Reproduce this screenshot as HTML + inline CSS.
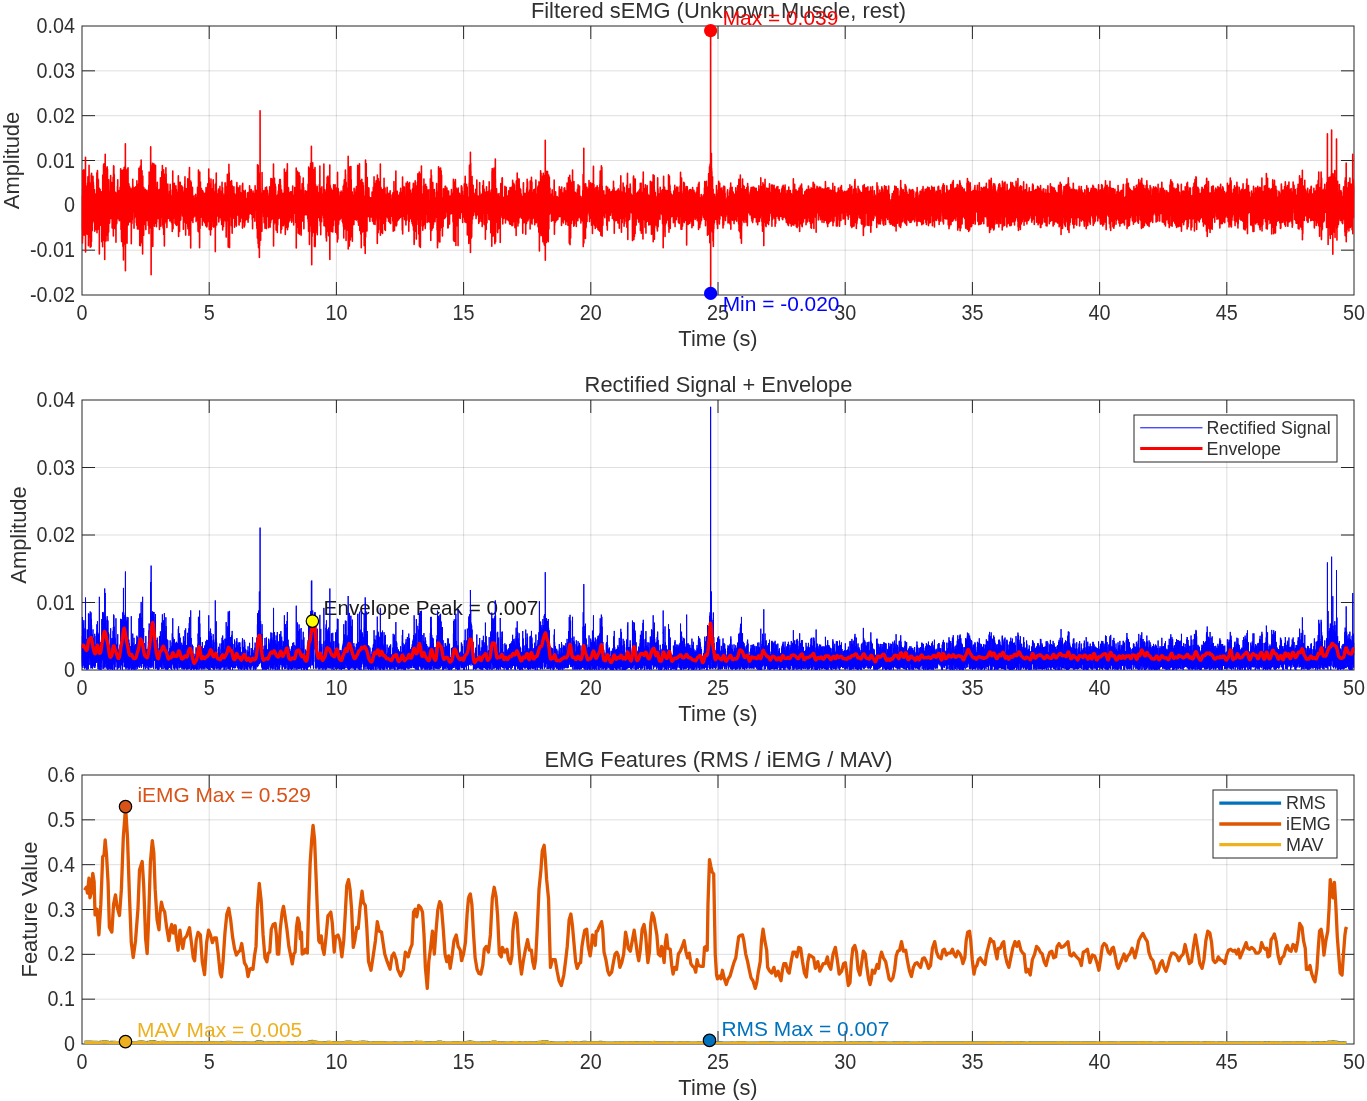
<!DOCTYPE html>
<html lang="en"><head><meta charset="utf-8"><title>sEMG analysis</title>
<style>html,body{margin:0;padding:0;background:#fff}svg{display:block}</style></head>
<body>
<svg width="1367" height="1101" viewBox="0 0 1367 1101" font-family="'Liberation Sans', sans-serif">
<rect width="1367" height="1101" fill="#fff"/>
<defs><clipPath id="c1"><rect x="81.5" y="26" width="1273" height="269"/></clipPath><clipPath id="c2"><rect x="81.5" y="400" width="1273" height="270"/></clipPath><clipPath id="c3"><rect x="81.5" y="775" width="1273" height="269"/></clipPath></defs>
<g id="ax1">
<path d="M209.2 26V295M336.4 26V295M463.6 26V295M590.8 26V295M718 26V295M845.2 26V295M972.4 26V295M1099.6 26V295M1226.8 26V295M82 250.17H1354M82 205.33H1354M82 160.5H1354M82 115.67H1354M82 70.83H1354" stroke="#262626" stroke-opacity="0.15" stroke-width="1" fill="none"/>
<path d="M209.2 295V282M209.2 26V39M336.4 295V282M336.4 26V39M463.6 295V282M463.6 26V39M590.8 295V282M590.8 26V39M718 295V282M718 26V39M845.2 295V282M845.2 26V39M972.4 295V282M972.4 26V39M1099.6 295V282M1099.6 26V39M1226.8 295V282M1226.8 26V39M82 250.17H95M1354 250.17H1341M82 205.33H95M1354 205.33H1341M82 160.5H95M1354 160.5H1341M82 115.67H95M1354 115.67H1341M82 70.83H95M1354 70.83H1341" stroke="#262626" stroke-width="1" fill="none"/>
<rect x="82" y="26" width="1272" height="269" fill="none" stroke="#262626" stroke-width="1"/>
</g>
<g id="ax2">
<path d="M209.2 400V670M336.4 400V670M463.6 400V670M590.8 400V670M718 400V670M845.2 400V670M972.4 400V670M1099.6 400V670M1226.8 400V670M82 602.5H1354M82 535H1354M82 467.5H1354" stroke="#262626" stroke-opacity="0.15" stroke-width="1" fill="none"/>
<path d="M209.2 670V657M209.2 400V413M336.4 670V657M336.4 400V413M463.6 670V657M463.6 400V413M590.8 670V657M590.8 400V413M718 670V657M718 400V413M845.2 670V657M845.2 400V413M972.4 670V657M972.4 400V413M1099.6 670V657M1099.6 400V413M1226.8 670V657M1226.8 400V413M82 602.5H95M1354 602.5H1341M82 535H95M1354 535H1341M82 467.5H95M1354 467.5H1341" stroke="#262626" stroke-width="1" fill="none"/>
<rect x="82" y="400" width="1272" height="270" fill="none" stroke="#262626" stroke-width="1"/>
</g>
<g id="ax3">
<path d="M209.2 775V1044M336.4 775V1044M463.6 775V1044M590.8 775V1044M718 775V1044M845.2 775V1044M972.4 775V1044M1099.6 775V1044M1226.8 775V1044M82 999.17H1354M82 954.33H1354M82 909.5H1354M82 864.67H1354M82 819.83H1354" stroke="#262626" stroke-opacity="0.15" stroke-width="1" fill="none"/>
<path d="M209.2 1044V1031M209.2 775V788M336.4 1044V1031M336.4 775V788M463.6 1044V1031M463.6 775V788M590.8 1044V1031M590.8 775V788M718 1044V1031M718 775V788M845.2 1044V1031M845.2 775V788M972.4 1044V1031M972.4 775V788M1099.6 1044V1031M1099.6 775V788M1226.8 1044V1031M1226.8 775V788M82 999.17H95M1354 999.17H1341M82 954.33H95M1354 954.33H1341M82 909.5H95M1354 909.5H1341M82 864.67H95M1354 864.67H1341M82 819.83H95M1354 819.83H1341" stroke="#262626" stroke-width="1" fill="none"/>
<rect x="82" y="775" width="1272" height="269" fill="none" stroke="#262626" stroke-width="1"/>
</g>
<g clip-path="url(#c1)"><path transform="translate(82 0) scale(0.063600 0.1)" vector-effect="non-scaling-stroke" d="M0 2297l1-336 1 118 1 150 1-121 1 133 1 190 1-337 1-207 1 504 1-571 1-115 1 385 1-127 1 76 1 82 1-212 1 288 1-113 1-308 1-49 1 251 1-35 1 279 1 20 1-252 1 245 1-36 1-415 1-86 1 34 1 99 1 299 1 203 1 18 1-247 1-211 1 193 1 194 1-159 1-139 1 62 1-172 1 84 1 113 1 134 1-66 1-288 1 71 1 117 1-65 1-10 1-40 1-9 1-2 1-339 1 948 1-288 1-89 1 53 1-21 1-175 1 70 1 2 1 165 1 11 1-216 1 114 1-88 1 115 1 103 1-22 1-109 1-170 1 193 1 2 1-310 1 112 1 210 1-116 1-14 1 107 1 184 1-251 1-27 1 47 1 106 1-269 1-117 1 8 1 136 1 5 1-136 1-78 1 105 1 159 1 97 1 97 1 104 1-227 1-43 1 398 1-132 1-460 1 122 1 390 1-115 1-342 1 9 1 182 1-345 1-113 1 219 1 48 1 1 1-6 1-95 1 14 1 133 1 180 1 93 1-85 1-313 1 10 1 161 1-13 1 18 1-67 1 252 1 269 1-160 1-44 1-361 1 22 1 181 1 196 1-160 1-15 1-190 1-106 1 266 1-37 1 401 1-4 1-576 1-134 1 184 1 104 1 276 1 101 1-247 1-436 1 497 1-74 1-252 1-39 1 236 1 122 1-126 1 106 1 105 1-14 1-145 1-145 1 18 1 21 1 106 1 81 1-299 1 20 1 123 1-155 1-122 1-34 1 116 1 145 1-7 1-15 1-179 1 25 1 63 1 80 1-139 1 357 1-40 1-226 1 191 1-229 1 14 1 163 1 102 1-158 1-58 1 140 1-40 1-107 1-64 1 64 1 173 1 38 1 140 1-86 1-202 1-62 1 76 1 52 1-153 1 5 1 9 1 26 1 114 1-140 1 133 1 151 1-63 1-11 1 20 1 5 1-230 1 1 1 41 1 235 1 63 1-325 1 165 1-154 1 125 1-1 1 54 1-53 1 91 1 12 1-419 1 144 1-208 1 157 1 444 1-159 1-58 1-277 1-47 1 18 1 49 1-148 1 30 1 158 1 245 1 156 1-178 1-245 1-85 1 312 1-39 1-99 1 254 1-139 1 202 1-106 1-375 1 207 1 114 1 114 1-25 1-178 1 70 1 7 1-25 1 14 1-39 1-45 1-68 1-5 1 120 1 481 1-655 1 237 1-43 1-121 1-16 1 23 1 168 1 1 1 63 1-35 1-256 1-9 1 50 1 108 1 131 1 31 1-104 1 26 1 41 1-206 1 183 1 97 1-79 1-81 1-21 1 123 1-73 1-67 1-42 1 165 1-64 1-113 1 125 1 8 1 1 1-217 1 414 1 85 1-66 1-83 1-72 1-15 1-196 1 248 1 85 1-135 1 134 1-187 1-190 1 213 1 314 1-528 1-188 1 143 1 86 1 65 1-184 1 83 1 256 1-230 1-29 1 262 1 137 1-412 1-155 1-124 1 265 1 369 1-222 1-324 1 56 1 92 1-247 1 325 1 443 1-38 1-141 1-222 1-272 1 78 1-73 1 298 1-306 1 865 1-700 1 219 1-3 1-118 1-63 1-100 1 167 1-455 1 470 1 252 1 82 1 43 1-164 1-546 1 8 1 439 1 131 1-297 1 73 1 344 1 33 1-84 1-15 1-268 1-71 1 311 1-13 1-4 1 54 1 33 1-428 1 10 1 47 1-135 1 183 1-28 1-106 1 53 1-280 1 101 1 294 1-108 1-265 1 7 1 335 1 219 1 24 1-17 1-203 1-225 1 576 1-101 1-83 1-173 1-214 1 254 1 102 1 16 1-132 1 143 1 102 1-112 1-241 1-170 1 106 1 279 1-60 1 19 1-81 1 93 1 3 1-81 1-74 1 27 1-92 1 21 1 273 1-159 1-47 1 129 1-242 1 154 1 56 1 6 1-178 1 51 1 50 1 136 1-199 1 87 1-52 1-148 1-38 1-81 1 308 1 27 1-79 1-9 1-75 1 55 1 132 1-8 1-182 1 152 1 37 1 30 1-145 1 151 1 38 1-101 1-38 1-206 1-17 1 236 1-133 1 115 1 236 1-5 1-158 1-128 1 253 1-81 1-107 1-66 1 60 1-94 1-68 1 302 1-259 1-45 1 33 1-143 1 318 1 85 1 55 1 128 1-243 1-170 1-202 1-88 1 248 1 308 1-471 1-79 1 194 1 365 1 3 1-177 1-208 1-97 1 114 1 194 1-1 1 45 1-22 1-11 1-75 1 291 1 7 1-152 1 117 1-53 1 63 1 18 1-97 1-51 1 39 1-236 1-11 1 58 1 4 1 152 1 90 1-214 1 21 1 256 1 134 1-199 1-67 1-24 1 6 1 9 1-39 1 99 1-70 1-182 1-22 1 241 1 61 1-18 1-72 1-151 1-9 1 187 1-34 1-160 1 72 1-107 1 74 1-22 1-132 1 179 1 96 1-119 1-222 1 242 1 56 1-103 1 85 1 85 1-8 1-44 1 76 1-205 1 85 1 81 1-24 1-12 1-47 1 50 1 3 1-194 1-16 1 119 1-29 1 72 1 0 1 78 1 59 1-25 1-195 1-27 1 20 1 24 1 2 1-24 1-52 1 47 1 176 1 48 1-225 1-104 1 59 1 249 1-194 1-103 1 154 1 20 1 51 1-270 1-150 1 375 1 134 1-174 1-182 1 453 1-163 1-366 1 191 1 133 1-209 1 16 1 346 1 138 1 7 1 29 1-190 1-65 1-53 1-173 1-230 1 117 1 531 1-341 1-78 1-87 1 158 1 46 1-3 1 37 1-315 1 262 1 91 1-152 1 157 1 332 1-125 1 133 1-44 1 5 1-428 1-297 1 50 1-59 1 904 1-830 1 160 1-133 1 667 1-57 1-85 1-172 1 297 1-223 1-547 1 9 1 389 1-376 1 267 1-58 1 20 1 149 1 23 1-9 1-321 1-75 1 0 1-13 1 61 1 82 1-164 1 226 1 415 1-141 1-723 1 1270 1-598 1 196 1-26 1-297 1 38 1 52 1-248 1 233 1 343 1-184 1-242 1 423 1-243 1-112 1 143 1 76 1-79 1-286 1-66 1-7 1 212 1-214 1-118 1 223 1 506 1-145 1-595 1 166 1 319 1-250 1 75 1 35 1-157 1 356 1-41 1-360 1 152 1-12 1 7 1-122 1-183 1 375 1 198 1-243 1 119 1 97 1-54 1-46 1 52 1-112 1-177 1-28 1 19 1-40 1 316 1 30 1-146 1-65 1 249 1-275 1 80 1 59 1-140 1-81 1 194 1 107 1-117 1-87 1-46 1 87 1 129 1 85 1-247 1 114 1-18 1-79 1-21 1-36 1-45 1 91 1 38 1 207 1-50 1-20 1-7 1-230 1 25 1-47 1 99 1 24 1 63 1 360 1-99 1-183 1-103 1-13 1 29 1-124 1-19 1 130 1-86 1 267 1-27 1-122 1-159 1 101 1 170 1-85 1-237 1 81 1 122 1 6 1-26 1-159 1-108 1 86 1 153 1-174 1 57 1 121 1 53 1 26 1-71 1 26 1-57 1-15 1-47 1 106 1 53 1-77 1-15 1 14 1-130 1 189 1 192 1-187 1-67 1-108 1 45 1 217 1-287 1-17 1 194 1 87 1-120 1 49 1-36 1-118 1 179 1 54 1-143 1-117 1-7 1 142 1-81 1 53 1 65 1-48 1 81 1-208 1-37 1 115 1 107 1 74 1-89 1-89 1 64 1 38 1-73 1 12 1 197 1-130 1-100 1-13 1 97 1 156 1 18 1-158 1-222 1-64 1 105 1 239 1-5 1-115 1-41 1 25 1-94 1 140 1 227 1-33 1-20 1-372 1 44 1 332 1-158 1-223 1 102 1 54 1-140 1-5 1 247 1-92 1-174 1 63 1-45 1-28 1 188 1 81 1-170 1 147 1-178 1-225 1 608 1-39 1-76 1 75 1-156 1-28 1-107 1-44 1 15 1 259 1 63 1-525 1 726 1-464 1-66 1-140 1 562 1 92 1-560 1-35 1-180 1 488 1 306 1-37 1-413 1-257 1 237 1 188 1 19 1-115 1 249 1-79 1-136 1 164 1-677 1 162 1 195 1 81 1-272 1-28 1 191 1-113 1 404 1 205 1-142 1-140 1-44 1-351 1-41 1 167 1 131 1 201 1-108 1 169 1-328 1 47 1 20 1 532 1-579 1-98 1-102 1 118 1 414 1 4 1-11 1-364 1 86 1 201 1-176 1-68 1 5 1 114 1 250 1-8 1 28 1-295 1-183 1 160 1-19 1-46 1-7 1 13 1-13 1 48 1 158 1 77 1-166 1-116 1 209 1-35 1-38 1 26 1 111 1-117 1-102 1-32 1-66 1-12 1-15 1 67 1 64 1 63 1-45 1 5 1 103 1-135 1-79 1 299 1 61 1-120 1 9 1-171 1-37 1 22 1-52 1-42 1 99 1 5 1-15 1-28 1 0 1-40 1 12 1 129 1 0 1 87 1-68 1-182 1 119 1 181 1-55 1-41 1-24 1 23 1-25 1 67 1-191 1 18 1 35 1-82 1 89 1-7 1 36 1 75 1-17 1-100 1 173 1 77 1-4 1-56 1-263 1 23 1 146 1-46 1-203 1 214 1-115 1 345 1 40 1-438 1-177 1 144 1 228 1-128 1 67 1-176 1-54 1 49 1 243 1-112 1 15 1 104 1 26 1-29 1-115 1-103 1-47 1-109 1 27 1 90 1 187 1 138 1 115 1-345 1-467 1 500 1 71 1-150 1 134 1-11 1-320 1 1054 1-568 1 140 1-339 1-58 1 246 1 156 1-195 1 120 1-572 1 103 1 315 1-26 1 394 1-26 1-126 1-232 1 234 1-512 1-151 1 84 1-63 1 242 1-279 1 49 1 704 1 77 1-164 1-451 1 55 1-205 1 160 1 94 1-113 1 300 1-48 1-192 1-145 1-114 1-1 1 422 1-118 1-268 1 181 1-7 1-93 1-117 1 197 1 65 1 12 1 74 1 160 1 12 1 102 1-88 1-241 1-77 1-38 1 142 1-215 1 201 1-32 1-56 1 264 1 111 1-263 1-33 1 44 1-297 1-30 1 299 1-53 1 160 1 59 1-136 1 134 1-4 1-49 1-25 1 196 1-290 1-30 1 57 1 155 1 140 1-132 1-59 1-95 1 121 1 121 1-154 1-140 1-51 1 95 1 32 1 106 1-173 1-115 1 29 1 285 1-88 1 13 1-26 1-68 1-73 1 94 1 94 1 61 1 40 1-129 1 33 1-53 1 8 1 59 1-104 1-53 1 139 1 21 1-51 1-69 1 90 1 45 1-43 1-81 1-58 1 107 1-141 1-6 1 198 1 146 1-49 1 102 1-123 1-199 1-80 1 12 1 306 1-22 1-204 1 221 1 32 1-208 1-33 1 260 1-28 1-148 1-303 1 160 1 258 1-110 1-113 1-36 1-140 1 136 1 330 1-109 1-118 1-118 1-57 1 210 1-66 1-126 1 114 1-60 1 14 1 60 1 40 1-98 1-234 1 106 1 352 1-3 1-28 1-97 1-12 1-303 1 1 1-76 1 307 1 195 1-445 1 407 1 64 1 69 1-305 1 165 1 76 1-97 1 189 1-439 1 26 1-39 1 170 1 282 1-149 1-135 1-297 1 242 1 403 1-57 1-226 1-157 1 223 1 95 1-261 1-220 1 284 1 65 1 370 1-54 1-336 1-73 1 78 1-245 1 114 1 292 1-130 1-115 1 185 1-177 1-224 1 211 1 216 1-66 1-284 1 158 1 208 1-2 1-155 1-72 1 61 1-175 1-198 1 254 1 18 1-22 1-187 1 185 1 229 1-96 1 156 1-56 1-172 1 166 1-28 1-266 1 138 1 179 1 100 1-80 1 23 1-128 1-215 1 48 1 167 1-57 1 22 1 118 1-24 1-96 1 17 1-52 1-178 1 41 1 79 1 106 1-84 1-17 1 0 1 97 1 4 1 119 1-30 1-41 1 25 1-158 1 106 1 41 1-61 1-45 1-61 1 154 1 42 1-34 1-96 1-77 1 87 1 82 1 40 1-90 1-156 1 31 1 149 1 66 1-14 1 65 1-228 1-34 1 133 1-239 1 26 1 12 1 53 1-11 1 56 1 108 1-56 1-76 1-53 1 70 1 92 1 36 1-56 1 42 1 34 1-106 1-53 1 1 1 132 1 132 1-117 1-83 1 57 1-28 1-93 1 58 1 1 1 105 1 23 1 11 1 92 1-151 1 215 1-79 1-269 1-14 1 243 1-73 1 89 1 21 1-523 1 258 1-34 1 159 1 194 1-66 1-241 1-65 1 16 1 78 1 60 1 7 1-234 1 45 1 11 1 73 1-43 1 149 1 102 1-133 1 46 1 39 1-36 1 21 1-192 1-91 1 304 1-202 1-1 1 122 1 13 1-103 1-48 1 143 1 24 1 147 1-336 1 120 1 196 1-26 1-101 1-142 1 93 1 35 1 17 1-163 1-4 1 321 1-251 1-78 1-55 1 130 1 153 1-42 1 103 1-31 1-228 1-48 1 359 1-189 1-146 1 2 1 57 1 40 1 6 1 12 1 126 1-166 1-48 1 34 1-10 1 87 1 20 1 144 1-108 1-123 1 63 1 192 1-239 1-37 1 91 1 30 1 49 1-4 1 62 1-3 1-353 1-73 1-11 1 220 1 306 1-6 1 86 1-260 1-286 1 108 1 57 1-16 1 67 1-62 1 139 1 69 1-84 1 143 1 11 1-185 1-95 1 344 1-187 1-212 1 0 1 78 1-24 1 205 1 2 1 13 1-21 1-217 1-129 1 110 1 160 1-101 1-32 1-89 1 40 1 290 1-46 1-84 1 64 1-54 1-46 1 40 1-124 1 1 1 45 1 19 1-73 1 139 1-80 1 5 1-77 1-71 1 76 1 127 1-14 1-37 1 124 1-4 1-25 1-117 1-83 1 123 1 85 1 46 1-69 1-126 1-92 1 194 1-33 1-19 1 102 1 5 1 27 1-100 1-34 1-95 1 105 1 262 1 6 1-213 1 101 1 18 1-157 1 97 1-92 1-81 1 124 1-1 1 19 1 15 1-7 1-46 1-12 1 66 1 64 1-287 1 134 1 107 1-228 1-68 1 219 1-209 1-87 1 191 1 264 1-161 1-39 1 75 1 68 1-1 1-96 1-127 1 267 1 141 1-251 1-21 1-52 1-35 1-67 1-40 1 135 1 69 1-69 1-92 1 142 1 162 1-100 1-84 1 19 1 75 1-93 1 126 1 21 1-247 1 137 1-9 1-111 1-1 1 239 1-156 1-85 1 7 1 4 1 42 1-136 1-92 1 394 1 86 1-143 1 163 1-259 1 5 1 0 1-76 1 101 1 165 1-29 1-128 1-175 1 102 1 144 1-11 1-272 1 9 1 271 1 218 1-80 1-6 1-38 1-413 1-98 1 189 1 23 1-254 1 387 1 22 1-51 1 7 1-24 1 71 1-99 1 305 1-88 1-291 1 219 1 128 1-398 1 147 1 163 1 22 1 22 1-2 1 263 1-669 1 92 1 152 1-38 1-161 1 1 1-3 1-28 1 44 1 112 1-40 1 215 1-101 1-135 1 56 1 185 1-174 1 47 1-12 1 182 1-19 1-58 1 31 1-2 1-217 1 29 1 55 1-150 1 190 1-75 1 12 1 128 1-3 1 85 1 15 1-39 1-54 1-108 1-65 1 75 1 8 1-29 1 36 1-3 1 31 1-39 1 6 1 14 1-26 1-3 1 69 1 71 1-55 1-25 1 15 1-28 1 24 1-51 1-46 1 97 1-36 1 41 1-65 1-57 1 47 1-35 1-40 1 35 1 156 1-31 1-82 1-39 1 89 1-38 1-41 1 8 1 107 1 43 1-155 1-63 1 78 1-50 1 3 1 100 1 141 1-170 1-40 1 32 1 168 1-8 1-143 1 4 1 68 1 45 1-84 1-16 1 20 1-4 1 21 1-5 1 8 1-32 1 71 1 49 1-94 1-41 1-16 1-171 1-5 1 33 1 44 1 91 1 97 1 112 1 6 1 57 1-27 1-22 1-12 1-127 1-24 1-401 1 194 1-23 1 29 1 65 1 130 1-58 1 14 1 47 1-80 1 141 1 169 1-195 1-298 1-39 1-38 1 170 1 375 1 175 1-116 1-503 1-138 1 340 1 122 1 9 1 92 1-89 1-72 1-54 1-63 1-80 1-106 1 137 1 130 1-20 1-61 1 33 1 128 1-1 1-159 1 120 1-101 1 145 1-90 1-143 1 98 1 33 1 10 1-193 1 113 1 139 1-80 1-108 1 24 1 75 1-65 1 80 1 84 1 27 1-161 1 165 1 74 1-152 1-97 1-97 1 50 1 112 1-93 1-60 1-4 1-1 1 54 1 178 1 42 1-234 1 6 1 236 1-53 1-172 1 8 1 58 1 176 1-52 1-96 1-128 1 40 1 84 1 39 1-5 1-57 1 52 1 64 1 38 1-85 1-28 1 20 1 89 1-6 1 49 1-159 1-136 1 49 1 64 1-22 1 112 1 41 1-146 1 46 1 19 1 4 1 114 1-22 1-165 1-86 1 228 1 89 1-94 1-158 1-80 1-32 1-19 1 134 1 142 1-121 1 1 1 34 1 19 1 22 1-112 1 112 1 163 1-62 1-123 1-6 1 8 1 170 1 8 1-267 1 6 1 142 1-171 1 71 1-33 1-26 1 17 1-60 1-104 1 12 1 217 1 146 1-60 1-62 1-86 1 9 1 24 1 161 1-44 1-148 1-141 1 18 1 118 1 177 1-490 1 372 1 18 1-26 1-82 1-16 1-179 1 240 1 279 1-166 1 60 1 2 1-96 1 86 1-158 1-113 1 73 1-15 1-88 1 152 1-32 1-16 1 70 1 86 1-300 1 4 1 415 1-139 1 228 1-112 1-296 1-104 1 78 1 237 1-288 1-74 1 52 1 160 1 6 1 222 1-93 1 110 1 48 1-18 1-240 1-130 1 161 1-103 1 13 1 261 1-24 1 49 1-83 1-164 1 110 1-103 1-134 1 209 1-35 1-26 1 66 1-199 1 127 1 118 1-53 1-95 1-55 1 166 1-130 1-154 1-31 1 120 1 192 1 99 1-114 1-45 1 22 1 48 1 151 1-54 1-115 1 20 1 130 1-67 1-84 1 91 1-126 1-41 1 25 1-39 1 53 1 22 1-75 1-71 1-17 1 102 1-28 1-87 1 228 1 67 1-107 1-34 1-221 1 673 1-520 1 88 1 137 1 55 1-323 1 234 1-75 1-12 1 56 1-53 1-274 1 50 1 93 1-57 1-185 1 274 1 109 1 106 1-185 1 96 1 120 1-204 1-23 1-25 1-19 1 70 1-104 1 56 1-60 1 93 1 129 1-19 1-76 1 61 1 22 1-178 1-2 1-20 1 14 1 118 1 55 1-63 1-36 1 54 1 27 1-155 1-63 1 74 1 90 1 39 1-199 1 90 1-106 1 96 1 233 1-270 1 7 1-22 1 12 1 105 1-50 1 33 1 3 1 8 1 135 1-73 1-31 1 13 1-62 1 122 1-66 1-114 1-105 1 29 1 89 1 107 1-1 1 86 1-82 1-42 1 50 1-27 1-63 1-14 1 171 1-182 1-24 1 51 1 20 1 133 1-71 1-5 1 114 1-90 1-169 1-32 1 66 1 154 1 24 1-55 1 144 1-181 1-77 1 225 1-234 1-155 1 248 1 90 1 10 1-148 1 157 1-74 1-146 1-82 1 342 1 80 1-150 1-195 1 24 1-22 1-21 1 207 1-5 1-19 1 12 1 61 1-160 1-71 1 304 1-157 1-34 1 161 1-206 1-34 1 32 1 25 1 18 1 139 1-121 1 0 1 12 1-34 1 83 1 48 1-67 1-182 1 101 1 106 1-71 1 27 1-151 1-23 1-106 1 64 1-66 1 148 1 95 1 75 1 9 1-46 1-94 1-116 1 96 1 216 1-68 1-68 1 46 1-130 1-125 1 188 1 316 1-80 1-53 1-227 1 77 1-65 1-63 1 4 1 1 1 58 1-52 1-76 1 47 1 87 1-111 1-93 1 190 1-22 1-21 1-230 1 163 1 245 1 55 1-210 1 121 1-75 1 20 1-152 1-123 1 15 1 407 1 169 1 94 1-578 1-16 1 306 1-105 1-153 1 107 1 32 1-28 1 219 1-397 1-214 1 240 1 175 1-293 1-39 1 123 1 106 1 92 1-20 1 310 1 138 1-288 1-163 1-26 1-8 1-46 1 15 1 82 1-40 1 91 1-197 1 159 1 109 1-220 1 70 1-61 1-134 1 21 1 194 1-209 1-7 1 321 1-302 1 27 1 82 1-66 1 151 1-77 1 184 1 119 1-101 1-350 1 3 1 30 1 158 1 6 1 241 1-28 1-221 1 77 1 241 1 20 1-258 1-216 1 128 1-79 1 162 1-17 1-86 1-39 1 200 1-104 1-68 1 170 1 16 1-51 1-68 1 93 1 65 1-93 1-49 1-53 1-77 1 268 1-18 1-129 1 0 1 117 1-107 1-171 1 95 1 175 1-127 1-12 1 36 1-17 1 66 1-7 1 45 1 149 1-207 1-116 1 90 1-99 1 59 1-30 1-22 1 87 1 122 1-82 1-65 1-51 1 161 1 6 1-85 1-28 1 13 1-6 1 195 1-26 1-64 1 87 1-85 1-44 1 100 1 69 1-147 1 157 1-42 1-48 1-64 1-238 1 1 1 124 1-81 1-87 1 38 1-9 1 63 1 55 1 46 1 77 1-24 1 59 1-26 1-229 1 15 1 138 1-109 1-46 1 193 1 78 1-192 1 6 1 70 1 55 1 70 1-146 1 52 1-15 1-148 1 32 1 112 1-33 1-29 1 80 1-8 1 93 1 104 1-57 1 60 1-34 1-110 1-67 1-163 1 157 1 118 1-18 1 47 1-266 1 94 1 107 1-32 1-227 1 101 1 168 1-135 1 56 1 170 1-155 1-105 1 149 1 62 1-68 1 14 1 58 1 7 1-192 1-59 1 154 1 24 1-51 1 19 1-2 1-115 1 76 1 85 1-32 1 16 1 12 1-8 1 50 1-146 1 45 1-69 1 79 1 118 1-96 1-15 1-74 1-47 1-101 1 353 1 78 1-155 1-39 1-7 1-246 1 300 1 1 1-92 1 34 1-117 1 46 1-15 1-75 1-11 1 261 1 53 1-1 1-29 1-74 1-200 1 99 1 99 1-22 1-130 1 75 1 17 1-92 1 3 1 250 1 55 1-188 1 129 1-1 1 19 1-101 1-77 1 204 1-30 1 3 1-19 1-237 1-4 1 53 1-118 1 64 1-36 1 27 1 64 1 72 1 68 1 40 1-1 1-126 1-66 1 117 1-119 1 54 1 56 1 35 1-6 1-103 1-33 1 80 1-79 1 7 1 47 1-78 1-1 1 86 1 90 1-142 1 143 1 18 1 14 1-27 1-135 1 22 1 51 1-21 1-126 1-30 1 70 1 101 1 23 1-63 1 13 1 20 1 73 1 58 1-19 1-104 1 21 1-188 1-5 1 71 1-33 1 131 1 84 1-56 1-96 1-28 1-63 1-18 1 14 1 1 1 48 1-12 1 64 1 68 1-110 1 147 1-122 1-159 1 134 1 13 1-14 1 123 1-51 1-72 1-43 1 71 1 28 1 46 1-117 1 16 1-26 1 89 1 11 1 38 1 29 1-136 1 15 1 45 1-59 1 71 1-119 1 62 1 97 1-214 1 180 1-92 1-57 1 51 1 133 1-27 1 60 1-121 1-9 1 102 1 1 1-35 1-118 1-10 1 144 1 80 1 22 1-175 1-87 1 203 1 146 1-133 1-35 1-98 1 3 1-8 1-64 1-42 1 100 1-17 1 69 1 110 1-79 1-137 1-26 1 63 1 178 1-66 1-52 1-40 1-77 1 99 1 89 1 0 1 7 1 44 1-86 1 19 1 18 1-24 1 28 1-100 1 35 1 28 1-122 1 51 1 190 1-19 1-56 1-118 1-161 1 90 1 110 1-131 1 112 1 29 1-75 1 42 1 40 1-24 1-133 1 11 1 148 1-15 1-89 1-70 1 31 1 77 1-69 1-16 1 73 1 108 1-21 1-118 1 134 1 155 1-156 1 77 1 107 1-99 1-77 1-35 1-41 1-65 1 60 1 197 1 154 1-198 1-533 1 146 1 193 1 296 1-195 1-62 1 365 1-364 1 284 1 124 1-781 1 359 1 156 1-409 1 144 1 568 1 5 1-275 1 233 1-495 1-147 1 43 1 74 1 45 1 166 1 347 1-334 1-157 1-238 1 836 1-363 1-481 1 363 1 364 1-266 1-462 1 398 1 108 1-103 1 104 1-1130 1 753 1 39 1 454 1-12 1-210 1 170 1 28 1-122 1 196 1-413 1 180 1 63 1-130 1 78 1-217 1 12 1 198 1-176 1-67 1 222 1 137 1-214 1-41 1 179 1-100 1 84 1 51 1-42 1 105 1-181 1-405 1 96 1 168 1 84 1 18 1-43 1-44 1 72 1 13 1-8 1-47 1-68 1-28 1 109 1 74 1-92 1 21 1 50 1-70 1-37 1-64 1 169 1-75 1 17 1-21 1 140 1 7 1-21 1-240 1 142 1-54 1 79 1 154 1-127 1-164 1 63 1-3 1-3 1 56 1-136 1 61 1-15 1 166 1 23 1-166 1 64 1 236 1-172 1-167 1 105 1 15 1 28 1-61 1-153 1 46 1 118 1 75 1-14 1 8 1-119 1 102 1 64 1-105 1-48 1 4 1 71 1-22 1 130 1 99 1-6 1-179 1-230 1 135 1 125 1-21 1-186 1 11 1 94 1 64 1-59 1-117 1 55 1 130 1-111 1-1 1-84 1 140 1 63 1-75 1 131 1-47 1-119 1 29 1-7 1-5 1 92 1-81 1 50 1 46 1 17 1-112 1 30 1 74 1 145 1-49 1-267 1 244 1-58 1-121 1 223 1-23 1-265 1 29 1 23 1-79 1 84 1-35 1 140 1 66 1-225 1-96 1 37 1 232 1 28 1-7 1-262 1 175 1 200 1-95 1-125 1 33 1 21 1-67 1-7 1 155 1 42 1-256 1-31 1-79 1-77 1 58 1 108 1-85 1 123 1-161 1 15 1 85 1 114 1 95 1-27 1 2 1 55 1 29 1-112 1-187 1-109 1 72 1 139 1-27 1-132 1 79 1 3 1 14 1 68 1 73 1-69 1 60 1 86 1-97 1-118 1-23 1 2 1 96 1 48 1-109 1-133 1 367 1-111 1-172 1 113 1-376 1 819 1-238 1-134 1 47 1-6 1 119 1-257 1-157 1 292 1-64 1-14 1 121 1-78 1-164 1-144 1 82 1-21 1 9 1 55 1-37 1 254 1 49 1-275 1 188 1 140 1-387 1 177 1 86 1-127 1 77 1-114 1-76 1 198 1-189 1 138 1 149 1-65 1-70 1 141 1-70 1 206 1-28 1-71 1 2 1-85 1-94 1 114 1-33 1 129 1-29 1-238 1 106 1 67 1-59 1-124 1 1 1 93 1 140 1-91 1 224 1-136 1-82 1-66 1-10 1-84 1 97 1 206 1-79 1-62 1-14 1-137 1 120 1-30 1-100 1-38 1 266 1-17 1-41 1-3 1 20 1-7 1-136 1-144 1 45 1 254 1-142 1 114 1 66 1-219 1 86 1-28 1 21 1 123 1-65 1 1 1-198 1-103 1-7 1 275 1-180 1-8 1 90 1 20 1 127 1-29 1-155 1-141 1 77 1 143 1 110 1 17 1-280 1-10 1 123 1 271 1 85 1-220 1-185 1-17 1 60 1 140 1 126 1-16 1 31 1-104 1-145 1-100 1 273 1 117 1-204 1-102 1 267 1 11 1-159 1-4 1-55 1-12 1 99 1-75 1-12 1-89 1 173 1 26 1-19 1-11 1-89 1-62 1 251 1-150 1-141 1 34 1 50 1-62 1 6 1 265 1 30 1-112 1-14 1 18 1-129 1 139 1 81 1-12 1-93 1-121 1 121 1-54 1 25 1-166 1 295 1-545 1 243 1 93 1 176 1 37 1-179 1 34 1-121 1 1 1 165 1 27 1-132 1-180 1 243 1 212 1 35 1-244 1-374 1 230 1 40 1 65 1-111 1 267 1-108 1 96 1 71 1-191 1-19 1 32 1-109 1-16 1-154 1-17 1 334 1 40 1 6 1 40 1-472 1 250 1-98 1-198 1 53 1 56 1 204 1-27 1 97 1-270 1-178 1 590 1 68 1-391 1 196 1 130 1-123 1-53 1 26 1 4 1-214 1 323 1 75 1-56 1-114 1-15 1-46 1-7 1-155 1 174 1 114 1-161 1 39 1 23 1 155 1-139 1-55 1-18 1 103 1 52 1 13 1-241 1 202 1-14 1-115 1-79 1 26 1 200 1-84 1 133 1-147 1-51 1 133 1 10 1-117 1 146 1-186 1 39 1-64 1-3 1-48 1 149 1-19 1-30 1 109 1-113 1 18 1 130 1-26 1 23 1-26 1-51 1-118 1 43 1 129 1-101 1 19 1 122 1 47 1-260 1 6 1-52 1 147 1 150 1-253 1 28 1 106 1-2 1 75 1-141 1 92 1-58 1 59 1-248 1-11 1 71 1 214 1-34 1-17 1 54 1 17 1-130 1-17 1 79 1 30 1 1 1-2 1-19 1 59 1 24 1 60 1-79 1-155 1 58 1-107 1 90 1 41 1-142 1 18 1 151 1-50 1 6 1-100 1-41 1 99 1-14 1-150 1 6 1 50 1 103 1 74 1 25 1-114 1 73 1-14 1-148 1 180 1 3 1 25 1-7 1-116 1 104 1 105 1-46 1-112 1 27 1 102 1-145 1 95 1-465 1 800 1-663 1 147 1 152 1 91 1 23 1 45 1-158 1 15 1 90 1-218 1 169 1-116 1-44 1 187 1-51 1-36 1-71 1 29 1-296 1-61 1 84 1 352 1 69 1-305 1-40 1 133 1 66 1-137 1 303 1 92 1-39 1-272 1 132 1 46 1-288 1 79 1 57 1-14 1-68 1-187 1 264 1 110 1-294 1-129 1 177 1-1 1-34 1 63 1 249 1 161 1-182 1-99 1 16 1 134 1-258 1 2 1-194 1 117 1 149 1-86 1 102 1 149 1-16 1-89 1 16 1-197 1 77 1 24 1-85 1 65 1 171 1-89 1-167 1 51 1 81 1 318 1-15 1-164 1-131 1-108 1 98 1 23 1 123 1-126 1-150 1 112 1-69 1 76 1 113 1-12 1-286 1 267 1 38 1-58 1-18 1 145 1-139 1-156 1 120 1 91 1-49 1-137 1 225 1-181 1-9 1-10 1 127 1-240 1-10 1-63 1 204 1 215 1-256 1-53 1 70 1-84 1 43 1 137 1 172 1 59 1-177 1-142 1 125 1-45 1-10 1 17 1-94 1 184 1-39 1-142 1 71 1 5 1 109 1-47 1-125 1-35 1 124 1-55 1-23 1 2 1 28 1-17 1 7 1-101 1 74 1 6 1 17 1 140 1-68 1-132 1 6 1 25 1 95 1-10 1 49 1-114 1-79 1 140 1 52 1 30 1 10 1-41 1 30 1-4 1-110 1 19 1-27 1 18 1 16 1 81 1-95 1 58 1 26 1 29 1-80 1 30 1-44 1-143 1 40 1 237 1-108 1-101 1-2 1-12 1-104 1-20 1 123 1 255 1-57 1-223 1 301 1-42 1 114 1-277 1-365 1 52 1 300 1-74 1-214 1-42 1 40 1-48 1 420 1 101 1-271 1 27 1 484 1-117 1-122 1-129 1-134 1 323 1 54 1-231 1 120 1-54 1 34 1 74 1-312 1 25 1 171 1-342 1 122 1 150 1-35 1-409 1 46 1 171 1 166 1-85 1-165 1 361 1-41 1-351 1-75 1 146 1-146 1-197 1 442 1-108 1 393 1-242 1 700 1-270 1-228 1 184 1-422 1 49 1 403 1-217 1-157 1 298 1 40 1-453 1-204 1 629 1-281 1-391 1 50 1 278 1 372 1-154 1 43 1-28 1 28 1-35 1 6 1-103 1-115 1 93 1 137 1-503 1 53 1 6 1 415 1-176 1-37 1-95 1-28 1-117 1 6 1 597 1-452 1-135 1 1 1 729 1-111 1 36 1 53 1-205 1-376 1-134 1-49 1 228 1-231 1 78 1 713 1-60 1-186 1-154 1 22 1 63 1-306 1 194 1 288 1-189 1-183 1 69 1 39 1 60 1 107 1-35 1-13 1-175 1 4 1-84 1 61 1 169 1-61 1-68 1-112 1 255 1 36 1-164 1 66 1-16 1-14 1-146 1-69 1 340 1 144 1-95 1-134 1-41 1 43 1-97 1-100 1 67 1 90 1-10 1 60 1-103 1-77 1 141 1-112 1 9 1-2 1 23 1 65 1-74 1 106 1 22 1 46 1-99 1-27 1 49 1 17 1-90 1-27 1 62 1 45 1-174 1-86 1 233 1-80 1-79 1 66 1-5 1 229 1-399 1-150 1 205 1 183 1-21 1 127 1-125 1-26 1 255 1-3 1-47 1 15 1-49 1-184 1 80 1 277 1-370 1 34 1-126 1 7 1 78 1 157 1-16 1-16 1-6 1-69 1 46 1-59 1 129 1 81 1-142 1-82 1-49 1-77 1 52 1 28 1 37 1 39 1 34 1-7 1 51 1-1 1-105 1-14 1-41 1 95 1 75 1-73 1 63 1 50 1-101 1 1 1-35 1 0 1 66 1 65 1-132 1-7 1 116 1 49 1 6 1-50 1-135 1 76 1-428 1 388 1 229 1-21 1-179 1 95 1-86 1-50 1 141 1-144 1-10 1-32 1 10 1 129 1-94 1-119 1 22 1 168 1-20 1 46 1 40 1-169 1 138 1-200 1 150 1 195 1-190 1-35 1 72 1 100 1-162 1-77 1 100 1 148 1 131 1-143 1 167 1-58 1-275 1-104 1 137 1 330 1-204 1-307 1 97 1-93 1-61 1 417 1 6 1-86 1-289 1-116 1 174 1 24 1-111 1 252 1 67 1-71 1 41 1 28 1-102 1 173 1 64 1-248 1-239 1-65 1 399 1 24 1-19 1 49 1-52 1-120 1-74 1 377 1 12 1-386 1-3 1 307 1 47 1-78 1-238 1-230 1 316 1 14 1-22 1-64 1 49 1 212 1 0 1-42 1-291 1 117 1 2 1-415 1 944 1-504 1 20 1-179 1-81 1 260 1-15 1-233 1 266 1 106 1-322 1 162 1-8 1-24 1 23 1 137 1-34 1-33 1-236 1-18 1 133 1 64 1-92 1 264 1 61 1-27 1-22 1 52 1-168 1-44 1-136 1 36 1 134 1-81 1-56 1 84 1-49 1-132 1 142 1-95 1 53 1-22 1 37 1 126 1-68 1 116 1 127 1-132 1-80 1 116 1-291 1-29 1 219 1-51 1-79 1 87 1 40 1 135 1-89 1-293 1-23 1 44 1 180 1 122 1-141 1-58 1 85 1 41 1-121 1-31 1 110 1 19 1 73 1 26 1-121 1-1 1 63 1-48 1-122 1 113 1 68 1-33 1-247 1-22 1 140 1 205 1-108 1-102 1 80 1 106 1 17 1 136 1-75 1-75 1 68 1-38 1 114 1-254 1-48 1 250 1-179 1-154 1 189 1 204 1-113 1-183 1-73 1-60 1-16 1 339 1-28 1 152 1-225 1-168 1-38 1 92 1 89 1 82 1 246 1-70 1-585 1-41 1 286 1 52 1-62 1 129 1 6 1-94 1 350 1-326 1-161 1-18 1 105 1 95 1-82 1 91 1 99 1-219 1 60 1 207 1-169 1-121 1-35 1 101 1-51 1 49 1 162 1-27 1-92 1 106 1-13 1-93 1 36 1-9 1-20 1 62 1-49 1-67 1 164 1 21 1-162 1-39 1 193 1-59 1-170 1-2 1 21 1 60 1 22 1 67 1-28 1-174 1 42 1 171 1-74 1 114 1-197 1-71 1 143 1 49 1 34 1-49 1-35 1 113 1-110 1-12 1 101 1-104 1-64 1 92 1 66 1-132 1 37 1 22 1-111 1 135 1 128 1-23 1-44 1-61 1-114 1 72 1-122 1 25 1 282 1-51 1-191 1-85 1 161 1 47 1-246 1 40 1 244 1 115 1-46 1-175 1 137 1-224 1 91 1 334 1-230 1-183 1 130 1-258 1 185 1-34 1 84 1-275 1 92 1 156 1-113 1 68 1-33 1 75 1-85 1 19 1 154 1-118 1-84 1 231 1 21 1 107 1-112 1-260 1-216 1 93 1 78 1-127 1 68 1 442 1 37 1-252 1-75 1 38 1 177 1 224 1-226 1-354 1 183 1-11 1 89 1 55 1 41 1-224 1 178 1-7 1-248 1 69 1 324 1-163 1-71 1 262 1-81 1-104 1-142 1 95 1 12 1-135 1 336 1-208 1-111 1 234 1-82 1-211 1 155 1 109 1-244 1-145 1-217 1 928 1-294 1 95 1-78 1 34 1-170 1-297 1 326 1-215 1 162 1 225 1 91 1-300 1-87 1 72 1 400 1-32 1-362 1 401 1-469 1-217 1 51 1 157 1-65 1-177 1-73 1 299 1-145 1 193 1 113 1-37 1 24 1 284 1-126 1 2 1-67 1-203 1-12 1 52 1-240 1 8 1 34 1-182 1 185 1 152 1-161 1 150 1-193 1 194 1 182 1-88 1 31 1-46 1 72 1 225 1-281 1-106 1-57 1 250 1-131 1 171 1-296 1 3 1 192 1 292 1 8 1-178 1-84 1 10 1-19 1-155 1 47 1 75 1 45 1 66 1-136 1-9 1 47 1-77 1-18 1-45 1-31 1 171 1 60 1-167 1 23 1-15 1 68 1 150 1 5 1-53 1-75 1-234 1 9 1 62 1-2 1 176 1-13 1-61 1-133 1 97 1 147 1-55 1-52 1-9 1-20 1-1 1 52 1 17 1-173 1 72 1 39 1 64 1 96 1-142 1-69 1-48 1-15 1 37 1 131 1-174 1 22 1-48 1 13 1 29 1-9 1 28 1 66 1-151 1 113 1 222 1-123 1-13 1-98 1 11 1-58 1 21 1 147 1 0 1-100 1 53 1 78 1-39 1-73 1-114 1 5 1 17 1 62 1-157 1-168 1 258 1 119 1-25 1-34 1 51 1 118 1 83 1-40 1-133 1-171 1-11 1 153 1 112 1 121 1-212 1-107 1-1 1-64 1 2 1 99 1 93 1 126 1 27 1-218 1-346 1 203 1 159 1-376 1 117 1 303 1-13 1 8 1 252 1-236 1 149 1 38 1-116 1-148 1 29 1 98 1 72 1-115 1-9 1 101 1 137 1-4 1-190 1 230 1-127 1-199 1-209 1 247 1 248 1-120 1-42 1 338 1-347 1-236 1 118 1 179 1-104 1-13 1-236 1-8 1-37 1 329 1 203 1-90 1-34 1-327 1-30 1 340 1 4 1-361 1 112 1 55 1 283 1 37 1-159 1-28 1-33 1-93 1-173 1 422 1-9 1-305 1 19 1-99 1 109 1 185 1 93 1-252 1 201 1 98 1-167 1-162 1 91 1 192 1-181 1 157 1 114 1 122 1-191 1-238 1 325 1-57 1-301 1 148 1 255 1-154 1-249 1 267 1-156 1-88 1-50 1 176 1-113 1 505 1-619 1 65 1-93 1 109 1-396 1 669 1 100 1-162 1-82 1 1 1 3 1-82 1-13 1 139 1-172 1-366 1 373 1 237 1-219 1 119 1-170 1 111 1 219 1-9 1-294 1 240 1-36 1 102 1-169 1-179 1-2 1-184 1 157 1 3 1-9 1-14 1 150 1-87 1 29 1-98 1-27 1 106 1-5 1-18 1 33 1-118 1 111 1 176 1 0 1-58 1-55 1-63 1-43 1 22 1 42 1 91 1-105 1-114 1 94 1-1 1 72 1 16 1-38 1-56 1 135 1-11 1-120 1 12 1 3 1 187 1 26 1-90 1 0 1 104 1-152 1-77 1 153 1 1 1-82 1-58 1-11 1 88 1 36 1-58 1-64 1 50 1 53 1-59 1-15 1-42 1 5 1-3 1 139 1 51 1-4 1-39 1-74 1 1 1-22 1 43 1-49 1-36 1 118 1 32 1-27 1-87 1-44 1-61 1 163 1 17 1-55 1 27 1 4 1 134 1-83 1-50 1 106 1-178 1 39 1 27 1 31 1 112 1-34 1-126 1 76 1-61 1-196 1 6 1 143 1 119 1-127 1 126 1 100 1-294 1-26 1 63 1 67 1-201 1-80 1 131 1 71 1 57 1-9 1-102 1-44 1 124 1 23 1-187 1 29 1 6 1 30 1 117 1 137 1 44 1 49 1-27 1-45 1-156 1 142 1-62 1 110 1-317 1 48 1 119 1-219 1 95 1 101 1-29 1-60 1 109 1-198 1-49 1 136 1-42 1 61 1 147 1-25 1-97 1 194 1-14 1-157 1 122 1-56 1 79 1-57 1-70 1-33 1 115 1 239 1 85 1-684 1 171 1 367 1 19 1-323 1-118 1 31 1 217 1-113 1 58 1-117 1 6 1 379 1-92 1-77 1-370 1 229 1 231 1-117 1 104 1 62 1-153 1-166 1 103 1 46 1-56 1 121 1-13 1-114 1-204 1-44 1 89 1-27 1 202 1-120 1 53 1 84 1 15 1-111 1 80 1-55 1 25 1 80 1-90 1 78 1-143 1 77 1-413 1 711 1-214 1-84 1-73 1 60 1-16 1 141 1-246 1-48 1 63 1-31 1-25 1 60 1 217 1 112 1 54 1-93 1-271 1 210 1 79 1-245 1 62 1 92 1 159 1-146 1-18 1 77 1-39 1-139 1-153 1 264 1-63 1 76 1 161 1-75 1-152 1-39 1-40 1 213 1-195 1-151 1 36 1 251 1-73 1-30 1 36 1-36 1 107 1-136 1-129 1 26 1-63 1 270 1 48 1-78 1 107 1-178 1-271 1 223 1 60 1-53 1 24 1-2 1-75 1 129 1 74 1-276 1 44 1 128 1 235 1-160 1-188 1 39 1-105 1 286 1-74 1 84 1 63 1 65 1-205 1-75 1 92 1-33 1 133 1-10 1-130 1 23 1-5 1 74 1-35 1-48 1-21 1-121 1 41 1 122 1-43 1 61 1-127 1-6 1 76 1-38 1 110 1-9 1-38 1-189 1-31 1 2 1 99 1 84 1-92 1 114 1 98 1-190 1-22 1 44 1 153 1-18 1-35 1 18 1-55 1 39 1 64 1-196 1-32 1 178 1-164 1-16 1 72 1 196 1-138 1-76 1-9 1-56 1 137 1-72 1-42 1 65 1 162 1-165 1-62 1 47 1 113 1-53 1-70 1-47 1 111 1 168 1-29 1-39 1-75 1-25 1-8 1-90 1-52 1 77 1 173 1-25 1-56 1 3 1 1 1-7 1 162 1-106 1-135 1 19 1 44 1-63 1 161 1-8 1-122 1 50 1 18 1-103 1 40 1 127 1 5 1-98 1 98 1-23 1-20 1-21 1-112 1-36 1 70 1 26 1-55 1 103 1 1 1 54 1-126 1-25 1 160 1 7 1-136 1-26 1 209 1-221 1-63 1 82 1 74 1 117 1 110 1-150 1-100 1 45 1-114 1-23 1 207 1 19 1-227 1 184 1-224 1 54 1-167 1 21 1 373 1-89 1-97 1 78 1-15 1-33 1 251 1-137 1-121 1 31 1-90 1 31 1 183 1-148 1-12 1 17 1 84 1 0 1 62 1-287 1 162 1-60 1 200 1-48 1-93 1-109 1 0 1-156 1-103 1 209 1 96 1 111 1 133 1-116 1-198 1-35 1 122 1-111 1 203 1 120 1-115 1 119 1-222 1-50 1 128 1-76 1 139 1-22 1 70 1-64 1-100 1-138 1 65 1-18 1 41 1 149 1-84 1-49 1 73 1-77 1 78 1 39 1-110 1-48 1 90 1-3 1-24 1-29 1 37 1 156 1-26 1-222 1 97 1 56 1-102 1 33 1 93 1-31 1-31 1 48 1-20 1 47 1 44 1-33 1-49 1-43 1 28 1-80 1-34 1 50 1-48 1-50 1 20 1 116 1-49 1-92 1 49 1 70 1-4 1-21 1 158 1-162 1-48 1-81 1 49 1 196 1-115 1-24 1-32 1 83 1 78 1 29 1 12 1-110 1 96 1-39 1-181 1 162 1 53 1 11 1-1 1-88 1-90 1-48 1 143 1-38 1 47 1 135 1 14 1 77 1-121 1 74 1-88 1-397 1 199 1 371 1-187 1-11 1-24 1-58 1-25 1-173 1 72 1 84 1 31 1 64 1 19 1 31 1-130 1-10 1-20 1-6 1-106 1 74 1 44 1 59 1-79 1 25 1 40 1 81 1-68 1-160 1-36 1 199 1-47 1 36 1 134 1 4 1-186 1 6 1 113 1-61 1-58 1 42 1-32 1 30 1-70 1-28 1 63 1 6 1-56 1 49 1 0 1 17 1 44 1 133 1 41 1-46 1-103 1-268 1 156 1 157 1 47 1-39 1-62 1-86 1 130 1-53 1-71 1 53 1 98 1 38 1-63 1-128 1 21 1 107 1-63 1 67 1-100 1-224 1 140 1 34 1 91 1 10 1-86 1-78 1 64 1-55 1 153 1 41 1-68 1-21 1 16 1-184 1 107 1-8 1-25 1-79 1 83 1 35 1-56 1 381 1-102 1-300 1-76 1 226 1 78 1-221 1 168 1 128 1-185 1-109 1-58 1-36 1 123 1 194 1 43 1-103 1-78 1 11 1-40 1 89 1 46 1 48 1-200 1 13 1 5 1-74 1 55 1 80 1 52 1-2 1 100 1-24 1-158 1-23 1-16 1-5 1 8 1 34 1 19 1-59 1 58 1 147 1-133 1-42 1-32 1 79 1 175 1-72 1-37 1 46 1-197 1-26 1 201 1 106 1-102 1-144 1-25 1-76 1 29 1 36 1 249 1-181 1-8 1-48 1 187 1 107 1-313 1 156 1 3 1-36 1-234 1 28 1-32 1 84 1 386 1-410 1 34 1 145 1-44 1 255 1-216 1-55 1 389 1 43 1-21 1 1 1-255 1 78 1-96 1-50 1-112 1 6 1 70 1 85 1 99 1 4 1-184 1 11 1-191 1-82 1 372 1-82 1-258 1 192 1-112 1 125 1-186 1-35 1 204 1 288 1-121 1-31 1-104 1 85 1-90 1 19 1-66 1-108 1 492 1-418 1-64 1 170 1-35 1-60 1-123 1 90 1-21 1 267 1-185 1-124 1 64 1-69 1 263 1 36 1-130 1 30 1 59 1-194 1 16 1 115 1-18 1-208 1-114 1 55 1 106 1 291 1 55 1-27 1 28 1-297 1 77 1-158 1 20 1 167 1 41 1 245 1-31 1-408 1-131 1 122 1-27 1 33 1 37 1-179 1-37 1 652 1 89 1-90 1-287 1-237 1 97 1 76 1-91 1 216 1 13 1-173 1 93 1 167 1-211 1-271 1 133 1 579 1-40 1-218 1-212 1 80 1 90 1-256 1-182 1 174 1 282 1 67 1-198 1 36 1 10 1-34 1-25 1-39 1-350 1 524 1-109 1-33 1 150 1-256 1 149 1-53 1 127 1-102 1 126 1-111 1-90 1-27 1 134 1-9 1-71 1 15 1 84 1-160 1 224 1 131 1-9 1-299 1 67 1 124 1-4 1-40 1-26 1 23 1 122 1-136 1-99 1-166 1 25 1 151 1 205 1-78 1-192 1-181 1 85 1 48 1 12 1-84 1 0 1 128 1 216 1-213 1-19 1 157 1 94 1 29 1-120 1-67 1-18 1-95 1 102 1 17 1 26 1 77 1 121 1-37 1-253 1 46 1 15 1-32 1-163 1-20 1 193 1 83 1-127 1-10 1 52 1-80 1-2 1 65 1-148 1 35 1 238 1-49 1-85 1-138 1 52 1 168 1-39 1 80 1 6 1-96 1 66 1 119 1-16 1-53 1-109 1 16 1 16 1 41 1-31 1 5 1-52 1-26 1-66 1 2 1 103 1 85 1-55 1-95 1-91 1 131 1 145 1 37 1-16 1-82 1-25 1 4 1-16 1-36 1 111 1-31 1-50 1 10 1 20 1 118 1-101 1-36 1 13 1-47 1 1 1-17 1-22 1 108 1 82 1-142 1 41 1-204 1 156 1 80 1-57 1-26 1 129 1-63 1-325 1 197 1 310 1-122 1-206 1-16 1 200 1 253 1-527 1 207 1 60 1-163 1-282 1 349 1 37 1-245 1-28 1 247 1-304 1 115 1 23 1 358 1 52 1-4 1-301 1-46 1 28 1-5 1 42 1-99 1 64 1 107 1 112 1 82 1-47 1-156 1-180 1 112 1-161 1-26 1 156 1 52 1 25 1 218 1-160 1-119 1 246 1-147 1-12 1 57 1 104 1-63 1-146 1 58 1 6 1 115 1-89 1-75 1 29 1-62 1-55 1 67 1-24 1-112 1 178 1 41 1 57 1-55 1-141 1 53 1 110 1 5 1-77 1 89 1 63 1-112 1 46 1-31 1 8 1 53 1-105 1-89 1 83 1-79 1 4 1 39 1 4 1 82 1-76 1-25 1 8 1 7 1 60 1-173 1 12 1 132 1-39 1 110 1-29 1-273 1 144 1 84 1 112 1-7 1-250 1 212 1 171 1-319 1-61 1 25 1-14 1 306 1 184 1 55 1-269 1 74 1 159 1-56 1-194 1-132 1 343 1-356 1 71 1 52 1-84 1 244 1-187 1-160 1-132 1-183 1 84 1-28 1 140 1 214 1 332 1-237 1-22 1 43 1 6 1-140 1 54 1-409 1-19 1 399 1-10 1-367 1 476 1 58 1-48 1-40 1 268 1-311 1-154 1-74 1 428 1-193 1-126 1 218 1-42 1-425 1 165 1-227 1 360 1-9 1-77 1-36 1-170 1 278 1 183 1-290 1-212 1 156 1-4 1 36 1 126 1 254 1-379 1-144 1 511 1-118 1-65 1 197 1-23 1-251 1-1 1 104 1 13 1 23 1-124 1 264 1 78 1-166 1 37 1-92 1-38 1-58 1 14 1-54 1 19 1-44 1 73 1 215 1-101 1-110 1 51 1-125 1-50 1-42 1 113 1 107 1-84 1-117 1 123 1 13 1-17 1 51 1-86 1-65 1 16 1 124 1 17 1 102 1-98 1 43 1 19 1-176 1 44 1 27 1 54 1-211 1 132 1 119 1-56 1-221 1 95 1 109 1-89 1 199 1-105 1-106 1-62 1-39 1 49 1 5 1 113 1 135 1-54 1-86 1 22 1-33 1-45 1-70 1 61 1 117 1-64 1-22 1-22 1-85 1 125 1 0 1-114 1-16 1 203 1 37 1-176 1 23 1 22 1 28 1-83 1 18 1 88 1-6 1-126 1 17 1 223 1 132 1-201 1 67 1-28 1-19 1-43 1 41 1 180 1-235 1-73 1 92 1-139 1-11 1 12 1 88 1 37 1-43 1 71 1-70 1-46 1 92 1 52 1-113 1 28 1 5 1-11 1 38 1 190 1-91 1-163 1 73 1 60 1-106 1 77 1-70 1-44 1-16 1 41 1 42 1-16 1 99 1 13 1-119 1 29 1 72 1-60 1-102 1 42 1 66 1-8 1-39 1 111 1-45 1-82 1-31 1-30 1 15 1-63 1 62 1 94 1-124 1 37 1 116 1 20 1-34 1 71 1-108 1-48 1-39 1 120 1 57 1-5 1-84 1-47 1-35 1-19 1 172 1-27 1-57 1 19 1-50 1 228 1 2 1-109 1 45 1 63 1-198 1-134 1-90 1 235 1 374 1-238 1-126 1 181 1-149 1-50 1 248 1-74 1 103 1-164 1 76 1 205 1-315 1-276 1 186 1 277 1-204 1-104 1 31 1 110 1 227 1-25 1-452 1 166 1 127 1-67 1-190 1 17 1 193 1-321 1 50 1 154 1 163 1 254 1-258 1-72 1-37 1 406 1-455 1-122 1 45 1 253 1-18 1-127 1-128 1-18 1 374 1-59 1-173 1 67 1-34 1-96 1-69 1 236 1 100 1-115 1-136 1 153 1-10 1 64 1-52 1-61 1-53 1-117 1 150 1 7 1 104 1-46 1-224 1 205 1 85 1 271 1-274 1-302 1 148 1 45 1-133 1 111 1 25 1 30 1 34 1-59 1-106 1 16 1 54 1 27 1-100 1-13 1 29 1 188 1-15 1-13 1-185 1-29 1 3 1 113 1 116 1-15 1-108 1 26 1-35 1-80 1 67 1-19 1 147 1 35 1-50 1-36 1 49 1-14 1-132 1-36 1 33 1 97 1-94 1-47 1 140 1-71 1 7 1-6 1-25 1-4 1-70 1-68 1 45 1 112 1 27 1-36 1-38 1 155 1-21 1-234 1 16 1 44 1 69 1-86 1 4 1 125 1 75 1-74 1-128 1 100 1 123 1 89 1-134 1-4 1 43 1 8 1-4 1-104 1 38 1 0 1 20 1 18 1-91 1-50 1 149 1-5 1 25 1-100 1 32 1 106 1-149 1 33 1 13 1-90 1 81 1 54 1-100 1-172 1 40 1 61 1 49 1 60 1-206 1 182 1 167 1-271 1 113 1 184 1-143 1-165 1-72 1-76 1 383 1 61 1-112 1-71 1 92 1-18 1-83 1-4 1 110 1-47 1 58 1 72 1-65 1-167 1 251 1 1 1-344 1 46 1 171 1-42 1-213 1 111 1 193 1-140 1 16 1 142 1-174 1 109 1 75 1-280 1 31 1-56 1 325 1 154 1-95 1-127 1 147 1-115 1-60 1 51 1-62 1-5 1 147 1-48 1 47 1-256 1 33 1 127 1 45 1-61 1-101 1 38 1 149 1-209 1-18 1 317 1 142 1-79 1-17 1 54 1-52 1-245 1-267 1 78 1 72 1-152 1-157 1-16 1 144 1 218 1 241 1-161 1-332 1 50 1 316 1-121 1 0 1 189 1 189 1-206 1-55 1-604 1 1002 1-393 1 53 1-465 1-87 1 220 1-139 1 440 1-69 1 17 1 76 1 15 1-213 1 401 1-4 1-544 1 513 1 2 1-40 1 64 1-96 1-177 1-203 1 344 1-69 1-405 1 424 1-63 1-229 1 70 1-122 1 18 1 226 1 101 1-69 1-250 1 81 1 10 1 44 1-19 1-31 1-46 1-57 1 144 1 159 1-47 1-54 1-25 1-65 1 71 1 27 1-15 1-60 1 46 1-33 1-69 1 65 1-17 1-3 1 58 1-73 1-10 1 75 1 0 1 35 1 55 1-78 1-18 1-34 1 14 1 29 1 14 1-1 1 33 1-1 1 47 1 27 1-16 1-31 1-35 1-9 1-72 1-92 1 207 1-56 1-122 1 121 1 14 1 128 1-27 1-245 1 152 1 102 1-98 1-99 1 30 1 96 1-91 1 58 1-228 1-36 1 164 1 142 1 21 1 3 1-24 1-77 1 96 1-34 1-50 1 72 1-118 1-36 1 46 1 74 1 56 1-55 1 69 1-60 1 32 1-16 1-113 1 44 1 87 1 26 1-71 1 69 1-35 1-149 1 214 1 57 1-162 1 66 1 83 1 4 1-183 1 164 1-35 1-88 1-16 1 72 1-30 1 14 1 90 1-379 1-9 1 289 1 76 1-130 1-143 1 84 1 8 1-3 1-50 1 90 1 91 1-66 1-43 1 15 1-62 1-6 1 52 1 91 1-61 1-68 1 76 1 27 1 51 1-45 1-28 1 145 1-71 1-56 1 17 1-129 1-23 1-11 1 92 1-90 1 108 1-27 1 149 1-42 1 17 1 117 1-187 1-87 1-2 1 29 1 7 1 17 1 31 1-22 1-197 1 163 1 226 1-8 1-68 1-130 1-122 1-45 1 124 1-12 1-174 1 53 1 5 1 199 1-55 1-95 1 211 1-9 1-147 1 127 1-98 1-110 1 64 1 85 1 31 1-49 1-103 1 200 1-9 1-103 1 124 1 102 1-69 1 87 1-95 1-87 1 134 1-76 1 15 1 47 1-216 1 88 1 332 1-178 1-31 1 82 1-342 1 23 1 15 1 192 1 93 1-42 1-172 1 52 1 211 1-196 1-35 1 14 1-91 1-120 1 76 1-27 1 182 1 26 1-107 1 211 1-3 1-50 1-123 1 23 1 39 1 19 1-80 1-13 1 28 1 13 1-64 1 62 1 9 1-33 1-30 1-59 1 23 1 144 1-94 1-102 1-21 1 18 1 185 1-1 1-116 1-44 1 58 1 24 1 94 1-66 1 126 1-26 1-199 1 137 1-123 1-165 1 47 1 197 1 63 1 62 1-147 1 65 1-20 1 42 1-76 1 77 1-8 1-10 1-118 1 30 1 54 1-125 1 129 1 124 1-87 1 22 1-195 1-16 1 79 1 53 1 268 1-217 1-136 1 285 1 52 1-187 1-221 1 6 1 48 1 2 1 195 1 92 1-145 1 166 1-74 1-300 1 569 1-119 1-224 1-66 1-340 1 395 1-294 1-130 1 2 1 140 1 184 1 4 1-87 1 262 1 163 1-167 1-253 1 312 1 50 1-73 1-162 1-184 1 329 1 155 1-159 1 45 1-326 1-226 1 52 1 148 1 275 1 119 1-212 1-323 1 203 1 79 1-354 1 38 1 325 1 64 1-213 1 367 1 45 1-237 1 56 1-109 1 52 1 355 1-9 1 23 1-23 1-304 1-168 1-1 1-146 1 335 1-540 1 502 1-302 1 76 1 550 1-385 1 128 1 160 1-183 1-60 1-36 1 113 1 71 1-186 1-54 1-49 1 142 1 33 1-161 1-62 1 109 1 32 1 24 1 34 1-6 1-64 1 145 1-23 1 22 1-36 1-35 1-26 1 20 1 15 1 118 1-206 1 119 1 196 1-167 1-170 1 57 1 67 1 93 1-251 1 178 1-195 1 161 1 179 1-91 1-33 1-102 1 101 1 38 1 95 1-237 1-23 1 155 1-53 1-158 1 9 1 144 1-26 1-74 1-25 1 77 1-64 1 134 1-14 1 24 1-39 1 17 1-109 1 40 1-130 1 162 1-105 1 108 1 326 1-89 1-310 1-59 1 15 1 91 1-24 1 100 1-198 1-115 1 81 1 174 1 83 1-147 1-67 1 178 1-106 1-131 1 44 1 32 1 23 1 31 1 55 1 57 1-199 1 208 1-11 1-201 1-159 1 153 1-16 1-100 1 23 1-62 1 328 1-67 1-65 1 15 1 31 1 115 1 103 1-140 1-62 1 143 1-54 1 14 1 20 1-90 1-96 1 181 1-27 1-117 1 99 1 10 1-81 1-64 1 114 1 95 1-31 1-46 1-33 1-24 1 105 1-74 1 50 1-31 1-94 1 1 1 7 1 0 1 84 1 52 1-218 1-70 1 34 1 40 1 196 1-141 1-1 1 75 1-74 1 80 1-110 1 269 1-154 1-147 1 179 1-85 1-123 1 20 1 0 1 100 1-57 1-74 1-17 1 48 1 254 1-79 1 49 1 35 1-72 1-57 1 28 1-31 1-45 1 19 1 26 1-14 1-32 1 98 1 100 1-147 1-37 1 161 1-96 1-119 1 169 1 54 1-46 1 14 1-7 1-51 1-90 1 165 1-25 1-149 1 168 1-25 1-82 1 43 1-62 1-83 1-8 1-39 1 120 1 182 1-22 1-110 1-125 1 7 1 128 1-114 1-28 1 71 1 53 1-33 1-50 1 43 1 210 1-9 1-162 1-143 1-21 1 19 1-48 1 59 1-20 1-27 1 83 1 159 1 114 1-131 1 39 1-14 1-146 1 90 1-71 1-15 1 153 1-100 1-112 1 122 1-27 1 95 1-23 1-92 1 133 1-33 1-237 1 149 1 176 1 48 1-54 1 12 1 53 1-131 1-113 1 109 1-23 1-148 1-6 1 57 1-41 1 109 1-85 1-184 1 194 1 259 1-33 1-24 1-113 1-169 1 11 1-57 1 37 1 96 1 218 1-102 1-36 1 45 1-28 1-205 1-62 1 137 1 239 1-11 1-99 1-138 1-24 1 11 1 150 1-89 1-160 1 175 1 157 1-93 1-121 1 11 1 45 1-106 1 144 1 209 1 7 1-221 1-137 1 107 1 185 1 18 1-164 1-151 1 142 1 123 1 40 1-16 1-191 1-46 1 8 1 33 1 12 1 229 1 107 1-246 1-158 1-140 1 136 1 271 1-37 1-56 1-133 1 36 1-50 1-81 1 3 1-16 1 283 1-242 1-94 1-101 1 106 1-37 1 276 1-94 1-9 1 71 1-261 1 220 1-77 1 80 1 256 1-200 1-111 1 22 1-23 1-122 1 46 1 143 1 23 1-83 1 86 1-45 1 233 1-65 1-144 1-79 1 140 1 18 1-114 1-195 1 59 1 103 1 80 1-170 1 56 1 134 1-34 1 109 1 49 1-63 1 6 1-142 1 41 1-133 1 27 1 161 1-22 1-86 1 36 1-6 1 32 1 86 1-31 1-187 1 80 1 84 1 105 1 1 1-123 1 7 1-71 1-42 1 93 1 41 1-75 1-13 1 65 1 135 1-159 1-38 1 46 1 49 1-102 1 6 1 48 1 148 1-18 1-94 1-54 1-41 1 50 1-59 1 36 1 65 1-12 1 155 1 123 1-352 1 140 1 99 1-195 1 57 1-111 1 222 1-35 1-183 1-142 1-4 1 207 1-21 1-32 1 163 1 10 1-160 1 31 1 110 1 2 1 22 1 68 1-128 1-96 1-36 1 149 1 62 1-105 1-47 1 38 1 92 1-10 1 40 1-185 1-69 1 173 1-104 1 84 1-22 1-49 1 69 1-126 1 185 1 45 1-69 1 174 1 49 1-185 1-133 1 150 1-102 1-101 1-28 1 95 1 53 1-91 1 84 1 96 1 56 1-149 1-192 1 281 1 30 1-209 1-122 1 60 1 191 1-102 1-231 1 82 1 73 1-128 1 270 1-44 1-229 1 7 1 114 1 122 1 62 1 88 1-30 1 27 1-73 1-70 1 59 1 2 1-72 1 139 1-149 1-108 1-10 1 101 1 53 1-50 1-22 1 62 1 26 1 12 1-1 1 27 1 18 1 27 1-217 1 60 1 64 1 46 1-53 1-177 1 131 1 29 1-27 1-81 1 32 1 62 1 18 1 225 1-241 1-238 1 199 1-22 1-26 1-110 1 125 1 35 1-145 1 5 1 86 1 52 1 84 1-50 1 83 1-252 1-68 1 170 1 251 1-246 1-208 1 72 1-4 1-12 1 108 1 101 1-35 1-183 1 151 1 269 1-143 1-115 1 22 1-15 1 143 1 58 1-81 1-65 1-72 1-50 1 29 1 68 1 97 1 3 1 61 1-12 1-146 1-68 1 133 1-118 1 204 1-67 1-110 1 44 1-40 1 43 1-146 1 69 1 113 1-54 1 120 1-32 1 8 1-110 1 9 1 44 1 92 1-174 1 100 1 131 1-59 1 90 1 3 1-115 1-168 1-75 1 192 1 74 1-153 1-94 1 141 1 53 1-49 1-25 1 25 1-137 1 63 1-18 1-12 1-150 1 23 1 295 1-42 1 89 1-139 1-31 1 231 1-14 1-98 1-173 1 14 1 33 1 87 1 49 1 76 1-41 1-69 1-25 1 66 1-8 1-14 1-56 1 48 1 43 1 33 1 9 1-57 1 66 1-206 1-119 1 65 1-2 1 233 1 101 1-77 1-119 1-152 1-62 1 344 1-14 1-275 1 96 1 12 1 229 1-58 1-98 1 230 1-204 1-302 1 30 1 193 1 74 1 50 1-134 1-89 1 569 1-574 1-21 1 90 1 198 1-60 1 108 1 92 1-327 1-165 1 283 1 223 1-154 1 24 1-207 1 29 1 248 1 36 1-248 1-378 1 78 1 460 1 79 1-192 1-50 1-20 1-330 1 311 1 271 1-139 1-105 1-38 1-116 1 75 1-84 1 25 1 61 1 304 1 59 1-132 1-230 1 114 1 164 1 12 1-440 1 303 1 30 1-142 1-204 1-11 1 228 1-97 1-190 1 224 1 393 1 40 1-235 1 45 1-80 1-279 1 52 1-189 1 130 1 442 1-148 1-284 1 310 1-74 1-320 1 100 1-65 1 292 1-10 1 163 1 173 1-37 1-375 1-133 1-136 1 303 1 389 1-363 1 3 1 327 1-325 1-342 1 346 1 35 1-220 1 312 1 180 1-295 1-706 1 1199 1-597 1-223 1 138 1 151 1 195 1-252 1-32 1 393 1-100 1-114 1 4 1-449 1 50 1 586 1-47 1-39 1-270 1 427 1-84 1-370 1 142 1-102 1-298 1 479 1 121 1-201 1-65 1 42 1-91 1-22 1 132 1 296 1-277 1-373 1-37 1 113 1-49 1 397 1-131 1-180 1 128 1-183 1 108 1 201 1 117 1 180 1-120 1-518 1-23 1 164 1 143 1-312 1 293 1 165 1 81 1-384 1 71 1 164 1-72 1 78 1-317 1-60 1 13 1 340 1-40 1-71 1 131 1-56 1-169 1-18 1 127 1-136 1-11 1 166 1 83 1-17 1-44 1 6 1 29 1-111 1 48 1 11 1 18 1 6 1-118 1 18 1-3 1 32 1-53 1 29 1-28 1 122 1-77 1-55 1 136 1 52 1 83 1-63 1-127 1 41 1-106 1 217 1-3 1-2 1-13 1-185 1 7 1-82 1 78 1 145 1-20 1 89 1 3 1-104 1-124 1 115 1 74 1 45 1 7 1-98 1-59 1-29 1 36 1-84 1 178 1 8 1-169 1 57 1-18 1 20 1 58 1-48 1 50 1-14 1-103 1 144 1-89 1-174 1-70 1 154 1-29 1 291 1 126 1-200 1 42 1 67 1-2 1-78 1-13 1 66 1-89 1-4 1-36 1-86 1-60 1 85 1 99 1 18 1 70 1-143 1-59 1-102 1 24 1 154 1-120 1 47 1 62 1-81 1-6 1 115 1-80 1-44 1 48 1 33 1-25 1 111 1-134 1 141 1 42 1-49 1-88 1-29 1-6 1 91 1-99 1-60 1 185 1-29 1 40 1-3 1-115 1-10 1 132 1 3 1-164 1-17 1-10 1 215 1-77 1-105 1 134 1-167 1 7 1-2 1 76 1-7 1-58 1 47 1 15 1-30 1 25 1 115 1-74 1-41 1-8 1 73 1-149 1-61 1 3 1-40 1 37 1 127 1 134 1-137 1-35 1-3 1-65 1 86 1 103 1-52 1 4 1 57 1-62 1-7 1-29 1 93 1 4 1-40 1-13 1 35 1-79 1 138 1-60 1-209 1 76 1 74 1 102 1-67 1-100 1 15 1 0 1-28 1 21 1 242 1 24 1-131 1-224 1-29 1 132 1 69 1 23 1-63 1 19 1 15 1 59 1 4 1 18 1 8 1-43 1-133 1-20 1-27 1 108 1 16 1 42 1 15 1-28 1 130 1-69 1 20 1-87 1 10 1 134 1 7 1-39 1-220 1 128 1 79 1-113 1 2 1 9 1-80 1 91 1-143 1-59 1 92 1-38 1 41 1 110 1 81 1-9 1-119 1-44 1-91 1-28 1 50 1 81 1-65 1 45 1 207 1-31 1-131 1-40 1-2 1-17 1 229 1-211 1-87 1 113 1 198 1-132 1 16 1 143 1-137 1-127 1 59 1 110 1-80 1-39 1-8 1-31 1 202 1-79 1 42 1-65 1-19 1 65 1-189 1 4 1 82 1-57 1-147 1 384 1-31 1-159 1-82 1 38 1 85 1-76 1 34 1 131 1-42 1-243 1-1 1 383 1-15 1-45 1-181 1 120 1 25 1-156 1-89 1 161 1-2 1-294 1 194 1 136 1 63 1-6 1-168 1 3 1-71 1 279 1-50 1-64 1 339 1-288 1-203 1 190 1-174 1-59 1 412 1-126 1-431 1 57 1 89 1 335 1 198 1 17 1-434 1-214 1 467 1-109 1 135 1 18 1-127 1-29 1 226 1-349 1-126 1 124 1 139 1 16 1-336 1-25 1 55 1 48 1 69 1-70 1 54 1 199 1 55 1-314 1 89 1 148 1-59 1-122 1 111 1 34 1-88 1 103 1-28 1-150 1 12 1 60 1-28 1 30 1-332 1 421 1-108 1 127 1 60 1-151 1-103 1 54 1 105 1 91 1-113 1-67 1 1 1-13 1 127 1 58 1-73 1-31 1 132 1 45 1-103 1-210 1-134 1 102 1 161 1-22 1-11 1 81 1 127 1-83 1-74 1-3 1 48 1 2 1-75 1 92 1 26 1-139 1-77 1 188 1-74 1-161 1 48 1 36 1 20 1-6 1 55 1-99 1 17 1 165 1-79 1-107 1 16 1 124 1-58 1 183 1-177 1-128 1 237 1 95 1-299 1-28 1 166 1-36 1-7 1 28 1-45 1-24 1 114 1-43 1-71 1 133 1-133 1-75 1 190 1-198 1-22 1-22 1 157 1 98 1-75 1 34 1 5 1 96 1-275 1-50 1 15 1-50 1 115 1-67 1 253 1 29 1-54 1-33 1 72 1-121 1-164 1 82 1 47 1 162 1 1 1-109 1 24 1-20 1 8 1-23 1 100 1-66 1-179 1 23 1-68 1 97 1 31 1 134 1-82 1-84 1 94 1-90 1 136 1 37 1-93 1 83 1 64 1-171 1 15 1 138 1-24 1-20 1 21 1-82 1 70 1 95 1-97 1-73 1-91 1 132 1 48 1-139 1-20 1 93 1 55 1-93 1-13 1 93 1 4 1-19 1-106 1 193 1 0 1-200 1 144 1 33 1-170 1 138 1 48 1-7 1-83 1 25 1 86 1-75 1-97 1-129 1 122 1 115 1 62 1-284 1-179 1 349 1 372 1-502 1 221 1 144 1-38 1-454 1-75 1 249 1-19 1-509 1 948 1-390 1-153 1-31 1 261 1 250 1-309 1-173 1 287 1 108 1-59 1-55 1-26 1-43 1-16 1 77 1-315 1 113 1 214 1-115 1 86 1-54 1-68 1-100 1 211 1 253 1-310 1-79 1-157 1 12 1 228 1-12 1 144 1 70 1-129 1-96 1 216 1-167 1-167 1-42 1 283 1-59 1-5 1 72 1-221 1 17 1 5 1-85 1-30 1 216 1 126 1-128 1-105 1 115 1-34 1 56 1 21 1-61 1-35 1-54 1 56 1 8 1 61 1-88 1-64 1 99 1-167 1 41 1 129 1 24 1-68 1-18 1 76 1-52 1-94 1-44 1 44 1 90 1 76 1-84 1-108 1-100 1 123 1 200 1 30 1-121 1-75 1 84 1 92 1 77 1-157 1 50 1-51 1-38 1 164 1 0 1-166 1-30 1 70 1-113 1 41 1 48 1-7 1 0 1-87 1 89 1-63 1-137 1 166 1 23 1 112 1-30 1-174 1-25 1 125 1-12 1-43 1 29 1 17 1-157 1 321 1 72 1-283 1 17 1 20 1-29 1 64 1 9 1 87 1-41 1-166 1-93 1 31 1 151 1 99 1 216 1-103 1-11 1 24 1-88 1-98 1-45 1 10 1 169 1-10 1-193 1 8 1-8 1 5 1-162 1-117 1-53 1 211 1 85 1 184 1-103 1-130 1 136 1-200 1 25 1 372 1-301 1-58 1 5 1 162 1 147 1 55 1-8 1-220 1-80 1 206 1-25 1-92 1 76 1-55 1 37 1-92 1 16 1 30 1 239 1-67 1-145 1 30 1-3 1 32 1-98 1 70 1 40 1-190 1-78 1 127 1 184 1 85 1-133 1-118 1 60 1 29 1-208 1-10 1 124 1 64 1 22 1-50 1 15 1 0 1 31 1-86 1-15 1 158 1-297 1 24 1 202 1 94 1-57 1-10 1-171 1-32 1 184 1 188 1-193 1 93 1-64 1-103 1 283 1-65 1-303 1 122 1 204 1 45 1-141 1-122 1-84 1 19 1 194 1 33 1-70 1-28 1 124 1-148 1-201 1 118 1 61 1 131 1-63 1 28 1 80 1-204 1-49 1 145 1 191 1-113 1-354 1 41 1 116 1-123 1-85 1 15 1-100 1 235 1 25 1-25 1-89 1 161 1 22 1-70 1 57 1 125 1 201 1-335 1 263 1-206 1 154 1-177 1 217 1 39 1-650 1 187 1-29 1 144 1 309 1-77 1-304 1-172 1-41 1 63 1 206 1 402 1 17 1-500 1 288 1-37 1-194 1 311 1-101 1-63 1-18 1-5 1 31 1 70 1 109 1-259 1 34 1 105 1-28 1-3 1 54 1-125 1-28 1 102 1 50 1-125 1 78 1-59 1-135 1-5 1 38 1 199 1-80 1-71 1-46 1 81 1 62 1-114 1 62 1-35 1-19 1 177 1 4 1-73 1 43 1 40 1-70 1 1 1 13 1 6 1-33 1-68 1-53 1 11 1 66 1 23 1-57 1-67 1 55 1 128 1-52 1-83 1 55 1-82 1 51 1 50 1-65 1-143 1 202 1-4 1-115 1 63 1-58 1 96 1 156 1 51 1-43 1 0 1-151 1-57 1 210 1-254 1-51 1 297 1 96 1-157 1-223 1 77 1-24 1-100 1 15 1 145 1 149 1-2 1-219 1 4 1 173 1-1 1-49 1-146 1 90 1-127 1 24 1 69 1 138 1-65 1-76 1-34 1 110 1-7 1 114 1 30 1-309 1 65 1 172 1-126 1 11 1-129 1 56 1 54 1 36 1-48 1 12 1-83 1 80 1 48 1-46 1 80 1 17 1-2 1 31 1-48 1 68 1 4 1-26 1-54 1-20 1-45 1-38 1 42 1 81 1-46 1 21 1 21 1-27 1-82 1-63 1 13 1 108 1-22 1-71 1 111 1 17 1 13 1 30 1-48 1-35 1 63 1-18 1 52 1-19 1-67 1 33 1 109 1-12 1-120 1-110 1-13 1 9 1-40 1 105 1-18 1 71 1-101 1-37 1 159 1-36 1-105 1 129 1-5 1-122 1-125 1 169 1-69 1 140 1 148 1-236 1-91 1 207 1-171 1-32 1 98 1 88 1 268 1-101 1-299 1 55 1-19 1 42 1-90 1 296 1-58 1-55 1-25 1-106 1-61 1 19 1-15 1 154 1 13 1 115 1-68 1 39 1-125 1-55 1 74 1 48 1-44 1 21 1 90 1-88 1 12 1-47 1 55 1 94 1-277 1-7 1 13 1 82 1 54 1-13 1-145 1 6 1 95 1 39 1-2 1-92 1 37 1 49 1-111 1-11 1 32 1-49 1 68 1 164 1 69 1-67 1-104 1-61 1 149 1 108 1-93 1-49 1 92 1-39 1-139 1 37 1-149 1-1 1 196 1 26 1 63 1-231 1 22 1 140 1-98 1 41 1 80 1-32 1-119 1-68 1 226 1 147 1-167 1-50 1 55 1-128 1-38 1 131 1-56 1 71 1 45 1-224 1 59 1 45 1 28 1 43 1 61 1 25 1-168 1-162 1 67 1 56 1 99 1 18 1-187 1-146 1 82 1 129 1-45 1 58 1 132 1 61 1-47 1-19 1 174 1 39 1-243 1-161 1 2 1 110 1 87 1-26 1-63 1 48 1-86 1 64 1 173 1-122 1-151 1 69 1-46 1-44 1 254 1-49 1-8 1-77 1-57 1-12 1 49 1 80 1-56 1-227 1 50 1 239 1-11 1-36 1-110 1 13 1 93 1-19 1 50 1-55 1 71 1 22 1-83 1 119 1 88 1-52 1-273 1-65 1 111 1-45 1-59 1 176 1 182 1-263 1 64 1-22 1 143 1-17 1 23 1-112 1-124 1 23 1-10 1 109 1-15 1-85 1 148 1-64 1-51 1-2 1 57 1 26 1-68 1 2 1-28 1 176 1-120 1 44 1-93 1 162 1 75 1-157 1-79 1 92 1 117 1-155 1-181 1 227 1 193 1-41 1-122 1 148 1 12 1-228 1 52 1 111 1-297 1-129 1-44 1 175 1 155 1 54 1 168 1 108 1-187 1-65 1-113 1-98 1 192 1 87 1-118 1-162 1-40 1 137 1 43 1-111 1 81 1 103 1-163 1 57 1 134 1-202 1 28 1 105 1-89 1-124 1 1 1 79 1 13 1-12 1 15 1 210 1-80 1 40 1 21 1-108 1-29 1-35 1 15 1-36 1-142 1 197 1-38 1-132 1 118 1 101 1-23 1-55 1 65 1 25 1-39 1-24 1-99 1 74 1-19 1-53 1 53 1 28 1 72 1 35 1-83 1-34 1 37 1-84 1 18 1 49 1 18 1-73 1-21 1 35 1 133 1-163 1 112 1 8 1 55 1 124 1 148 1-151 1-264 1 77 1 72 1 109 1-89 1-69 1 173 1-27 1-96 1 88 1-239 1 165 1-258 1-123 1 252 1-133 1-132 1 36 1 120 1 272 1 207 1-200 1-150 1 104 1-361 1 52 1 377 1-31 1-205 1 384 1-226 1-53 1 187 1-144 1-225 1 355 1-33 1-128 1 56 1 156 1 24 1-461 1-83 1 220 1 41 1 104 1-24 1 35 1-88 1 80 1-52 1-161 1 88 1 17 1-56 1 103 1 153 1-225 1-55 1 107 1-144 1 124 1 75 1 1 1 46 1-59 1-2 1-166 1 80 1-65 1 96 1 63 1-64 1 52 1-75 1 25 1 66 1-105 1 51 1-42 1-91 1-6 1-18 1 95 1-44 1 62 1 159 1-59 1-204 1 108 1-76 1 121 1-35 1-81 1 97 1 158 1-122 1-122 1 6 1-25 1 109 1-123 1-41 1 165 1-154 1 29 1 66 1-51 1 123 1 100 1-65 1 64 1-33 1-253 1 193 1 40 1-13 1-121 1 125 1 126 1-89 1-321 1 190 1 280 1-32 1-228 1-175 1 116 1 45 1 209 1-114 1-73 1 111 1-190 1-140 1 209 1 31 1 224 1 36 1-352 1 127 1 123 1-226 1 217 1 35 1-228 1 37 1 117 1 44 1-112 1 53 1-64 1-39 1 15 1-156 1 117 1 170 1-80 1-98 1 34 1 212 1-168 1 119 1 159 1-291 1-310 1 188 1 227 1-483 1 404 1 53 1-26 1-130 1-64 1 184 1-166 1-93 1 129 1 72 1-4 1 113 1-41 1-57 1-80 1 28 1 72 1-60 1-125 1-6 1 106 1 83 1-189 1 17 1 268 1-87 1 152 1-17 1-248 1 12 1 95 1-136 1-131 1 239 1 190 1-35 1 25 1-185 1-181 1 101 1 205 1 124 1-131 1-28 1-113 1 129 1 36 1-68 1-209 1-66 1 66 1 52 1-37 1 252 1-137 1-59 1-105 1-34 1 1 1 167 1-192 1 6 1 129 1 95 1-37 1 147 1-153 1-86 1 75 1-87 1-1 1 43 1 81 1-26 1 97 1 65 1-109 1 5 1 116 1-73 1 64 1-199 1 36 1 120 1-207 1 136 1 158 1-114 1-69 1-74 1 17 1 142 1-48 1-42 1-90 1 0 1 135 1 41 1-66 1 2 1-32 1-46 1 149 1-60 1-141 1 158 1 134 1-188 1-126 1-33 1-85 1 122 1 234 1-77 1 19 1-69 1-155 1 67 1-15 1 49 1 11 1 180 1-284 1 94 1 180 1 16 1-48 1-12 1 217 1-358 1-117 1 182 1 23 1-186 1-66 1 86 1-30 1 462 1-189 1-149 1 185 1 73 1-140 1 147 1-115 1-14 1-123 1 207 1-74 1-61 1 175 1-291 1-126 1 254 1-349 1 668 1-490 1 209 1 75 1 4 1-168 1-140 1 133 1 179 1 22 1 75 1-174 1-106 1-95 1-185 1 8 1 255 1 142 1 107 1 124 1-396 1-93 1 335 1-128 1 166 1-42 1-153 1 66 1 35 1-154 1 60 1-95 1 195 1 34 1-295 1 154 1 167 1-100 1-17 1-46 1-118 1-4 1 64 1 76 1-23 1-102 1 133 1 60 1 44 1-50 1-100 1 81 1 108 1-5 1-190 1 57 1-103 1 90 1 132 1-196 1 96 1-146 1 300 1-28 1-100 1 34 1-116 1 230 1-359 1 9 1-180 1 17 1 188 1 259 1-266 1-91 1 14 1 254 1 114 1-82 1-142 1-53 1-35 1 119 1 106 1-111 1 34 1 3 1-161 1 61 1 50 1-24 1 21 1-17 1-27 1 27 1-90 1-9 1 158 1-96 1-22 1 96 1 68 1-106 1-11 1 126 1 43 1-192 1 29 1 90 1-248 1 44 1 80 1 27 1 34 1 68 1-74 1-45 1 100 1-9 1-154 1 21 1 79 1 57 1 23 1-78 1-76 1 32 1-23 1 107 1 54 1-87 1-109 1 98 1-36 1 96 1-80 1-116 1 120 1 22 1-73 1 108 1 69 1-18 1-106 1-131 1 220 1 121 1-207 1 74 1 58 1-220 1 33 1-68 1 42 1 120 1 118 1 290 1-164 1 10 1-224 1-199 1 27 1-60 1-104 1 351 1 85 1-229 1 57 1 60 1-142 1-18 1 247 1-192 1 69 1 37 1-115 1 238 1-238 1-100 1 98 1-26 1 83 1-45 1-56 1 342 1 95 1-338 1 103 1-58 1-35 1-63 1 277 1-67 1-136 1-30 1-18 1 30 1-32 1-45 1 149 1-200 1 15 1 234 1-135 1 213 1-200 1-14 1 73 1-34 1-58 1 121 1 66 1-125 1 63 1-4 1-30 1 36 1 46 1 28 1-44 1 24 1 23 1-292 1 13 1 61 1 10 1-5 1 29 1-45 1 21 1 35 1 128 1-113 1-15 1 56 1-59 1-12 1 39 1-123 1 149 1-328 1 477 1 41 1 0 1-347 1-125 1 290 1 237 1-143 1-76 1-203 1 140 1-99 1-15 1-164 1 172 1 284 1-272 1-103 1 69 1 192 1-16 1 18 1-206 1-42 1 226 1 126 1 75 1-71 1-130 1-80 1-89 1 111 1-79 1 216 1-6 1-165 1 62 1-5 1-88 1 88 1 5 1-115 1 151 1-83 1-13 1 174 1-85 1-110 1 55 1-1 1-36 1 22 1 15 1-50 1-30 1 60 1 149 1 6 1-56 1-108 1-12 1-28 1 15 1 38 1 35 1-47 1 74 1-7 1-28 1 39 1-75 1-27 1 16 1 53 1 104 1 26 1 53 1-20 1-136 1-117 1 104 1-48 1-89 1 2 1-17 1 69 1 97 1-30 1-63 1 0 1 29 1-28 1 83 1-47 1 116 1-113 1-123 1-44 1 143 1 119 1 14 1 42 1 95 1-181 1-72 1 42 1 116 1-66 1-215 1 37 1 20 1 146 1-98 1-24 1 52 1-25 1 39 1-43 1 18 1 63 1 79 1 43 1-185 1-124 1 86 1 78 1 45 1-54 1-172 1 36 1 158 1-117 1-52 1 249 1 18 1-214 1-1 1 71 1-15 1 95 1 66 1-71 1-70 1-120 1 56 1 45 1-132 1 119 1 92 1-48 1-44 1-4 1-51 1 165 1 120 1-106 1 92 1-256 1 45 1 157 1-167 1-47 1-11 1 56 1 209 1-45 1-33 1 119 1-67 1-218 1 118 1 94 1-7 1-149 1 159 1-62 1-101 1 39 1 91 1-13 1-259 1 31 1 176 1-93 1 138 1-112 1-26 1-182 1-70 1 135 1 94 1 100 1-50 1-87 1 231 1 147 1-211 1-14 1-8 1-53 1-5 1 55 1-81 1-155 1-40 1 183 1 89 1-32 1 187 1 85 1-142 1-147 1-66 1 128 1-48 1-2 1 84 1-119 1 164 1 117 1-253 1-42 1 27 1 30 1 85 1 50 1 55 1-93 1 10 1-17 1-80 1 7 1 4 1-131 1 20 1 69 1 48 1-143 1-83 1 201 1 18 1-8 1 70 1 68 1-260 1-34 1 347 1-158 1-238 1 96 1 118 1-12 1-106 1 117 1-8 1 156 1-180 1 84 1 69 1-137 1-110 1 142 1 115 1-263 1 101 1 193 1-25 1-183 1-95 1-15 1 36 1 144 1-46 1-101 1 215 1 66 1-108 1-228 1 107 1 90 1-26 1-47 1-65 1 212 1 313 1-277 1 73 1-81 1-185 1-53 1 190 1-38 1-112 1-18 1-80 1 206 1 88 1-49 1-43 1-116 1-26 1 67 1-91 1 8 1 206 1-132 1 116 1 143 1-69 1-53 1-35 1-34 1 81 1 52 1-164 1-49 1 80 1 98 1-56 1 53 1 85 1-211 1-100 1 118 1-121 1 46 1 26 1-23 1 41 1 20 1-109 1-24 1 259 1-58 1 110 1 25 1-173 1 55 1-124 1 18 1-2 1-17 1-29 1-66 1 211 1 22 1-99 1-71 1 5 1 77 1 113 1 56 1-24 1-112 1-56 1-116 1 32 1 22 1 170 1-28 1-20 1 46 1-161 1 12 1 77 1-5 1 143 1 89 1-333 1-12 1 109 1-15 1 42 1 19 1 38 1-67 1-19 1-71 1-94 1 181 1-14 1 4 1-131 1 17 1 35 1 70 1-63 1 70 1 126 1 85 1-94 1-81 1-29 1 58 1-17 1-41 1 70 1-143 1-76 1 51 1 52 1-21 1-5 1 90 1-11 1-136 1 60 1 86 1 39 1-7 1 75 1-41 1-165 1 10 1 35 1 16 1 7 1 72 1 85 1-199 1-52 1 229 1-151 1-12 1-12 1 13 1 80 1-78 1 20 1 149 1-84 1-65 1 19 1 16 1-41 1-94 1-12 1 64 1 40 1 65 1-139 1 156 1 72 1-85 1-53 1-27 1 46 1-136 1-47 1 260 1 70 1-7 1-217 1 13 1 212 1-41 1 29 1-78 1-164 1 169 1-37 1-107 1 119 1-73 1 52 1-73 1-4 1 96 1-202 1-53 1 161 1 294 1-102 1-123 1-45 1-16 1 58 1 26 1-173 1-76 1-20 1 252 1 57 1-86 1 148 1-141 1 29 1-67 1 27 1-2 1 132 1 103 1-42 1-10 1 28 1-64 1-131 1-80 1 118 1 147 1-77 1 18 1 56 1-62 1-186 1-11 1 239 1-217 1 84 1 41 1 4 1-111 1-47 1-28 1 34 1 88 1-101 1 188 1 49 1-20 1-57 1-33 1 35 1-79 1-44 1 64 1 82 1-165 1-13 1 110 1-13 1-40 1 52 1-45 1-12 1 56 1-75 1 35 1-51 1 10 1 63 1-76 1 44 1 0 1-79 1 69 1 93 1-94 1-70 1 223 1-57 1-161 1 84 1-45 1 32 1 95 1-13 1-100 1 35 1 66 1-35 1-101 1 219 1-132 1-180 1 187 1 57 1-120 1-2 1-187 1 63 1 233 1 32 1-109 1 90 1 62 1-22 1-283 1-16 1 267 1-62 1 188 1-36 1-250 1-11 1-14 1 38 1 117 1 7 1-25 1 118 1-75 1 15 1-107 1-207 1-12 1-4 1 127 1 164 1-106 1 87 1-57 1 25 1-15 1 16 1-112 1-61 1 37 1 184 1-109 1 14 1 166 1 180 1-446 1 213 1-83 1-50 1 82 1-120 1 69 1 151 1-301 1 478 1-243 1 34 1-221 1 182 1-231 1 333 1-395 1-65 1 277 1 79 1-290 1 78 1-23 1 1 1 363 1-471 1 30 1 139 1-76 1 77 1-192 1-63 1 290 1 18 1 68 1 384 1-643 1 273 1-354 1-54 1-9 1 137 1 283 1-302 1-99 1 653 1-319 1-237 1-1452 1 2649 1-1156 1-146 1 75 1 252 1-11 1 173 1-209 1-65 1 4 1 110 1-449 1 290 1 347 1-433 1-52 1 323 1 58 1-350 1 66 1 140 1 210 1 54 1-14 1 84 1 51 1-89 1 104 1-280 1-272 1 340 1-65 1 77 1-74 1-137 1 379 1 121 1-194 1-323 1 98 1 163 1 88 1 222 1-386 1 253 1-55 1-202 1-46 1 197 1 62 1-216 1 119 1-37 1 90 1-84 1-177 1 43 1-31 1 171 1 59 1-74 1-207 1 94 1 62 1-139 1 24 1-4 1 132 1-75 1-17 1 7 1-35 1 179 1-100 1-24 1-46 1 36 1 29 1 99 1 27 1-150 1 47 1 10 1-32 1 127 1-22 1-67 1-81 1 59 1 89 1-207 1-110 1 117 1 204 1-84 1 10 1-151 1 24 1 179 1 13 1 63 1-61 1 78 1-86 1-225 1 1 1 243 1-75 1-3 1 182 1-84 1-221 1 9 1 123 1 75 1-49 1-109 1-1 1-101 1-21 1-9 1 146 1 4 1-4 1-14 1-16 1-199 1 223 1 69 1-4 1-44 1-43 1-120 1 89 1 166 1-74 1-61 1 225 1-237 1 39 1-93 1-106 1-8 1 100 1 205 1 54 1-215 1 52 1 16 1 24 1 64 1-140 1 100 1 42 1-37 1-39 1-1 1 89 1-5 1-40 1-174 1-10 1 108 1 20 1 21 1-113 1 39 1 139 1-252 1 61 1 191 1 24 1-87 1 21 1 54 1-131 1-106 1 51 1 167 1-58 1 18 1-23 1-50 1 130 1-104 1-30 1 51 1 92 1-126 1 43 1 17 1 65 1 87 1 14 1 27 1-74 1-262 1-71 1 210 1 100 1-227 1-50 1 110 1 78 1 21 1 133 1-33 1-290 1-63 1 137 1 2 1-39 1 119 1 88 1-12 1-82 1-131 1 32 1 71 1 38 1-125 1-91 1 79 1 120 1-23 1-52 1-50 1-10 1 144 1 30 1-9 1-70 1 86 1 92 1-78 1-38 1 20 1-23 1 39 1-35 1 41 1 33 1-94 1-11 1-56 1-3 1 92 1 29 1 24 1-39 1-85 1 17 1 8 1 70 1-102 1-37 1 3 1 113 1 26 1 2 1-138 1 25 1-91 1 19 1 150 1-90 1-98 1 92 1 125 1-23 1 60 1 31 1 47 1-41 1-25 1-61 1-67 1-55 1 17 1 71 1-96 1 85 1 164 1-11 1-58 1-113 1-78 1 133 1-69 1-48 1 8 1 135 1 15 1 90 1-63 1-68 1-75 1-96 1 167 1-62 1-109 1 108 1-124 1 123 1 213 1-80 1-281 1 17 1 310 1 14 1-257 1 99 1 62 1 52 1-252 1-93 1 262 1 200 1-173 1-147 1 56 1 17 1 34 1-95 1-58 1-30 1 19 1 142 1 69 1-19 1-48 1 54 1 57 1-40 1-14 1-21 1-170 1-53 1 152 1 54 1 4 1 79 1-106 1 147 1-52 1-69 1 108 1-96 1-144 1 40 1 24 1 118 1-50 1-161 1 172 1-157 1 180 1-26 1-10 1 8 1-25 1 12 1-101 1 68 1 29 1-123 1 67 1 221 1-14 1-69 1 29 1-119 1-35 1 105 1 28 1 47 1-24 1-241 1 180 1-129 1-13 1 109 1 33 1 62 1-102 1-15 1 79 1-32 1-169 1 86 1 80 1-150 1 131 1-41 1-175 1 71 1 246 1-119 1-25 1-78 1-22 1 65 1 120 1-124 1-49 1 35 1 1 1-4 1 25 1 42 1 151 1-12 1-71 1-151 1-64 1 184 1 69 1-14 1-83 1-59 1-35 1 123 1 56 1-297 1 189 1-73 1-89 1 17 1 68 1 74 1-86 1 54 1 59 1 21 1-73 1 9 1 76 1-120 1-20 1 275 1-53 1-343 1 28 1-77 1 379 1-20 1 155 1-166 1-44 1 48 1-148 1 148 1 91 1-58 1-206 1-166 1 244 1 203 1-117 1 93 1 90 1-207 1-13 1-233 1 195 1-154 1-158 1 241 1 70 1 322 1-97 1-261 1 177 1-297 1 404 1-120 1-211 1 45 1 260 1-173 1-17 1 1 1-203 1 230 1 312 1-164 1-277 1 86 1 105 1 73 1-130 1-175 1 119 1-178 1 66 1 1 1 48 1 53 1-174 1-36 1-39 1-20 1 137 1-5 1-24 1 19 1-44 1 70 1 47 1-54 1 178 1-129 1-134 1 350 1-113 1-28 1 125 1-181 1 90 1-24 1 25 1 121 1-306 1 87 1 227 1-57 1-305 1 240 1-86 1 27 1 21 1-35 1-91 1 116 1-148 1 53 1 235 1-91 1-150 1-20 1-18 1 85 1-84 1-18 1 177 1 48 1 5 1-26 1-71 1 33 1 11 1-92 1-47 1-37 1 313 1 8 1-84 1-11 1 17 1 15 1-137 1-113 1 156 1-36 1 153 1-73 1-231 1 0 1 183 1 99 1-46 1-170 1-4 1 57 1-17 1 133 1 146 1-39 1-95 1-87 1-22 1-179 1 70 1 214 1-177 1 11 1-53 1-37 1 25 1 46 1 191 1-120 1-40 1 15 1-30 1 38 1 110 1 14 1 15 1-116 1-14 1 35 1 33 1-1 1 55 1-42 1 30 1-43 1-22 1-29 1-65 1 8 1 46 1-40 1 74 1 29 1-64 1 126 1 22 1-226 1 16 1 70 1-28 1 37 1 57 1 2 1-115 1-62 1 100 1 66 1-58 1 85 1-16 1-119 1-39 1-45 1 70 1 98 1-82 1 1 1-36 1 44 1 190 1 12 1 16 1-89 1-171 1-10 1 119 1 173 1-71 1-47 1 29 1-56 1-192 1 74 1 176 1 65 1-162 1 47 1 153 1-47 1-141 1 102 1-18 1 81 1-190 1 76 1 33 1 19 1 11 1-108 1 37 1 4 1-133 1-82 1 25 1 104 1 22 1 108 1 45 1-4 1-107 1-32 1 47 1-184 1 35 1 40 1-6 1 54 1-17 1 144 1-29 1-167 1-68 1 92 1-30 1-21 1 111 1 142 1-81 1-13 1-100 1-19 1 171 1 9 1-107 1-97 1 231 1-45 1-1 1 0 1 1 1-111 1-42 1-71 1-15 1 154 1 182 1-49 1-65 1-43 1 40 1 36 1-133 1-29 1 118 1-53 1 64 1-14 1-135 1 79 1 144 1-76 1-33 1-153 1 42 1 153 1 71 1 64 1-26 1-132 1 44 1-81 1-115 1-7 1 143 1 87 1-152 1 54 1 83 1-9 1-181 1 199 1-106 1-137 1-22 1 32 1-65 1 21 1 211 1 126 1-88 1-127 1-15 1-60 1-33 1 320 1-20 1-142 1-60 1 104 1-115 1-1 1-40 1 96 1 60 1 65 1 20 1-60 1-12 1-56 1-50 1 28 1 20 1 88 1 6 1-47 1-317 1 240 1-65 1 144 1 42 1-53 1-38 1-140 1 70 1 156 1-77 1-95 1-78 1 204 1 66 1-101 1-29 1 193 1-91 1-259 1 10 1 155 1 174 1 55 1-107 1 21 1 53 1 83 1-162 1-240 1 93 1-20 1 9 1-164 1 101 1 154 1 164 1-49 1-49 1 43 1-302 1-45 1 10 1 74 1 252 1-31 1-243 1 549 1-292 1-78 1-166 1 58 1-21 1-46 1 136 1 10 1 163 1 3 1-198 1-70 1 17 1 49 1-71 1-22 1 69 1 219 1-357 1-66 1 190 1-50 1 38 1-49 1 139 1 47 1-9 1-108 1-78 1 57 1 290 1-69 1-28 1-229 1 58 1 274 1-70 1 1 1-112 1 67 1-67 1 112 1-172 1-50 1-1 1 52 1-145 1 70 1 46 1 26 1-72 1 170 1 110 1-138 1 0 1 75 1-100 1-35 1 184 1-51 1-66 1 73 1-124 1-83 1-54 1 119 1 134 1-266 1-13 1 64 1 154 1 38 1-128 1 209 1 23 1-139 1 83 1-88 1-54 1 162 1-48 1-93 1 10 1-61 1 166 1 22 1-150 1-40 1 19 1-198 1 100 1 226 1-119 1 12 1-66 1 45 1-113 1 111 1 98 1-134 1 13 1-34 1-30 1-4 1 189 1-82 1-43 1 20 1 96 1-64 1-116 1 23 1 16 1 23 1 57 1-49 1 26 1 34 1-61 1-87 1-68 1-5 1 107 1 171 1-68 1 72 1 71 1 58 1-227 1-152 1 207 1 12 1-104 1-112 1-35 1 194 1 22 1 129 1-35 1-116 1 28 1 111 1-32 1-284 1 104 1 114 1-142 1-36 1 122 1-99 1-69 1 80 1 56 1 36 1-41 1-13 1-56 1 213 1-90 1-56 1-90 1-48 1 125 1 73 1 41 1 79 1-47 1-153 1 46 1 167 1-47 1 26 1-51 1-142 1-53 1-21 1 166 1 200 1-64 1-121 1-92 1-51 1 104 1 24 1-93 1 98 1 169 1-90 1-128 1 77 1-134 1 30 1 145 1-58 1-194 1 175 1-26 1 107 1-78 1-1 1 60 1-107 1-143 1 207 1 85 1-21 1-150 1-6 1 142 1-100 1-63 1 67 1-41 1-9 1-20 1 138 1-43 1-105 1 131 1-208 1-10 1 94 1 131 1 12 1-34 1-50 1 120 1 47 1-181 1 97 1-144 1 7 1 215 1 9 1-226 1-14 1 183 1-134 1-47 1 133 1 81 1 39 1-75 1-117 1-84 1-29 1 22 1 201 1 41 1-126 1 10 1 8 1 26 1-9 1-91 1-4 1 150 1 6 1 6 1 26 1-113 1-34 1-81 1 4 1 57 1 66 1 56 1-95 1 28 1-88 1-33 1 9 1 48 1 120 1-111 1 36 1 38 1-88 1 51 1 63 1 67 1-146 1-123 1 129 1-39 1-101 1-3 1 2 1 154 1 153 1-18 1-150 1-141 1-15 1 95 1 28 1 51 1 158 1-20 1-215 1-60 1 66 1 43 1-160 1 18 1 151 1 146 1-5 1-142 1 31 1-44 1 36 1-171 1 51 1 37 1 83 1-5 1-117 1 34 1 218 1-191 1-90 1 189 1 59 1-146 1 86 1-62 1 112 1-18 1-171 1 91 1 22 1-67 1-112 1-25 1 90 1 57 1 68 1 46 1 9 1 16 1-140 1 27 1 133 1 29 1-66 1-107 1 77 1 108 1-92 1-157 1 153 1 54 1 67 1-284 1 80 1 193 1-104 1-26 1-74 1 91 1 2 1-65 1-31 1-99 1 65 1 160 1-66 1 35 1-87 1-31 1 50 1 154 1 54 1-35 1-99 1 132 1-27 1-142 1 38 1-98 1-25 1-74 1 128 1 21 1 196 1 1 1-242 1 32 1 97 1 68 1-246 1-93 1 115 1 43 1 13 1 143 1-73 1-15 1 72 1-168 1-9 1 177 1-97 1-41 1-3 1 26 1-17 1-23 1 123 1-225 1 6 1 314 1-126 1 39 1-32 1-208 1 93 1 90 1-124 1-16 1 28 1 70 1 20 1 148 1-22 1-91 1-96 1-31 1 190 1 41 1 56 1-60 1-264 1 28 1 164 1-23 1-22 1 105 1 14 1-60 1-140 1 85 1 97 1 42 1-67 1 20 1-213 1-1 1 282 1-129 1-145 1 94 1-1 1 59 1 64 1-8 1-49 1-80 1-156 1 41 1 40 1-34 1 155 1-310 1 412 1-222 1 144 1-19 1 24 1-248 1 177 1 196 1-51 1 3 1-138 1-129 1-11 1-65 1 176 1 75 1-8 1 72 1-95 1-240 1 179 1-128 1 4 1 201 1 117 1-168 1-57 1 80 1 69 1-17 1-4 1-43 1 162 1-75 1-230 1-15 1 240 1-16 1-116 1-98 1-21 1-8 1 107 1-18 1 37 1 90 1 153 1-119 1-82 1 196 1-249 1-4 1 34 1-60 1 79 1-10 1-126 1 173 1 177 1-246 1-115 1 207 1-142 1 154 1 8 1-137 1 25 1-33 1 90 1 175 1-17 1-218 1-27 1 59 1 53 1-202 1 122 1 29 1-70 1 168 1-137 1-93 1 1 1 271 1-199 1 5 1 93 1-106 1-113 1 179 1 0 1-38 1 40 1 4 1 132 1-52 1-246 1 202 1 213 1-318 1 146 1 84 1-34 1-104 1 14 1-72 1 63 1 145 1-378 1 17 1 109 1 200 1 48 1-55 1-210 1 123 1-31 1 1 1 93 1-134 1-49 1 180 1-99 1 96 1-63 1-55 1-185 1 24 1-30 1 21 1 198 1-63 1 176 1 86 1-114 1-239 1-22 1 255 1 129 1-118 1 41 1 48 1-49 1-1 1-4 1-52 1-150 1 84 1 25 1-72 1-21 1 45 1 74 1-16 1 64 1-33 1-171 1-12 1 269 1-61 1-170 1 73 1-42 1-48 1 68 1 53 1 79 1-140 1 157 1-38 1-73 1 0 1 23 1-8 1 56 1 34 1-223 1 38 1-46 1-34 1 79 1 22 1 28 1-83 1 47 1 100 1-99 1 5 1-12 1 91 1 11 1-142 1-54 1 207 1 27 1 30 1-127 1 65 1 136 1-14 1-24 1-288 1 65 1 39 1 67 1-23 1-148 1-15 1-12 1 13 1 120 1-3 1-10 1 90 1-206 1 131 1 191 1-47 1-182 1 44 1 23 1 49 1-118 1-27 1 69 1-105 1 130 1-93 1-58 1 218 1 14 1-117 1 107 1 48 1-195 1-121 1 0 1 61 1 90 1 125 1-99 1 22 1 20 1-41 1-77 1-11 1 253 1 10 1-224 1-97 1 28 1 1 1 180 1 20 1-76 1-81 1 25 1 103 1-101 1 1 1-2 1 172 1-29 1-143 1-89 1 60 1 222 1 51 1-220 1-99 1 100 1 119 1-136 1 42 1 48 1 102 1 87 1-91 1-309 1 89 1 232 1-208 1 88 1 205 1-48 1-178 1 73 1-14 1-59 1-6 1-147 1 35 1 44 1-95 1 112 1-21 1 84 1 30 1-31 1-118 1-53 1 183 1 129 1 25 1-11 1-35 1-80 1 43 1-223 1-72 1-28 1 64 1 61 1 82 1-87 1-22 1 102 1-10 1-144 1-37 1 114 1 268 1 71 1-78 1-148 1-1 1-40 1-35 1 111 1 58 1-220 1-86 1 71 1 97 1-69 1 4 1 61 1 25 1-121 1 107 1 6 1 85 1-62 1-64 1 43 1-17 1 144 1 17 1-61 1-59 1-16 1 62 1-30 1-61 1-114 1 34 1 74 1 321 1-275 1 39 1-86 1 25 1 59 1-23 1-114 1 105 1 67 1-89 1-55 1-76 1-35 1 117 1 17 1-121 1-9 1 174 1 85 1-75 1-112 1 136 1-76 1 38 1-43 1-75 1 20 1-40 1 59 1 42 1-117 1 116 1 126 1 73 1-256 1 59 1-18 1-11 1 12 1 57 1 22 1-107 1 13 1 147 1-14 1 53 1-93 1-121 1 23 1-61 1-33 1 97 1-15 1 52 1 34 1 14 1-7 1 85 1-18 1 39 1-175 1 28 1 69 1 105 1-3 1-146 1 167 1-64 1-67 1-184 1-9 1 46 1 38 1-24 1 150 1-143 1-51 1 247 1-52 1-83 1-92 1 62 1 65 1-51 1 33 1-106 1 0 1 146 1-19 1-10 1-137 1 137 1 194 1-295 1-7 1 3 1 29 1 108 1-64 1-13 1 86 1 124 1-102 1-187 1-18 1 192 1-107 1 94 1 68 1-97 1-29 1 78 1 0 1-62 1-22 1-45 1-28 1 34 1 107 1-81 1-10 1 108 1 137 1-97 1-182 1-53 1 155 1 32 1 102 1-80 1-114 1 95 1-65 1-109 1-19 1 154 1 23 1-156 1 61 1 91 1-1 1-120 1 39 1 224 1-146 1-242 1 24 1 24 1 41 1 105 1 112 1-103 1-35 1-46 1 11 1-7 1 212 1-63 1-137 1 3 1-53 1 44 1 12 1 190 1-98 1-123 1 127 1 173 1-18 1-128 1-197 1 156 1 7 1-104 1-4 1 119 1-63 1 130 1 119 1-93 1-26 1 139 1-236 1-151 1 34 1 177 1 66 1 56 1-87 1-68 1-7 1-126 1 75 1 75 1 96 1-204 1-79 1 266 1 78 1-229 1-123 1 30 1-8 1 168 1 25 1-140 1 46 1 122 1-29 1 21 1-196 1 40 1 159 1 101 1-225 1-29 1 19 1 23 1 3 1 2 1 73 1-65 1 60 1-31 1-63 1-35 1 118 1-167 1 6 1 222 1 81 1-98 1-74 1-50 1 146 1-13 1-116 1-64 1 198 1 31 1-32 1-46 1-18 1-24 1 59 1-55 1 79 1-17 1-190 1 100 1-70 1-54 1 117 1 8 1-54 1 125 1 114 1-45 1-4 1-97 1 96 1-215 1-113 1 140 1 283 1-115 1-61 1 9 1 96 1 38 1-143 1 52 1 91 1-117 1-129 1 69 1 100 1-180 1 29 1 14 1 121 1 79 1-103 1-201 1 155 1 105 1-39 1-195 1 30 1 45 1-77 1-10 1-54 1 216 1 21 1-120 1 177 1-44 1-110 1 65 1 85 1-217 1-15 1 107 1-17 1 70 1-35 1-87 1 150 1 11 1-66 1-34 1 60 1-8 1 31 1 87 1-15 1 82 1-170 1-137 1 184 1 88 1-12 1 29 1-2 1-175 1-21 1-80 1-35 1 34 1 203 1-232 1 13 1 312 1-35 1-112 1-111 1 136 1-29 1-26 1-143 1 59 1 14 1-101 1 161 1-3 1-48 1-139 1-1 1 210 1-204 1 86 1 117 1-60 1-69 1 121 1 34 1-15 1-54 1 72 1 20 1 63 1-248 1-46 1 3 1 130 1 194 1 28 1-26 1-167 1-17 1 72 1 71 1-239 1 123 1 64 1-59 1-11 1-6 1-47 1-147 1 9 1 77 1 159 1-146 1-89 1 125 1 15 1 166 1 14 1-203 1 127 1-53 1-149 1 183 1 16 1-200 1-69 1 66 1 3 1 105 1 99 1-97 1-79 1 26 1-48 1-19 1-9 1 10 1 71 1 25 1 15 1-7 1-56 1-19 1-2 1 12 1 2 1 86 1 38 1-10 1 27 1 95 1-110 1-8 1 52 1-12 1-162 1-11 1-16 1 46 1 8 1-30 1 55 1 21 1 123 1 30 1-103 1 115 1-64 1-121 1 78 1-84 1-43 1-42 1 40 1 12 1 2 1 177 1-29 1-67 1-18 1-8 1-69 1 36 1 126 1-93 1 170 1 53 1-244 1 113 1-13 1 27 1-89 1-66 1-37 1 8 1-25 1 142 1-96 1 38 1-7 1 20 1-55 1-11 1 49 1-24 1 31 1 33 1-122 1-4 1 81 1 73 1-123 1 98 1 45 1 57 1 14 1-70 1-76 1 6 1-67 1 200 1-197 1-46 1 57 1 119 1-92 1 58 1 32 1-66 1-49 1-16 1 136 1 107 1-228 1-78 1 39 1 30 1-6 1 224 1-43 1-200 1 21 1-8 1-10 1 100 1 91 1-48 1-157 1 196 1-97 1 126 1-198 1-14 1 79 1 40 1-91 1 69 1-94 1-88 1 58 1 186 1-106 1 51 1 49 1-76 1-94 1 140 1-47 1-68 1 57 1-38 1 9 1 73 1 165 1 53 1-115 1-191 1 119 1 35 1-212 1-20 1 274 1-94 1-53 1-25 1-7 1 152 1-261 1 320 1 94 1-314 1-2 1 42 1 133 1-119 1 59 1 136 1 26 1-237 1-21 1-11 1-13 1 93 1 151 1-96 1-139 1 178 1 43 1-1 1 79 1-113 1-175 1 51 1 7 1-15 1-104 1-21 1 6 1 177 1-28 1-32 1 169 1-109 1 121 1 62 1-256 1-103 1 312 1-72 1-132 1 71 1 124 1-28 1-194 1-166 1 23 1 260 1-71 1-231 1 117 1 311 1-218 1 38 1 47 1-95 1 51 1 18 1-107 1-62 1 48 1-16 1 20 1 154 1-209 1-6 1 74 1-65 1 87 1 220 1 82 1-72 1-262 1-16 1 20 1 106 1 150 1-48 1 74 1-7 1-173 1 37 1 119 1-116 1-107 1 34 1 178 1-96 1-51 1-21 1-86 1 27 1-26 1 5 1 112 1 66 1-194 1-74 1 101 1 77 1-48 1-44 1 197 1-90 1-75 1 28 1 49 1-120 1 51 1-68 1-32 1 107 1-14 1-48 1 73 1 170 1-32 1-132 1-113 1 3 1 15 1 49 1-13 1 90 1 75 1 33 1 6 1-70 1-178 1 129 1 30 1-60 1 150 1-33 1 56 1-141 1-116 1 126 1 53 1-9 1 17 1-107 1 86 1 30 1 27 1-149 1-31 1-22 1 107 1 182 1-109 1-147 1-33 1 48 1-15 1-54 1 117 1 200 1-133 1-119 1 87 1 104 1-233 1-24 1 95 1 117 1 49 1-114 1 97 1-173 1 19 1-86 1 12 1 194 1-278 1 34 1 237 1-178 1-44 1 99 1 290 1 59 1-289 1-22 1-24 1 128 1-55 1 188 1-44 1-363 1 27 1 185 1 13 1-38 1-215 1 48 1 88 1 99 1-65 1-64 1 157 1 157 1-68 1-269 1 111 1 104 1-206 1 44 1 275 1-262 1-66 1 187 1 14 1-121 1 72 1-189 1-2 1 58 1 26 1 125 1-29 1-191 1 112 1 108 1-75 1 86 1-98 1 104 1-33 1 37 1 10 1-31 1-217 1 81 1 28 1-35 1 147 1-98 1-3 1 194 1 57 1-111 1-114 1 160 1-50 1-55 1-57 1 73 1-7 1-26 1-56 1-75 1-67 1 220 1 35 1 13 1 68 1 48 1-42 1-109 1-7 1-30 1-25 1-27 1 27 1 0 1-1 1 77 1 110 1 32 1-134 1 26 1-79 1 21 1 97 1-31 1-67 1-175 1 111 1 143 1-83 1-118 1 72 1 99 1-74 1-44 1-3 1 175 1-90 1-72 1-72 1 74 1 15 1 32 1-209 1 234 1 160 1-28 1 86 1-53 1-326 1-39 1 26 1 95 1 116 1-16 1 70 1 59 1-184 1-61 1-63 1 180 1 15 1 47 1-173 1-32 1 170 1 45 1-187 1 90 1 51 1-65 1 77 1-177 1-122 1 155 1 65 1-91 1-19 1-6 1 167 1-6 1 57 1-33 1-129 1-62 1 242 1-46 1 16 1-79 1-89 1 22 1-50 1 16 1 120 1 17 1-82 1 131 1-9 1-129 1 102 1-138 1-100 1 41 1 93 1 66 1-83 1-44 1-35 1 132 1-32 1-103 1 147 1 15 1-51 1 28 1-101 1 44 1-24 1-26 1-15 1 84 1 109 1-114 1-19 1-48 1 95 1 94 1-135 1-22 1 69 1-69 1 38 1 17 1-65 1 160 1-125 1-30 1 99 1-4 1 56 1 125 1-91 1-70 1-212 1-72 1 185 1 42 1-146 1 23 1 116 1 56 1 77 1-156 1-96 1 63 1 52 1-184 1 28 1-11 1 228 1 121 1-23 1-176 1 18 1-112 1 22 1-12 1 83 1-43 1 46 1 48 1 71 1 90 1-6 1-140 1-88 1 183 1 32 1-11 1-132 1 25 1 73 1-109 1 18 1-45 1-81 1 107 1 144 1-45 1-263 1 133 1-46 1 52 1 126 1-191 1 37 1 220 1 8 1-46 1-43 1-173 1-52 1 82 1 9 1 58 1 136 1-65 1-70 1-97 1-11 1-34 1 94 1 88 1 8 1 41 1-169 1-23 1 191 1 17 1-252 1-62 1 14 1 94 1-47 1 50 1 174 1-41 1 30 1-9 1-243 1 15 1 102 1-36 1 81 1 5 1 76 1 76 1-40 1 14 1 57 1-43 1-26 1 15 1-206 1-51 1 6 1 88 1 148 1 38 1-272 1 288 1 28 1-180 1 117 1-142 1 34 1 30 1-203 1-10 1 131 1 55 1-156 1-70 1 51 1 289 1 3 1-228 1 92 1 61 1 37 1-12 1-176 1-45 1 190 1-134 1 136 1-82 1-125 1 212 1 117 1-186 1-127 1 58 1 119 1-54 1 100 1-97 1-192 1 78 1 22 1 103 1-4 1-16 1-27 1 29 1 125 1-130 1 46 1-77 1 81 1-52 1-72 1 105 1-91 1-16 1-67 1 5 1 2 1 261 1-137 1-40 1 93 1 93 1 15 1-68 1-64 1-24 1 53 1-32 1-113 1 102 1 108 1-179 1-39 1 189 1-88 1-74 1-105 1 4 1 58 1 87 1 140 1-33 1-32 1 13 1-144 1 135 1-144 1 103 1 175 1-181 1-25 1 124 1-87 1 25 1-8 1 14 1-23 1 70 1-98 1 23 1 17 1 169 1-97 1-52 1 30 1-5 1 37 1 66 1-198 1 35 1 72 1-5 1 47 1-174 1 75 1 4 1 53 1 92 1 18 1-132 1 88 1 43 1-41 1-141 1 50 1-86 1 15 1 65 1-134 1-7 1 126 1 52 1-104 1-98 1 94 1 72 1-107 1 83 1-6 1-44 1 46 1 81 1 100 1-51 1-21 1-60 1-14 1 30 1-164 1-24 1 167 1-67 1 12 1 145 1-68 1-71 1-84 1-65 1-10 1 172 1 45 1 114 1-91 1-70 1 165 1-108 1-139 1 178 1 87 1-57 1-130 1-1 1-118 1-96 1 87 1 144 1 39 1-207 1 39 1 44 1-51 1-27 1 44 1-89 1 23 1 111 1 149 1 5 1-69 1-140 1 105 1 20 1-6 1 227 1-85 1-356 1 262 1-88 1 108 1 61 1-86 1-160 1 42 1 62 1-104 1-50 1 105 1 1 1-127 1 29 1 224 1-19 1 98 1-312 1-25 1 344 1-19 1-165 1-96 1 82 1 91 1 62 1-157 1-144 1 60 1 77 1 13 1 79 1 28 1-113 1-29 1-1 1 122 1-92 1 104 1-142 1 9 1 45 1 84 1-2 1 35 1-53 1 149 1-197 1-101 1 4 1 68 1-18 1 109 1 101 1-38 1 75 1-178 1-28 1 74 1 56 1-116 1-164 1 126 1-74 1-12 1 71 1 219 1 37 1-289 1-115 1-64 1 166 1 36 1 196 1 52 1-22 1-3 1-145 1-207 1 47 1 271 1-218 1-67 1 308 1-227 1-53 1 13 1 121 1 90 1-125 1 171 1-55 1-205 1-6 1 86 1 80 1 23 1-226 1 11 1 93 1 134 1-75 1-122 1 269 1-197 1-125 1 127 1 188 1-276 1-36 1 163 1 121 1-143 1 108 1 0 1-63 1 80 1 7 1-13 1-143 1-44 1-32 1 147 1-93 1-41 1-23 1 84 1 12 1 98 1-128 1-21 1 140 1-4 1-49 1 165 1-65 1 8 1-21 1-90 1-213 1 37 1 308 1-87 1 59 1 72 1-24 1-195 1-159 1 34 1 275 1-28 1-167 1 270 1-9 1-363 1 187 1 180 1-10 1-231 1-89 1 31 1-29 1 149 1 196 1-131 1 65 1-91 1-131 1 44 1-86 1 19 1 210 1 40 1-161 1 46 1-51 1 15 1-1 1 88 1-9 1 74 1 1 1-155 1 43 1 82 1-139 1-77 1 166 1-23 1-95 1 107 1 57 1-56 1-154 1 38 1 71 1 148 1-63 1-175 1 126 1-50 1-54 1-10 1 35 1 35 1-142 1-14 1 144 1 151 1-90 1-98 1 20 1 36 1-112 1 257 1 22 1-174 1-73 1 7 1 113 1-148 1-47 1 31 1 33 1 186 1 12 1 6 1-47 1 49 1-35 1-17 1-13 1 112 1 3 1-99 1-112 1 135 1-59 1-186 1 72 1 164 1 66 1 6 1-30 1-47 1-82 1-126 1 139 1 38 1-157 1 11 1 68 1 19 1 111 1 44 1-126 1-146 1-1 1 5 1-34 1 4 1 117 1 38 1 143 1-113 1-94 1 48 1-72 1 156 1-9 1 16 1-173 1 134 1 84 1-124 1-136 1 68 1 178 1 9 1-102 1-70 1 132 1-105 1 51 1 91 1-45 1 36 1 25 1-43 1 79 1-24 1-22 1-71 1 30 1-98 1-47 1 14 1 16 1 108 1-50 1-80 1 27 1 7 1-12 1 49 1 55 1-39 1-40 1-40 1-67 1 90 1 92 1-192 1 40 1 101 1 68 1-64 1 135 1 1 1-89 1 15 1-53 1-127 1 20 1 107 1 179 1-14 1-253 1-114 1 53 1 31 1-7 1 196 1 20 1-43 1-81 1-82 1 49 1-84 1 60 1 134 1 17 1 74 1-101 1-32 1-38 1-39 1 0 1 163 1-3 1-55 1-50 1 70 1 48 1-145 1 87 1-4 1 23 1-76 1 11 1 47 1 35 1 56 1-184 1-32 1-36 1-8 1 167 1 36 1-103 1-13 1 83 1-48 1-87 1-39 1-32 1 69 1 107 1 20 1 106 1-138 1-165 1 303 1-16 1-95 1 8 1 73 1-33 1 44 1-83 1-136 1-33 1 193 1 60 1-33 1-173 1 31 1-61 1 21 1 24 1 160 1 81 1-30 1-6 1 35 1-130 1-221 1 164 1 71 1-178 1 33 1 11 1-35 1-42 1-19 1 73 1 172 1-126 1 90 1 9 1-107 1-146 1 28 1 87 1 85 1 24 1 89 1 59 1-63 1-121 1 35 1 16 1-8 1-168 1 92 1-88 1 88 1 91 1-37 1-65 1-82 1-6 1 2 1 48 1 63 1 29 1 103 1-248 1 28 1 180 1 64 1-39 1 20 1-158 1-120 1 159 1-85 1-57 1 59 1 35 1 60 1-87 1 190 1-86 1-65 1 207 1-32 1-132 1-70 1 21 1 121 1-46 1-53 1 212 1-3 1-91 1-13 1-55 1-192 1 58 1 158 1-8 1 54 1 17 1-3 1-113 1 33 1 1 1-64 1 125 1-77 1-189 1 101 1 70 1-132 1-51 1 79 1 120 1-50 1 122 1 64 1-25 1-127 1 109 1-44 1 109 1 28 1-44 1-150 1-176 1 226 1 16 1-65 1-34 1 70 1-85 1 195 1-112 1-220 1 186 1 37 1 63 1-12 1-45 1 124 1-103 1-160 1-62 1 70 1 82 1-97 1 186 1-41 1-42 1-125 1 46 1 3 1 59 1 179 1-122 1-185 1 14 1 99 1-61 1 108 1 82 1-145 1-63 1-51 1 119 1 31 1-72 1-42 1 152 1 11 1-17 1-56 1-165 1 17 1 10 1 21 1 134 1-6 1-11 1 32 1-92 1-34 1 168 1 156 1-34 1-189 1-154 1 55 1 37 1-63 1-32 1 169 1 67 1-136 1 79 1 117 1-40 1-78 1-133 1 97 1 140 1-21 1-174 1 213 1-55 1-229 1 106 1 126 1 78 1 11 1-98 1-230 1-12 1 159 1 201 1 36 1-300 1 162 1-126 1-66 1-35 1 16 1 149 1 2 1 9 1 116 1-50 1-86 1 101 1-26 1-151 1 12 1 158 1-197 1 61 1-44 1-27 1-21 1 26 1 178 1-142 1 49 1 156 1 11 1-121 1-19 1 44 1 71 1-222 1-44 1 17 1 33 1-36 1 84 1-72 1 21 1 119 1-96 1-31 1 23 1 172 1 33 1-1 1-13 1-102 1 50 1-28 1 41 1-9 1-119 1-77 1-54 1 50 1 69 1-91 1 198 1 108 1-205 1-95 1-41 1 1 1 1 1 23 1 75 1-53 1 220 1 14 1 29 1-39 1 112 1-95 1-143 1-69 1 181 1 36 1-185 1 174 1 2 1 65 1-229 1 38 1 72 1-84 1 172 1 2 1 20 1-114 1-186 1 273 1-3 1 3 1-81 1-112 1-41 1 4 1 208 1 56 1-85 1-127 1 87 1 38 1-89 1-18 1-57 1 131 1-27 1-50 1 21 1 24 1 53 1-163 1 80 1 15 1-36 1 108 1-56 1-69 1-117 1 151 1 4 1-84 1-34 1 145 1 1 1 107 1-73 1-174 1-62 1 326 1 39 1-195 1 198 1-342 1-19 1 337 1-338 1-21 1 367 1 34 1-58 1-80 1-231 1 129 1 145 1-73 1-101 1-3 1 199 1-139 1 49 1 105 1-325 1 213 1 84 1-2 1-123 1-82 1 164 1 32 1-20 1-108 1 168 1-70 1-126 1 31 1 66 1-94 1-55 1 38 1 38 1-47 1-29 1 174 1 82 1-57 1-10 1 2 1-40 1-146 1 21 1 55 1-55 1 91 1 47 1 86 1 0 1-152 1 10 1 49 1-169 1-63 1 78 1 173 1 79 1-72 1 29 1-35 1-12 1-7 1 3 1-151 1 39 1-84 1 86 1-72 1 132 1 33 1-16 1 104 1-255 1-2 1 227 1 111 1-159 1-153 1 50 1 129 1 40 1 64 1-26 1-61 1-125 1-83 1 206 1 158 1-297 1-65 1 215 1-53 1 53 1 26 1 100 1-34 1-295 1-34 1 144 1 35 1-92 1-81 1 191 1 68 1-93 1-119 1 98 1-11 1-93 1 61 1-5 1-104 1 226 1 2 1-113 1-171 1 287 1 106 1 7 1-2 1-143 1 48 1-6 1-66 1 16 1-107 1-16 1 163 1 33 1-105 1 51 1-61 1-17 1 93 1 16 1 69 1-103 1 4 1 78 1-42 1-291 1-36 1 233 1 157 1-162 1 78 1-137 1 68 1-81 1-147 1 120 1 48 1-71 1-94 1-29 1 176 1-14 1-79 1 57 1 21 1 156 1 78 1-90 1 67 1-93 1-91 1-105 1 164 1-84 1-42 1 47 1 33 1 17 1 76 1 72 1-228 1 239 1-118 1-146 1 49 1-63 1 47 1 36 1-53 1 47 1-60 1-41 1 93 1 4 1 111 1-42 1-58 1 171 1-46 1-148 1 125 1 116 1-95 1-21 1 74 1-80 1 40 1-49 1-171 1 17 1 60 1 142 1-174 1 18 1-95 1 95 1 89 1 112 1-93 1 78 1-37 1-268 1-3 1 290 1-132 1 111 1 58 1-41 1-3 1-59 1 232 1-214 1-133 1 230 1-102 1-232 1 210 1-31 1-38 1 41 1 74 1-30 1-128 1 243 1 58 1-76 1-11 1 113 1-26 1-1 1-152 1-76 1 8 1-45 1 106 1 138 1-190 1 14 1 124 1-290 1 240 1-69 1-248 1 170 1 184 1-114 1 84 1 175 1-247 1-229 1 266 1-37 1-92 1 66 1-87 1 97 1 75 1-69 1-59 1 289 1-203 1-195 1-24 1 118 1 195 1-120 1-105 1-36 1 2 1 180 1 111 1-62 1-128 1 13 1 80 1-44 1 136 1-32 1 74 1-236 1 126 1-162 1-92 1 34 1 14 1 108 1 25 1-145 1 142 1 69 1-156 1 85 1-119 1 122 1 114 1-90 1 33 1-5 1-48 1 2 1-41 1-31 1 0 1 14 1 21 1-18 1-15 1-35 1-65 1 113 1-89 1-25 1 20 1 115 1 12 1-52 1 53 1-65 1 137 1 75 1-190 1-64 1 255 1-86 1-116 1-53 1 58 1 59 1 129 1-29 1-33 1-102 1 237 1-44 1-286 1 362 1-95 1-234 1 54 1-2 1 123 1-124 1-46 1 309 1-144 1 49 1 97 1-166 1-2 1-17 1-62 1 46 1-41 1 210 1-273 1-133 1 262 1 69 1-275 1 188 1 218 1-371 1-136 1 119 1-75 1 37 1 62 1-1 1-25 1 231 1 1 1-132 1 168 1 97 1-110 1-276 1 63 1-20 1-87 1-22 1 67 1 326 1 106 1-33 1-106 1-82 1 35 1 9 1-135 1 160 1-91 1-132 1 280 1-51 1-123 1-67 1-38 1 358 1-329 1-86 1 30 1-45 1 247 1 27 1-54 1-260 1 230 1-94 1-103 1 138 1 192 1-26 1-187 1 149 1-23 1-156 1-33 1 129 1-47 1-76 1 297 1 49 1-13 1-36 1-203 1-71 1 31 1 116 1-116 1 185 1 98 1-185 1-32 1-78 1-46 1 9 1 152 1 70 1 65 1-64 1-92 1 50 1 2 1-56 1-83 1 89 1 82 1-39 1-92 1-105 1 0 1 287 1 36 1-40 1 46 1-102 1-31 1 87 1-58 1-85 1 31 1 5 1-94 1 112 1 12 1 68 1 22 1-163 1 36 1 100 1-129 1 17 1-54 1-113 1-19 1 96 1 73 1 53 1-154 1-19 1-70 1 101 1 137 1 148 1-3 1-80 1-102 1-110 1 139 1 37 1-107 1 24 1-30 1-101 1 127 1 37 1-125 1 45 1-63 1 77 1-26 1-2 1 9 1 106 1-101 1 120 1-90 1-30 1 40 1-108 1 194 1-55 1-92 1 117 1-83 1 3 1-121 1 98 1-59 1-75 1 67 1 192 1-3 1 87 1 18 1-39 1-118 1 134 1-87 1-23 1-110 1-54 1 173 1-18 1-62 1 100 1 21 1-35 1 88 1 65 1-128 1 100 1-99 1-174 1 103 1-12 1 76 1-78 1-209 1 33 1 171 1 34 1 138 1 16 1-77 1 11 1-59 1-178 1 217 1 76 1-117 1 94 1 56 1-167 1-108 1 22 1 165 1-80 1-136 1 125 1 29 1 1 1 16 1 22 1-75 1 65 1-170 1-38 1 138 1-175 1 43 1 318 1-145 1-152 1 85 1 32 1 59 1 83 1 17 1-320 1 74 1 119 1-203 1 135 1 95 1-5 1 97 1-108 1-128 1 76 1 48 1-83 1-50 1-70 1 20 1 38 1 124 1 136 1-202 1 56 1-27 1-33 1 129 1-51 1-190 1-21 1 147 1 92 1 119 1 7 1-62 1-85 1-80 1 63 1-113 1 111 1-33 1 73 1 39 1-95 1-94 1 116 1 59 1-37 1-62 1-132 1-5 1 139 1 62 1-158 1-72 1 22 1 94 1 146 1 34 1-86 1 59 1-10 1-254 1 26 1 43 1 152 1-129 1 28 1 64 1-40 1 5 1 70 1-85 1-176 1 110 1 25 1 143 1-32 1 12 1-165 1 59 1 2 1-15 1 213 1-64 1-91 1-91 1 61 1 240 1 20 1-87 1-182 1 40 1-82 1 53 1 6 1-118 1 47 1 281 1-195 1-40 1-26 1 301 1-40 1-169 1 53 1-9 1 78 1 43 1-158 1-18 1-69 1-33 1 179 1-12 1-10 1-97 1-197 1 94 1 222 1-308 1 87 1 275 1-11 1 166 1-316 1-201 1 18 1 60 1 137 1 113 1 54 1-180 1-121 1-5 1 237 1-229 1 106 1 103 1-49 1 52 1 182 1 8 1-79 1-257 1 67 1 14 1 137 1 12 1-258 1-146 1 76 1 88 1 42 1 68 1-7 1-123 1 135 1 143 1-144 1 19 1-31 1 95 1-47 1-10 1 57 1-130 1 66 1 196 1-1 1-110 1-267 1 86 1 233 1-10 1-236 1-29 1 31 1-22 1-91 1 242 1-122 1-93 1 237 1-95 1-192 1 128 1-39 1 301 1 72 1-200 1-103 1-44 1-17 1-33 1 255 1 131 1-288 1-91 1 90 1 54 1-197 1 136 1 42 1-194 1 153 1 153 1-33 1 128 1-201 1-154 1-28 1 76 1 55 1-40 1-56 1 30 1 39 1 98 1-33 1-27 1-70 1-24 1 188 1 96 1-139 1-9 1-24 1-102 1 164 1-20 1 37 1-11 1-43 1 91 1 98 1-50 1-23 1-70 1-71 1-74 1-8 1 241 1 60 1-43 1-91 1-78 1 70 1-46 1 63 1-122 1 29 1 99 1 3 1-56 1-168 1 34 1-4 1 123 1-44 1-99 1-35 1 196 1 130 1-111 1-139 1 137 1-21 1-216 1 300 1 120 1-125 1-164 1 14 1-28 1-125 1 132 1 194 1-247 1 210 1-91 1-201 1 56 1 172 1-26 1 35 1-219 1-6 1 117 1 0 1-35 1-56 1 28 1 187 1 17 1 55 1 71 1-143 1-23 1 14 1-130 1-69 1 62 1 131 1-100 1 91 1-165 1 58 1-48 1 147 1-68 1-81 1 91 1-97 1-26 1 84 1 55 1-57 1-1 1 144 1 59 1-70 1 90 1 117 1-238 1-36 1-213 1 37 1 65 1-28 1 80 1 94 1 168 1 21 1-5 1 14 1 6 1-151 1 132 1-279 1 39 1 31 1-91 1-8 1 60 1 62 1-39 1-135 1-11 1 73 1 255 1 28 1-147 1-196 1-57 1 164 1 38 1 41 1 109 1-92 1-140 1 12 1 293 1-194 1 120 1-125 1-193 1-42 1 173 1 170 1-110 1-63 1 64 1-91 1 51 1 42 1-18 1-60 1-15 1 178 1-94 1 35 1 85 1-15 1-53 1-110 1-41 1 191 1-16 1-176 1-38 1 56 1 127 1-77 1 2 1 165 1 86 1-133 1-236 1-57 1 9 1 59 1 102 1 6 1-63 1 159 1-24 1-28 1-75 1-48 1 249 1 49 1-99 1-154 1 107 1-10 1-46 1 62 1 40 1-93 1-137 1 124 1-10 1-38 1 102 1 48 1 29 1-78 1-109 1 62 1 193 1-77 1-97 1 43 1-140 1 107 1 76 1-87 1-163 1 180 1 32 1 141 1 10 1-114 1 82 1-140 1-100 1 144 1-33 1 39 1 7 1-36 1-200 1 160 1-13 1-175 1 72 1 17 1-143 1 208 1 225 1-198 1-70 1-140 1 147 1 82 1-124 1 298 1-229 1-85 1 209 1 32 1-40 1-204 1 115 1-95 1 65 1 10 1 23 1 17 1-126 1 37 1 136 1-144 1-143 1 99 1 157 1 34 1 99 1-1 1-167 1 41 1-41 1-47 1-37 1-89 1 76 1 242 1-81 1-145 1-109 1 70 1 195 1 70 1-151 1-8 1-81 1-86 1 94 1 20 1 20 1-31 1 191 1 62 1-305 1 194 1 135 1-190 1 63 1 38 1 20 1-234 1 17 1-68 1 32 1 273 1-61 1 72 1-143 1 140 1-126 1-149 1-58 1 34 1 82 1 86 1 73 1 26 1-33 1-34 1-297 1 42 1 281 1-181 1-11 1 188 1-37 1 35 1-91 1 16 1-89 1 157 1-10 1 62 1-227 1 115 1-138 1 22 1 4 1 129 1 69 1-231 1 197 1-34 1 117 1-281 1-81 1 354 1 26 1-266 1-163 1 109 1 374 1-232 1 23 1 59 1 3 1 113 1 69 1-266 1-96 1 110 1 85 1-71 1 97 1 81 1 18 1 7 1-127 1 85 1-269 1-4 1 194 1-8 1-221 1 294 1-5 1-308 1-29 1 101 1 127 1-224 1 96 1-55 1 136 1 201 1-84 1-43 1 168 1-74 1-361 1 81 1 96 1 12 1 32 1-31 1-8 1 23 1-33 1-34 1 29 1 185 1 29 1 0 1-53 1-267 1 13 1 178 1-227 1-18 1 232 1-33 1-129 1-16 1 151 1 11 1 37 1 99 1-121 1 104 1-15 1-214 1-25 1 85 1-4 1-5 1-104 1 3 1 19 1 147 1 32 1 5 1-150 1-65 1 75 1-30 1 29 1 78 1-68 1-21 1-154 1 207 1-13 1 68 1-71 1 90 1 153 1-276 1-16 1-55 1 107 1 145 1-185 1 56 1 42 1 51 1-11 1 100 1-34 1-100 1-107 1-36 1 72 1 36 1 2 1-145 1 97 1 11 1-15 1 151 1-84 1-137 1 31 1 172 1-77 1-97 1 91 1-66 1 165 1 74 1-69 1-86 1-114 1-54 1 165 1-84 1-130 1 24 1 124 1 80 1 64 1 104 1-23 1-7 1-103 1-86 1-18 1-8 1-7 1 75 1 35 1-72 1-100 1 198 1 74 1-78 1 26 1-1 1-67 1 43 1-100 1-64 1-1 1 18 1-8 1 239 1-76 1-40 1-169 1 74 1 60 1 98 1 45 1-107 1-90 1-93 1 3 1 4 1-36 1 196 1-81 1 42 1 21 1-20 1-52 1-22 1 13 1 75 1 130 1-59 1-79 1-3 1-40 1-80 1 2 1 46 1 94 1 84 1-157 1-45 1 64 1 145 1-14 1-131 1-31 1 77 1-9 1 5 1 34 1-130 1-34 1 50 1 92 1-122 1 148 1 2 1 33 1 95 1-36 1 43 1-46 1 7 1-58 1-29 1 108 1-26 1-24 1-203 1-90 1 37 1 20 1-78 1 58 1 113 1-118 1 3 1 204 1-166 1-4 1-33 1-48 1 132 1 76 1-76 1 145 1 63 1-105 1-54 1 114 1-27 1-120 1 100 1 85 1-65 1 53 1 24 1-50 1 99 1-28 1-150 1 81 1-151 1-42 1-48 1 70 1 16 1 28 1 138 1-102 1 30 1-47 1 76 1-6 1-30 1-130 1 59 1-45 1-21 1-47 1 99 1-21 1-66 1 24 1 51 1-62 1 172 1-44 1 4 1-29 1-89 1 22 1 90 1 107 1 69 1-28 1-153 1 123 1-270 1 24 1 208 1-133 1-89 1 43 1 147 1-14 1-139 1-18 1 254 1-93 1-220 1 150 1 207 1-30 1-112 1-21 1 17 1 172 1-2 1-85 1-54 1-165 1 124 1-76 1-117 1 13 1 162 1-106 1 73 1 94 1 103 1 20 1-34 1-227 1-32 1 64 1 74 1 47 1 50 1-22 1-205 1 51 1-110 1 8 1 164 1-117 1 33 1-34 1 103 1-129 1-18 1 93 1-71 1 128 1 228 1-15 1-256 1-149 1 252 1-16 1-147 1 225 1 105 1-306 1-69 1 168 1-49 1 177 1-66 1-83 1 61 1-145 1 23 1 75 1 51 1 66 1-46 1-211 1 260 1 63 1-53 1-146 1 57 1-46 1 157 1 21 1-164 1 155 1-54 1-218 1-2 1 15 1 148 1 65 1-169 1-26 1-91 1 39 1 100 1 31 1-139 1-32 1 169 1-21 1 90 1-106 1 12 1-89 1-57 1 35 1 226 1 15 1-100 1-41 1-8 1-57 1 108 1 123 1 29 1-183 1-106 1 128 1 34 1-130 1 66 1-6 1-54 1 36 1-22 1-48 1 105 1 164 1-45 1 22 1 42 1-128 1 22 1 35 1-70 1 59 1-76 1-169 1 146 1 85 1 132 1-1 1-301 1 24 1 147 1-75 1 23 1-128 1 47 1 152 1-9 1 111 1-78 1-179 1 203 1 66 1-45 1-130 1-152 1 136 1 102 1-53 1-154 1 123 1 64 1 7 1-129 1-130 1-41 1 11 1 42 1 162 1-20 1-127 1 5 1 171 1 37 1-19 1-126 1-8 1 101 1-67 1-38 1 119 1-106 1-6 1 83 1 92 1-54 1-106 1 222 1 10 1-92 1-111 1 142 1-239 1 30 1 219 1-37 1-161 1 32 1 131 1-56 1-67 1 14 1 105 1-50 1-258 1 61 1 162 1 151 1-34 1-140 1 59 1 20 1 51 1-115 1-26 1 145 1-1 1-103 1-32 1-167 1 70 1 133 1 80 1-82 1 57 1-49 1 36 1 78 1 11 1-283 1 149 1-32 1-33 1 177 1-25 1-5 1-73 1-128 1-76 1 125 1 161 1 8 1-58 1 43 1-220 1 28 1 132 1 168 1-55 1-55 1-243 1-23 1 176 1-31 1-150 1 43 1 39 1 216 1 27 1-9 1-102 1 78 1 73 1-53 1-82 1-88 1-128 1-14 1 97 1 62 1 168 1-147 1 18 1 65 1-51 1 56 1-11 1-137 1-77 1-20 1 27 1 135 1-12 1 69 1 96 1-78 1-55 1 43 1 45 1-208 1-1 1-13 1 37 1 52 1-3 1-113 1 247 1 32 1-38 1-92 1 38 1 0 1 23 1 51 1-94 1-137 1 32 1 198 1 39 1-171 1 24 1-55 1 4 1-94 1 163 1 25 1-140 1-6 1 209 1 49 1-53 1 44 1-18 1-31 1-11 1-7 1 29 1-134 1-125 1 104 1-81 1-77 1 164 1-128 1-55 1 44 1 155 1 3 1 56 1-95 1 32 1 173 1 48 1-40 1 12 1-151 1-162 1 57 1 137 1 26 1 23 1 58 1-145 1 37 1-67 1 107 1 94 1-127 1-303 1 70 1 277 1-214 1 4 1 160 1 123 1-165 1 7 1 139 1-31 1-239 1-66 1 289 1 167 1-313 1-89 1-99 1 39 1 101 1 61 1 35 1-34 1 10 1-155 1 86 1 146 1-171 1 145 1 68 1-83 1 130 1-82 1-73 1-79 1 4 1 209 1 83 1-38 1-67 1-38 1 2 1-103 1 157 1 35 1-280 1 36 1 100 1-90 1 173 1-47 1-59 1 91 1-58 1-177 1 35 1 113 1-138 1-3 1-49 1-13 1 103 1 149 1 16 1-166 1 160 1-227 1 271 1 4 1-248 1 165 1 157 1-28 1-72 1-130 1 13 1 26 1 19 1-112 1 74 1 78 1-55 1-199 1 338 1 63 1-51 1-31 1-44 1-129 1-40 1 95 1 100 1-22 1 25 1-260 1-61 1 157 1 2 1 71 1 26 1-50 1 108 1-27 1-4 1-76 1 94 1 46 1-149 1-166 1 22 1 80 1 228 1 10 1-133 1-27 1-2 1-141 1-76 1 179 1 195 1 84 1-112 1-230 1-119 1 214 1 134 1 28 1-368 1-67 1 197 1 80 1 82 1 29 1-331 1 79 1 189 1-33 1 148 1 77 1 30 1-240 1-7 1 125 1-227 1 156 1 63 1-7 1-120 1-9 1 190 1-189 1-188 1 67 1 129 1 23 1 87 1-18 1-183 1-1 1 187 1 59 1-56 1-213 1-18 1 97 1-69 1 120 1-15 1 2 1 105 1-103 1 72 1-14 1-159 1 147 1-109 1-117 1 24 1 117 1 62 1 1 1-28 1 70 1-60 1-161 1 187 1-123 1 83 1 111 1-36 1-53 1-46 1-130 1 11 1-5 1 110 1 6 1 164 1 45 1-351 1 25 1 72 1-73 1 1 1 258 1-35 1-304 1 10 1 187 1 54 1 33 1-44 1-43 1 20 1 102 1 127 1-151 1-127 1-16 1-80 1 94 1-71 1 53 1-44 1-42 1 208 1-129 1-63 1 77 1 60 1-3 1 95 1 102 1-90 1-216 1 58 1-45 1 241 1-239 1-50 1 159 1-1 1-62 1 11 1-14 1 171 1-98 1-42 1 151 1-148 1-36 1-93 1 109 1-70 1-26 1 178 1-96 1-63 1-15 1 125 1 210 1-38 1-153 1-113 1-42 1-5 1 34 1 62 1 79 1-55 1 37 1-14 1 19 1-70 1 43 1 88 1 7 1-112 1 42 1-103 1 112 1 7 1-16 1 113 1-52 1-114 1-46 1 75 1 131 1 4 1-32 1-222 1 142 1 65 1-234 1 137 1-74 1-90 1 42 1 44 1 228 1-18 1-80 1-136 1-57 1 213 1 160 1-19 1-335 1 11 1 121 1-66 1 59 1 0 1 86 1 62 1-138 1-55 1-36 1 39 1-47 1 0 1 40 1-51 1 42 1 177 1 36 1-66 1-167 1 86 1 77 1-184 1-67 1 232 1 114 1-82 1-84 1 51 1 97 1-261 1-28 1 0 1-4 1 44 1 226 1-61 1-105 1 12 1 88 1 91 1-89 1-130 1-54 1 46 1 211 1-18 1-48 1 32 1 52 1-140 1 21 1 0 1-93 1 110 1 33 1 1 1-155 1 79 1 155 1-162 1 152 1-148 1-117 1 47 1-5 1 27 1-16 1 260 1-18 1-33 1 68 1-17 1-70 1-119 1 89 1 72 1-265 1-56 1 227 1 91 1-103 1-151 1 110 1 46 1-142 1 201 1-18 1-68 1 98 1-70 1-142 1 81 1 101 1-195 1 0 1 200 1-59 1-143 1 81 1 246 1-16 1-14 1-307 1 100 1-147 1 23 1 131 1-29 1-171 1 228 1 125 1-65 1-99 1 69 1-18 1-147 1 103 1-116 1 34 1 120 1-95 1 62 1-28 1 84 1 141 1-134 1-171 1 70 1-51 1 85 1-172 1 71 1 73 1 10 1 47 1 76 1-185 1 21 1 136 1-143 1-66 1 143 1-31 1-109 1 46 1 185 1-22 1-3 1 68 1-97 1-126 1 243 1-3 1-52 1-94 1 24 1 125 1-226 1-5 1-56 1 20 1 187 1 87 1 15 1-71 1-109 1-140 1 178 1 25 1-146 1-76 1-1 1 44 1 21 1 166 1-16 1 41 1-226 1-49 1 128 1 80 1 7 1-87 1 36 1 39 1 68 1-105 1-94 1 154 1-62 1-22 1-55 1-60 1 129 1-23 1-103 1 197 1 16 1 37 1-112 1 130 1-118 1-34 1-28 1-148 1 74 1 230 1 64 1-178 1 102 1 109 1-148 1-198 1 29 1-67 1-6 1 38 1 50 1 31 1-2 1-45 1 41 1 201 1 58 1-25 1-103 1 71 1-26 1-110 1-94 1 126 1 98 1 20 1 5 1-48 1-196 1 264 1-10 1-172 1-113 1-37 1 78 1 222 1 23 1-69 1 6 1-103 1 27 1 91 1-44 1-109 1 61 1 82 1-1 1-59 1-53 1 61 1 45 1-104 1-129 1-15 1-3 1 111 1 68 1-18 1 37 1 19 1-30 1-63 1-70 1-19 1 86 1 70 1-89 1-30 1 90 1 11 1 98 1-57 1 19 1-44 1 128 1-32 1-28 1 5 1-83 1 35 1-158 1-45 1 131 1-100 1 32 1 68 1-134 1-52 1 91 1 36 1 36 1-51 1 53 1-60 1 185 1-38 1-158 1 25 1 211 1-57 1 15 1 17 1-83 1-168 1 64 1 204 1-211 1 25 1 151 1-17 1-20 1-139 1 217 1 46 1-179 1-35 1 66 1 166 1-136 1-28 1-107 1 233 1-26 1-182 1-100 1 68 1 179 1-48 1 6 1-14 1 154 1-44 1-134 1-17 1 16 1-162 1-54 1 26 1 116 1-66 1 39 1 129 1 52 1-38 1-186 1-62 1 7 1 74 1 157 1-37 1-21 1 90 1-148 1 177 1 106 1-24 1-47 1-87 1-129 1-64 1 130 1 100 1-63 1-150 1 3 1 15 1-38 1 24 1 74 1 239 1-6 1-2 1-12 1-88 1-161 1-88 1 175 1-31 1-89 1 239 1-67 1-100 1 189 1-74 1-188 1-35 1 113 1-56 1-93 1 12 1 250 1-125 1 5 1 105 1-213 1-74 1-22 1 415 1-173 1 114 1-67 1 23 1-53 1-180 1-30 1 127 1 313 1-30 1-126 1-79 1-152 1 141 1-67 1 89 1 89 1-142 1-99 1-32 1 134 1-39 1 111 1-214 1-26 1 107 1 149 1 28 1-104 1 50 1-30 1 58 1 35 1-184 1 88 1 67 1 10 1-106 1 59 1 27 1-72 1 13 1-68 1-22 1 29 1 79 1 15 1 42 1 24 1 17 1-230 1-63 1 209 1 23 1-165 1 43 1-109 1 167 1 46 1 152 1-217 1-17 1 36 1-158 1 66 1 135 1 57 1-234 1-93 1 141 1-66 1 96 1 296 1-29 1-75 1-129 1-97 1 151 1 90 1-70 1 183 1-149 1-274 1 76 1 265 1-39 1-9 1 19 1-292 1 56 1 200 1-135 1 158 1-235 1-56 1 100 1-4 1 225 1-117 1-145 1 56 1 157 1-28 1-247 1 153 1 20 1-144 1 228 1 57 1-151 1-161 1 36 1 183 1 2 1 159 1-138 1-103 1 67 1-26 1-38 1 133 1-277 1 148 1 88 1-76 1 185 1-37 1-5 1 56 1 37 1-87 1-238 1-40 1 112 1 4 1 228 1-77 1-67 1-80 1-98 1 74 1 89 1 22 1-223 1 93 1 62 1-98 1-66 1 239 1 9 1 30 1 4 1-157 1 175 1-38 1-82 1-75 1 24 1 26 1 35 1-102 1-29 1 50 1 242 1-79 1-72 1-47 1-46 1-5 1 74 1 1 1 3 1 130 1-83 1 6 1-17 1-134 1-55 1 38 1 56 1 41 1 88 1-73 1-65 1 104 1-59 1 103 1-53 1 12 1 70 1 5 1-24 1 17 1-61 1-68 1-194 1 203 1 124 1-174 1-110 1 76 1-5 1 75 1-37 1 62 1 135 1-79 1-45 1 0 1 35 1 113 1-43 1-30 1 53 1 10 1-81 1-57 1 86 1 63 1-19 1-14 1-43 1-231 1 87 1 251 1-217 1-56 1 157 1-82 1 51 1-191 1 55 1 116 1 36 1-61 1 18 1 58 1-18 1 48 1-119 1-149 1 203 1 75 1-120 1 126 1 42 1-152 1-38 1 4 1 167 1-132 1-79 1 80 1-154 1-25 1 257 1-179 1 42 1 106 1 61 1-194 1-15 1 35 1-75 1 59 1 225 1-202 1-26 1 215 1-38 1-60 1 9 1-28 1-79 1-140 1-6 1 110 1-136 1 65 1-64 1 51 1 330 1-221 1-26 1 117 1-10 1-37 1-71 1 40 1 175 1-99 1-119 1 78 1-17 1-62 1 205 1 69 1-42 1-190 1 122 1-104 1 7 1 2 1 31 1 55 1-7 1 24 1 29 1-8 1-37 1-15 1 73 1-13 1-60 1-98 1-54 1 42 1 21 1 140 1 4 1-160 1-35 1-65 1-58 1-12 1 166 1 147 1-23 1-187 1 5 1 117 1 126 1-49 1-46 1-173 1-135 1 255 1 242 1-218 1-151 1 160 1-20 1-75 1 178 1-115 1 21 1-1 1-180 1 194 1-62 1-127 1-48 1 194 1 29 1 119 1-33 1-242 1-76 1 43 1 245 1 140 1-144 1-19 1-55 1-32 1 32 1-156 1 212 1 61 1-182 1-101 1 185 1 156 1-44 1 63 1 16 1-270 1 76 1 156 1-50 1-95 1 49 1-16 1-128 1-26 1 94 1-80 1-69 1 45 1 237 1-97 1-43 1-46 1 75 1 84 1-7 1-14 1-165 1 63 1 95 1-49 1 65 1 10 1 5 1-113 1 85 1 4 1-73 1-81 1-13 1 42 1 118 1-187 1-29 1 63 1 179 1 13 1-1 1 25 1-11 1 22 1 9 1-36 1-42 1 83 1-20 1-227 1 56 1 124 1 19 1-230 1-16 1 50 1 20 1 62 1-132 1 73 1 255 1-93 1-189 1 37 1 1 1-10 1 17 1-121 1-19 1 67 1 76 1 81 1 87 1 35 1-2 1-58 1-45 1-94 1-1 1 183 1 26 1-39 1-275 1 65 1 63 1-24 1 79 1-66 1 164 1 25 1 3 1-99 1-229 1 101 1 203 1 16 1-79 1-46 1-37 1 56 1 55 1-153 1-92 1 32 1 170 1-117 1-145 1 120 1 65 1-8 1-1 1-20 1-25 1 99 1-5 1 30 1-42 1-32 1 95 1-14 1 7 1-60 1-40 1-1 1 197 1-22 1-54 1 20 1-155 1-66 1 69 1-95 1-49 1 74 1-8 1-88 1 210 1 180 1-6 1-57 1-77 1-189 1 137 1-136 1-110 1 18 1 126 1 210 1-207 1-49 1 144 1-96 1-13 1 190 1-81 1-59 1 79 1-58 1 124 1-18 1 18 1-140 1-22 1 109 1-123 1 111 1 140 1-233 1 121 1-153 1-105 1 183 1 155 1-314 1 26 1 206 1 62 1 60 1-364 1-38 1 155 1 135 1 29 1-190 1 301 1 45 1-72 1 77 1-265 1 7 1-140 1-102 1 271 1-129 1-69 1 145 1-167 1 9 1 97 1 260 1-218 1-37 1-94 1 80 1-41 1 13 1 2 1 311 1-45 1-137 1 25 1 120 1 95 1-197 1-103 1 24 1-103 1 124 1-103 1-44 1 71 1 43 1-133 1 11 1 47 1 173 1-47 1 82 1 66 1-165 1 5 1 222 1 10 1-78 1-182 1 56 1-126 1-3 1 233 1-268 1 18 1 193 1 57 1-69 1 0 1-61 1-112 1 40 1 147 1-144 1 23 1 15 1 224 1-167 1-28 1-52 1 133 1 21 1-218 1-54 1 70 1 5 1 268 1 23 1-124 1 137 1-28 1-161 1-121 1 73 1-80 1-111 1 74 1 82 1-51 1-65 1 346 1-49 1-71 1 148 1 30 1-75 1-163 1 72 1 164 1-69 1-269 1 154 1-27 1-149 1 85 1 165 1 56 1-234 1-56 1 99 1 18 1 79 1 2 1-187 1-6 1 52 1-17 1 112 1-10 1 101 1 117 1-77 1-80 1 41 1 71 1-40 1-69 1 65 1 16 1 35 1-31 1-170 1 100 1-75 1 105 1 56 1-357 1 177 1 30 1 38 1-6 1-105 1-53 1 79 1 125 1-260 1-7 1 84 1 149 1 106 1-143 1-179 1 136 1 176 1-168 1 31 1-14 1 95 1-15 1 13 1 9 1 21 1-85 1-6 1-29 1 50 1-144 1 106 1 84 1-186 1 11 1 161 1 44 1 15 1-205 1-6 1 80 1 161 1-155 1-166 1-17 1 216 1-101 1 46 1 9 1-38 1-52 1 180 1-6 1-164 1-110 1 104 1 52 1-108 1 95 1 96 1-34 1-151 1 83 1 42 1 32 1-22 1-170 1 12 1 58 1 98 1 74 1-128 1-88 1 135 1 73 1-10 1 0 1-130 1 129 1-105 1-127 1 216 1 21 1-51 1 87 1-211 1-68 1 141 1 112 1-69 1-120 1-30 1 61 1 164 1 91 1-78 1-156 1-58 1-50 1 78 1 97 1-116 1 47 1-21 1 245 1-152 1-127 1 50 1-59 1 52 1 206 1-6 1-274 1 48 1 103 1 48 1-5 1 30 1 83 1-81 1 2 1 83 1-222 1 0 1 30 1-135 1-40 1 144 1 43 1-12 1 96 1-56 1 24 1 71 1-62 1-83 1-58 1 61 1-70 1 79 1 91 1-117 1 90 1-44 1-95 1 105 1 82 1-60 1-87 1 74 1 55 1 97 1-100 1-163 1-40 1 90 1-4 1-111 1 11 1 81 1 46 1-35 1-18 1 67 1-81 1 25 1-13 1 65 1-89 1 4 1 132 1 56 1-226 1-15 1 12 1 104 1 66 1 7 1-74 1 14 1-14 1 107 1-228 1 120 1-184 1 2 1 51 1 59 1-29 1 3 1 215 1 78 1 17 1-221 1-23 1 64 1-37 1 17 1 13 1 85 1 74 1-145 1-80 1 38 1-52 1-20 1 22 1-70 1 280 1-49 1 107 1-137 1-172 1 84 1 44 1-73 1 58 1 42 1-99 1 218 1-55 1-158 1-27 1 0 1 206 1-149 1 58 1 181 1-92 1-130 1-13 1-41 1-64 1 3 1 201 1-36 1-95 1 48 1 16 1 7 1-74 1 107 1 180 1-72 1-47 1-6 1-156 1 139 1-12 1 50 1 50 1-37 1-6 1-110 1 67 1-2 1-51 1 17 1-89 1-73 1 5 1-20 1 62 1-33 1-23 1 75 1-53 1 119 1 107 1 31 1-113 1 60 1-107 1 81 1 36 1-81 1-77 1 94 1-62 1-96 1 71 1 204 1-154 1-28 1 121 1-64 1 154 1-148 1 36 1-40 1-72 1 127 1-76 1-85 1 65 1 6 1-49 1 113 1 115 1-86 1 118 1 21 1-227 1-125 1 96 1-28 1 37 1 120 1-113 1-23 1 37 1 15 1-214 1 13 1 44 1 92 1-8 1 103 1 50 1-45 1-31 1-249 1 181 1-27 1-43 1 70 1-203 1 97 1 361 1-227 1-147 1 309 1-103 1 37 1 7 1-235 1 174 1 71 1-231 1 54 1 135 1-123 1-87 1-4 1-67 1 255 1 189 1-62 1 29 1-20 1 4 1-147 1-158 1 145 1-172 1-48 1 188 1 107 1-39 1-84 1-44 1 45 1 15 1-6 1-41 1 101 1 2 1 45 1-28 1-20 1-21 1 130 1 27 1-232 1-36 1 160 1-56 1-167 1 12 1 183 1 75 1 51 1-5 1-178 1-100 1 56 1 177 1 80 1-84 1-103 1 20 1-6 1-142 1 65 1 58 1-59 1-82 1 77 1 97 1-72 1 12 1 141 1-34 1-47 1 85 1 95 1-18 1-67 1-170 1-111 1 368 1-45 1-149 1-10 1-78 1 133 1 169 1-103 1-124 1-48 1-31 1 90 1-52 1 34 1-10 1 80 1-37 1-66 1 89 1-12 1-171 1 86 1 183 1-202 1-140 1 67 1 75 1-40 1 95 1-65 1 45 1 250 1-41 1-182 1-190 1 95 1 185 1-42 1-29 1 62 1-164 1-21 1 170 1-21 1-136 1 199 1 108 1-76 1-57 1 56 1-24 1 52 1-267 1-21 1 56 1 103 1-43 1 200 1 14 1-188 1 40 1 1 1 156 1-33 1-192 1-72 1 60 1 116 1-178 1 113 1 107 1-60 1-76 1-66 1 135 1-69 1-95 1 215 1-76 1 35 1-164 1-120 1 251 1 219 1-34 1-109 1-68 1 24 1-196 1 3 1 38 1 249 1-77 1-66 1 0 1-16 1-132 1 202 1-40 1 133 1-78 1-113 1-119 1 60 1 43 1 97 1-30 1-44 1 32 1 24 1-42 1 85 1-22 1-173 1-33 1 50 1 229 1 56 1 1 1-46 1-86 1-108 1 65 1 70 1-141 1 37 1 181 1-84 1 9 1-31 1-155 1-13 1 149 1 29 1 36 1-161 1-75 1 76 1-17 1-69 1 117 1-10 1-152 1 116 1-41 1-23 1 211 1 5 1 61 1-120 1 31 1 10 1-31 1-183 1-7 1 100 1-101 1 129 1-7 1-56 1 35 1-43 1 122 1-137 1-24 1 42 1 15 1 23 1-159 1 51 1 253 1 9 1 141 1-98 1-125 1 29 1 47 1-127 1-193 1 182 1-19 1-85 1 13 1 52 1-40 1-56 1 135 1 263 1-110 1-88 1-135 1 77 1 37 1 184 1-73 1-155 1-91 1 18 1 35 1 3 1 223 1-133 1-93 1 36 1-19 1 78 1 27 1-40 1-49 1-81 1 32 1 24 1 108 1-153 1-48 1 29 1 194 1-54 1 64 1 22 1-12 1 58 1-100 1-202 1 118 1-17 1 1 1 86 1-41 1-51 1 112 1 107 1-19 1 102 1 22 1-43 1-173 1-15 1 50 1 42 1 21 1-56 1-56 1 21 1-30 1-102 1 189 1 122 1-256 1 76 1 106 1-143 1 1 1-102 1 29 1-12 1 5 1-2 1 91 1 89 1-86 1 102 1-208 1 0 1 141 1-227 1 119 1 194 1-160 1-2 1 37 1-43 1-87 1 104 1-116 1 124 1 31 1-1 1-176 1 137 1-203 1 121 1 95 1-85 1-33 1-11 1 256 1 135 1-128 1-163 1 146 1-89 1-252 1 71 1 28 1 157 1-284 1 55 1 157 1-17 1 70 1-10 1-61 1 175 1-149 1-120 1 138 1 188 1-35 1 18 1-348 1-90 1 128 1 155 1-150 1-58 1-67 1 364 1-31 1 82 1-323 1 268 1 160 1-57 1-79 1-55 1-172 1 50 1 51 1-39 1 184 1-177 1 93 1-44 1-112 1 179 1-124 1-79 1 35 1 24 1 5 1-40 1-65 1 321 1-239 1-75 1 75 1 104 1 57 1-125 1 101 1 112 1-168 1-68 1 93 1-170 1 17 1 62 1 39 1 15 1 79 1-170 1 164 1 75 1 48 1-50 1-138 1-19 1-46 1 83 1-26 1 52 1 62 1-52 1-115 1 183 1 38 1-40 1-105 1 8 1-19 1-101 1 26 1 58 1 82 1 79 1-42 1-199 1 113 1 45 1 22 1-65 1-121 1 168 1 12 1-50 1 44 1 68 1-104 1-83 1-91 1 121 1 60 1 35 1 24 1-232 1-32 1 128 1 77 1-38 1-130 1-32 1 96 1 186 1-5 1-250 1 124 1 93 1 94 1-110 1-103 1-113 1 242 1 93 1-25 1-171 1-40 1 193 1-111 1 190 1-161 1-205 1 253 1 60 1 17 1-104 1-131 1 121 1-157 1 38 1 7 1-45 1 28 1-2 1 62 1 105 1 66 1-56 1-167 1-132 1 48 1 143 1 37 1-22 1 131 1 46 1-162 1-167 1-55 1 45 1 167 1-124 1-33 1 128 1-192 1 58 1-35 1 99 1 88 1-35 1-3 1 11 1-37 1-138 1 48 1 234 1 171 1-207 1-315 1 260 1 34 1-297 1 163 1 190 1-206 1 114 1 205 1-76 1 190 1-16 1-320 1 9 1 89 1-40 1 34 1 69 1-41 1 110 1-123 1-89 1-67 1 88 1-190 1 56 1 185 1-149 1 131 1-151 1-133 1 216 1 212 1-137 1-160 1-15 1 189 1 114 1 51 1-119 1-35 1 144 1-104 1-218 1 18 1 136 1-92 1 239 1-54 1-222 1 71 1 137 1 8 1-265 1 124 1 271 1-106 1 9 1-34 1-28 1-37 1 81 1-124 1-133 1 38 1 20 1-8 1 84 1 16 1-99 1 60 1 144 1 76 1-107 1-252 1 48 1 87 1 78 1-4 1-134 1-131 1 26 1 105 1-82 1-35 1 307 1 41 1 26 1 36 1-105 1-119 1 31 1-100 1 16 1 13 1-31 1 127 1-228 1-37 1 142 1 9 1 82 1-32 1-68 1 109 1 74 1-315 1 95 1 10 1 84 1 106 1-146 1 144 1-211 1-44 1 109 1-107 1 99 1-43 1 4 1 21 1 43 1 87 1 3 1-134 1 16 1 88 1 45 1 93 1-183 1-73 1 194 1-18 1-94 1 45 1 10 1-24 1-55 1 4 1-55 1-49 1 45 1 37 1 49 1-82 1-93 1 35 1 43 1-47 1 132 1 47 1-134 1 9 1-38 1 37 1-71 1 3 1 135 1 135 1-175 1 14 1 89 1 44 1 54 1-165 1 0 1 39 1 53 1 45 1-69 1-26 1-102 1-42 1 34 1-62 1 37 1 152 1-96 1-125 1 95 1-34 1-14 1 88 1 187 1-3 1-32 1-173 1 82 1-73 1-106 1 100 1 108 1 54 1-69 1-19 1 11 1 22 1-17 1-196 1 52 1 192 1 59 1-137 1 12 1-9 1-25 1 90 1 150 1-77 1 95 1-180 1 38 1 63 1-85 1 59 1-176 1 73 1 20 1-91 1-129 1-19 1-10 1 25 1 336 1-75 1-74 1-6 1-30 1-125 1 282 1-47 1-91 1 201 1-49 1-161 1 6 1 22 1 69 1-64 1-19 1 146 1-271 1 178 1-88 1 44 1 150 1-155 1 68 1 122 1-21 1-229 1 173 1-193 1-98 1 33 1 45 1 161 1 28 1-111 1-78 1-9 1 65 1 87 1-208 1 131 1 92 1 38 1-141 1 23 1-7 1-100 1 252 1 49 1 0 1-2 1-9 1-25 1-187 1 3 1 27 1-109 1 40 1 105 1-103 1 6 1 163 1 101 1-33 1-103 1 25 1-71 1-119 1 11 1 235 1 0 1-28 1-116 1-58 1 55 1 36 1 27 1 65 1-48 1 17 1-1 1-148 1 36 1-17 1-10 1 115 1-69 1 12 1-16 1 0 1-69 1-8 1 70 1 88 1-185 1 30 1 80 1-9 1 41 1 110 1-15 1 1 1-164 1-161 1 134 1 98 1-112 1 130 1 67 1-7 1-199 1-33 1 180 1-3 1-56 1 3 1 180 1-49 1-142 1-51 1 18 1 98 1 22 1-124 1-132 1 103 1 29 1-89 1 91 1 280 1-91 1-116 1 81 1-110 1 77 1 75 1-176 1-106 1-16 1 42 1 64 1-31 1-79 1-45 1 43 1 21 1 99 1-83 1-115 1-23 1 96 1 340 1 27 1-201 1 85 1 53 1-308 1 188 1 202 1-135 1-104 1-216 1 28 1 91 1 14 1 225 1 103 1-11 1-107 1 62 1-157 1-78 1-4 1-43 1 57 1 204 1 11 1-125 1 96 1-14 1 12 1-104 1-83 1 36 1-17 1-63 1 52 1 30 1-74 1 22 1 53 1 38 1 42 1 40 1-106 1-46 1 84 1-115 1-69 1 68 1 165 1-66 1-41 1-38 1 23 1-58 1 149 1 20 1-37 1-53 1 70 1 57 1 53 1-75 1-241 1-31 1 132 1 88 1-75 1 194 1-112 1-209 1 98 1 250 1 33 1-175 1-30 1 30 1-82 1 13 1 66 1 21 1 113 1-176 1-141 1 124 1 19 1 73 1-81 1-27 1 94 1 38 1-165 1 9 1 14 1 101 1-223 1 9 1 265 1-164 1 96 1-91 1-110 1-53 1 120 1 277 1-134 1-171 1 34 1 55 1-131 1-12 1 198 1-9 1 100 1 5 1 79 1 2 1-13 1 57 1-101 1-161 1 80 1 143 1-272 1-20 1 162 1 30 1-167 1 135 1 12 1 63 1-158 1 55 1 111 1-132 1-79 1-29 1 1 1-79 1 149 1 35 1-105 1 19 1-68 1-11 1 57 1-46 1 118 1 36 1 34 1-127 1 84 1 110 1-101 1-40 1 129 1-35 1-186 1 44 1 203 1-25 1 29 1 22 1-177 1-67 1-45 1 146 1 64 1 44 1-133 1 61 1 95 1 14 1-132 1-82 1 34 1-90 1 33 1 156 1-226 1 84 1 176 1-205 1 10 1 52 1 170 1 16 1-25 1-112 1-10 1-34 1 79 1 24 1-95 1 124 1 64 1-225 1 45 1-177 1-16 1 69 1 100 1-1 1-4 1 189 1-3 1-65 1-150 1 40 1 275 1-94 1-129 1-66 1-23 1 204 1 93 1-48 1-19 1-68 1-2 1-13 1-122 1 48 1 100 1-131 1-120 1 12 1 288 1-40 1-85 1-138 1 363 1-36 1-210 1-78 1 92 1 78 1-71 1 181 1-86 1 95 1 16 1-274 1-77 1 36 1-75 1 27 1 60 1 143 1 58 1-260 1 116 1-56 1-57 1-86 1 174 1-58 1 80 1 105 1-274 1-72 1 110 1-22 1 12 1 121 1-81 1 192 1 140 1 74 1-130 1-80 1 25 1-83 1-24 1-66 1 31 1-70 1 199 1-84 1-155 1 116 1-94 1 54 1-101 1-18 1 79 1 78 1-23 1-3 1 36 1-16 1-88 1 68 1 137 1-196 1 12 1 43 1 37 1 72 1-97 1-71 1 95 1 97 1-55 1-57 1 57 1-79 1-12 1 141 1-5 1-68 1-20 1 67 1-87 1 99 1-46 1-30 1 125 1 25 1 52 1 26 1-7 1-122 1-71 1 118 1 17 1 19 1-169 1 61 1 12 1-101 1-40 1-56 1 100 1 217 1-120 1-160 1 255 1-18 1-160 1 59 1 8 1 138 1 28 1-13 1-298 1-6 1 161 1 92 1-79 1-84 1 45 1 134 1 41 1 41 1 24 1-167 1-43 1-69 1-2 1 64 1 18 1-36 1-218 1 7 1 230 1-142 1 56 1 219 1 82 1-1 1-200 1-185 1 193 1 25 1 64 1-43 1-206 1-11 1 124 1 101 1-78 1-98 1 76 1 23 1-126 1 14 1 190 1-171 1-17 1 233 1-169 1-168 1 56 1 149 1 99 1-25 1 76 1-114 1-155 1 155 1-181 1-58 1-9 1 34 1-16 1 32 1 213 1-28 1 69 1 29 1-89 1 48 1 55 1-149 1-42 1 48 1-36 1 115 1-41 1 10 1-61 1-64 1 28 1-117 1 35 1 43 1 12 1 4 1-81 1-64 1 68 1 127 1 26 1-11 1-114 1 74 1 138 1 75 1-51 1-127 1 17 1 6 1-24 1 63 1-30 1 49 1-8 1-258 1 9 1 118 1 49 1 0 1-140 1 137 1 55 1-23 1-143 1-24 1 176 1 178 1-164 1-238 1 161 1-109 1 206 1 146 1 20 1-175 1-51 1-60 1 258 1-98 1-159 1-124 1 15 1 281 1-212 1-37 1-26 1 173 1 1 1-172 1-34 1 15 1 260 1 37 1 14 1-106 1 140 1-255 1 57 1-11 1 107 1-259 1-97 1 362 1 167 1-168 1 75 1-13 1-259 1 164 1 77 1-37 1-67 1-130 1-14 1 226 1 83 1-134 1-196 1 119 1 147 1-35 1-41 1-50 1 13 1-20 1 62 1-101 1-68 1 35 1 50 1 82 1 76 1-88 1-37 1 35 1-157 1 57 1-51 1-84 1 6 1 138 1 15 1 27 1-5 1-44 1 177 1-27 1-126 1-64 1 11 1 41 1 61 1-147 1 98 1 130 1-69 1-11 1 146 1-164 1-197 1 74 1 90 1-17 1-104 1 205 1 7 1-256 1 202 1-62 1 291 1-215 1-335 1 23 1 108 1 279 1 132 1-2 1-234 1-35 1-135 1 93 1-24 1-45 1 105 1 117 1-152 1 323 1-382 1 5 1 97 1-225 1 269 1 195 1-275 1 152 1 26 1-75 1-56 1 25 1-73 1 110 1 21 1 94 1-121 1 122 1-77 1-34 1-146 1-10 1 56 1 96 1-37 1-107 1 4 1-60 1 70 1-47 1 157 1 94 1-74 1-14 1-59 1 38 1 106 1-19 1 22 1-42 1-82 1 202 1-83 1-72 1 27 1-66 1 8 1-79 1-70 1 323 1-252 1-36 1 121 1 11 1 117 1-36 1-79 1-32 1-111 1-18 1 196 1-166 1-50 1 193 1-53 1-119 1 91 1 66 1 231 1 43 1-100 1-120 1-161 1 220 1 78 1-112 1 64 1 66 1-266 1-34 1-81 1 195 1-56 1-140 1-95 1 101 1-21 1-36 1 125 1 254 1 31 1-37 1-51 1-168 1-117 1 260 1-43 1-152 1-37 1 269 1 162 1-248 1-54 1 83 1-260 1 187 1 276 1-47 1-350 1 53 1 31 1-62 1-143 1 193 1 75 1-80 1 80 1-20 1 180 1-99 1 58 1-155 1-40 1 266 1-26 1-225 1 115 1 204 1-72 1-161 1-8 1-38 1-163 1-25 1 4 1 137 1-115 1 232 1 133 1-33 1-75 1-85 1 90 1-23 1-150 1-5 1 32 1-56 1-46 1 165 1 62 1 72 1-2 1-18 1-32 1 63 1-37 1-88 1 82 1 3 1-134 1-56 1 129 1 39 1-34 1-81 1-63 1 95 1 63 1-54 1 34 1-35 1 97 1 31 1-232 1 7 1 182 1-119 1-27 1 57 1-9 1-151 1 91 1 167 1-100 1-91 1 134 1 32 1-184 1-22 1-15 1 92 1 61 1 72 1 79 1-127 1 11 1 20 1 15 1-19 1 12 1-196 1 20 1 187 1-17 1 150 1-90 1-55 1-123 1 135 1-141 1 235 1 34 1-261 1-76 1 169 1-93 1 115 1-99 1-171 1-23 1 248 1-104 1-124 1 95 1 72 1-23 1 97 1 37 1-105 1-95 1 74 1 212 1-102 1 97 1-149 1-130 1 179 1-79 1-91 1 118 1 140 1-155 1-60 1 113 1-89 1 71 1-79 1-107 1 140 1 110 1-119 1-11 1 177 1-130 1-18 1-66 1 144 1-20 1-100 1-20 1 132 1 105 1-134 1-159 1 59 1 17 1 91 1 78 1-169 1-111 1-31 1 68 1 184 1 129 1-77 1-235 1-7 1 27 1 173 1-127 1-134 1-49 1 16 1 18 1 289 1 121 1-12 1-207 1-50 1 157 1 36 1-139 1 125 1-66 1-124 1-108 1 55 1 279 1-193 1-71 1 98 1 77 1-57 1 43 1 31 1-9 1-174 1-44 1 223 1-5 1-25 1-47 1-89 1 69 1-122 1-57 1 218 1 42 1 50 1 85 1 12 1-5 1-15 1-169 1-94 1 139 1 93 1-110 1-126 1-104 1 56 1 48 1 236 1 5 1-197 1 99 1 101 1-369 1-30 1 167 1-35 1 10 1 148 1 2 1-23 1-112 1 45 1 59 1 97 1 39 1-70 1-56 1-79 1-39 1 33 1 145 1-75 1 107 1-41 1-154 1-97 1 128 1 55 1-21 1 149 1-139 1-9 1-34 1 121 1-56 1-116 1 47 1-132 1 39 1 42 1 213 1-84 1 58 1 59 1-14 1-43 1-227 1 48 1 94 1 56 1-8 1 116 1-87 1-130 1 180 1 75 1-31 1-129 1 58 1 87 1-115 1 65 1-103 1-186 1 279 1-56 1-179 1-2 1-84 1-55 1 85 1 86 1 38 1 49 1-147 1-45 1 79 1-84 1-27 1 20 1 67 1 40 1-108 1-20 1 44 1 134 1 45 1-52 1-6 1-74 1-23 1 207 1-33 1-127 1 120 1 105 1-83 1-63 1-115 1 27 1-9 1-47 1-9 1 113 1 38 1 22 1 78 1-162 1 117 1 104 1-12 1-92 1-48 1-45 1-37 1 253 1 8 1-113 1-116 1-49 1 181 1 37 1 48 1-132 1-62 1-10 1 23 1 120 1 73 1-240 1 134 1 104 1-208 1 74 1-20 1-163 1-31 1 32 1 62 1-58 1 18 1 18 1 73 1 80 1 114 1-249 1-48 1-80 1 263 1 179 1-73 1-23 1-35 1 8 1 17 1-84 1-227 1 1 1 249 1 19 1-44 1-225 1 335 1 85 1-219 1 53 1-171 1 121 1 58 1-212 1-160 1 8 1 221 1-78 1 169 1 101 1-279 1 254 1-180 1 133 1-76 1-79 1-8 1-7 1 287 1-51 1-236 1 76 1-60 1 227 1 90 1-374 1-22 1 129 1-29 1-187 1 244 1-68 1-17 1 109 1 177 1-347 1-72 1 277 1 46 1 61 1-253 1 271 1 82 1-145 1-106 1 145 1 91 1-285 1-294 1 693 1-190 1-32 1 49 1-213 1 327 1-15 1-63 1-188 1-84 1-47 1-16 1 122 1 64 1-97 1-123 1-29 1 151 1 116 1-195 1-40 1-31 1 80 1 135 1-76 1 175 1-113 1-15 1 98 1-59 1 102 1 15 1-289 1 176 1 31 1 35 1-179 1-176 1 356 1-18 1-149 1-47 1-46 1 43 1 6 1 117 1-151 1-20 1 209 1 18 1-56 1 81 1 10 1-6 1-138 1-105 1 43 1-24 1 137 1 28 1-20 1-72 1 69 1 27 1-29 1 29 1 63 1-115 1 56 1-11 1 68 1 52 1-7 1-18 1-164 1 64 1 66 1-6 1-86 1-101 1 106 1 58 1-162 1-76 1 79 1 91 1 172 1-4 1-252 1 55 1 198 1-49 1-55 1-91 1-2 1 15 1-99 1 63 1 127 1-48 1-60 1 96 1-61 1 84 1 38 1-122 1-118 1 68 1-18 1 31 1 113 1-7 1-109 1-43 1-61 1 31 1-19 1-27 1 163 1 112 1-51 1-151 1-60 1 123 1 81 1 26 1 0 1-228 1 30 1 193 1 33 1 38 1-146 1-56 1-113 1-25 1 169 1 159 1 4 1-172 1-165 1 74 1 168 1-12 1 34 1 76 1-33 1-1 1-48 1-36 1 22 1-72 1 104 1-108 1-91 1 2 1 126 1 20 1-132 1 1 1 213 1-71 1-32 1 35 1-22 1 117 1 5 1-6 1-10 1-122 1-113 1 11 1-6 1 61 1 76 1 63 1-132 1-17 1 4 1-10 1-117 1 147 1 111 1 55 1 0 1-176 1 11 1 234 1 14 1-176 1-67 1 84 1-100 1 13 1 35 1-96 1-37 1 268 1-4 1-272 1 13 1-29 1 110 1-27 1 11 1 76 1-34 1-113 1 122 1 51 1 17 1-1 1-40 1-2 1-16 1-126 1 134 1 182 1-232 1-172 1 216 1 101 1-174 1 21 1 99 1 50 1 67 1-194 1-39 1 201 1-92 1-172 1 47 1 23 1 161 1-77 1-38 1 62 1 43 1-72 1-239 1 78 1 141 1-2 1 5 1-182 1-23 1-37 1-22 1 312 1-94 1-57 1 243 1 51 1-110 1-225 1-36 1-167 1 398 1-8 1-105 1-53 1 93 1 198 1-4 1-195 1-32 1-41 1-45 1 161 1 275 1-483 1 192 1 127 1-234 1 48 1 50 1-5 1 6 1 4 1-183 1 19 1 103 1-39 1 72 1 150 1 72 1-378 1 66 1 282 1-235 1-159 1-5 1 7 1-119 1 89 1 12 1 107 1 159 1 309 1-24 1-426 1-164 1 188 1 244 1-97 1-45 1-5 1-147 1 379 1-58 1 5 1-161 1 22 1 182 1-183 1-187 1 154 1-165 1 76 1 153 1-66 1-12 1 77 1-235 1 55 1 30 1 78 1 105 1 4 1 47 1-215 1 128 1 6 1-131 1 190 1-79 1 5 1 47 1 23 1-145 1 101 1 59 1-113 1-208 1-4 1 26 1 171 1-89 1 7 1 95 1-235 1-17 1 81 1 202 1-49 1-152 1 22 1-49 1 94 1 0 1-87 1 64 1 111 1-150 1 6 1 36 1 100 1-37 1-72 1-7 1 29 1 5 1 34 1-18 1 35 1 46 1-177 1 273 1 92 1-134 1-59 1-239 1-16 1 22 1 161 1 107 1 70 1-14 1-182 1 77 1-68 1-33 1-628 1 848 1-56 1-140 1 88 1 89 1-53 1-63 1-25 1-66 1 221 1 264 1-451 1-160 1 16 1 141 1 16 1 124 1-126 1 138 1 131 1-47 1-145 1-237 1 96 1-123 1-43 1 7 1 21 1 87 1 87 1-112 1 31 1 184 1-140 1-162 1 148 1 260 1-62 1 229 1-340 1-72 1-113 1-58 1 206 1 50 1 359 1-114 1-17 1-260 1-25 1-9 1 93 1 176 1 25 1-347 1-78 1 161 1 4 1 150 1-59 1 5 1-347 1 225 1 150 1 115 1-932 1 1041 1-394 1-127 1-21 1-2 1 185 1 251 1 27 1 45 1-74 1-76 1 23 1-350 1 288 1 47 1 3 1 3 1-51 1 424 1-510 1 43 1-257 1-82 1 69 1 82 1-123 1 14 1 194 1 170 1 48 1-150 1-43 1-207 1 144 1-65 1-35 1 97 1-97 1 52 1 114 1 320 1-62 1 28 1-142 1-127 1 59 1 192 1 9 1-452 1-121 1 278 1-182 1 108 1 466 1-82 1-174 1 117 1 31 1-204 1 108 1-16 1-162 1 184 1 51 1 27 1-185 1-292 1 48 1 434 1-175 1 25 1 7 1 87 1-301 1-34 1 231 1-710 1 456 1 321 1-90 1-102 1 315 1-100 1 211 1-336 1 185 1-4 1-121 1-183 1 22 1-28 1 205 1 132 1-283 1-178 1 165 1 101 1-26 1-74 1-20 1 36 1 57 1 196 1-216 1 76 1 109 1 29 1-22 1-11 1-30 1 7 1-96 1-68 1 166 1-132 1 48 1-181 1 23 1 97 1 31 1-55 1-176 1 66 1 120 1 63 1 54 1-129 1-94 1 153 1 55 1-18 1 28 1-40 1 33 1 47 1-273 1 222 1 73 1-153 1 66 1 85 1-81 1-105 1-54 1 204 1 5 1-157 1-109 1 14 1 194 1-4 1-38 1-33 1-52 1-64 1 120 1-17 1 21 1 94 1 12 1-3 1-111 1-56 1 243 1-36 1-187 1-23 1-15 1 77 1-12 1 161 1-21 1-19 1 66 1 18 1-53 1-117 1 127 1-23 1-124 1 57 1-67 1 37 1-24 1-32 1-76 1-58 1 221 1-88 1-149 1 291 1-131 1-113 1 214 1-159 1-52 1 178 1 51 1-31 1-40 1-13 1 34 1 107 1-71 1-159 1-102 1 166 1 183 1 103 1-360 1-154 1 351 1 196 1-118 1-34 1-136 1-291 1 119 1 350 1-215 1-179 1 40 1 85 1 97 1-59 1 269 1-91 1-152 1-410 1 786 1-161 1-280 1 188 1-65 1 82 1-53 1 199 1-6 1-201 1 9 1-132 1-51 1 334 1 20 1-308 1-54 1-58 1 147 1 50 1-125 1 261 1-34 1 95 1-70 1-289 1 7 1 97 1 55 1-104 1 151 1-255 1-40 1 90 1-24 1 177 1-118 1-56 1 166 1 54 1-4 1 87 1 112 1-83 1-196 1-153 1 27 1-66 1 85 1 132 1-24 1 53 1-163 1 156 1 21 1-98 1 48 1-269 1 36 1 229 1-136 1 20 1 29 1 122 1 194 1-351 1-67 1 197 1 138 1 0 1-54 1-37 1 162 1-31 1-287 1-48 1-55 1 39 1 204 1-160 1 74 1 53 1-58 1 4 1 233 1-221 1 41 1-2 1 58 1-5 1-159 1 259 1 97 1-244 1 41 1 123 1-268 1-71 1 99 1-66 1 107 1-47 1-430 1 796 1-335 1-87 1-93 1-29 1 145 1 182 1-203 1 17 1-134 1 40 1 145 1 190 1-140 1 0 1-138 1-39 1 43 1 45" stroke="#ff0000" stroke-width="1.6" fill="none" stroke-linejoin="round"/></g>
<text transform="translate(323.6 615.4) scale(0.992 1)" font-size="20.9" fill="#1a1a1a">Envelope Peak = 0.007</text>
<g clip-path="url(#c2)"><path transform="translate(82 0) scale(0.063600 0.1)" vector-effect="non-scaling-stroke" d="M0 6359l1 211 1 94 1-210 1 169 1-186 1-266 1 472 1-175 1-241 1 147 1-162 1 436 1-75 1 107 1-75 1-107 1 1 1 158 1-345 1-69 1 352 1-49 1-82 1-28 1 175 1-166 1 51 1-173 1-121 1 48 1 139 1 204 1-285 1-25 1 347 1-154 1 179 1-272 1 223 1-6 1 87 1-241 1 118 1 113 1-187 1 93 1-169 1 100 1 163 1-91 1-15 1-55 1-12 1-4 1-525 1 23 1 452 1 125 1-75 1 30 1 95 1 51 1-3 1-231 1-15 1 244 1-100 1 122 1-161 1-143 1 30 1 153 1 19 1-52 1-2 1-108 1 157 1-66 1 162 1 17 1-147 1-258 1 352 1 38 1-66 1-149 1 85 1-163 1 10 1 191 1 7 1-191 1-108 1 146 1 222 1-72 1-136 1-146 1 318 1 60 1-558 1 185 1 118 1 170 1-360 1 160 1 106 1 13 1 93 1-321 1-159 1 307 1 67 1 1 1-8 1-133 1 20 1 186 1-10 1-131 1 120 1-154 1 13 1 227 1-19 1 26 1-95 1-65 1-377 1 223 1 62 1 96 1 30 1 96 1-274 1 223 1 21 1-49 1-148 1 239 1 52 1-561 1 5 1 336 1-188 1 258 1 144 1-345 1-141 1 345 1-286 1 201 1 103 1-64 1-56 1 198 1-172 1 177 1-149 1-147 1 20 1 203 1 65 1 25 1 30 1-120 1-113 1 76 1 28 1 114 1-159 1-171 1-47 1 162 1 203 1-10 1-20 1-252 1 35 1 89 1 112 1-194 1 63 1 56 1 8 1 41 1-95 1 20 1 148 1-143 1 145 1-81 1 42 1 56 1-108 1-90 1 90 1 16 1-53 1-196 1 120 1 201 1-86 1 105 1-29 1-112 1 8 1 12 1 36 1 54 1-90 1 100 1-211 1 88 1 16 1-29 1-7 1 50 1 1 1 58 1-174 1-89 1 224 1 0 1 16 1 25 1 1 1-76 1 75 1-128 1-17 1-148 1 202 1-291 1 220 1-147 1 223 1 81 1-227 1-65 1 24 1 69 1-208 1 42 1 221 1 104 1-218 1 249 1-165 1-119 1 308 1 56 1-121 1-96 1 194 1-282 1 148 1-192 1 288 1-20 1-160 1 35 1 181 1-30 1-9 1 35 1-20 1 54 1-55 1-95 1-7 1 154 1-725 1 495 1 142 1 61 1-101 1-22 1 32 1 15 1-1 1-88 1 48 1-57 1-12 1 70 1 148 1-182 1-44 1 146 1-37 1-58 1 64 1-31 1-136 1 111 1 113 1 29 1-172 1 102 1 95 1-55 1-117 1 89 1 12 1-29 1-10 1-2 1-75 1-202 1-118 1 93 1 115 1 101 1 21 1 83 1-156 1-119 1 189 1-187 1 261 1-50 1 18 1-440 1 420 1-263 1 201 1 119 1 91 1-257 1 116 1-53 1 89 1-40 1-53 1-192 1 226 1-216 1-175 1 372 1-126 1 310 1-432 1 78 1 130 1-346 1 455 1-368 1 53 1 197 1 176 1-381 1 109 1-102 1 417 1-428 1-362 1 593 1 137 1 4 1-4 1-88 1-139 1 233 1-691 1 712 1-238 1-113 1-61 1 229 1-283 1 11 1 412 1-183 1 153 1 102 1-425 1-45 1 117 1 21 1 347 1-100 1-207 1 18 1 5 1-75 1-46 1 240 1 13 1 66 1-189 1 256 1-39 1-148 1 74 1-392 1 142 1 381 1-121 1-371 1 10 1 469 1-250 1-34 1 24 1 285 1-308 1-184 1 142 1 115 1 233 1-299 1 252 1-142 1-23 1 185 1-200 1-143 1 157 1 99 1-239 1 149 1 27 1 84 1-27 1 115 1-132 1-4 1 114 1-40 1 37 1-128 1 30 1-116 1 223 1-14 1-102 1-56 1 181 1-79 1-9 1-40 1 72 1 70 1-184 1 96 1 60 1-12 1-206 1-54 1-114 1 402 1-38 1-5 1-12 1-105 1 77 1 11 1 12 1-105 1 147 1-52 1-42 1 51 1-59 1-53 1 141 1 41 1-289 1-23 1 306 1-163 1 162 1-304 1 7 1 221 1-1 1-174 1 113 1 150 1-90 1 84 1-132 1-95 1 45 1 15 1-63 1 47 1-201 1 337 1-119 1-77 1-179 1 339 1-58 1-283 1-124 1 347 1-15 1-212 1-112 1 272 1 40 1-5 1 232 1-291 1-135 1 159 1 272 1-2 1-53 1 31 1 14 1-80 1-222 1-10 1 214 1-165 1 74 1-87 1-25 1 135 1 71 1-54 1-7 1-15 1 81 1 6 1-18 1-126 1 184 1 29 1-302 1-187 1 278 1 94 1 34 1-9 1-13 1 55 1-139 1 98 1-18 1-30 1-3 1-86 1 26 1 101 1 47 1-12 1-73 1 47 1 17 1 99 1-149 1 103 1-31 1-184 1 250 1-104 1 73 1-312 1 339 1-41 1-25 1 50 1-119 1 12 1 61 1-106 1 87 1 81 1-113 1 33 1 16 1 66 1-69 1-4 1-91 1-23 1 168 1-42 1 55 1 0 1-109 1-83 1 34 1 89 1-39 1 28 1 33 1 3 1-33 1-72 1 66 1-33 1-68 1 98 1-144 1 81 1-6 1 83 1-144 1 217 1 17 1-71 1-225 1-211 1 499 1-188 1 158 1-254 1-40 1 229 1-296 1 268 1 87 1-194 1 23 1-44 1-194 1-10 1-39 1 265 1 92 1 74 1-90 1-322 1 164 1-95 1 362 1-110 1-122 1 221 1 65 1-5 1-37 1-352 1 367 1-68 1-17 1 11 1-465 1 175 1-187 1 62 1-7 1 452 1-416 1 71 1-82 1-320 1 423 1 224 1-187 1-213 1 81 1 118 1 241 1-415 1 312 1-292 1 14 1 487 1-470 1 374 1-81 1 28 1 146 1-33 1 13 1-347 1-105 1 0 1-19 1 86 1 115 1-229 1 315 1-112 1 197 1-778 1-57 1 907 1-274 1 36 1 216 1 53 1 21 1-296 1 316 1-480 1 259 1 115 1-369 1 341 1 124 1-169 1-106 1 111 1-40 1-93 1-10 1 297 1-299 1-165 1 311 1-352 1 204 1-178 1 231 1 101 1-3 1 105 1 48 1-220 1-12 1 57 1-108 1 213 1-17 1 11 1-172 1-256 1 525 1-273 1 210 1-37 1-135 1 76 1 63 1-72 1 156 1-220 1-39 1 26 1-56 1 164 1-43 1 159 1-91 1-121 1 85 1 111 1-6 1-106 1-114 1 259 1-151 1 149 1-121 1-64 1 122 1-38 1-118 1 108 1 78 1 25 1-79 1-29 1-51 1-61 1 126 1 53 1-176 1 70 1 28 1 9 1-71 1 35 1-65 1 138 1 34 1 21 1-504 1 139 1 257 1 141 1-20 1 0 1-133 1-26 1 178 1-116 1-137 1 37 1 171 1-128 1 141 1-170 1 119 1-162 1 113 1 97 1-9 1 37 1-204 1-151 1 120 1 214 1-243 1 79 1 169 1-25 1-36 1 73 1-10 1-33 1-21 1-66 1 138 1-74 1 50 1-20 1 20 1-183 1 159 1-269 1 263 1 26 1-152 1 63 1-60 1-38 1-25 1 218 1-122 1 130 1-31 1 49 1-164 1 80 1-76 1 121 1-163 1-10 1 198 1-112 1 73 1 17 1 7 1-54 1-123 1-52 1 160 1 47 1-104 1 125 1-64 1 91 1-45 1-4 1 16 1-202 1 182 1-25 1-19 1 66 1-218 1-26 1 222 1-196 1-90 1 146 1 58 1 8 1 101 1-57 1 35 1-132 1 172 1-317 1 46 1 27 1-10 1 63 1-59 1 222 1-233 1 144 1 75 1-195 1-8 1 168 1 50 1-245 1 88 1-63 1-38 1 263 1-45 1-80 1 112 1-155 1-315 1 182 1 55 1 107 1-105 1 218 1 39 1-108 1-63 1 22 1-23 1-87 1-174 1-109 1 476 1-93 1-195 1-36 1-128 1 295 1-50 1-252 1 407 1-428 1 53 1 451 1-360 1 332 1-80 1-27 1 161 1-349 1 111 1 191 1-230 1-367 1 274 1 274 1 113 1-381 1-39 1 267 1-159 1 98 1-288 1 199 1 196 1 61 1-361 1-57 1 235 1 183 1-149 1 152 1-238 1 143 1 65 1 28 1-667 1 601 1-138 1-142 1 165 1-88 1-6 1 16 1 139 1 119 1-151 1 188 1-96 1 7 1 76 1-350 1 11 1-39 1 414 1-243 1 223 1-27 1-63 1-11 1 19 1-18 1 67 1-104 1-107 1 232 1-87 1-43 1 49 1 54 1-37 1-155 1 164 1 44 1-46 1-91 1-17 1-22 1 95 1 89 1-7 1 32 1 8 1-127 1 82 1-112 1-90 1-85 1 169 1-13 1 128 1-51 1 31 1-72 1-60 1 139 1 7 1-21 1-39 1 0 1-56 1 16 1 143 1 1 1-123 1 96 1-165 1 167 1-168 1 78 1 57 1 33 1-33 1 36 1-93 1 0 1 25 1 48 1-114 1 125 1-10 1 51 1-88 1 23 1 5 1-107 1-107 1 6 1 78 1 29 1 32 1 70 1 65 1-281 1 265 1-125 1-197 1-56 1 178 1-247 1 201 1 209 1-69 1 94 1-246 1-76 1 69 1 226 1-42 1 19 1 14 1-37 1 41 1-37 1-144 1-66 1-152 1 38 1 125 1 263 1-123 1-161 1 155 1-716 1 761 1 101 1-211 1 187 1-14 1-448 1-540 1 868 1-195 1 269 1-81 1 23 1-219 1 273 1-169 1-252 1 145 1 324 1 35 1-551 1 37 1 177 1 325 1-328 1 10 1-212 1 118 1-89 1 339 1-390 1 69 1 51 1-108 1 229 1 60 1 77 1-287 1 224 1 132 1-159 1 178 1 67 1-160 1-203 1-160 1-2 1 567 1-141 1-376 1 254 1-9 1-130 1-165 1 275 1 92 1 17 1 103 1-41 1-17 1-143 1 124 1 1 1-109 1-53 1 199 1-300 1 280 1-44 1-78 1 177 1-155 1 134 1-46 1 62 1-417 1-41 1 418 1-74 1 205 1-82 1-6 1 9 1 6 1 68 1-6 1-233 1 102 1-42 1 80 1 10 1-195 1 184 1 83 1-69 1 33 1-169 1 215 1-152 1-72 1 133 1 46 1-14 1-80 1-162 1 41 1 165 1 111 1-6 1-12 1-95 1-102 1 131 1 48 1-84 1-57 1 181 1-47 1 23 1 12 1-54 1-9 1-74 1 109 1-30 1 71 1-95 1 66 1-63 1 60 1-48 1-81 1 151 1-199 1-8 1 158 1-205 1 69 1-142 1 172 1 53 1-112 1 17 1-12 1 30 1 95 1-118 1-45 1 226 1-47 1-206 1 39 1 207 1-347 1 225 1-38 1 153 1-67 1-50 1-196 1 191 1-126 1 153 1 117 1-166 1-79 1 244 1-43 1-177 1 160 1-83 1 20 1 82 1 57 1-137 1-327 1 147 1 158 1 4 1 40 1 113 1-17 1-425 1 1 1-105 1 430 1-19 1-333 1 387 1-90 1-96 1 129 1 67 1-107 1 136 1-265 1 21 1 36 1-55 1 238 1-240 1 209 1 28 1-416 1 340 1-250 1 79 1 318 1-198 1 105 1-133 1 106 1-307 1 397 1-11 1-518 1 75 1 471 1-56 1 49 1-282 1 159 1-102 1 181 1-13 1-85 1 95 1-313 1 295 1-114 1 93 1-166 1 222 1-171 1 4 1 216 1-80 1 86 1-244 1-278 1 355 1 26 1-31 1-261 1 258 1 38 1 136 1-220 1 80 1 51 1-43 1 39 1-175 1 194 1-90 1-141 1 113 1-33 1 179 1-198 1 68 1 131 1 23 1 26 1-165 1 33 1 134 1-23 1-27 1-249 1 58 1 111 1 112 1-82 1-24 1 0 1 112 1-6 1-166 1 42 1 57 1-35 1 19 1 54 1-58 1 85 1-24 1-86 1 43 1-58 1 47 1 62 1-109 1 123 1-69 1-57 1 127 1-175 1 43 1 98 1-93 1 19 1-90 1 120 1-48 1 108 1-257 1 36 1 18 1 74 1-15 1 78 1 60 1 12 1-106 1-74 1 98 1 101 1-50 1 50 1-30 1-47 1 35 1-74 1 1 1 73 1-185 1 165 1 36 1 0 1 39 1-128 1 81 1 2 1-55 1-32 1-15 1-128 1 211 1-301 1 110 1 135 1-19 1-60 1 102 1-124 1-29 1-266 1 398 1-48 1 112 1-272 1 93 1 131 1-91 1 23 1 110 1 39 1-10 1-264 1 63 1 15 1 103 1-60 1 143 1-144 1 165 1-44 1-53 1 50 1-30 1-93 1-128 1 192 1-49 1-1 1 163 1-18 1-100 1-68 1 179 1-33 1-206 1 29 1 168 1-170 1 37 1 141 1-110 1 130 1 0 1-23 1-132 1-6 1-79 1 177 1-108 1-78 1 182 1-31 1 60 1-145 1 44 1 10 1-68 1-60 1 266 1-172 1 3 1 80 1 55 1 9 1 16 1-127 1 72 1-67 1 47 1-13 1 105 1-28 1-202 1 152 1 1 1 82 1-268 1 208 1-52 1 103 1-43 1-68 1 6 1-88 1 5 1-94 1-103 1-16 1 309 1-220 1 8 1-121 1 365 1-256 1 151 1 80 1-22 1 93 1-86 1 29 1-95 1 116 1-200 1-14 1 259 1-98 1-252 1 262 1-87 1 0 1 109 1-34 1-53 1-3 1-18 1 30 1 19 1-181 1 154 1 113 1-30 1-45 1-125 1 56 1-7 1 64 1 118 1-90 1 77 1 13 1-5 1-113 1 2 1 62 1 27 1-103 1 115 1-33 1 8 1-107 1-101 1 108 1 153 1 4 1-51 1-55 1 6 1 34 1-16 1-116 1 172 1-51 1-65 1 97 1-70 1-129 1 233 1-8 1-27 1-35 1-7 1-38 1 127 1-46 1-134 1 147 1-287 1-9 1 299 1-142 1-25 1 188 1-105 1 112 1-113 1 70 1 2 1-26 1-22 1 10 1 65 1 17 1-93 1-89 1-25 1 187 1-98 1-71 1-95 1 273 1-259 1-122 1 267 1-108 1 226 1-29 1-22 1-95 1 2 1 134 1-131 1-66 1-196 1 351 1 30 1-2 1-49 1-94 1-55 1 188 1-3 1 4 1-129 1 152 1-227 1 139 1 103 1-11 1-105 1 119 1-165 1-30 1 54 1 100 1 12 1-88 1-2 1-86 1 203 1-119 1 9 1 5 1 60 1-191 1-129 1 192 1-121 1 200 1-228 1 295 1 7 1 0 1-106 1 125 1-231 1 41 1 179 1-207 1 143 1-35 1 14 1-174 1 12 1 152 1-305 1 111 1 8 1 54 1-87 1-136 1 264 1 33 1-356 1 515 1-32 1 17 1 10 1-32 1 1 1-41 1-247 1 123 1 20 1 81 1-179 1 27 1 206 1-110 1-30 1-31 1 3 1-369 1 256 1 128 1 212 1-52 1-226 1 2 1-4 1-40 1 62 1 156 1-55 1 13 1 142 1-184 1 78 1-43 1 58 1 67 1-18 1-167 1 27 1 81 1-43 1 3 1-17 1 41 1 77 1-211 1 240 1-78 1 16 1-30 1 4 1-118 1-21 1 55 1 75 1 70 1-92 1 105 1 11 1-41 1 51 1-5 1-22 1 12 1 7 1 8 1-24 1-4 1-29 1-100 1 78 1 35 1-21 1 39 1-34 1 60 1-65 1 5 1 50 1-57 1 54 1-79 1 65 1-49 1-56 1 49 1-41 1 44 1 57 1-54 1 42 1 29 1-57 1 11 1-34 1-60 1 87 1-89 1 111 1-71 1 4 1 80 1-197 1 216 1-55 1 45 1-192 1 10 1 201 1-5 1-97 1-62 1 117 1 23 1-28 1 6 1-30 1 7 1-11 1 45 1-100 1-69 1 132 1 57 1 11 1-240 1-6 1 45 1 63 1 127 1-101 1-157 1-9 1-80 1 38 1 31 1 17 1 178 1 33 1-465 1 309 1-33 1 41 1 92 1 65 1 35 1 20 1-59 1 12 1-98 1-236 1 272 1-194 1-55 1-52 1 237 1-173 1-246 1 163 1 161 1-194 1 455 1-172 1-12 1-128 1 123 1 102 1 75 1-45 1-111 1-148 1 191 1 87 1 29 1-47 1 46 1-139 1 1 1 93 1-38 1 64 1-126 1 126 1-122 1 137 1 2 1-14 1-199 1 158 1-41 1 111 1-137 1 32 1 106 1-92 1 83 1-118 1-37 1 115 1-121 1-104 1 213 1-2 1-136 1 70 1 112 1-85 1-84 1-5 1-2 1 75 1-2 1-58 1 41 1 9 1-61 1 73 1 2 1 12 1 81 1-192 1 73 1 133 1-153 1 55 1 105 1-55 1 7 1 29 1-23 1-89 1-53 1 120 1 39 1-29 1-124 1 8 1-69 1 223 1-147 1 69 1 89 1-30 1-75 1-57 1 141 1-1 1-27 1-5 1-160 1 31 1 157 1-120 1-5 1-125 1 132 1 88 1-112 1-44 1-27 1 187 1-73 1 104 1 1 1 15 1-27 1-30 1-10 1 9 1-228 1 87 1 171 1 10 1-11 1-238 1-12 1 216 1 8 1-58 1 17 1 101 1-47 1-36 1 23 1-83 1-146 1 17 1 262 1-204 1 84 1 87 1-12 1 12 1 34 1-185 1 61 1 81 1-198 1 26 1 164 1-106 1-370 1 535 1-26 1 38 1-115 1-22 1-250 1 336 1-289 1 233 1-84 1-3 1 134 1-120 1 139 1-159 1 103 1-20 1-125 1 213 1-44 1-22 1 93 1-121 1-174 1 5 1 2 1 196 1-320 1 157 1 100 1-145 1 109 1 55 1-127 1-104 1 73 1 224 1 9 1-185 1 130 1-153 1-67 1 25 1 291 1-182 1 184 1-104 1 18 1-153 1 32 1-69 1 117 1 129 1-54 1 63 1-188 1 166 1 48 1-6 1-50 1-136 1 177 1-105 1 74 1-10 1-78 1 65 1-15 1-215 1-44 1 169 1 110 1-138 1 158 1 54 1-21 1-68 1-210 1 75 1 161 1-28 1-182 1 94 1 117 1-127 1 176 1-22 1 36 1-55 1 44 1-31 1-14 1-99 1-23 1 142 1-38 1-123 1 82 1-93 1 149 1 48 1-280 1-401 1 616 1 37 1-192 1-77 1 171 1-46 1 105 1 16 1-78 1 75 1-245 1 69 1 131 1-80 1-293 1 417 1-14 1-148 1 205 1-80 1-168 1 265 1-33 1-34 1-28 1 98 1-144 1 78 1-84 1 129 1-125 1 27 1 106 1-85 1-32 1 25 1-4 1-27 1 19 1 82 1-76 1 88 1 10 1-36 1-37 1-31 1-87 1 103 1 90 1-54 1-135 1 127 1-148 1 134 1-138 1 86 1 10 1-32 1 18 1 147 1-71 1 46 1 5 1 11 1-165 1 102 1 43 1-18 1 13 1-97 1 92 1-77 1-146 1 41 1 125 1 49 1 2 1-120 1 114 1 49 1-61 1 38 1-32 1-20 1-79 1 64 1-34 1 71 1 28 1-127 1 100 1 8 1-160 1 125 1-69 1-44 1 92 1-5 1-33 1 77 1-202 1 253 1-78 1-130 1 118 1-218 1 298 1-126 1-14 1 123 1-135 1 103 1-56 1-116 1 13 1-112 1 210 1-2 1 32 1-30 1-29 1 38 1 7 1 27 1-17 1-86 1 165 1-99 1-167 1 220 1 46 1-224 1 220 1-48 1 45 1 35 1-21 1-195 1 170 1 0 1-17 1 47 1-116 1-68 1 95 1-41 1 142 1-136 1 99 1-38 1-50 1-32 1-148 1 90 1-92 1 206 1 81 1-105 1-12 1 64 1 26 1-162 1 135 1-143 1 96 1 96 1-66 1 11 1-174 1 257 1-476 1 146 1 74 1 199 1 12 1 5 1-87 1 4 1 2 1 81 1-73 1-106 1 67 1 121 1-155 1-130 1 266 1-32 1-29 1-322 1 229 1 72 1-77 1 130 1-6 1 71 1 6 1-191 1-172 1 21 1 137 1-238 1-131 1 360 1-22 1 66 1 147 1-145 1 150 1 14 1-9 1-258 1 8 1-298 1 335 1 229 1-395 1-54 1 173 1 148 1 128 1-28 1-362 1-193 1 403 1 149 1-38 1-10 1-64 1 21 1 114 1-56 1 17 1-165 1 218 1-152 1 1 1 98 1-85 1-189 1 30 1 271 1-291 1-10 1 209 1-183 1 38 1 114 1-91 1 210 1-107 1 20 1-166 1 142 1-203 1 4 1 41 1 222 1 9 1-198 1 40 1 146 1 56 1-338 1-27 1 361 1-242 1 179 1-111 1 180 1 23 1-119 1-56 1 71 1 64 1-96 1 35 1-22 1 72 1 9 1-45 1-91 1 130 1 29 1-75 1-107 1 29 1 25 1 116 1 0 1-99 1 113 1-241 1 134 1 5 1 62 1-16 1 50 1-25 1 5 1 10 1-64 1-207 1 288 1-129 1 126 1-139 1 82 1-41 1-31 1 121 1-116 1 115 1-33 1-71 1 42 1-9 1 81 1-39 1 18 1-8 1-177 1 37 1 89 1-121 1 118 1 62 1-141 1-96 1 207 1-220 1 59 1 66 1 90 1-183 1 1 1 174 1-114 1-122 1 54 1-13 1 88 1 78 1 64 1-12 1 33 1-81 1 35 1-176 1 22 1 194 1-153 1-66 1 233 1-110 1-12 1 9 1 98 1-9 1-98 1 78 1 54 1-2 1-207 1 43 1 157 1-45 1-42 1 97 1 4 1-123 1-146 1 80 1-83 1 47 1 154 1 56 1-227 1 219 1-111 1 26 1-67 1-14 1 131 1-25 1 45 1-233 1 141 1 32 1 15 1 78 1-220 1 217 1-123 1 61 1-87 1 96 1-20 1-81 1-10 1 84 1-83 1 134 1-33 1 71 1-26 1 3 1-109 1 107 1-63 1 45 1-23 1-16 1 12 1-71 1 84 1 58 1-92 1 77 1-165 1 135 1 20 1-51 1-65 1-142 1 76 1-109 1 216 1 54 1 10 1-268 1 193 1-2 1 101 1-18 1-99 1 64 1-20 1-105 1-16 1 51 1-74 1 0 1 41 1 103 1-107 1 139 1-29 1 31 1-77 1 105 1 24 1-128 1 4 1-100 1-77 1 263 1-181 1 2 1-26 1 141 1 99 1-277 1 42 1-4 1 27 1 101 1-6 1 74 1-165 1 90 1-51 1 38 1 90 1-11 1-95 1-55 1 1 1 177 1-35 1-37 1 33 1 58 1-79 1-48 1 8 1 113 1-46 1 11 1-11 1 10 1 36 1-79 1-1 1 70 1-126 1 103 1-104 1-26 1-19 1 37 1 130 1 30 1-72 1 29 1-90 1-43 1 99 1 13 1-33 1 89 1-18 1-28 1-103 1-80 1 26 1 145 1-29 1-73 1-7 1 99 1-46 1 61 1-117 1 77 1 68 1-40 1-89 1-25 1 20 1 1 1 67 1-16 1 89 1-44 1-14 1-37 1 71 1-222 1 188 1 17 1-19 1-1 1 72 1-71 1-60 1 99 1 39 1-49 1-50 1 23 1-37 1 117 1-15 1-53 1-41 1 36 1 20 1 50 1-69 1 53 1-120 1 87 1-23 1-141 1 188 1-65 1-81 1 72 1 26 1 36 1-83 1 84 1-13 1-32 1-2 1 50 1-85 1-15 1 78 1-113 1-31 1 166 1-122 1 39 1-205 1 188 1 47 1 47 1 5 1-11 1-90 1-59 1 140 1-24 1 72 1-153 1 110 1-80 1-37 1 88 1-80 1 92 1 73 1-57 1-108 1 140 1-74 1 0 1-10 1-61 1 121 1-28 1-24 1 34 1-40 1 74 1 17 1-40 1-59 1 71 1-179 1 27 1 79 1 69 1-226 1 126 1 141 1-170 1 157 1-1 1-64 1 60 1-5 1 27 1-186 1 15 1 140 1 22 1-101 1-97 1 43 1 107 1-96 1-22 1 102 1 1 1 30 1-75 1 52 1-218 1 219 1-107 1-150 1 138 1 109 1 48 1 1 1-91 1 83 1-205 1-215 1 277 1-389 1 206 1 268 1-227 1 273 1 9 1-434 1 435 1-323 1-174 1-24 1 502 1-104 1-249 1 200 1-376 1-8 1 386 1-326 1 375 1-206 1 61 1 104 1 63 1 43 1-487 1 468 1 7 1-335 1-344 1 563 1-230 1 394 1-509 1 373 1-259 1 348 1-151 1 145 1-146 1-1167 1 1154 1 54 1-203 1 16 1 295 1-239 1-40 1 171 1-274 1 402 1-75 1-88 1 182 1-110 1 55 1 16 1-61 1 91 1-94 1 32 1-192 1 300 1 6 1-198 1 140 1-118 1-72 1 59 1-147 1 253 1-349 1 134 1 235 1 60 1-25 1 48 1-62 1 34 1-17 1 11 1 15 1-97 1-38 1 153 1-90 1 64 1 30 1-63 1 35 1-52 1-90 1 109 1 23 1 24 1-30 1-102 1-11 1 30 1-76 1 198 1-76 1 56 1-215 1 178 1-100 1 89 1-4 1-4 1 78 1-191 1 86 1-21 1 32 1-32 1 32 1 89 1-309 1 241 1-75 1 147 1-7 1-38 1 19 1-214 1 64 1 166 1-71 1 20 1-12 1-7 1 31 1-89 1 144 1-69 1 6 1 28 1 31 1-182 1-139 1 8 1 252 1-190 1 190 1-42 1 28 1-101 1 16 1 131 1-22 1 29 1-163 1 76 1 46 1-19 1-2 1-117 1 196 1-69 1 52 1-130 1 67 1 14 1 40 1-10 1-7 1-24 1 40 1 3 1-63 1-25 1 86 1 30 1-104 1-203 1 69 1 114 1-82 1 80 1 94 1-236 1 33 1 112 1 40 1 32 1-111 1 119 1-49 1 0 1-91 1 64 1-135 1 52 1 91 1-39 1 10 1-75 1 197 1-280 1 133 1 168 1-40 1-30 1 52 1-10 1-154 1-59 1 130 1-44 1-110 1-108 1 81 1 151 1-119 1 173 1-226 1 21 1 119 1 161 1-103 1 39 1-4 1-76 1-40 1 156 1-176 1-152 1 101 1 194 1-38 1-184 1 110 1 4 1 19 1 95 1 37 1-31 1 43 1-119 1 135 1-154 1-34 1 3 1 134 1 43 1-128 1-185 1 139 1 155 1-178 1 159 1-570 1 8 1 376 1 188 1-65 1 8 1-167 1 186 1-220 1 205 1 91 1 3 1-154 1 110 1-125 1-202 1 115 1-29 1 12 1 78 1-53 1 156 1-69 1-48 1 169 1-195 1-55 1 248 1-20 1-38 1 107 1-159 1-106 1 256 1-243 1 192 1-87 1 91 1 16 1-116 1 98 1-287 1 38 1 99 1-2 1 120 1 51 1-79 1 45 1-181 1 41 1 95 1 90 1-94 1 82 1-93 1 2 1 131 1-193 1 127 1-313 1 190 1 115 1 58 1-14 1-118 1 136 1-263 1 111 1 87 1 20 1-76 1 100 1 27 1-141 1-53 1 29 1 24 1 58 1 3 1-28 1 10 1 20 1-202 1 62 1 94 1 63 1-24 1-92 1 62 1 120 1-39 1 29 1-148 1 91 1-2 1-135 1-145 1-9 1 335 1-202 1-11 1 126 1 28 1-9 1 40 1-111 1-197 1 107 1 200 1-46 1-24 1-144 1-14 1 172 1-160 1-119 1 308 1-98 1-23 1 84 1 40 1-176 1 22 1-43 1 146 1 56 1-140 1 44 1-164 1 286 1-48 1-183 1-16 1 223 1 5 1 54 1-17 1-81 1 105 1-6 1-126 1 32 1-38 1 27 1 16 1 76 1-87 1-130 1 210 1-136 1 47 1 70 1-86 1 8 1-115 1-43 1 158 1 19 1-25 1 87 1-101 1-113 1 17 1 129 1 60 1-59 1 76 1-36 1-84 1-97 1-292 1 379 1 129 1-170 1-52 1 252 1-48 1-56 1 2 1-9 1-37 1 130 1-252 1 218 1-297 1-49 1 342 1-393 1 322 1 56 1 70 1-134 1-85 1 150 1-133 1-99 1 266 1 28 1-45 1-28 1-22 1-216 1-24 1 236 1-55 1-10 1-55 1-188 1 350 1-138 1-277 1 74 1 78 1 286 1-37 1 41 1-285 1-248 1 334 1-96 1 136 1 138 1-182 1 172 1 74 1-35 1-6 1-209 1 55 1-104 1 78 1 160 1 21 1 23 1-9 1-217 1 244 1-153 1 87 1 55 1-4 1-217 1 195 1 3 1-25 1-20 1-72 1-19 1 8 1 46 1 21 1 36 1-110 1 36 1-7 1 117 1-186 1 205 1-58 1-57 1-14 1 107 1-146 1 91 1 54 1-90 1-3 1-68 1 174 1 8 1-43 1-50 1 46 1 25 1-120 1 36 1-32 1 37 1 71 1-88 1 61 1-48 1 87 1 27 1-171 1-66 1 110 1 8 1-74 1 179 1-210 1 94 1 38 1 35 1 2 1-104 1 120 1-51 1 81 1-83 1-163 1-16 1 100 1 43 1 48 1 23 1-76 1-23 1 131 1-25 1-11 1-42 1-2 1 4 1 26 1-83 1-34 1-84 1 112 1 112 1 23 1-92 1 116 1-58 1-74 1 27 1 10 1 69 1-8 1-62 1-58 1 139 1-20 1-210 1 8 1 71 1 144 1-49 1-36 1 64 1-6 1 20 1-139 1 93 1-4 1-34 1 9 1 56 1-39 1-147 1 64 1 158 1-38 1-143 1 194 1-125 1-433 1-81 1 312 1 206 1 37 1-127 1-32 1-63 1 221 1-22 1-126 1 167 1-97 1 162 1-51 1-150 1 73 1 49 1 67 1-8 1-364 1-86 1 117 1 223 1-97 1 36 1-56 1 188 1 37 1-137 1-97 1-128 1 54 1 288 1-91 1-64 1 2 1 111 1 79 1-20 1-95 1-262 1 370 1-120 1-137 1-182 1 248 1-2 1-47 1 89 1-12 1-225 1 254 1 138 1-22 1-187 1 83 1 3 1-272 1 164 1 209 1-121 1 143 1-182 1 22 1 124 1-22 1-134 1 107 1 35 1-119 1 91 1-57 1 124 1-187 1 72 1 114 1-395 1 22 1 229 1 155 1-151 1 137 1 24 1-172 1 176 1-210 1 156 1-96 1 106 1-71 1 17 1-205 1 232 1-54 1 82 1 25 1-202 1 194 1-167 1 169 1-79 1 68 1-123 1 0 1 62 1-12 1-15 1 67 1-225 1-14 1-87 1 285 1-107 1 50 1-75 1 99 1-118 1 59 1 185 1-240 1-83 1 247 1-40 1 64 1 48 1-14 1 20 1-127 1 0 1 56 1-52 1 99 1 8 1-115 1 64 1-38 1-49 1 138 1-41 1-33 1 3 1 40 1-24 1 10 1-142 1 104 1 8 1 24 1-58 1 95 1-121 1 9 1 35 1 86 1 14 1-69 1-3 1-111 1 189 1-73 1-43 1-13 1 57 1-42 1 6 1 69 1 27 1-39 1 26 1 23 1-102 1 82 1-30 1-37 1-40 1 112 1-43 1 63 1-199 1 56 1-45 1 151 1-67 1-4 1-16 1-145 1-29 1 173 1-107 1 80 1-8 1-102 1 60 1-161 1 337 1-510 1 71 1 421 1-104 1-300 1-58 1 56 1-67 1 446 1-141 1 45 1 38 1-420 1 164 1 171 1 181 1-122 1-143 1-76 1 324 1-168 1 76 1-49 1-102 1 150 1 34 1-22 1-217 1 171 1 143 1 18 1-572 1 64 1 239 1 232 1-119 1-231 1 300 1 58 1-400 1-106 1 204 1-204 1-338 1 681 1-151 1 168 1 44 1-748 1 441 1 319 1-258 1 195 1 69 1-307 1 305 1 42 1-240 1-55 1 135 1-286 1 189 1 298 1-547 1 69 1 390 1-248 1 215 1-60 1 39 1-39 1 49 1-8 1 143 1-71 1 103 1-192 1-294 1 75 1 8 1 251 1 83 1-51 1-134 1-38 1-165 1 9 1 86 1 117 1-190 1 3 1-130 1 155 1-50 1-75 1 288 1-12 1-188 1-68 1 318 1-323 1 109 1-157 1 84 1 261 1 215 1-31 1-88 1-155 1 272 1-363 1 265 1-20 1 97 1 28 1-84 1-150 1 49 1 18 1 115 1 5 1-117 1 86 1-54 1 86 1 24 1-158 1 28 1-50 1 201 1-64 1 23 1 19 1-133 1-96 1 54 1-202 1 134 1 188 1 56 1-59 1 53 1-140 1 94 1 48 1 14 1-83 1 73 1-109 1 90 1-48 1 12 1-2 1 31 1 31 1-44 1 0 1-32 1-65 1 139 1 26 1-56 1-24 1 46 1-37 1 68 1-64 1-98 1-120 1 257 1-44 1-110 1 93 1-8 1-115 1-123 1-210 1 287 1 257 1-29 1-105 1 107 1-37 1-216 1 5 1 65 1-21 1 69 1 81 1 65 1-388 1 305 1 47 1-177 1 10 1 110 1 12 1 23 1 23 1 7 1 4 1 29 1-46 1-51 1-114 1 198 1-54 1-68 1-108 1 72 1 39 1 53 1 54 1 38 1 0 1-62 1 2 1-17 1-19 1-58 1 133 1-53 1 56 1-42 1-71 1 130 1 2 1-50 1 1 1 14 1-91 1 74 1-9 1-33 1-68 1-9 1 70 1 21 1 62 1-599 1 588 1-254 1 30 1 251 1-134 1 120 1-31 1-95 1 91 1-14 1-45 1 15 1 18 1 31 1-167 1 30 1 139 1 27 1-64 1-56 1 45 1-2 1-84 1 155 1-273 1 265 1 21 1-73 1-140 1 227 1-108 1 77 1-208 1-183 1 199 1-233 1 81 1 365 1-146 1 120 1-461 1 285 1-5 1 135 1-130 1-85 1 11 1-9 1 121 1-56 1-163 1 245 1 33 1-155 1 187 1-93 1 99 1-56 1-40 1 143 1-242 1-91 1 348 1-304 1-91 1 262 1-34 1 27 1-69 1 73 1 133 1-103 1-286 1-17 1 308 1-5 1-188 1-66 1 109 1 199 1-323 1 337 1-20 1 32 1-7 1 28 1-297 1 0 1 59 1 108 1 135 1-3 1-588 1-209 1 762 1-27 1-90 1-113 1 202 1 21 1-207 1 162 1-150 1 59 1 166 1 11 1 5 1-4 1-191 1 47 1 46 1-99 1-25 1 186 1 18 1-56 1-184 1-86 1 38 1 31 1-73 1 235 1 62 1-52 1 51 1-47 1 114 1-71 1 31 1 17 1-184 1 199 1-134 1 74 1-31 1 52 1-76 1 95 1-164 1-177 1 184 1 113 1-163 1 69 1-42 1 115 1 71 1-61 1 50 1-56 1-189 1 125 1-98 1-33 1 63 1 196 1-171 1 199 1-81 1 42 1-57 1 22 1-43 1 80 1-27 1-103 1-36 1 170 1 2 1-90 1 69 1-66 1 78 1-95 1 46 1-168 1-31 1 196 1-104 1 152 1-54 1 84 1-148 1-24 1-190 1 105 1 105 1-96 1 54 1-160 1 356 1-43 1-239 1 250 1-127 1 77 1-285 1 158 1 186 1-102 1-85 1-22 1 13 1 40 1-214 1 316 1-57 1-53 1 128 1 17 1-115 1-344 1 98 1 11 1-58 1 401 1 49 1-63 1-31 1-8 1 97 1-492 1 492 1-192 1-25 1 146 1 43 1-24 1 10 1-138 1 87 1 84 1-239 1 237 1-113 1-49 1 141 1-72 1 69 1-123 1 38 1 129 1-148 1 18 1 130 1-50 1 13 1 27 1-86 1 69 1-23 1-113 1-30 1 175 1-55 1-110 1 84 1-24 1-2 1 29 1 84 1 9 1-94 1 39 1-112 1 59 1 0 1 103 1-160 1 76 1-99 1 198 1-68 1-49 1 70 1 47 1-156 1 153 1-10 1-114 1 110 1-88 1 85 1-94 1 44 1 52 1 6 1-131 1 98 1-179 1 32 1 62 1 85 1-68 1 101 1-171 1 35 1-96 1 70 1 82 1-119 1 199 1-66 1-186 1 56 1 76 1-160 1 64 1 213 1-160 1 39 1 127 1-448 1 322 1 16 1 59 1-239 1 260 1-49 1 60 1-327 1 129 1 219 1-160 1 96 1-46 1 105 1-119 1 26 1-4 1 55 1-117 1 21 1-29 1-149 1 156 1-18 1-303 1 130 1 110 1-178 1 96 1 53 1-52 1 316 1-105 1 53 1-106 1-314 1 317 1-146 1 255 1-15 1 36 1-77 1-58 1 44 1 20 1 10 1-138 1 97 1-162 1 229 1 59 1-327 1 114 1 145 1-22 1 88 1-17 1-112 1-170 1 292 1-97 1-75 1 115 1-123 1 201 1-153 1-21 1-202 1-356 1 83 1 458 1-133 1 108 1-47 1 238 1-350 1 309 1-154 1 227 1-314 1-127 1 420 1-78 1 99 1-561 1 46 1 507 1-562 1 485 1-304 1 72 1 220 1-91 1-248 1-102 1 418 1-202 1 269 1-51 1 52 1-33 1-398 1 176 1-2 1 93 1 150 1-18 1 73 1-336 1 11 1 48 1-254 1 259 1 213 1-226 1 210 1-270 1 271 1-83 1 123 1-43 1 65 1-101 1-316 1 394 1-55 1-79 1 13 1 153 1-210 1 36 1 3 1 102 1-408 1-12 1 249 1 118 1-13 1 26 1 31 1 65 1-49 1-63 1-94 1 191 1 13 1-66 1 84 1-24 1-64 1-44 1 48 1-84 1 127 1 32 1-21 1-11 1-210 1-6 1 73 1 106 1-148 1 14 1 86 1-2 1 34 1 18 1 86 1-182 1 136 1-110 1 77 1 73 1 3 1-28 1-1 1-5 1-23 1-118 1 101 1 54 1-40 1-134 1 198 1-95 1-67 1-21 1 52 1 81 1-142 1 31 1-66 1 18 1 40 1-13 1 40 1 92 1-212 1 159 1-103 1 172 1 18 1-104 1 15 1-81 1 29 1 110 1 0 1-43 1 74 1-75 1 55 1-27 1-161 1 8 1 24 1 86 1-219 1-236 1 361 1 167 1-35 1-47 1 70 1-74 1-116 1 56 1 174 1-240 1-16 1 216 1-65 1-169 1 263 1-150 1-2 1-89 1 2 1 139 1 104 1-176 1-39 1 151 1-485 1 284 1 223 1-527 1 164 1 412 1-6 1 12 1-352 1 329 1-207 1-54 1 163 1 35 1 40 1-46 1-101 1 161 1 14 1-142 1-193 1 6 1 266 1-322 1 178 1 171 1-293 1 347 1-346 1 168 1 58 1-473 1 486 1-116 1 166 1-135 1 145 1 18 1-272 1-12 1-51 1 268 1-284 1 126 1 47 1-45 1-42 1 110 1-4 1-129 1 156 1 78 1-231 1-50 1 222 1 39 1 46 1-17 1-241 1 39 1 14 1 98 1 26 1-138 1 152 1-12 1-130 1 178 1-106 1-137 1 233 1-31 1 127 1-266 1 254 1-220 1-159 1-171 1 268 1 259 1-381 1 79 1 255 1-41 1-356 1 215 1 182 1-207 1 219 1 21 1-69 1-5 1 93 1-694 1 533 1 91 1-130 1 153 1-602 1 377 1-140 1 227 1 116 1-2 1-5 1 101 1-19 1-143 1 97 1-513 1 523 1-208 1 234 1-93 1 20 1 62 1-306 1 12 1 270 1-195 1 51 1-143 1 237 1-9 1-2 1-258 1 219 1 6 1-13 1-20 1 186 1-98 1 41 1-138 1-37 1 149 1-8 1-25 1 46 1-165 1 156 1-64 1 0 1 81 1 71 1-88 1-60 1 30 1 59 1-3 1-17 1-159 1 131 1-1 1 101 1-2 1-29 1-78 1 50 1 15 1-60 1 17 1 4 1-76 1-36 1 125 1 1 1-146 1 213 1-84 1-22 1-2 1 115 1-72 1-14 1 59 1-50 1 81 1-88 1 70 1-36 1 28 1-22 1-58 1 7 1-4 1 13 1-71 1 5 1 55 1 100 1 1 1-31 1 3 1-11 1-50 1 15 1-45 1 38 1 42 1-61 1-85 1 145 1-25 1 55 1-14 1-6 1-188 1 116 1 70 1-148 1 113 1 55 1-12 1-43 1-156 1 46 1 177 1-106 1 86 1-232 1 9 1 200 1-79 1 69 1-67 1-140 1 111 1-37 1 89 1 93 1-281 1-112 1 184 1 99 1 80 1-13 1-142 1-63 1 174 1 32 1-261 1 40 1 8 1 42 1 165 1-85 1-62 1-69 1 38 1 63 1 117 1-97 1 87 1-154 1-14 1 68 1 155 1-295 1 133 1 141 1-40 1-84 1 150 1-275 1-70 1 191 1-58 1 85 1 50 1 34 1-49 1-86 1 20 1 99 1-51 1 79 1-111 1 81 1 27 1-46 1 1 1-334 1-120 1 109 1 239 1-143 1-26 1 258 1-166 1 44 1 134 1 12 1 65 1-148 1 9 1-236 1 129 1 107 1-224 1 321 1-222 1 163 1-146 1-86 1 214 1 21 1 67 1-64 1 78 1-169 1 18 1 160 1-253 1-62 1 124 1-37 1 205 1-91 1 74 1-6 1-21 1 11 1 31 1 4 1 35 1-108 1 94 1-78 1-13 1 106 1-620 1 172 1 330 1 118 1-100 1 83 1-22 1-118 1-29 1-67 1 88 1-42 1-36 1 84 1 16 1-157 1-75 1 131 1 112 1-27 1-111 1 199 1 56 1-128 1-222 1 204 1 25 1-107 1 54 1 185 1-214 1 68 1 88 1-106 1-225 1 105 1 213 1 54 1-12 1-230 1 254 1-211 1 51 1-12 1 103 1 41 1-50 1 51 1-150 1 184 1-181 1 36 1-87 1 92 1-66 1 109 1-150 1 249 1-377 1 312 1 48 1-38 1 33 1-3 1-105 1 81 1-104 1-79 1 62 1 163 1-330 1 225 1-38 1 56 1-148 1 85 1 104 1-118 1-88 1-91 1 287 1 23 1-47 1 46 1-186 1 14 1 182 1-32 1 7 1-103 1 49 1 67 1 29 1-140 1 58 1 24 1 59 1-85 1 19 1-7 1 69 1-16 1-86 1 13 1 53 1-156 1-44 1 4 1 137 1 108 1-119 1 88 1-137 1 80 1-31 1 62 1-90 1 25 1 49 1-25 1 77 1-55 1-89 1 65 1-44 1 48 1-28 1-23 1 101 1-172 1 193 1-46 1-13 1-78 1 142 1-51 1-59 1 91 1-139 1 135 1-87 1 66 1-20 1 74 1-68 1-66 1 142 1-235 1 40 1 56 1 105 1 35 1 1 1-125 1-74 1 108 1-50 1 34 1 79 1-4 1-2 1 10 1-227 1 148 1 26 1 26 1 49 1-75 1-62 1 11 1 94 1 8 1-26 1-30 1 56 1-115 1-7 1 136 1-137 1 33 1 27 1 30 1-29 1-50 1 98 1 36 1-77 1 27 1-1 1-75 1 95 1-35 1-73 1-10 1 126 1-38 1-154 1 138 1-89 1 115 1 16 1-165 1-153 1 210 1 139 1-63 1-8 1-32 1-57 1-27 1 82 1-22 1-34 1 76 1-234 1 28 1 85 1 124 1 54 1-27 1 21 1 46 1-352 1 192 1 153 1-26 1-57 1 43 1-161 1 208 1-14 1 7 1-118 1 0 1-86 1 23 1 152 1-10 1-186 1 67 1 130 1-81 1 1 1-220 1-143 1 293 1 134 1-51 1-186 1 162 1-24 1-49 1 172 1-156 1 84 1-168 1 160 1-166 1 237 1-70 1 35 1 38 1-126 1 30 1-98 1 90 1 136 1-193 1 91 1-25 1 56 1-64 1 118 1-31 1-2 1-3 1 1 1-54 1 62 1-67 1 99 1 5 1-15 1-41 1 52 1-192 1 36 1 27 1 135 1-66 1 2 1 47 1-82 1 44 1 42 1-66 1 28 1-66 1-62 1 47 1 67 1 61 1-38 1-13 1-47 1 69 1-68 1-69 1 28 1 136 1-42 1-129 1 69 1 98 1-6 1-30 1-116 1 111 1-67 1-113 1 69 1 65 1 47 1-33 1-46 1 118 1-72 1-41 1-16 1 141 1-122 1 55 1-107 1 133 1-74 1-15 1 0 1 124 1-102 1-67 1 162 1-16 1 4 1-189 1-20 1-108 1 169 1-103 1 123 1-237 1 278 1-283 1 261 1 16 1 33 1 82 1-17 1-243 1 101 1 118 1 44 1-78 1-27 1-42 1 125 1-15 1-28 1-7 1-150 1 104 1 62 1 41 1-69 1 35 1 54 1-114 1 96 1-185 1-51 1 232 1-20 1 34 1-187 1-5 1 142 1 8 1-56 1 85 1-38 1 60 1-45 1 42 1-99 1-38 1 88 1 8 1-78 1 69 1-1 1 24 1-2 1-187 1-56 1 64 1 145 1-242 1 218 1-40 1-65 1 55 1 86 1-12 1-50 1 74 1-16 1 41 1-137 1-53 1 89 1 58 1 29 1-88 1 88 1-94 1 109 1-314 1 196 1 48 1 44 1-14 1-9 1-108 1 88 1-76 1 108 1-57 1 95 1 1 1 6 1-241 1 150 1-13 1-34 1-111 1 116 1 49 1-78 1-194 1 143 1 22 1-106 1 294 1-109 1-70 1 144 1-179 1 191 1-153 1-80 1-51 1 172 1 21 1-60 1 143 1-25 1 15 1-56 1 91 1-64 1-67 1 16 1 19 1 6 1-104 1 77 1 112 1-30 1 3 1-139 1 33 1 88 1-31 1-22 1-8 1 11 1 48 1 26 1-82 1 82 1-119 1 138 1-59 1-45 1 110 1-210 1 102 1 50 1-63 1 3 1-37 1 64 1-148 1 143 1 27 1-35 1-106 1 41 1 49 1-73 1 169 1-11 1-68 1-21 1-149 1 143 1 77 1-4 1 51 1-279 1 40 1-46 1 118 1-159 1 126 1 47 1 151 1-9 1-287 1 302 1-38 1-429 1-60 1 29 1-1 1 357 1-109 1 134 1 71 1-25 1 10 1 64 1-119 1-137 1-6 1 257 1-16 1-193 1-113 1 167 1 116 1-239 1 268 1-156 1 174 1-260 1-48 1 285 1-329 1 169 1 43 1 146 1-120 1 126 1-26 1-36 1-151 1-294 1 397 1-90 1 166 1 23 1-84 1-172 1 125 1-29 1-28 1 143 1-173 1 90 1-98 1 109 1-50 1 178 1-38 1-83 1-26 1 23 1 92 1 25 1-273 1-160 1 77 1 149 1 25 1-77 1 37 1-39 1 124 1 108 1-222 1 28 1 230 1-58 1-343 1 44 1 147 1-184 1 171 1-37 1 46 1 52 1-251 1-52 1 20 1-123 1 126 1 401 1-246 1 136 1 107 1-129 1 46 1-17 1 50 1 61 1-234 1 241 1-378 1 185 1-369 1 55 1 305 1 162 1 24 1-126 1-18 1-256 1 245 1 3 1-93 1 276 1-50 1-14 1 49 1 23 1-55 1-532 1 409 1 152 1 15 1-178 1 30 1 120 1 14 1-118 1 143 1-176 1 154 1-73 1-38 1 88 1 13 1-24 1 20 1-36 1-71 1-18 1-184 1 13 1 255 1 70 1-174 1 5 1 57 1 36 1-32 1-171 1 190 1 63 1-233 1 36 1 211 1-239 1 110 1 38 1-254 1 119 1 67 1 17 1-117 1 0 1 179 1-94 1 98 1-26 1 32 1-131 1-41 1 168 1 94 1-18 1-132 1 143 1-1 1-37 1-107 1-170 1 52 1 193 1 65 1 11 1-35 1-228 1-27 1 269 1-65 1 3 1-13 1 73 1-112 1-4 1 92 1-207 1 49 1 87 1 68 1-10 1-193 1 73 1 135 1 46 1-104 1-8 1 97 1-54 1-168 1 23 1 74 1 135 1-5 1-21 1-59 1 44 1-8 1 42 1-36 1-92 1 2 1 139 1-118 1 77 1-45 1-127 1 184 1-139 1-52 1 24 1 114 1 35 1-5 1 21 1 16 1-120 1 43 1 71 1-15 1-27 1-167 1 142 1 51 1-18 1 51 1 1 1-24 1-30 1-31 1-114 1 199 1-58 1-157 1 217 1-105 1 81 1 20 1-165 1 87 1-285 1 276 1-245 1 171 1 49 1-22 1 3 1-391 1 285 1 200 1-83 1 28 1-432 1 526 1-40 1-251 1-40 1 327 1-407 1 162 1 32 1-55 1-73 1 6 1 268 1-64 1 40 1-7 1 59 1-140 1 91 1 46 1-156 1-115 1 66 1 218 1-174 1 156 1-225 1-37 1 219 1 72 1 20 1-305 1 224 1 12 1-190 1 206 1 17 1-80 1-146 1 88 1 159 1-35 1-9 1-161 1 125 1 102 1-37 1-10 1-77 1 94 1-34 1-157 1 194 1-58 1-79 1 77 1-22 1 75 1-83 1-7 1 107 1-125 1-87 1 156 1-65 1 44 1-11 1-74 1 147 1-58 1 66 1-61 1 6 1 54 1 6 1-74 1 83 1-35 1 11 1 9 1-33 1-125 1 16 1 151 1-20 1-80 1 41 1-229 1 200 1 91 1-156 1 9 1-29 1 83 1-240 1 247 1-86 1 36 1-19 1-89 1-258 1-77 1 376 1-104 1-221 1 77 1 272 1 185 1-480 1 478 1-78 1-74 1 118 1-342 1 262 1 23 1-183 1-257 1 118 1-39 1 195 1 234 1-465 1 331 1 32 1-61 1-9 1 197 1-75 1-406 1-26 1 472 1 15 1-457 1 304 1-81 1 67 1 56 1-414 1 473 1-56 1-104 1-119 1 269 1 2 1-130 1 59 1-277 1 231 1-357 1 544 1-14 1-107 1-51 1-237 1 389 1-180 1 29 1-296 1 219 1-6 1 51 1 176 1-265 1 89 1-201 1 129 1 164 1 92 1-276 1 33 1 209 1-1 1-1 1-19 1-33 1 76 1-272 1-109 1 233 1-52 1 129 1 54 1 52 1 9 1-66 1 27 1-62 1 103 1-295 1 141 1 155 1-72 1-28 1-70 1-58 1 158 1-6 1 38 1-163 1 171 1 18 1-23 1 3 1-52 1-91 1 23 1 135 1-24 1-143 1 137 1-59 1-27 1 24 1 62 1 38 1-53 1-167 1 184 1-73 1 78 1-226 1 133 1 117 1-89 1-65 1 147 1-99 1-87 1-54 1 68 1 8 1 158 1-127 1 76 1 44 1 31 1-47 1-63 1-98 1 85 1 96 1-21 1-31 1-30 1-120 1 176 1-1 1-159 1-23 1 201 1-52 1-58 1 31 1 30 1 40 1-116 1 25 1 123 1-8 1-177 1 24 1 47 1-184 1 281 1-94 1 40 1 27 1 60 1-58 1-252 1 297 1-102 1 107 1-173 1-16 1 17 1 124 1 51 1-59 1 36 1-36 1-64 1 130 1-70 1-17 1 40 1 7 1-15 1 53 1-260 1 128 1 42 1 83 1-83 1 39 1 1 1 7 1-61 1-22 1 57 1 59 1-22 1-69 1-17 1 76 1 40 1-91 1 83 1-118 1 59 1 51 1 12 1-36 1-65 1 63 1-20 1-45 1-41 1 20 1-88 1 87 1 132 1-173 1 51 1 85 1-28 1 48 1-100 1 87 1-68 1-55 1 142 1-81 1 8 1 55 1-66 1-49 1-27 1 105 1 38 1-20 1 26 1-69 1-133 1-3 1 153 1-63 1-88 1 177 1-187 1-127 1 331 1-457 1 333 1 137 1-213 1 209 1-21 1-257 1 104 1-144 1 229 1-107 1-287 1 441 1-256 1 261 1-266 1 285 1-63 1 44 1-33 1-317 1 35 1 120 1 231 1-129 1 94 1-146 1 23 1 95 1-274 1 70 1 215 1-76 1-354 1 361 1 100 1 39 1-555 1 488 1-172 1 64 1 10 1 25 1 116 1-179 1-26 1-52 1 83 1 168 1-19 1 47 1-116 1-96 1 112 1-140 1 162 1-16 1-8 1 14 1-90 1 73 1 85 1-17 1-163 1 208 1-10 1-145 1 64 1-130 1 156 1-119 1-422 1 427 1-63 1 207 1 8 1-131 1 156 1-29 1-42 1-47 1 83 1-72 1 23 1 75 1-14 1-88 1-19 1 42 1-81 1 21 1 19 1 6 1-41 1 4 1 158 1-153 1 21 1 123 1-8 1-6 1-112 1 94 1-26 1-62 1-49 1 71 1 49 1-69 1 21 1 37 1-50 1 47 1 19 1-16 1-64 1 81 1 15 1 9 1-8 1-36 1-5 1-98 1-95 1 64 1 156 1 37 1-50 1-53 1 25 1 30 1-195 1 22 1 62 1 97 1-121 1 6 1 174 1-64 1 66 1-179 1 140 1-57 1-124 1 188 1 5 1-59 1-12 1 5 1 77 1 15 1 1 1-28 1-25 1 17 1-70 1 41 1 7 1-35 1 84 1 11 1-147 1 120 1 42 1-19 1-85 1 99 1-76 1 26 1-240 1 56 1 85 1 69 1 84 1-289 1 255 1-160 1 15 1 158 1-210 1 200 1-164 1-100 1-107 1 274 1-85 1 156 1 20 1-49 1 26 1 11 1-6 1-38 1 65 1-81 1-100 1 90 1 10 1-126 1-3 1 0 1 64 1 114 1 59 1-291 1 156 1 7 1 67 1 23 1-114 1 68 1 22 1-105 1-51 1 43 1-78 1 59 1-216 1 134 1 177 1-206 1 162 1 83 1-71 1 87 1 6 1-205 1 67 1-65 1 132 1 47 1-46 1-62 1 85 1 36 1 52 1-208 1 125 1-25 1-227 1-199 1 111 1 24 1-75 1 73 1 342 1-255 1 110 1 100 1-212 1-219 1-24 1 203 1 305 1-233 1 226 1-346 1 70 1 228 1 46 1 0 1-141 1-265 1 289 1 76 1-698 1 92 1 600 1-75 1-285 1-122 1 307 1-193 1 337 1 95 1-23 1-106 1-21 1 90 1-353 1 5 1 142 1-98 1-4 1 57 1-90 1 134 1 249 1-160 1-38 1 96 1-240 1 215 1 87 1-117 1 98 1-171 1 26 1 217 1-143 1 97 1-160 1 113 1 14 1 61 1-26 1-44 1-63 1-81 1 202 1-64 1 65 1 75 1-30 1-90 1 99 1 10 1 6 1-83 1 64 1-47 1-95 1 90 1-24 1-4 1 81 1-102 1-14 1 105 1 0 1 25 1-78 1 70 1-25 1-48 1 20 1 41 1 18 1-1 1-17 1 2 1-67 1-37 1 22 1 44 1 49 1 13 1-88 1-129 1 156 1 55 1-170 1 169 1 6 1-179 1 39 1-48 1 177 1-142 1 137 1-92 1 41 1 14 1-7 1 52 1-290 1-50 1 230 1 52 1-30 1-5 1 34 1 40 1-67 1 48 1 35 1-66 1 3 1-51 1 64 1 31 1-78 1 78 1-97 1 84 1-44 1 21 1-12 1 61 1-73 1-37 1 99 1-96 1 49 1-44 1-47 1-80 1 226 1-92 1-116 1-6 1 226 1-198 1 48 1 123 1 22 1-101 1 43 1-19 1-127 1-82 1-14 1 235 1-106 1 182 1-182 1 118 1 11 1-5 1-70 1 126 1-107 1 94 1-11 1 21 1-88 1-7 1 72 1-54 1 86 1-85 1 74 1-39 1-71 1 64 1 38 1-202 1 99 1 78 1-23 1-36 1-33 1-14 1 128 1-126 1 151 1-37 1-130 1 59 1-23 1-165 1 262 1-49 1-4 1 40 1 10 1 24 1-13 1 27 1-277 1 229 1-218 1 11 1 96 1 139 1-172 1-63 1 174 1-17 1-243 1 74 1 7 1 243 1-41 1-133 1 89 1 13 1-25 1 52 1-12 1-154 1 90 1 119 1-4 1-21 1-145 1 100 1 12 1 12 1-41 1-143 1 97 1-123 1 133 1 122 1-188 1 107 1-20 1-67 1 75 1 104 1-464 1 249 1 44 1-116 1 115 1 31 1 22 1-11 1-129 1 58 1 182 1-14 1-295 1 274 1 50 1-20 1-59 1-167 1 106 1-38 1 130 1-37 1 48 1-194 1 5 1 69 1 169 1-28 1-55 1-27 1 112 1-19 1-1 1-19 1-12 1 14 1-12 1 46 1-37 1-83 1 33 1-22 1 92 1-143 1-30 1 26 1 76 1 0 1 18 1-61 1 82 1 33 1-94 1 93 1-177 1 36 1 43 1 45 1-26 1-230 1 65 1 252 1-88 1-87 1 168 1-54 1 28 1-58 1 100 1-102 1 11 1 15 1-6 1 42 1 11 1-112 1 106 1-173 1 122 1-31 1-33 1-23 1 111 1 55 1-375 1 305 1-29 1-181 1-72 1 261 1-109 1 9 1 68 1 2 1-11 1-129 1 203 1-232 1 103 1-26 1-351 1 168 1 313 1 93 1-475 1 397 1-256 1-182 1 2 1 197 1 258 1 6 1-122 1-16 1-229 1 234 1 17 1-99 1-70 1 102 1 226 1-238 1 35 1-217 1 224 1-63 1 82 1-317 1 74 1 206 1 62 1-167 1 297 1-389 1 285 1 110 1-495 1 52 1 456 1-64 1-144 1-71 1-64 1 333 1-78 1 50 1 30 1-497 1 12 1-32 1 31 1 427 1-75 1-1 1-204 1 251 1-587 1 641 1-313 1 107 1-286 1 517 1-119 1-225 1 257 1 84 1 16 1-124 1-100 1 221 1-76 1-69 1 130 1-46 1-64 1-86 1 152 1 46 1 32 1-46 1 8 1-12 1-102 1 33 1-30 1 50 1 48 1 37 1-28 1-22 1-164 1 169 1-48 1-274 1 234 1 57 1 81 1-73 1-131 1 76 1 27 1-50 1 97 1-251 1 128 1 47 1 137 1-136 1-54 1-132 1 319 1-33 1-140 1 75 1-13 1 13 1 7 1 37 1 17 1-35 1 47 1-28 1-70 1 20 1-33 1 55 1-25 1 72 1 26 1-154 1 109 1-28 1 23 1-456 1 125 1 356 1-82 1 22 1 72 1 21 1-128 1-9 1-162 1 115 1 137 1-116 1 132 1-93 1 11 1 89 1-183 1 61 1 45 1 32 1 44 1-15 1-79 1-28 1 15 1 15 1-36 1-222 1 214 1-22 1-141 1 32 1-86 1 309 1 56 1-90 1 20 1 44 1-71 1-144 1 195 1 43 1-155 1 75 1-19 1-29 1 126 1-86 1-33 1 39 1 45 1-20 1-15 1 74 1-90 1 60 1-132 1 43 1 64 1 46 1 25 1-139 1 105 1-70 1 43 1-1 1 1 1 10 1 0 1-8 1-72 1-35 1-97 1 47 1 55 1 54 1 24 1-2 1 73 1-71 1 62 1-104 1-119 1 216 1-142 1 97 1 34 1-172 1 29 1-1 1 140 1-79 1-104 1-24 1 68 1 17 1 110 1-69 1-48 1 100 1 72 1-31 1 26 1-63 1 27 1 37 1-20 1-45 1 9 1-140 1 202 1-51 1-119 1 135 1-92 1 21 1-75 1 65 1-20 1 10 1 71 1-12 1-94 1 36 1 45 1-71 1 34 1 115 1-60 1 42 1-118 1-10 1-54 1 167 1-181 1 30 1 155 1-109 1 9 1 87 1-67 1-39 1 100 1 29 1-2 1-70 1 61 1-226 1 12 1 227 1-159 1-29 1 27 1-68 1 84 1-29 1-38 1 116 1 11 1-160 1 184 1-54 1 19 1 30 1 49 1-22 1-21 1-51 1 124 1-157 1 159 1-25 1-71 1 32 1 11 1-68 1 46 1-170 1 208 1-161 1-67 1 76 1-17 1-75 1 183 1 49 1-43 1 33 1-77 1-8 1 80 1-59 1 105 1-71 1-257 1 272 1-203 1 46 1 34 1 158 1-148 1 17 1-81 1 52 1 134 1-164 1 144 1 50 1-64 1 39 1-155 1-87 1 191 1-101 1 16 1 138 1-66 1-33 1 16 1 85 1 0 1-224 1 245 1-138 1 130 1-72 1 16 1 63 1-149 1 180 1-293 1-10 1 310 1-184 1 150 1-182 1-26 1 230 1-179 1 191 1-171 1-58 1 23 1 152 1-64 1 11 1 47 1 16 1-224 1-151 1 345 1-66 1-195 1 190 1-81 1 51 1 78 1 15 1 50 1-69 1-114 1 4 1-22 1 78 1-21 1-132 1-175 1 183 1-52 1 325 1-71 1-11 1 99 1-366 1 308 1-108 1 112 1-223 1 280 1-134 1 31 1-32 1-170 1 63 1 200 1 33 1-117 1 120 1-62 1-169 1 91 1 111 1-110 1 115 1-25 1-28 1-274 1 83 1 144 1 113 1-239 1 79 1 187 1-47 1-57 1-69 1 89 1-8 1-13 1 58 1-186 1 38 1 167 1 27 1-120 1 50 1-8 1 44 1-49 1 43 1-179 1 112 1 100 1-148 1-1 1 143 1 10 1-98 1-60 1 130 1 8 1-55 1-18 1 90 1-173 1 140 1-53 1 64 1-9 1-65 1 8 1 67 1-150 1 26 1 131 1-31 1-58 1 70 1-83 1 50 1 56 1 17 1-217 1-172 1 288 1 8 1-139 1 192 1 2 1-78 1-77 1 49 1 34 1-199 1-5 1 290 1-30 1-45 1-29 1-13 1 60 1 44 1-78 1-2 1-31 1-96 1 180 1-4 1-50 1 29 1-87 1 148 1-9 1 22 1-130 1 14 1-55 1 115 1-96 1 94 1 2 1 26 1 32 1-40 1 11 1-90 1 8 1-64 1 98 1-245 1-68 1 258 1 105 1-128 1 143 1-90 1-39 1 134 1-31 1-22 1 31 1-135 1-78 1 208 1-174 1 51 1-43 1 136 1-172 1 84 1 65 1 60 1-324 1 115 1 102 1-178 1 275 1 41 1-321 1 10 1 159 1 152 1-87 1-122 1 42 1-38 1 102 1 98 1-82 1-4 1 101 1-194 1 180 1-151 1-14 1 141 1 2 1 2 1-31 1 43 1-36 1-17 1 1 1-38 1-25 1-38 1 46 1 83 1 1 1-64 1 75 1-180 1 185 1 19 1-17 1-114 1 45 1 87 1-7 1-316 1 326 1-334 1 279 1-31 1-36 1-154 1 176 1 48 1-202 1 6 1 120 1 73 1 4 1 44 1-90 1-147 1-95 1 238 1-137 1 145 1-292 1 101 1-6 1-16 1 150 1 141 1-48 1-256 1 211 1-149 1 200 1-36 1 32 1-22 1-23 1-81 1 113 1 69 1-102 1-69 1 40 1 96 1-43 1-5 1-85 1 17 1 120 1-96 1 89 1-67 1-53 1 93 1-3 1 62 1-57 1 61 1-205 1 97 1 84 1-1 1-92 1 44 1-10 1 39 1 11 1 30 1-129 1 46 1 58 1-184 1 83 1-126 1-5 1 162 1-12 1-106 1 189 1-103 1 72 1-132 1 199 1-66 1 69 1-33 1 33 1-189 1 87 1-24 1-17 1-211 1 32 1 233 1 59 1-126 1 119 1-44 1-159 1 19 1 137 1-72 1 20 1 45 1 62 1-69 1-107 1 58 1 97 1 34 1-91 1 10 1 21 1 77 1-66 1-61 1-46 1-12 1 80 1-93 1 107 1-166 1 91 1-3 1 11 1-141 1 107 1 168 1-164 1-87 1 68 1 19 1-10 1 134 1 17 1-227 1 81 1 137 1-321 1 284 1-238 1 42 1 270 1-66 1-71 1 123 1-124 1-530 1 522 1-28 1 126 1-143 1 85 1-152 1-128 1 353 1-232 1 171 1-312 1 216 1-35 1 197 1 41 1-336 1-50 1 348 1-441 1 110 1 107 1-111 1 268 1 71 1 27 1-437 1 435 1-350 1 194 1 148 1-7 1-163 1 106 1-118 1 35 1 85 1-256 1-83 1 185 1 156 1 6 1-229 1-17 1 30 1 162 1-42 1 147 1-285 1-16 1 320 1-136 1-266 1 313 1-359 1-55 1 328 1-62 1 111 1-126 1 74 1-265 1 182 1-83 1 208 1-111 1 74 1 103 1-295 1 140 1-91 1 236 1 15 1-229 1-241 1 51 1 457 1-187 1-189 1 397 1-545 1 509 1-5 1-459 1 457 1-366 1 360 1-50 1-84 1-45 1-252 1 414 1-899 1 151 1 760 1-311 1 193 1 158 1-273 1 246 1-45 1-353 1 140 1 159 1-5 1-313 1 69 1-18 1 66 1 55 1 221 1-441 1 117 1 286 1 33 1 22 1-416 1 284 1-169 1 282 1 70 1-39 1-30 1-30 1 34 1-415 1 388 1-318 1-52 1 158 1-68 1 209 1 163 1-252 1 179 1-257 1 152 1 95 1-164 1-253 1 168 1-43 1-31 1 230 1 173 1-410 1 410 1-205 1-113 1 124 1 100 1-16 1 101 1-110 1-180 1-85 1 18 1 282 1 56 1-17 1-68 1 78 1-141 1-26 1 179 1-192 1-14 1 232 1-95 1 23 1 62 1-8 1-42 1-16 1 67 1 16 1-19 1-8 1-104 1 24 1-4 1 45 1-74 1 41 1-39 1 112 1-50 1-77 1 121 1-72 1-117 1 88 1 93 1 27 1-117 1-37 1 3 1 3 1 20 1 31 1 9 1-115 1 109 1 16 1 28 1-124 1-4 1 145 1-76 1 89 1-104 1-62 1-10 1 137 1 68 1-41 1 45 1-113 1-18 1-11 1 54 1 80 1-25 1 27 1-64 1 68 1-70 1 20 1-34 1-25 1 103 1-245 1-98 1 217 1-42 1-50 1-177 1 281 1-60 1-93 1 3 1 109 1 18 1-93 1 126 1 4 1 51 1 0 1-85 1 119 1-87 1-26 1-97 1 200 1-10 1-143 1 33 1 97 1-50 1 66 1-1 1-25 1-9 1-5 1 55 1-62 1 67 1-1 1 12 1-132 1 101 1-110 1-59 1 68 1 124 1-1 1-8 1-71 1 60 1-84 1-11 1 40 1-55 1 4 1 132 1-15 1-127 1-4 1 90 1-24 1-13 1-87 1 107 1 26 1-66 1 20 1 10 1-3 1 93 1 4 1-82 1 67 1 15 1-37 1 35 1-151 1 103 1 49 1-12 1-70 1-37 1-84 1 3 1-56 1 53 1 177 1-128 1 123 1-48 1-4 1-92 1 121 1-28 1 72 1-6 1-79 1 86 1 10 1-35 1-54 1-5 1 55 1 19 1-50 1 35 1-117 1 84 1-150 1 106 1 103 1-119 1 94 1-65 1 20 1 0 1-39 1 30 1-156 1-33 1 182 1-118 1-41 1 185 1 47 1-31 1 25 1 27 1-12 1-83 1-5 1-26 1-12 1 61 1-25 1-28 1-37 1 150 1 19 1-59 1-21 1 39 1-182 1 97 1-29 1 122 1-13 1-188 1-10 1 55 1 74 1 54 1-110 1 157 1-2 1-12 1-51 1 35 1-109 1-82 1 129 1-53 1 57 1 54 1-114 1 13 1 135 1-61 1-128 1-39 1 70 1 114 1-91 1 63 1-113 1 44 1 132 1-56 1-3 1-24 1-104 1 129 1-122 1 159 1-185 1 185 1-22 1-200 1 192 1-25 1 82 1-117 1 113 1-8 1-12 1-43 1-111 1 111 1-59 1 91 1 27 1-92 1-27 1 5 1 115 1-79 1-206 1 85 1 43 1 143 1-114 1 53 1 83 1-70 1 46 1-100 1 58 1-173 1-1 1-20 1 20 1 63 1 136 1-50 1-35 1 70 1-125 1 173 1 3 1-365 1 271 1 43 1-87 1 8 1 72 1 3 1-99 1-37 1 70 1 90 1-475 1 403 1-33 1 52 1-29 1-83 1-139 1 176 1-240 1 79 1 126 1-34 1-278 1-23 1 497 1-300 1 56 1 152 1-188 1-26 1 178 1 40 1-351 1 464 1-176 1 173 1-129 1-22 1-102 1-35 1 78 1 66 1 96 1-97 1 76 1-74 1-78 1 67 1 125 1-83 1 82 1-45 1 61 1-47 1 66 1-88 1 40 1-58 1 17 1 85 1-41 1 43 1-502 1 437 1 39 1-65 1-84 1 199 1-144 1 76 1 1 1-126 1 157 1-10 1 1 1-18 1-40 1-80 1 101 1 43 1-184 1-63 1 145 1 1 1-188 1 143 1 156 1 31 1-8 1-89 1-178 1 115 1 104 1 4 1-67 1-2 1 105 1-129 1-36 1 176 1-108 1-30 1 104 1-140 1 67 1 51 1 28 1-9 1 14 1-74 1 24 1-65 1 110 1-75 1 22 1 7 1 80 1-256 1 248 1-158 1 5 1-133 1 175 1-39 1 90 1 51 1 10 1-40 1 36 1-33 1-66 1 60 1 7 1-94 1 93 1-104 1 37 1-49 1-31 1-30 1 219 1-127 1 105 1-48 1-7 1-135 1 49 1-70 1 20 1-70 1 162 1-94 1 86 1-41 1 76 1 46 1-101 1 139 1-231 1 116 1 65 1-97 1-1 1 153 1-34 1 28 1-11 1 22 1-130 1 91 1-164 1 32 1-95 1 137 1 42 1-4 1 77 1-117 1 131 1-126 1 71 1-51 1 92 1-78 1-91 1 135 1 22 1-131 1 33 1 29 1-29 1 114 1-97 1-134 1 136 1 102 1-112 1 55 1-67 1 70 1-29 1 50 1-77 1 105 1-18 1-68 1-6 1 27 1 8 1-130 1 1 1 119 1-41 1-47 1 97 1-52 1-68 1 10 1 117 1-35 1-120 1 104 1 94 1-181 1 171 1-99 1-87 1 36 1-251 1 375 1-521 1 453 1-59 1-202 1 53 1 30 1-105 1 349 1-27 1-773 1 291 1 551 1-214 1-44 1 185 1-351 1 434 1-228 1 67 1-151 1 83 1 77 1 37 1 60 1 22 1-108 1-146 1 159 1-29 1 160 1-120 1 76 1 1 1-139 1 78 1-355 1 434 1-53 1-219 1 16 1 250 1 17 1-201 1-99 1 181 1 135 1-303 1 234 1-93 1-57 1 47 1 83 1 6 1-101 1 63 1 23 1 7 1-119 1-42 1 205 1-176 1 179 1-56 1 42 1 49 1-80 1-29 1 85 1 20 1-75 1 78 1 12 1-85 1 46 1-89 1 117 1-212 1 57 1 151 1-34 1 3 1-26 1 38 1-5 1-131 1-62 1 62 1 127 1-20 1 7 1-150 1-140 1 172 1 68 1-42 1 126 1-105 1 119 1-113 1-106 1 219 1-70 1 72 1-41 1-136 1-1 1 134 1-42 1 86 1-146 1 58 1 67 1-10 1 0 1-122 1 125 1-88 1-192 1 232 1 33 1-58 1 42 1-113 1-35 1 175 1-17 1-61 1 41 1 24 1-220 1 92 1-101 1 164 1 22 1 29 1-41 1 90 1 13 1-115 1 57 1-110 1-130 1 42 1 213 1-46 1-302 1 144 1 16 1-34 1 123 1 138 1-47 1 13 1-154 1 13 1 93 1 12 1-12 1 7 1-226 1-165 1-74 1 296 1 118 1 7 1 107 1-182 1 190 1-280 1 35 1-9 1 109 1-81 1 7 1 226 1-199 1-77 1 12 1 228 1-112 1 16 1 35 1 74 1-53 1 77 1-51 1-21 1 23 1 41 1-313 1 93 1 204 1-43 1 4 1-44 1 84 1-44 1-57 1-12 1-109 1 177 1-116 1-119 1 186 1 75 1 6 1-40 1-133 1-14 1 174 1 15 1-31 1 66 1-17 1 0 1-44 1 6 1-22 1-64 1-130 1 33 1 197 1-131 1 79 1 14 1-77 1-45 1 149 1-264 1 272 1-131 1 89 1 32 1-284 1 91 1 73 1 171 1-275 1-64 1 197 1 123 1-118 1 27 1-42 1-46 1 99 1 38 1-174 1 208 1-217 1 165 1 83 1-183 1 88 1-39 1-112 1 209 1-70 1 12 1-268 1 159 1-85 1 57 1 162 1-172 1-118 1 20 1-176 1 366 1 34 1-35 1-124 1 225 1 31 1-98 1 80 1-98 1-313 1 398 1-266 1 288 1-216 1 241 1-297 1-54 1-199 1 261 1-40 1 201 1-168 1 107 1-39 1-241 1-59 1 89 1 289 1-254 1-25 1 166 1 132 1 51 1-104 1-59 1 141 1 88 1 11 1-7 1-14 1-99 1-153 1 197 1 48 1-77 1 39 1 5 1-76 1 113 1-39 1-2 1-70 1 109 1-44 1 71 1-188 1-8 1 54 1 18 1 112 1-63 1-64 1 112 1-21 1-51 1 86 1-48 1-28 1-59 1-5 1 102 1-61 1-56 1 99 1-1 1-19 1-8 1 46 1 18 1-73 1 15 1 92 1-22 1-25 1-95 1 78 1-41 1 73 1-42 1 77 1-115 1 72 1 20 1-42 1-199 1 250 1 6 1-140 1 88 1-82 1 135 1-201 1-70 1 60 1-1 1 212 1-61 1-154 1 92 1-72 1-8 1-135 1 219 1-58 1 109 1-34 1-140 1 20 1 204 1-155 1 4 1 50 1 6 1 2 1 1 1 69 1-104 1 126 1-178 1 34 1 96 1-42 1 92 1-54 1-48 1 102 1 10 1-161 1-41 1 3 1 91 1 7 1 58 1 15 1-181 1 79 1 75 1 51 1-67 1 17 1-117 1 112 1 68 1-65 1 33 1-25 1 3 1-44 1 68 1-96 1-5 1 37 1 75 1 24 1-63 1-54 1 60 1 5 1 44 1-9 1-30 1 38 1-93 1-88 1 17 1 152 1-31 1-99 1 151 1-24 1-19 1-42 1 68 1-10 1-29 1 25 1-74 1 28 1 65 1-18 1-152 1 17 1 166 1-153 1-19 1 13 1-56 1 147 1-25 1 89 1-131 1-52 1 153 1 19 1-147 1 146 1 7 1-150 1-175 1 236 1-96 1 194 1-207 1 86 1-128 1 210 1-159 1-45 1 138 1 89 1-374 1 141 1 81 1 78 1-26 1 58 1-127 1-43 1 80 1 79 1 34 1-76 1-87 1 28 1-21 1 169 1-18 1-161 1 95 1-56 1 150 1-77 1 76 1-67 1 62 1-30 1-126 1 124 1-17 1 65 1-76 1-132 1 34 1-10 1 19 1 115 1 32 1 18 1-196 1 8 1 132 1 56 1-2 1-130 1 52 1 69 1-156 1-16 1 46 1-69 1 96 1-3 1-97 1 95 1 91 1-86 1 18 1-152 1 130 1 69 1-129 1 55 1 51 1 50 1-207 1-2 1 186 1-37 1-88 1 14 1 31 1 51 1 9 1 56 1-97 1 45 1-47 1-95 1 88 1-207 1 234 1 71 1-78 1 8 1-53 1 95 1 9 1-31 1-63 1-57 1 84 1 63 1 38 1-58 1-86 1-35 1 125 1-227 1 94 1 79 1 80 1-25 1-153 1-205 1 115 1 180 1-63 1 82 1 11 1-85 1 67 1 26 1-244 1-55 1 341 1-151 1 3 1 154 1-59 1 36 1 19 1 2 1-54 1 85 1-243 1 172 1-65 1 96 1-63 1-62 1-22 1 69 1 12 1 107 1-77 1-18 1 69 1-58 1 78 1-305 1 71 1 147 1 16 1 50 1-98 1 17 1 87 1 18 1-62 1 55 1-77 1-31 1 117 1-168 1-122 1 73 1 56 1-91 1 156 1-64 1-81 1 241 1-255 1 147 1 89 1-31 1-97 1 24 1-32 1 157 1-174 1 32 1-14 1 153 1-21 1-119 1 80 1 37 1-71 1-3 1 81 1 2 1-62 1 3 1-39 1-17 1 95 1 12 1-80 1-16 1-106 1 220 1-96 1 79 1-164 1 160 1-253 1 245 1-270 1 57 1 171 1-207 1-17 1 285 1-38 1-155 1 4 1-179 1-62 1 245 1 187 1-75 1-236 1-151 1 262 1 91 1 90 1-137 1 74 1-122 1 165 1-119 1-56 1 192 1 14 1-110 1 114 1-107 1 23 1 80 1-142 1 47 1 39 1 11 1 11 1-173 1 1 1 111 1 18 1-16 1 20 1-102 1 111 1-55 1-30 1 151 1 0 1-48 1 20 1-50 1-198 1 275 1-52 1-185 1 164 1 48 1 32 1-47 1 34 1-35 1 54 1-15 1-139 1 103 1-26 1-74 1 74 1 40 1-8 1-49 1 90 1-47 1 52 1-118 1 24 1 69 1 26 1-102 1-29 1 48 1-6 1-37 1 109 1-12 1-77 1-174 1-207 1 212 1 195 1 66 1-100 1-153 1 124 1 98 1-242 1 37 1 135 1-124 1 157 1-53 1-76 1-173 1 353 1-186 1-185 1 50 1 168 1 1 1-290 1 280 1 190 1-126 1-234 1 73 1 66 1 44 1 87 1-370 1 348 1 74 1-261 1 202 1-101 1-81 1 45 1 180 1-79 1-218 1-33 1 142 1-116 1 309 1 58 1-143 1 34 1-50 1 123 1-110 1 72 1-76 1 124 1 24 1-78 1 18 1-214 1 238 1-77 1 82 1-134 1 162 1-106 1 0 1-65 1 82 1 4 1-49 1 111 1-91 1 105 1-88 1 89 1-72 1 67 1 3 1-92 1 70 1 4 1 8 1-127 1-8 1-25 1 132 1-62 1 87 1-165 1 82 1-62 1 151 1-106 1 88 1 32 1-113 1 109 1-221 1 171 1-44 1 9 1-35 1 113 1-133 1-57 1 189 1-174 1 40 1 93 1-72 1 95 1-139 1 90 1-89 1 46 1-92 1 176 1-56 1 18 1 0 1-6 1-175 1 124 1-165 1 265 1-310 1 45 1 294 1-245 1 163 1 63 1-227 1 159 1 98 1-152 1 41 1-195 1 292 1-12 1-313 1-51 1 291 1 24 1-172 1 182 1-169 1-49 1 252 1 15 1-164 1-60 1 156 1-74 1 89 1 55 1-21 1-144 1 164 1-204 1 113 1 80 1 9 1-297 1 235 1-166 1-223 1 407 1-308 1 263 1-102 1-292 1 403 1-74 1 37 1 90 1-89 1 12 1 13 1-130 1 181 1 17 1 5 1-157 1 57 1 80 1 2 1 39 1-69 1 84 1-173 1-8 1 148 1-48 1-100 1 23 1-57 1 121 1-212 1 23 1 220 1 17 1-39 1-18 1-183 1 239 1-265 1 48 1-34 1 258 1-172 1 142 1-144 1-174 1 184 1 38 1 160 1-181 1-51 1 96 1-7 1-91 1 91 1 74 1-52 1-96 1 190 1-16 1-146 1-49 1 3 1 234 1-269 1 7 1 182 1 43 1 37 1-191 1 183 1-121 1 106 1-121 1-2 1 59 1 75 1 3 1-102 1-90 1 152 1-6 1-164 1 103 1-89 1 148 1 50 1-139 1 18 1 81 1-221 1 160 1 97 1-66 1 24 1-78 1 69 1 58 1-102 1 0 1 39 1-58 1 93 1-3 1 41 1-64 1-76 1 83 1-80 1 56 1-186 1 263 1-164 1-47 1-118 1 170 1 1 1 109 1-27 1 68 1-217 1 93 1-21 1 69 1 15 1-102 1-43 1 132 1-75 1-23 1 68 1 16 1-304 1 311 1-164 1 255 1-23 1-206 1-92 1 120 1-43 1-151 1 264 1 62 1-112 1-103 1 196 1-205 1 160 1 20 1 62 1-180 1 104 1 85 1-244 1 174 1-178 1 232 1-396 1-89 1 370 1 61 1-105 1-6 1 218 1-196 1 187 1-214 1-31 1-105 1 244 1 100 1-133 1-259 1 11 1 357 1-103 1-150 1-173 1 394 1-131 1-47 1 179 1-233 1 58 1 215 1-93 1-48 1 144 1-12 1-36 1-104 1-48 1 59 1 138 1-234 1 141 1 24 1 63 1-76 1-5 1 89 1-32 1 32 1-69 1 26 1-85 1-61 1 70 1 139 1-113 1-152 1 8 1 266 1-79 1 30 1-13 1-184 1 234 1-94 1 23 1-238 1 39 1 140 1-48 1 162 1-323 1 214 1 13 1-252 1 24 1 263 1-168 1 158 1-128 1 21 1 73 1-160 1 115 1 173 1-74 1-49 1 105 1-147 1 155 1-48 1-5 1-75 1 86 1 60 1-24 1 29 1-23 1-37 1 37 1-126 1-13 1 102 1-14 1-31 1 76 1-95 1 100 1-16 1-96 1-61 1 125 1 41 1-64 1-157 1 61 1 113 1 37 1 35 1-96 1 101 1-65 1-9 1 13 1-91 1 30 1 109 1-52 1-33 1 89 1-106 1 45 1-32 1 58 1-76 1 120 1-151 1 136 1-50 1-3 1 25 1-163 1 168 1 31 1-101 1 67 1-96 1 24 1 79 1-184 1 130 1-170 1 228 1-42 1-81 1-1 1 46 1-95 1 59 1 121 1-164 1-407 1 230 1-14 1 314 1-148 1 38 1-85 1-145 1 319 1-119 1 90 1 80 1-13 1-102 1-25 1 4 1 73 1 96 1-48 1-62 1-110 1 111 1-140 1 137 1-37 1 117 1-63 1-79 1-128 1-132 1 399 1-71 1 81 1 5 1-90 1-165 1 94 1 175 1-41 1-25 1 41 1-44 1-63 1 72 1-145 1 22 1 54 1 85 1-194 1 212 1-20 1 5 1 49 1-81 1-8 1-93 1 176 1-88 1 4 1 42 1-49 1-64 1-40 1 61 1-33 1-32 1 1 1 19 1 85 1 15 1-7 1 40 1-64 1 30 1 50 1-106 1 127 1-21 1-6 1 1 1-17 1 55 1-172 1 142 1-425 1 217 1-58 1 0 1 112 1-174 1 317 1-361 1 230 1 105 1-145 1 196 1-139 1-20 1-230 1 241 1-63 1 80 1-145 1 98 1 125 1 24 1-26 1-141 1-59 1 232 1-178 1-105 1 100 1 182 1-26 1-125 1 156 1-110 1-5 1 8 1 59 1 85 1-5 1-124 1 124 1 5 1-159 1 109 1-14 1-18 1-78 1 119 1-70 1 77 1-1 1-51 1 31 1 21 1-71 1-41 1 83 1-82 1-7 1 78 1-2 1-16 1-39 1 21 1 53 1 49 1-66 1 47 1 9 1-1 1-14 1-36 1-39 1 23 1 74 1-122 1-37 1-73 1 28 1 189 1-111 1 131 1-53 1-124 1 3 1-25 1 98 1 81 1 12 1-87 1-1 1 41 1-40 1 87 1-36 1-61 1 65 1-172 1-62 1 201 1-7 1-19 1-58 1-134 1 254 1-13 1 55 1-162 1 92 1-157 1 51 1 29 1 93 1-25 1-34 1 73 1-35 1 55 1-61 1 25 1 28 1-111 1-60 1 143 1-174 1 121 1 109 1-59 1 46 1-240 1 50 1 188 1-130 1-73 1 92 1-26 1 7 1-1 1 100 1-21 1 6 1-94 1 101 1 15 1-168 1 78 1 63 1-185 1 167 1 43 1 19 1-62 1-6 1-71 1 96 1-169 1 148 1-128 1 73 1 65 1-62 1 47 1-66 1-15 1 78 1-101 1 63 1 46 1-166 1 94 1 15 1 124 1-131 1 10 1 76 1-90 1 87 1-3 1 55 1-93 1 18 1-179 1 44 1 208 1-92 1 29 1 7 1-36 1-255 1-98 1 188 1 133 1 140 1-70 1-122 1 66 1-206 1 297 1 19 1 11 1-58 1-7 1 70 1-106 1-218 1-56 1 257 1 124 1-45 1-168 1-119 1 199 1 64 1-92 1 147 1-35 1-2 1-11 1-39 1-25 1-163 1 227 1-58 1 38 1 41 1-34 1-70 1-76 1 130 1-14 1 23 1 55 1 10 1 6 1-184 1 28 1 97 1 67 1-201 1-115 1 281 1 25 1-10 1-47 1-95 1-29 1-48 1 2 1 221 1-291 1 134 1 165 1-17 1-148 1 164 1-11 1-168 1 134 1 1 1-97 1 117 1-153 1 183 1-161 1-30 1 141 1-155 1 36 1 98 1-133 1-21 1 51 1 163 1-26 1-141 1 72 1-93 1 152 1-208 1 150 1 101 1-12 1-65 1-93 1 66 1-438 1 387 1-101 1 113 1 51 1-75 1 91 1 53 1-87 1-26 1-111 1 229 1-122 1 68 1 61 1-116 1-36 1 94 1-128 1 11 1 107 1-3 1 27 1-201 1 96 1 74 1 49 1 49 1-114 1-73 1 144 1-68 1 110 1-137 1 78 1-74 1-119 1 211 1-140 1 164 1-168 1 64 1 36 1-32 1 57 1 28 1-153 1-33 1 76 1 81 1-154 1-35 1 242 1-78 1 0 1 25 1-3 1-24 1-40 1-93 1 148 1-30 1 70 1-100 1 8 1 107 1-120 1-79 1 33 1 157 1-24 1-161 1 45 1 30 1 37 1 39 1 29 1-65 1-29 1 16 1 108 1-8 1-180 1-123 1 162 1-17 1 153 1-21 1 16 1-27 1-54 1 93 1-9 1-100 1-132 1 246 1-12 1 6 1-183 1 23 1 48 1 99 1-88 1 97 1-150 1-118 1 131 1 114 1 34 1-75 1 24 1 51 1-92 1-10 1-107 1 72 1 72 1-29 1-8 1 83 1 15 1-177 1 85 1 78 1-55 1 10 1-105 1 58 1-5 1 14 1 49 1 22 1 9 1-54 1-119 1 115 1-73 1-12 1 122 1-17 1-17 1 19 1 9 1-7 1 28 1-149 1 117 1 32 1 27 1-16 1-19 1-132 1-16 1 89 1 56 1-9 1-95 1 71 1-101 1 119 1 38 1-39 1 49 1-175 1-66 1 134 1-99 1 10 1 104 1 19 1-134 1 57 1-41 1 109 1-50 1 44 1 51 1-61 1 44 1 21 1 10 1-39 1-7 1 19 1-167 1-74 1 226 1-265 1 143 1 172 1-16 1-23 1 43 1-37 1-131 1-107 1-27 1 290 1-80 1 102 1-190 1 199 1-42 1-10 1 37 1-2 1-150 1-145 1 60 1 14 1-41 1 90 1 184 1-102 1 48 1-205 1 108 1-26 1-78 1 87 1 86 1-15 1-130 1 161 1 25 1-57 1-5 1 62 1-66 1-40 1 48 1 84 1-102 1-19 1-69 1 28 1 81 1 45 1-49 1 99 1-61 1 44 1-113 1 41 1-17 1 71 1 17 1-8 1-9 1 18 1-17 1 1 1-28 1 49 1-71 1 15 1 60 1-78 1 61 1-1 1-110 1 97 1-40 1 39 1-99 1-22 1 79 1-49 1 117 1-63 1 45 1-57 1 19 1 13 1 49 1-64 1 49 1-83 1-83 1 186 1-233 1 223 1-80 1 30 1-3 1-261 1 87 1 165 1-45 1 99 1-72 1-87 1 31 1-86 1-22 1 153 1 87 1-263 1 50 1 122 1-15 1-20 1 54 1 27 1-9 1 34 1-165 1 104 1-20 1 98 1-290 1-16 1-6 1 178 1 90 1-9 1 36 1 6 1 35 1-21 1 23 1-158 1-84 1 51 1 124 1-19 1 20 1-100 1-283 1 242 1 115 1 68 1-70 1 74 1-128 1 97 1-109 1-101 1-147 1 340 1-48 1-78 1 132 1-200 1 58 1-145 1-91 1 388 1-6 1-290 1 110 1-32 1 0 1 31 1-182 1 42 1 195 1-106 1 107 1-269 1-87 1 405 1 26 1 94 1-510 1 148 1 369 1-482 1-76 1-12 1 191 1 375 1-400 1-139 1 186 1 281 1-332 1-2217 1 1275 1 1000 1-205 1 105 1 352 1-14 1-3 1-48 1-91 1 6 1 153 1-683 1 462 1 162 1-284 1-72 1 452 1 49 1-458 1 92 1 197 1 76 1-75 1 19 1-117 1-71 1 124 1-146 1 357 1-381 1 321 1 65 1-82 1 86 1-191 1-131 1-168 1 271 1 4 1 137 1-54 1-124 1-310 1 540 1-354 1 78 1 282 1-7 1-205 1-87 1 303 1-167 1 53 1-127 1 119 1 47 1 60 1-43 1-74 1-82 1 104 1-20 1 132 1-41 1-67 1 34 1-6 1 21 1 60 1-24 1 9 1-49 1-79 1 140 1 17 1-65 1 50 1 6 1-140 1-37 1 179 1-35 1-14 1 45 1-178 1 31 1 94 1 30 1 0 1-124 1 43 1-155 1 164 1-58 1 117 1-14 1-74 1 34 1-32 1-18 1-88 1 85 1-109 1 121 1-15 1 3 1-16 1 106 1 4 1-255 1 118 1 101 1 12 1 11 1-105 1 69 1 82 1-2 1-142 1-29 1-12 1 205 1 5 1-6 1-20 1-22 1-279 1 313 1-49 1 6 1 62 1-50 1-169 1 125 1-35 1 103 1-24 1-206 1 189 1 55 1-130 1-149 1-11 1 141 1 46 1-76 1 91 1 73 1 22 1-13 1-90 1 30 1 27 1-59 1 51 1 55 1 2 1-126 1 8 1 55 1-105 1-13 1 152 1 27 1-11 1-117 1 54 1-28 1-130 1 85 1 44 1-33 1 122 1-29 1-77 1 73 1-148 1 72 1 30 1 81 1-25 1 33 1-43 1-69 1 105 1-43 1 54 1-129 1 99 1 18 1-25 1-91 1-122 1-19 1-38 1 104 1 57 1-98 1 213 1-140 1 42 1-70 1 154 1-2 1-29 1-186 1 46 1 43 1-87 1 192 1 3 1-55 1 92 1-124 1 17 1 115 1-125 1 44 1 100 1-33 1-89 1-127 1 111 1 128 1 6 1-72 1-70 1-13 1 138 1-43 1 13 1 24 1-46 1-129 1 110 1 53 1-29 1 33 1-55 1 48 1-57 1-46 1 131 1 17 1-63 1-5 1 20 1-40 1-34 1 55 1 29 1 23 1 11 1-77 1 33 1-52 1 5 1 46 1-36 1-3 1-3 1 35 1-127 1 26 1 119 1-35 1-138 1 130 1 2 1 32 1-84 1-44 1-65 1 57 1 35 1 86 1 44 1-76 1 23 1 56 1-91 1 106 1-229 1 15 1 82 1 121 1-110 1 69 1 21 1-67 1 11 1-1 1-21 1-126 1 89 1 94 1 12 1-134 1 129 1 18 1-153 1 152 1-174 1 172 1-224 1 111 1-94 1 23 1 7 1-20 1 107 1 115 1-87 1-72 1-10 1-131 1 257 1-281 1 243 1-20 1 80 1 23 1-27 1-59 1-80 1-42 1 25 1 187 1-97 1 27 1 66 1-76 1-78 1 56 1 18 1 30 1-118 1-75 1 213 1 4 1-6 1-111 1 149 1-206 1 73 1 97 1-152 1 136 1-89 1 56 1 35 1-56 1 70 1-145 1 129 1-108 1 77 1 36 1 14 1-11 1 34 1-16 1-81 1 96 1-10 1-122 1 94 1-203 1 20 1 97 1-41 1 167 1-22 1-76 1-40 1-65 1 32 1 30 1 57 1 15 1-19 1 50 1-46 1-87 1 143 1 21 1-112 1 46 1-65 1 121 1-52 1-45 1 72 1 53 1-245 1 100 1-50 1 167 1 25 1-109 1-31 1 92 1-62 1 56 1-68 1 48 1 1 1-5 1 35 1 37 1-212 1 18 1 98 1 1 1-89 1 132 1-96 1 20 1 116 1-37 1-49 1 45 1-78 1-132 1 265 1-102 1-124 1 23 1 96 1 103 1-120 1 76 1 32 1-30 1 7 1 12 1-35 1-26 1-28 1-135 1 74 1-108 1 39 1-108 1 196 1 27 1-217 1 232 1 62 1-67 1 52 1-52 1-127 1 81 1 64 1-233 1 341 1-276 1 163 1-130 1-126 1 290 1 18 1-196 1 248 1-190 1-222 1 337 1 77 1-451 1 137 1 286 1-169 1 0 1-150 1 168 1 84 1 64 1-279 1 241 1 24 1-1 1-170 1 132 1-436 1 229 1 217 1 50 1-146 1-102 1 181 1-42 1 120 1-202 1 93 1 1 1 68 1 55 1-225 1-50 1-56 1-28 1 193 1-7 1-34 1 26 1-61 1 98 1 66 1-76 1 76 1-7 1-188 1 74 1 158 1 40 1-175 1 118 1 9 1 33 1-35 1-169 1 30 1 122 1-163 1 80 1-107 1 198 1 18 1 38 1-3 1-16 1-128 1 158 1-203 1 74 1-67 1 127 1-69 1-27 1-25 1 118 1-116 1-26 1 185 1-69 1-6 1 37 1 39 1 13 1-15 1-66 1-65 1-52 1-9 1-11 1 118 1 15 1-24 1-21 1 101 1-157 1 189 1-22 1-143 1 103 1-170 1-2 1 239 1-139 1 65 1-71 1-7 1 81 1-25 1 22 1-203 1 54 1 133 1 77 1-32 1-250 1 97 1 114 1-62 1 17 1-75 1-52 1 35 1 64 1 64 1 35 1-56 1 22 1-43 1 54 1 27 1-20 1-22 1 47 1-19 1 48 1 11 1 1 1-76 1 58 1-42 1 61 1 2 1-41 1-91 1 11 1 64 1-56 1 104 1 6 1-55 1-32 1-31 1-47 1 23 1 99 1-40 1 51 1 18 1-3 1-93 1-86 1 140 1 54 1-44 1 5 1 23 1-97 1-55 1-63 1 99 1 137 1-115 1 1 1-51 1 63 1-33 1-17 1-23 1 125 1-112 1-13 1 167 1-198 1 100 1 66 1-40 1 78 1-237 1 104 1 51 1-91 1 151 1 11 1-215 1 66 1 154 1-100 1 26 1-114 1 153 1 7 1-46 1-27 1-15 1 125 1-26 1-5 1-98 1-115 1 35 1 145 1 32 1-61 1-64 1 6 1 151 1-18 1-3 1-189 1 49 1 56 1-8 1 75 1-24 1-52 1 41 1-62 1-94 1 129 1-42 1-30 1 155 1-139 1 113 1 19 1-66 1-26 1 19 1-13 1 95 1-135 1 2 1 63 1 1 1 1 1-2 1 39 1-58 1-99 1-21 1 216 1-213 1 70 1 90 1 60 1-56 1-50 1 54 1-40 1 48 1 42 1-58 1 20 1-80 1 110 1-153 1 106 1 46 1-165 1 60 1 46 1-99 1-90 1 36 1 185 1-61 1 113 1-161 1-11 1 143 1-122 1 89 1 49 1-117 1 13 1-19 1-6 1 136 1-192 1-31 1 45 1-91 1 29 1 196 1-177 1 124 1 28 1-21 1-84 1-46 1 4 1 27 1 191 1-85 1 32 1-48 1-1 1-55 1 133 1-29 1-92 1-27 1 84 1 17 1 72 1-70 1 39 1 28 1-111 1-8 1 66 1-354 1 366 1-91 1 75 1-59 1 75 1 40 1-196 1 98 1-9 1 107 1-120 1-109 1 186 1-92 1 141 1-39 1-191 1 127 1-156 1 15 1 216 1-186 1-78 1 151 1-29 1-75 1-116 1 226 1-65 1 131 1-29 1 14 1-230 1 142 1 131 1-230 1 69 1 70 1-62 1-33 1-64 1 15 1 103 1-5 1 44 1-71 1-401 1 451 1 110 1-141 1 81 1-29 1-64 1 190 1 4 1-229 1-4 1 198 1-98 1 25 1 68 1-99 1-31 1 96 1-149 1-44 1-93 1 267 1-70 1 53 1-69 1 174 1-66 1 12 1-23 1-110 1 80 1-172 1 97 1 38 1-13 1 81 1-212 1 98 1 0 1 156 1-95 1 94 1-156 1 162 1-70 1-2 1 73 1-203 1 98 1 64 1 36 1-100 1 48 1-153 1 192 1 0 1-104 1 139 1-8 1-201 1 72 1 92 1-102 1 162 1-116 1-76 1 167 1-126 1-59 1-18 1 89 1 74 1-53 1 69 1-182 1-32 1 194 1-117 1 124 1 61 1-213 1 69 1 130 1-15 1-13 1-135 1-29 1 209 1-48 1 26 1-277 1 140 1 9 1 141 1 9 1-84 1 62 1-158 1 155 1-80 1 30 1 18 1-47 1-42 1-6 1 47 1 102 1-59 1 28 1-58 1 89 1-149 1 33 1 21 1 33 1 58 1-47 1 37 1-6 1-33 1-122 1-95 1-7 1 150 1 28 1 95 1-101 1-98 1-82 1 266 1-213 1 188 1-17 1-9 1-157 1-49 1 272 1-8 1-180 1 48 1 139 1-16 1-155 1 45 1-121 1 145 1 68 1-107 1-51 1 171 1-138 1-97 1 112 1 79 1 50 1-57 1-19 1-78 1 64 1 108 1-78 1-126 1-68 1 176 1 101 1-50 1-110 1 65 1-17 1 65 1-132 1 66 1-36 1 70 1-34 1-74 1-29 1 208 1-280 1 90 1 169 1-63 1-71 1 145 1 10 1-106 1 99 1-237 1 126 1 80 1-8 1-72 1 43 1-29 1 82 1-204 1 230 1-21 1-92 1 109 1 2 1-85 1 39 1-199 1 220 1-118 1 29 1 38 1-8 1-10 1 68 1-88 1 94 1-57 1-13 1-28 1 63 1 59 1-135 1 99 1-208 1-14 1 132 1 80 1-17 1 48 1-29 1-68 1-67 1 116 1 2 1-69 1 10 1-50 1-13 1 61 1-19 1 39 1 29 1-65 1 102 1-113 1-54 1 104 1 46 1-118 1-40 1 31 1 91 1-58 1 129 1 13 1 10 1-36 1 12 1-78 1-5 1 6 1-8 1-8 1-37 1 152 1-48 1-114 1 6 1 79 1 66 1-77 1 51 1 38 1-124 1-45 1 13 1 67 1 15 1-3 1 51 1 3 1-73 1 71 1-34 1-94 1 106 1-173 1 182 1-55 1-142 1-5 1 4 1 215 1-169 1 27 1 121 1-197 1-21 1 133 1 38 1 73 1-185 1 28 1 48 1-83 1 92 1 60 1-224 1 25 1 212 1-114 1 7 1 105 1 43 1-61 1 50 1-239 1 71 1 52 1 117 1-8 1-163 1 47 1-29 1 67 1-126 1 188 1-83 1 38 1 46 1-12 1-59 1 26 1-76 1 128 1 30 1-93 1-156 1-35 1 125 1 80 1 62 1-64 1-13 1-22 1 36 1 38 1-101 1-41 1 92 1 34 1 8 1-151 1 128 1-75 1 82 1-77 1-93 1 75 1 111 1-170 1 145 1 36 1-26 1 2 1-2 1 39 1-44 1-137 1 90 1 10 1 92 1-48 1 5 1-43 1 70 1-154 1-75 1 49 1 138 1-184 1 38 1 198 1-53 1 10 1-34 1-104 1 179 1 17 1-275 1-1 1 226 1 44 1-112 1-95 1 93 1-129 1 160 1 61 1 19 1-169 1 101 1 22 1-101 1 89 1-13 1-76 1 136 1-5 1-5 1 35 1-21 1-33 1-62 1-81 1 9 1-61 1 176 1-54 1 44 1-124 1 130 1 29 1-77 1-22 1 40 1 98 1-8 1-207 1 30 1 129 1-1 1-44 1-44 1-58 1-77 1 83 1 44 1 39 1 18 1 32 1 32 1-149 1-18 1 83 1 56 1 22 1-136 1-60 1 95 1-28 1 56 1-1 1-150 1 181 1-21 1 91 1 3 1-84 1-90 1 11 1 69 1 111 1-218 1 58 1 55 1-47 1 89 1-334 1 191 1 103 1 6 1 27 1-33 1-139 1 239 1-276 1 72 1-4 1 193 1-142 1-16 1-91 1 246 1-62 1 12 1-101 1 133 1-256 1 251 1-180 1 5 1 158 1-165 1 218 1-79 1 64 1-95 1 22 1 7 1 60 1-227 1 104 1-17 1-21 1 46 1 22 1 83 1-137 1-29 1-12 1 150 1-24 1 51 1-44 1-214 1 167 1 114 1-274 1 235 1-4 1 47 1-84 1 85 1 11 1-177 1 116 1-248 1 279 1-161 1 97 1-6 1-11 1-11 1 56 1 35 1-46 1 32 1-245 1 23 1 232 1-38 1 67 1-74 1-119 1 172 1 18 1-76 1-61 1 104 1-130 1 1 1-33 1 135 1 6 1-1 1-16 1-159 1 232 1 0 1-36 1 32 1-5 1-185 1 73 1-85 1 147 1-299 1 288 1-46 1-118 1 47 1 146 1-19 1 38 1-26 1-204 1-9 1 24 1 154 1-95 1-68 1 78 1 61 1 60 1 44 1-1 1-131 1 100 1-68 1-28 1 140 1-135 1 87 1 17 1-259 1 34 1-42 1 30 1 259 1-70 1-89 1-120 1 160 1-78 1-31 1 117 1-180 1 165 1-58 1-67 1 68 1 2 1 5 1 73 1 13 1 79 1-33 1 7 1-29 1 63 1-78 1 22 1-89 1 46 1-16 1-17 1-87 1 85 1 55 1 80 1-37 1-67 1 95 1-35 1-109 1 133 1-158 1 53 1 103 1 0 1-32 1 10 1-78 1-48 1 49 1 53 1-64 1-48 1 111 1 31 1 39 1-116 1 66 1-19 1 19 1 8 1-16 1 9 1-15 1-52 1-75 1 112 1-38 1-42 1 160 1-73 1-190 1 19 1 33 1 36 1 91 1 54 1-16 1 32 1-160 1-22 1-17 1 18 1 169 1-4 1-14 1-20 1-143 1 183 1-202 1 67 1 82 1 62 1 16 1-68 1-13 1-37 1 96 1-147 1 171 1-119 1-81 1 108 1-21 1 74 1-59 1-68 1 71 1-170 1 0 1 85 1 127 1-57 1 94 1 15 1-29 1 14 1-107 1-16 1-65 1-13 1 133 1-136 1 39 1 1 1 119 1-28 1 84 1-114 1 35 1 35 1-32 1 1 1-2 1-65 1 41 1 23 1-124 1 83 1-52 1-71 1 198 1-139 1 140 1-59 1 36 1 58 1-29 1-143 1-122 1 127 1-61 1 124 1-79 1 114 1 54 1-288 1 68 1 249 1-103 1 21 1 82 1 1 1-206 1 49 1 63 1-134 1 158 1-30 1 90 1-42 1 44 1-141 1-74 1 198 1-180 1-35 1 15 1 49 1 112 1-60 1-56 1-100 1-40 1 90 1 85 1 115 1-122 1-31 1 144 1-15 1-201 1-53 1 161 1-72 1-100 1 109 1 207 1 2 1-45 1-50 1 45 1-81 1-35 1-120 1 99 1 136 1-97 1 5 1 86 1 34 1-168 1 150 1 8 1-42 1 74 1-90 1 60 1-23 1-83 1-24 1 85 1 79 1-22 1-39 1 43 1-44 1-160 1 48 1 103 1-332 1 396 1-36 1-29 1 34 1-2 1 32 1-138 1 146 1-89 1 58 1-76 1-107 1-50 1 165 1 23 1-169 1-12 1 243 1-88 1 102 1-156 1 127 1-43 1 52 1-59 1-105 1 27 1-56 1 83 1 58 1-163 1 162 1-27 1-102 1 49 1 83 1-25 1-16 1 17 1 80 1 1 1-120 1 19 1 26 1 20 1-73 1 130 1-143 1 32 1-85 1-46 1 136 1-21 1 72 1 48 1 19 1-10 1-97 1 24 1-54 1 31 1 40 1 37 1-146 1 5 1 138 1-169 1 91 1 93 1-222 1-13 1 65 1 54 1-35 1 128 1-117 1-72 1 114 1 73 1-30 1-130 1 87 1 92 1-72 1 47 1-149 1 0 1 191 1-13 1-14 1-192 1 192 1-203 1 62 1-11 1 5 1 41 1 129 1-69 1-17 1 73 1-173 1 144 1-154 1-26 1 197 1-78 1 96 1-94 1 89 1-41 1 18 1 1 1 5 1-32 1-63 1-38 1 46 1 104 1-67 1-13 1 56 1-192 1 136 1-49 1-75 1 218 1-27 1-142 1 111 1-26 1 53 1-11 1-152 1-27 1 216 1-4 1-183 1 85 1 105 1 0 1-146 1 54 1-108 1 204 1-325 1 34 1 33 1 57 1 147 1-35 1 49 1-51 1-63 1 15 1-10 1 15 1 88 1-86 1 4 1-75 1 63 1 17 1-6 1 135 1-174 1 171 1-243 1 26 1 180 1-193 1 218 1 10 1-146 1-5 1 148 1-69 1-25 1-167 1 130 1 37 1-195 1 265 1-211 1 47 1 146 1-92 1-80 1 123 1 95 1 0 1-176 1 105 1 47 1-134 1 41 1-111 1 93 1-109 1 177 1-172 1 42 1-11 1 191 1-34 1-83 1 64 1-21 1 41 1-30 1-105 1 57 1 44 1-142 1 146 1-40 1 27 1 32 1 4 1 2 1 18 1-7 1 13 1 29 1-89 1-49 1 125 1-193 1 8 1 99 1-114 1 137 1 62 1-71 1-20 1 17 1 27 1-90 1 37 1-42 1 44 1 65 1 25 1 24 1-73 1 77 1-110 1 23 1-91 1 141 1-99 1-75 1 163 1 13 1-77 1 51 1-160 1 63 1 5 1 136 1-135 1 4 1-158 1 196 1-174 1 161 1 85 1-12 1-135 1-53 1 201 1-73 1-128 1 164 1-30 1 96 1-122 1 11 1 40 1 19 1-47 1-111 1 143 1-130 1 195 1-147 1 55 1-67 1 42 1 63 1-108 1-14 1-75 1 222 1-30 1-28 1-51 1 62 1 21 1 41 1-118 1-17 1-21 1 150 1-25 1 13 1 37 1-122 1 45 1-15 1 93 1-37 1 1 1 10 1-42 1-122 1 20 1-114 1 238 1-89 1 23 1-123 1 17 1-41 1 2 1 245 1 5 1-114 1-48 1 47 1-30 1-10 1 18 1-139 1 49 1 157 1 8 1-43 1 41 1 36 1-121 1 84 1 19 1-142 1 174 1 5 1-24 1-195 1-2 1 190 1-181 1 121 1 61 1 19 1-98 1 90 1-48 1 21 1 58 1-82 1-29 1-88 1 69 1-65 1 4 1 182 1-236 1-40 1 37 1 234 1 22 1-100 1-99 1 65 1 98 1-91 1 83 1 15 1 10 1-25 1-206 1 13 1 107 1 38 1-20 1-124 1 175 1 20 1-150 1-19 1 138 1-32 1 74 1-148 1 101 1-22 1-80 1-96 1 92 1 4 1 147 1-73 1 76 1-110 1 37 1-68 1-28 1-11 1 14 1 100 1 33 1 21 1-8 1-80 1-26 1-3 1 17 1 4 1 120 1-17 1 14 1-37 1-133 1 153 1 12 1-73 1 16 1-61 1-17 1-22 1 64 1 12 1-42 1 77 1 29 1-87 1-42 1 145 1-161 1 89 1 28 1 33 1-41 1-60 1-59 1 56 1 18 1 2 1-4 1 42 1 75 1-25 1-11 1-98 1 51 1 8 1 39 1-147 1-75 1 192 1-8 1 18 1-39 1 83 1-93 1-52 1 11 1-34 1 180 1-116 1 53 1-10 1 28 1-77 1-14 1 68 1-35 1 44 1 47 1-171 1-6 1 114 1 66 1-137 1 138 1-29 1-80 1-19 1 98 1-13 1 10 1-94 1 9 1-6 1-64 1 80 1 83 1-45 1 80 1-32 1-14 1-69 1-22 1 98 1-149 1 71 1-109 1 55 1 42 1-9 1-24 1 60 1-63 1 30 1-11 1-14 1 140 1-73 1 66 1-153 1 99 1 39 1-79 1-21 1-19 1 110 1 56 1-127 1 96 1-131 1-124 1 81 1 153 1-41 1 72 1-23 1-15 1-131 1 188 1-58 1-96 1 81 1-54 1 12 1 104 1-200 1-74 1 160 1-11 1 112 1-49 1-144 1-27 1 112 1 132 1-66 1-35 1-10 1 17 1-169 1 86 1-130 1 183 1-3 1 59 1-42 1 61 1 23 1-191 1-36 1 182 1-29 1-16 1-17 1 129 1-195 1 134 1-56 1 0 1-60 1 2 1-111 1 159 1 26 1 70 1 11 1-21 1-146 1-30 1 8 1 185 1 25 1-45 1-132 1 153 1-170 1-87 1 217 1-143 1-8 1 100 1 58 1 29 1-174 1 38 1 70 1-232 1 31 1 239 1 26 1-324 1 165 1-43 1 173 1 53 1-40 1-27 1 71 1-8 1-116 1-87 1 67 1-23 1 29 1 78 1-156 1-8 1 103 1-90 1 121 1-111 1-114 1 101 1 80 1-22 1 28 1 127 1-211 1 68 1-104 1 10 1 242 1-52 1-167 1 163 1-28 1 48 1-167 1 135 1 71 1-25 1-120 1 37 1-37 1 8 1 121 1-91 1-53 1-104 1 142 1 109 1-68 1-61 1 13 1 126 1-95 1 39 1 53 1-152 1 71 1-94 1-46 1 151 1-21 1-67 1 103 1-112 1 46 1 74 1-159 1 5 1 21 1 69 1-19 1 127 1-83 1-45 1-8 1 97 1-149 1 181 1-6 1-37 1-88 1 45 1-78 1 166 1-163 1 176 1-69 1 13 1-25 1 17 1 13 1-42 1-38 1 59 1-43 1-32 1 149 1-254 1 153 1-1 1-45 1 66 1-21 1-75 1 163 1-250 1 185 1-7 1 52 1-145 1 34 1-33 1 133 1-71 1-69 1 160 1-136 1 82 1 26 1-120 1 16 1 44 1-161 1 47 1 123 1-39 1-62 1 139 1-272 1-82 1 404 1 3 1-34 1-84 1 78 1-264 1 63 1 2 1 39 1 170 1-18 1 52 1-281 1 66 1 124 1 64 1-17 1-89 1 67 1-221 1 95 1 27 1 155 1-105 1-38 1 62 1-182 1 200 1-92 1 88 1-19 1 42 1 27 1-191 1-2 1 81 1 37 1 49 1 40 1-223 1 158 1 25 1 20 1-35 1 19 1-27 1 45 1-51 1-14 1 44 1-179 1 113 1 40 1-49 1 69 1 0 1-5 1-126 1-79 1 156 1 85 1-150 1 69 1 78 1 1 1-23 1 9 1 36 1-44 1-106 1-94 1 214 1-50 1-18 1-95 1-67 1 59 1 153 1 9 1 42 1-7 1-38 1 38 1-1 1-1 1-62 1-154 1-44 1 186 1-36 1 111 1-30 1-135 1 43 1 94 1-146 1 156 1-121 1 117 1-77 1 101 1-98 1 103 1-31 1-5 1-144 1 127 1 35 1-101 1 105 1 20 1-27 1-220 1 186 1-225 1 40 1-121 1 74 1 147 1-55 1 37 1 133 1-83 1 22 1-97 1-83 1 257 1-38 1-89 1 50 1-22 1-66 1 136 1-45 1-42 1-62 1 142 1-7 1-71 1 91 1-108 1 62 1-171 1 217 1 3 1-39 1-27 1-9 1 3 1 9 1-80 1 47 1 100 1-87 1-86 1 65 1-22 1 111 1-6 1 30 1-69 1 22 1-4 1-24 1 106 1-174 1 12 1 151 1-113 1 63 1-140 1 57 1 131 1-58 1 34 1-62 1-48 1 118 1 22 1-145 1 106 1-21 1 71 1-39 1-63 1 61 1-34 1-36 1-21 1 118 1-124 1 117 1-28 1-66 1 97 1-132 1 110 1-31 1 45 1-45 1 54 1 11 1-78 1-55 1 104 1-43 1 17 1 5 1-78 1-175 1 127 1 98 1-129 1-101 1 258 1 52 1-196 1 31 1 163 1-66 1-109 1 143 1-135 1 88 1 73 1-257 1 38 1-15 1 173 1-170 1 32 1 176 1 25 1-158 1 32 1-17 1 116 1-60 1 64 1-1 1-100 1-126 1 8 1 196 1-12 1-121 1-44 1 16 1 184 1-36 1-101 1 152 1-24 1 22 1-113 1 117 1-202 1 64 1-60 1 187 1-64 1 72 1-139 1 49 1 51 1-192 1-11 1 64 1 60 1 32 1-73 1 114 1 13 1 20 1-190 1 92 1 97 1-73 1-14 1-48 1 131 1-52 1-11 1-57 1 76 1-32 1-43 1-24 1 5 1-86 1 18 1 133 1-67 1 71 1-33 1 58 1-43 1 13 1-121 1 22 1 143 1-51 1 114 1-1 1-105 1-108 1 56 1-19 1-80 1 60 1 36 1-20 1 79 1-70 1 8 1 123 1-119 1-54 1 53 1-75 1-38 1 251 1-164 1 181 1-29 1-43 1-123 1-13 1 182 1-7 1-133 1-98 1 71 1 0 1-4 1 93 1 97 1-86 1-51 1 17 1 26 1-63 1 80 1-2 1-1 1 77 1-175 1 91 1-164 1 261 1-166 1 81 1 14 1 76 1-140 1 136 1-259 1 110 1 30 1 104 1 5 1 7 1-37 1 40 1-165 1 159 1-42 1-3 1-3 1 44 1-100 1 83 1-64 1-22 1-93 1 7 1 2 1 39 1 135 1-57 1 39 1-130 1-21 1 95 1 90 1-10 1-31 1 45 1-143 1 144 1-137 1 37 1-54 1 58 1 83 1-103 1-148 1 6 1 81 1 122 1-72 1 46 1 46 1-19 1-79 1 91 1-105 1 145 1-227 1 218 1-34 1-70 1 122 1-34 1 11 1-20 1 32 1-97 1 79 1 25 1-24 1-236 1 135 1 73 1-42 1 8 1-53 1-92 1 192 1 36 1-101 1 7 1-66 1 89 1 50 1-5 1-75 1-128 1-25 1 184 1-123 1-60 1 58 1 197 1-70 1 29 1 21 1-42 1-54 1-9 1 84 1-73 1 92 1-137 1 131 1-35 1-14 1 48 1 8 1-9 1 6 1-113 1-141 1 73 1 28 1 85 1 20 1-42 1 9 1-33 1 52 1 87 1-10 1-202 1 95 1 100 1-75 1-90 1-15 1 161 1-63 1-159 1 126 1 99 1-231 1 150 1 41 1-95 1-122 1 81 1 181 1 2 1-104 1-135 1 121 1 94 1-55 1-73 1 55 1 63 1-72 1-38 1 61 1-124 1 33 1 154 1-110 1-6 1 97 1-57 1 106 1-28 1 8 1-318 1 119 1-20 1 151 1 92 1-119 1-86 1 121 1-23 1 57 1 44 1-101 1-71 1 147 1 2 1-178 1 41 1 51 1 26 1-137 1 47 1-35 1-21 1 26 1 219 1-134 1 114 1-75 1-87 1 157 1-202 1 84 1 108 1 18 1-65 1-40 1 96 1-39 1-2 1-24 1 66 1-83 1 29 1 14 1 62 1-100 1 3 1-49 1 74 1-208 1 275 1-114 1 6 1 95 1-26 1-47 1-142 1 53 1-104 1 248 1 39 1-102 1-79 1 163 1-181 1 176 1-102 1-18 1 100 1-208 1-52 1 213 1-161 1-90 1 234 1 49 1-147 1-73 1 32 1 4 1 203 1-199 1 65 1-22 1 97 1-93 1-37 1 150 1-75 1 18 1 112 1-126 1 135 1-200 1 78 1-2 1-9 1 120 1-47 1-31 1-94 1 15 1 130 1-69 1 106 1-125 1-81 1 182 1-175 1 178 1-176 1 54 1-52 1 207 1-170 1 161 1-111 1-1 1 90 1-113 1-10 1 19 1 92 1-61 1-44 1 113 1-39 1-56 1-33 1 117 1 18 1-58 1 16 1-30 1 26 1 6 1 68 1-230 1 90 1-12 1 31 1 125 1-284 1 51 1 48 1 123 1-83 1-102 1 34 1 167 1-223 1 47 1 73 1 38 1 2 1-146 1 13 1-10 1 257 1-252 1 13 1 158 1-124 1 43 1-40 1 201 1-276 1 184 1-91 1 127 1-67 1 63 1-120 1 26 1 20 1-56 1 161 1 0 1-8 1 21 1-1 1-84 1 13 1-104 1-1 1 175 1-18 1-115 1 113 1-108 1 65 1 33 1-30 1 12 1-79 1 79 1-77 1 53 1 86 1-207 1 88 1 6 1 63 1 44 1-76 1-14 1 50 1 49 1-200 1-20 1 203 1-169 1 127 1-11 1 29 1 39 1-145 1-57 1-31 1 234 1-102 1 10 1 35 1-85 1-65 1 44 1 45 1-15 1-17 1-9 1 67 1-69 1 49 1 23 1 20 1-157 1-5 1 138 1 39 1-70 1 81 1-166 1 101 1-5 1-91 1-9 1 43 1 65 1 105 1-177 1 169 1-54 1-86 1 15 1 95 1 27 1-123 1-63 1 177 1-155 1-2 1 8 1-47 1 4 1 165 1 50 1-199 1 158 1-46 1 68 1-101 1 25 1 14 1-23 1-31 1 86 1-119 1 165 1-190 1 95 1-49 1-13 1 143 1-60 1-27 1 66 1 10 1-128 1 63 1-50 1-36 1 61 1-110 1 34 1 30 1 99 1-42 1 80 1-65 1 19 1 23 1-47 1 71 1-55 1 37 1 11 1-17 1 36 1-77 1 55 1 21 1-56 1-94 1 126 1-46 1-94 1 56 1 108 1-94 1 89 1-188 1-3 1 125 1-21 1 74 1-108 1 28 1 80 1-250 1 19 1 177 1-159 1 73 1 44 1-9 1 6 1-28 1 61 1 89 1-115 1 69 1-118 1 84 1-4 1-23 1-105 1 142 1 44 1 22 1-55 1 0 1-86 1 4 1 76 1 71 1-99 1-66 1 139 1-58 1 6 1-33 1 106 1-15 1-66 1-49 1-78 1 180 1-44 1-51 1-10 1 55 1-51 1 136 1-19 1-71 1 68 1-69 1-55 1-45 1 96 1 48 1-28 1-148 1 192 1-161 1-32 1 22 1 134 1-11 1-103 1 47 1-63 1 117 1-20 1-47 1 34 1-85 1 46 1 72 1 43 1-86 1 30 1 33 1-94 1-114 1 43 1 7 1-48 1 182 1-131 1 210 1-99 1-32 1 47 1 14 1-48 1-58 1-27 1 101 1-18 1 84 1-34 1-12 1 34 1-204 1 39 1 121 1 84 1-34 1-125 1-82 1 89 1 170 1-50 1-22 1 11 1-113 1 129 1-123 1 123 1-37 1 52 1-31 1-114 1-9 1 3 1 67 1 88 1 11 1-145 1-29 1 40 1 46 1-90 1 56 1-29 1 111 1-168 1 223 1-120 1-79 1 83 1 48 1 51 1-89 1-54 1 119 1-10 1-187 1 43 1 186 1-79 1 29 1-52 1 66 1 16 1-240 1 5 1 127 1 19 1 77 1-186 1 81 1 72 1 9 1-74 1-24 1 4 1 158 1-46 1-1 1 7 1-93 1 108 1-213 1 142 1 97 1-183 1-72 1 110 1 122 1-23 1-78 1-90 1 35 1 178 1-153 1 62 1-153 1-39 1 62 1 210 1-222 1 152 1-23 1 91 1-20 1-30 1 8 1-162 1 156 1-184 1 233 1-52 1-89 1 17 1 63 1-174 1 145 1-18 1-87 1 99 1 104 1-125 1 1 1 57 1 58 1-147 1 64 1 3 1 83 1-229 1 170 1-120 1 20 1 139 1-86 1 82 1-115 1 97 1-89 1-71 1 166 1 44 1-101 1-59 1 114 1-16 1 23 1 5 1-230 1 23 1 13 1 30 1 188 1-9 1-15 1 30 1-114 1-48 1 102 1-218 1 47 1 211 1-216 1 77 1 53 1-89 1-45 1 236 1-72 1-23 1 102 1-163 1 56 1 109 1-181 1 135 1-100 1 30 1-7 1-48 1 77 1-128 1 147 1-23 1-109 1-16 1 137 1-147 1-16 1 223 1-225 1-50 1 186 1 7 1 44 1-93 1-48 1 22 1 162 1-3 1-13 1-162 1 69 1 121 1-141 1 37 1 20 1 16 1-63 1 9 1 85 1-61 1-39 1-29 1 36 1 32 1 19 1 69 1-176 1-15 1 169 1 27 1-62 1-99 1 43 1-61 1 24 1 46 1-51 1 118 1-100 1 29 1 92 1-60 1-44 1 33 1-24 1-46 1 1 1 18 1 143 1-70 1 39 1-58 1 13 1 18 1-108 1-76 1 70 1 97 1-128 1 161 1-152 1 132 1-132 1-58 1 2 1 1 1 31 1 106 1-74 1 96 1-20 1-40 1 54 1-156 1 133 1 70 1-96 1 69 1-50 1 25 1-10 1-3 1-91 1 121 1 54 1-8 1-9 1-114 1-3 1-28 1 159 1-163 1 42 1 4 1-4 1 114 1-44 1-58 1 6 1 13 1-79 1 118 1 21 1 36 1-53 1 67 1-24 1-80 1 83 1 37 1-45 1 29 1 24 1-75 1-69 1 113 1 21 1-51 1-19 1 79 1-84 1-164 1 211 1 6 1-118 1-47 1 201 1-1 1-151 1 103 1-143 1-87 1 104 1-54 1 187 1-192 1-9 1-26 1 69 1-71 1-29 1 89 1-48 1 82 1 111 1-189 1 180 1-51 1 103 1-92 1-5 1-37 1 121 1 6 1-147 1-98 1 254 1-118 1 3 1 101 1-115 1 71 1-44 1 27 1 42 1-124 1 97 1-13 1 44 1 9 1-48 1-77 1 53 1 54 1-66 1-41 1 91 1-116 1 80 1 15 1-3 1 56 1-116 1 29 1 77 1-77 1 127 1-58 1-121 1 0 1 153 1 14 1-37 1-131 1-89 1 111 1 83 1-112 1 102 1-41 1 49 1 17 1 10 1-5 1-95 1 55 1-118 1 122 1-102 1 185 1-22 1 22 1-146 1-41 1-3 1 86 1-156 1 224 1-118 1 70 1 11 1-56 1-89 1 36 1 85 1 43 1-116 1 76 1-221 1 238 1-91 1 59 1 73 1-73 1-37 1-140 1 48 1 87 1-48 1 203 1-33 1-48 1-114 1 138 1-95 1 130 1-106 1 136 1-14 1-131 1 85 1-6 1-146 1 108 1-4 1 57 1-239 1 178 1-148 1-10 1 4 1 199 1-67 1 9 1 92 1-22 1-40 1-22 1 5 1-45 1 146 1-71 1 78 1-23 1-77 1-21 1-98 1 145 1-6 1-108 1 58 1-140 1-50 1 321 1-219 1 217 1-100 1 18 1 80 1-99 1-205 1 167 1 69 1-101 1-131 1-41 1 247 1-20 1-110 1 79 1 30 1 26 1-109 1 126 1-94 1 129 1-40 1-148 1 230 1-118 1-58 1 65 1 47 1 23 1-21 1-101 1 11 1-26 1 165 1-174 1 68 1-88 1 65 1 51 1-74 1 66 1-84 1-58 1 130 1 7 1 58 1 38 1-82 1-57 1 66 1-41 1 72 1-162 1 133 1 30 1-104 1 112 1-57 1 69 1-178 1 24 1 84 1 3 1-48 1 25 1-132 1 132 1 118 1-157 1 129 1-109 1 52 1-199 1-5 1 178 1 44 1-14 1-82 1 58 1 3 1 83 1-325 1 300 1-92 1-44 1 143 1-245 1 276 1-25 1-53 1 58 1-44 1 41 1-115 1-46 1-81 1 107 1 15 1-158 1 36 1 1 1 213 1 14 1 11 1-63 1 48 1-193 1 220 1 20 1-167 1-66 1 135 1 97 1-340 1 239 1-47 1 144 1-102 1-245 1 345 1-301 1 250 1 51 1-110 1 92 1-121 1 135 1-77 1 86 1-82 1-230 1 284 1-207 1-34 1 165 1-55 1 160 1-146 1-51 1 4 1 142 1-155 1 87 1 66 1 18 1-34 1 61 1-190 1 44 1-104 1 194 1-39 1-13 1-129 1 48 1 20 1 151 1 25 1-193 1 198 1-98 1-23 1 119 1-166 1 165 1-159 1 126 1-46 1 7 1 67 1-3 1-35 1-44 1 0 1 19 1 30 1-25 1-21 1-49 1-91 1 158 1-124 1-36 1 28 1 162 1 16 1-73 1 75 1-92 1 34 1-105 1 103 1-91 1-14 1 121 1-33 1-73 1 81 1 82 1-165 1 41 1 46 1 30 1-220 1 62 1 28 1-134 1 133 1 46 1 75 1-2 1-37 1 36 1-65 1-165 1 202 1-68 1-137 1 232 1 3 1 24 1 0 1 22 1-16 1-221 1 133 1-186 1 256 1-97 1-81 1 203 1-305 1 151 1-190 1 166 1-104 1 52 1 86 1-2 1-34 1 98 1-2 1 44 1-94 1-137 1 154 1-92 1 88 1-29 1-122 1-30 1 93 1 22 1-149 1 46 1 149 1 114 1-48 1-13 1 47 1-83 1 128 1-133 1-75 1 71 1 153 1-95 1-52 1-187 1 228 1-121 1 42 1-63 1 170 1-38 1 76 1-264 1 306 1-116 1-144 1 194 1-121 1 37 1 53 1 0 1 33 1-74 1-46 1 180 1-65 1-107 1-48 1-68 1 18 1 51 1 179 1-100 1 43 1 55 1-54 1-43 1-137 1 259 1 13 1-109 1-64 1 12 1 140 1-97 1-91 1 90 1 128 1-69 1-4 1 78 1-113 1 105 1-114 1 55 1 10 1-147 1-1 1 12 1-51 1 56 1-65 1 144 1 43 1-121 1 80 1 99 1-23 1-8 1-51 1 27 1-17 1-95 1-31 1 188 1-11 1-140 1 161 1-4 1-48 1-158 1-26 1 133 1 102 1-54 1-87 1-26 1-99 1 142 1 79 1-209 1 5 1 112 1 143 1-144 1 103 1-52 1 46 1 33 1-41 1-142 1 177 1-2 1-120 1 63 1-89 1 108 1-36 1-3 1 13 1 35 1-28 1 1 1 40 1-41 1 55 1-150 1 87 1 77 1-100 1 65 1-16 1 3 1-169 1 138 1-83 1-105 1 94 1 108 1 3 1-121 1-25 1 55 1 165 1-188 1 121 1 33 1-80 1-75 1 141 1 26 1-37 1-16 1-30 1 50 1-124 1-91 1 180 1-141 1 139 1-54 1 144 1-17 1-62 1 60 1-293 1 47 1 238 1 15 1-193 1-22 1 107 1-15 1 83 1-135 1 81 1-108 1 165 1-132 1-78 1 234 1-91 1 31 1-50 1 110 1-131 1 148 1-42 1-1 1-23 1-30 1 105 1-90 1-49 1-54 1 194 1-246 1 61 1-70 1 204 1-104 1 119 1 33 1-82 1-116 1-24 1 8 1 103 1 67 1-184 1 189 1-42 1 6 1-136 1 152 1-50 1 107 1-51 1 3 1-71 1-98 1 28 1 53 1 114 1-190 1 157 1 47 1-5 1-46 1-46 1 71 1-183 1-29 1 205 1-32 1-166 1-10 1 86 1 120 1-9 1 32 1-103 1 106 1 3 1-58 1-55 1 133 1-127 1 96 1-82 1 51 1 42 1-185 1-8 1 195 1-46 1-89 1-100 1 30 1 132 1-18 1-49 1 121 1-82 1 13 1-141 1 37 1 61 1 89 1-58 1 40 1 70 1-37 1 7 1-19 1-2 1-246 1 154 1 35 1 36 1 45 1-17 1-123 1 82 1 3 1-21 1-72 1 89 1 65 1-128 1 86 1-190 1-28 1 122 1 83 1 56 1-115 1 74 1 9 1-165 1 66 1-71 1 190 1-55 1-37 1-154 1 56 1 228 1-65 1 12 1-108 1-62 1 222 1-15 1-96 1-47 1 75 1 17 1 13 1-21 1-276 1 132 1 135 1-255 1 121 1 59 1 16 1-234 1 319 1-282 1 26 1 83 1 193 1-73 1-77 1 131 1-170 1-6 1 142 1-131 1 148 1 12 1 64 1-69 1-255 1-11 1 110 1 94 1 94 1 20 1-153 1-16 1 16 1-204 1 106 1 123 1 59 1 82 1 2 1-172 1 163 1-201 1 201 1-26 1 35 1-124 1 65 1 15 1-80 1 75 1 14 1-274 1 1 1 155 1-59 1 120 1-134 1 13 1 103 1-41 1 44 1-31 1-128 1 200 1-31 1-131 1 132 1 67 1-268 1 179 1-54 1-68 1-101 1 279 1-13 1-61 1-25 1-45 1 63 1-182 1 255 1-126 1 125 1 75 1-274 1 190 1 58 1-271 1 215 1-49 1 46 1-179 1 247 1-215 1-40 1 106 1 77 1-56 1-77 1 40 1 56 1 116 1-26 1-37 1-98 1-34 1 147 1-134 1 190 1-12 1-33 1-144 1 153 1 27 1-51 1 15 1 34 1-101 1-137 1 70 1 32 1 98 1 2 1-103 1-11 1-12 1-84 1 61 1 127 1 33 1-22 1 55 1-79 1-3 1 40 1-45 1-5 1 79 1-199 1 47 1-6 1 172 1-61 1-139 1-49 1 231 1-182 1 155 1-97 1 100 1 29 1-270 1 153 1-169 1 177 1 24 1 19 1-39 1-175 1 184 1-46 1-28 1 79 1 87 1-281 1 78 1 207 1-2 1-11 1-246 1-8 1 164 1-1 1-49 1-78 1 39 1 156 1-23 1-78 1-99 1 201 1 31 1-19 1-102 1-96 1 86 1 120 1-76 1 89 1-193 1 81 1-67 1 190 1-79 1-114 1 127 1-135 1-37 1 118 1 78 1-81 1-1 1 63 1-84 1 98 1-125 1-164 1 333 1-29 1-297 1 51 1 91 1-39 1 111 1 113 1-234 1-30 1 7 1-20 1-8 1 212 1-186 1 147 1 54 1 43 1-127 1-11 1 84 1 71 1-39 1-189 1-15 1 102 1-60 1-38 1 205 1-191 1-80 1 230 1 53 1 2 1-153 1 130 1-93 1 15 1-153 1 271 1-168 1 175 1-262 1-59 1 243 1-74 1 155 1-87 1 85 1-123 1 72 1 49 1-15 1-84 1-21 1 1 1 117 1-35 1-119 1 22 1 73 1-22 1-58 1 24 1 23 1-49 1-53 1 78 1 67 1 3 1 3 1-131 1-122 1 187 1-98 1-81 1 13 1 83 1 143 1 8 1-88 1 49 1 35 1 38 1-78 1-67 1-30 1-69 1 138 1 25 1 41 1 15 1 15 1-38 1-57 1 108 1-192 1 173 1-14 1-54 1 53 1-68 1-40 1 108 1-63 1 87 1-228 1 108 1 136 1-60 1-66 1 111 1-106 1 123 1-222 1 198 1-46 1-196 1-15 1 160 1-115 1 197 1-56 1-6 1 45 1-54 1-10 1 50 1-135 1 192 1 14 1-244 1 100 1 23 1-200 1 291 1-252 1 278 1-86 1-195 1 205 1 49 1-108 1-136 1 233 1-119 1 34 1-45 1 56 1-49 1 161 1-133 1 90 1 14 1 33 1-20 1-133 1 53 1 15 1-27 1-200 1 139 1 131 1-48 1-138 1 1 1 224 1-48 1 48 1-65 1-52 1-125 1 107 1-58 1 113 1-33 1-153 1 99 1 72 1-98 1 185 1-12 1-112 1-121 1 131 1 29 1 28 1-43 1-40 1-87 1 54 1 101 1-189 1 266 1-87 1-55 1-28 1 28 1 24 1-95 1 44 1-28 1 85 1-101 1 200 1-195 1 176 1-128 1-82 1 48 1 114 1 54 1-102 1-35 1 45 1 49 1-262 1 60 1 165 1-25 1-16 1 46 1 52 1-49 1 84 1 22 1-124 1 27 1 15 1-88 1 21 1 137 1-170 1 32 1 5 1 110 1-98 1-59 1 107 1 48 1-164 1 9 1-114 1 116 1-36 1 80 1-228 1 153 1-81 1 279 1 14 1-84 1-3 1-158 1-97 1 329 1-134 1 154 1-115 1 99 1-136 1-113 1-25 1-10 1 178 1-119 1 109 1-5 1 6 1 11 1-66 1-35 1 6 1 2 1-40 1 141 1 51 1-187 1 135 1-77 1 191 1-278 1 117 1 61 1-237 1 105 1-39 1 113 1 135 1 17 1-30 1 31 1-11 1 2 1-16 1-47 1 39 1-181 1-41 1 0 1 74 1 0 1 19 1 87 1-157 1-24 1 199 1 47 1-148 1-23 1 162 1-16 1-51 1-139 1 170 1-146 1 21 1 72 1-36 1 120 1-6 1-7 1-145 1 4 1 27 1 109 1-45 1-7 1-10 1-90 1 104 1-42 1 41 1 85 1-71 1-30 1-215 1 290 1-18 1 17 1-22 1-4 1-215 1 174 1-24 1-76 1 150 1-91 1 34 1 78 1 10 1-71 1 15 1-140 1 48 1 141 1-84 1-51 1 101 1 51 1 2 1-202 1 135 1 15 1-21 1-39 1 118 1-177 1 43 1 40 1 94 1-137 1 128 1-92 1-14 1-105 1 98 1 120 1-141 1-76 1 221 1-108 1-182 1 35 1 172 1 63 1-90 1-144 1 32 1 9 1 144 1 27 1-25 1-11 1-9 1 80 1-49 1 21 1-140 1 83 1-104 1 109 1-36 1 1 1 94 1-60 1 47 1-90 1-1 1 24 1-11 1-87 1 107 1 55 1-140 1 104 1 85 1-136 1-64 1 150 1-26 1-131 1 5 1 5 1-49 1 219 1-59 1 59 1 24 1-22 1-73 1-31 1 19 1 104 1-171 1 84 1 75 1-3 1-56 1-112 1 2 1 65 1 113 1-118 1 35 1-64 1 90 1-71 1 20 1 50 1-43 1 109 1-13 1 6 1-32 1-101 1-49 1 70 1 110 1-151 1 115 1-2 1-46 1-134 1 51 1-60 1 63 1-9 1 82 1 41 1-152 1 35 1 34 1 2 1-127 1 52 1 28 1-110 1 82 1 158 1-165 1 4 1 152 1-99 1-6 1-45 1-68 1 185 1 93 1-93 1-3 1-88 1 147 1 13 1-97 1 37 1 14 1 14 1-119 1 92 1-75 1-33 1 70 1-139 1 39 1 211 1-114 1 51 1-60 1-66 1 98 1 22 1 40 1-100 1 142 1-42 1 26 1-67 1 9 1 42 1-110 1 83 1-63 1-29 1-67 1 139 1-29 1-93 1 34 1 71 1-86 1 132 1 47 1 5 1-41 1-123 1 30 1 126 1-130 1-96 1 39 1 180 1-138 1-68 1 34 1 87 1 18 1-125 1 59 1 93 1 20 1-120 1-26 1 10 1 130 1-222 1 209 1-179 1 43 1 156 1 29 1-24 1-239 1 2 1 119 1 76 1-84 1 141 1-74 1-164 1 18 1 227 1-148 1 102 1-22 1-144 1-27 1 47 1 85 1-45 1 89 1 40 1-66 1-70 1 31 1-13 1 71 1-153 1 10 1 214 1-148 1 47 1-48 1 144 1-181 1-25 1 130 1-99 1 179 1-302 1 22 1 220 1-209 1 203 1 22 1-100 1-9 1-146 1 188 1-95 1 195 1-29 1-150 1 93 1 96 1-65 1-53 1 33 1 86 1-72 1-92 1 65 1-78 1 8 1-88 1 74 1 179 1-54 1 65 1-220 1-29 1 229 1-217 1 76 1 21 1-3 1 21 1 41 1-91 1 112 1-36 1-128 1 55 1 140 1 19 1-170 1-46 1 219 1-11 1-86 1 64 1 17 1-126 1-79 1 48 1 46 1-20 1 140 1-26 1-11 1-79 1 112 1-172 1-40 1 207 1-148 1 166 1-47 1-74 1 93 1-8 1-77 1 51 1-32 1-66 1 147 1-189 1 63 1-31 1-59 1 179 1-30 1-49 1 98 1-84 1 107 1-207 1 205 1-85 1-184 1 1 1 148 1 34 1 0 1 101 1-28 1-118 1 64 1-45 1 12 1-155 1 108 1 77 1-110 1-93 1 63 1 183 1-124 1 147 1-144 1 74 1-34 1 77 1-88 1-11 1 113 1-182 1-57 1 15 1 59 1 172 1 27 1-179 1 8 1 103 1-52 1 27 1 10 1-11 1 46 1 2 1-54 1 33 1-15 1-9 1 65 1-129 1 75 1 11 1-173 1-14 1 129 1 98 1-142 1 7 1 41 1-61 1 51 1 40 1 45 1-87 1 78 1 20 1 20 1-112 1 70 1-242 1 85 1 205 1-212 1 48 1 154 1-40 1-28 1-72 1 161 1-37 1-129 1 1 1 144 1-3 1-235 1 99 1 134 1-111 1 113 1-80 1 69 1-50 1-109 1-16 1 23 1 164 1 0 1-46 1-110 1 35 1 7 1 103 1-111 1-106 1 175 1-73 1-12 1 82 1-60 1-29 1 39 1 74 1-236 1 78 1 77 1-67 1-32 1 224 1-22 1-209 1 60 1 54 1-46 1-38 1 12 1 143 1-109 1-102 1 73 1 115 1 36 1-179 1-20 1 136 1 87 1-195 1 205 1-25 1-90 1 71 1-78 1 15 1 43 1-109 1-28 1 39 1 156 1 16 1-96 1-135 1 109 1 78 1-60 1-64 1 44 1-1 1-18 1 52 1 72 1-3 1-160 1 17 1-44 1 53 1 128 1-52 1 0 1-33 1-71 1 132 1-87 1 44 1-88 1-54 1 236 1-31 1-14 1 6 1-131 1 114 1-35 1-12 1-9 1-67 1-68 1 74 1-62 1 25 1 44 1 14 1 11 1-41 1 178 1-175 1 145 1-113 1-107 1 230 1-180 1-77 1 62 1 216 1 3 1-79 1 27 1 44 1-224 1-68 1 56 1-16 1 211 1-127 1 80 1 2 1-36 1-32 1-82 1 203 1-51 1 93 1-149 1-132 1 177 1-218 1 98 1 60 1 30 1 5 1 34 1-172 1 231 1-10 1-195 1 45 1 59 1-93 1 56 1-235 1 380 1-126 1-138 1 55 1 141 1 85 1-25 1 27 1 6 1-210 1 121 1-19 1-16 1 52 1-95 1 117 1-181 1 114 1 102 1-72 1 6 1-122 1-115 1 53 1 93 1 53 1-3 1 108 1-183 1-49 1 109 1 50 1 42 1-29 1-87 1 66 1 83 1-127 1 80 1-122 1 49 1 114 1-149 1-5 1-68 1-19 1 145 1 27 1-21 1-8 1 16 1-109 1 47 1-5 1-4 1 120 1-220 1 39 1 101 1 88 1 19 1 20 1-27 1-88 1 105 1-73 1 77 1-252 1 58 1-88 1 71 1 43 1 62 1 59 1-56 1 101 1-141 1 31 1-35 1-42 1-85 1 219 1 3 1 32 1-35 1 69 1-150 1 38 1 4 1 108 1-133 1-64 1 185 1-232 1 30 1 113 1-116 1-15 1 187 1 37 1 3 1-188 1-106 1 252 1-177 1-119 1 158 1 49 1-167 1 300 1-181 1-40 1-68 1-94 1 276 1 107 1-114 1-40 1-149 1 111 1 125 1 47 1-207 1-108 1-43 1 337 1 9 1-175 1 102 1-2 1-88 1 10 1 167 1 12 1-264 1 263 1-244 1 93 1 141 1-33 1-122 1 25 1 44 1-3 1-44 1-84 1 79 1 18 1-26 1 136 1-97 1 86 1 21 1-3 1-147 1 144 1-101 1 20 1-8 1 24 1 29 1-164 1 34 1 163 1-30 1 0 1 39 1-98 1 84 1-157 1 120 1-31 1 88 1-157 1 51 1 74 1 28 1-182 1 15 1-8 1 154 1 9 1-170 1-63 1 34 1 36 1 101 1-103 1 1 1 27 1 49 1-189 1 14 1 262 1-14 1-45 1 61 1-3 1 29 1-136 1-178 1 211 1 34 1-22 1-113 1 132 1-99 1 74 1-61 1-59 1 149 1-39 1-88 1 108 1 84 1-4 1-113 1-143 1 127 1-24 1 81 1-63 1-48 1 52 1-70 1 200 1 1 1-67 1 15 1-20 1-76 1 138 1-18 1-136 1 140 1-51 1-130 1 153 1-99 1-35 1 143 1-29 1-88 1-21 1 175 1-262 1 54 1 213 1-136 1-59 1-7 1 47 1 87 1 48 1-14 1 39 1-7 1-1 1-70 1 60 1-74 1-11 1 61 1 37 1-122 1 109 1-9 1 22 1-158 1 72 1 34 1-65 1 105 1-138 1-5 1 44 1-68 1 180 1-90 1-127 1 192 1-104 1-125 1 57 1 63 1-31 1 26 1 111 1-115 1-79 1 166 1-224 1 27 1 56 1 16 1 170 1-94 1 84 1-1 1-57 1-87 1 159 1-77 1-51 1 55 1-65 1-1 1 57 1-73 1 59 1-23 1-50 1 92 1-46 1 120 1-68 1-82 1-94 1 203 1-160 1 116 1 94 1-49 1-135 1 25 1-39 1 0 1-6 1 62 1-10 1 84 1 10 1 17 1-19 1-128 1 125 1-34 1-76 1 65 1-56 1 24 1 68 1-45 1-73 1 196 1-30 1 0 1-61 1 37 1-45 1-2 1-5 1 111 1-217 1 206 1-192 1 198 1-164 1 66 1-6 1 38 1-23 1-175 1 24 1 46 1-95 1 24 1 99 1 165 1-123 1-102 1 91 1-78 1 119 1-127 1 143 1-46 1 104 1-64 1-21 1-62 1 26 1 95 1-138 1 99 1-18 1 102 1-140 1 19 1 0 1-26 1 82 1-58 1 113 1-312 1 22 1 19 1 144 1 139 1-206 1 32 1 171 1-27 1-239 1 227 1-174 1 90 1 121 1-79 1 26 1-82 1 143 1-160 1 48 1 58 1-24 1 71 1-23 1-56 1-196 1 188 1-48 1 98 1-72 1 114 1-235 1 99 1 102 1 14 1-21 1-105 1 40 1 29 1-30 1 19 1-91 1 164 1-8 1-153 1 65 1-32 1 32 1 4 1-95 1 136 1-38 1-126 1 4 1 73 1 131 1-33 1-175 1 150 1-6 1-80 1 28 1 20 1-122 1-21 1 99 1 152 1-170 1 117 1-34 1-5 1-106 1 0 1 60 1 30 1 10 1 22 1-57 1-24 1-68 1 179 1 7 1-11 1 3 1 51 1-37 1-96 1 135 1-131 1 60 1 68 1-30 1-76 1-84 1 179 1-32 1-144 1 118 1-23 1-52 1 150 1-175 1 166 1-22 1-38 1-208 1 104 1 32 1-90 1 221 1-114 1-153 1 207 1-130 1 41 1-94 1-8 1 53 1 70 1 43 1-2 1-63 1 58 1-69 1-81 1 35 1 144 1-99 1 37 1 125 1-132 1 116 1-138 1-27 1-7 1 67 1-4 1-91 1 14 1 192 1-159 1-52 1 109 1-60 1-32 1 97 1-9 1 116 1-10 1-127 1 62 1 26 1 41 1-115 1 1 1 83 1 32 1-43 1-63 1 109 1-181 1-21 1-4 1 155 1 44 1 25 1-53 1-27 1 43 1-14 1-98 1-26 1 120 1 12 1-39 1-41 1 121 1-16 1-137 1 79 1-25 1 61 1-179 1 44 1 40 1-8 1 117 1-49 1-71 1-63 1 183 1-140 1 45 1 95 1-188 1-72 1 127 1 51 1 50 1-71 1 74 1-84 1 19 1 53 1-88 1 35 1-56 1 80 1-21 1-24 1 116 1-186 1 90 1-44 1 35 1 34 1-20 1 25 1 27 1-67 1-43 1-64 1 224 1-48 1 32 1-232 1 190 1 39 1-83 1-94 1 37 1 92 1-141 1 96 1 2 1 67 1-9 1 20 1-215 1 61 1 188 1 0 1 1 1-205 1-75 1 36 1 162 1-93 1 55 1 81 1-73 1 53 1-121 1-87 1 10 1 104 1 108 1 53 1-23 1-74 1-6 1-36 1-147 1 33 1 66 1 121 1-43 1-90 1 181 1-99 1 88 1-146 1 4 1 21 1-53 1 33 1 104 1-197 1 9 1 3 1 17 1 123 1 3 1-124 1 224 1-21 1-125 1-21 1 95 1 26 1-152 1 105 1-55 1-49 1 159 1-79 1-130 1 16 1 134 1 42 1 6 1-28 1-123 1-104 1-30 1 109 1 230 1-147 1 94 1-34 1 75 1-216 1-42 1 177 1-241 1 42 1 176 1 111 1-191 1 197 1-93 1 71 1-124 1 103 1-139 1-45 1 189 1-56 1 42 1-186 1-36 1 150 1 49 1-38 1 91 1-16 1 42 1-82 1-48 1 5 1 123 1-87 1-15 1 62 1 4 1-38 1 53 1 18 1-96 1-30 1 40 1 73 1-21 1-58 1-34 1-24 1-10 1-88 1 215 1-32 1-90 1 61 1-152 1 233 1-27 1-212 1 213 1-24 1 51 1-222 1 92 1 106 1-79 1-86 1-130 1 198 1-93 1 136 1-222 1 41 1 105 1 164 1-137 1 78 1-125 1 97 1-256 1 209 1-100 1 108 1-102 1 54 1 14 1-28 1-18 1 79 1-9 1 100 1-133 1 26 1-79 1 140 1-6 1-123 1 164 1-93 1 79 1-82 1 39 1-122 1 214 1 12 1-186 1 68 1-80 1 200 1-226 1 51 1 106 1-3 1-222 1 192 1 71 1-20 1 37 1-13 1-120 1-81 1 207 1-70 1 87 1-239 1 52 1 7 1-79 1-52 1 123 1 64 1-57 1 157 1 5 1-261 1 108 1 93 1 66 1-137 1 103 1-12 1-29 1-115 1 129 1 80 1-130 1-92 1 117 1-13 1-42 1-5 1 118 1-143 1 53 1 115 1-53 1 33 1 38 1-32 1-63 1-40 1 69 1-191 1 110 1 101 1 43 1-65 1-7 1 62 1 0 1-5 1-182 1 116 1-8 1 24 1-35 1-77 1 53 1 79 1 55 1-124 1 103 1-47 1-7 1 70 1-132 1 74 1-17 1-98 1-7 1 33 1-23 1 86 1 85 1-272 1 269 1-173 1 119 1-153 1 105 1-6 1 104 1-51 1 40 1-189 1 110 1 63 1 0 1-48 1-159 1 60 1 43 1-76 1-13 1 114 1 79 1-121 1-88 1 27 1 20 1 60 1-42 1 122 1-230 1 278 1-79 1-36 1 114 1-71 1-97 1 77 1 48 1-51 1 86 1-25 1-82 1 26 1-68 1 168 1-202 1 126 1-105 1 168 1-176 1-59 1 213 1 24 1 6 1-216 1 183 1-29 1 28 1-132 1-35 1 59 1 50 1 59 1-67 1-85 1 114 1-20 1 47 1-104 1 83 1-169 1 201 1-36 1-146 1 53 1 84 1-13 1 39 1 8 1-195 1-9 1 155 1-191 1 91 1-89 1 71 1-23 1 175 1-36 1 42 1 14 1 43 1-101 1 57 1-149 1 139 1-50 1 107 1-22 1-87 1-67 1-97 1 59 1 164 1-69 1 94 1 11 1 1 1-17 1-76 1 9 1-33 1-41 1 12 1 51 1 21 1-102 1 18 1 84 1 38 1-75 1 59 1 29 1-123 1-5 1 106 1-50 1-90 1-81 1-17 1 232 1-76 1 33 1-45 1 6 1 129 1-175 1 68 1 64 1-120 1-189 1 357 1-313 1 306 1-171 1 159 1 26 1-94 1-50 1 139 1-7 1 1 1-219 1 200 1-14 1-179 1-68 1 273 1 8 1-167 1 46 1-65 1-107 1 60 1 154 1-196 1 201 1 27 1 48 1-44 1 44 1-217 1 169 1-86 1 43 1-141 1 235 1-219 1 62 1-88 1-22 1 181 1 91 1-220 1 70 1 133 1-69 1 23 1-39 1-37 1 132 1-112 1-97 1 63 1-12 1 137 1 11 1-65 1 73 1-119 1 11 1 20 1-22 1 88 1-57 1 69 1-92 1-13 1-8 1 118 1-78 1-5 1 102 1-109 1-19 1 60 1-24 1-73 1-41 1 88 1-11 1-18 1 1 1-34 1 14 1-30 1-13 1 50 1 60 1-116 1 27 1 62 1 79 1-75 1-27 1-20 1-23 1 70 1 28 1 88 1-185 1 101 1-173 1 130 1 5 1 52 1 2 1-15 1 24 1-169 1-26 1 93 1 106 1 12 1-122 1-49 1 3 1 80 1 64 1 18 1-1 1-141 1-36 1 55 1-24 1 89 1 90 1-34 1 7 1 12 1-148 1-36 1-4 1 139 1-143 1 142 1-105 1-22 1 110 1 66 1 31 1-58 1-77 1 75 1-128 1 44 1 70 1 5 1-203 1 168 1 91 1-12 1-1 1-27 1-35 1 57 1 8 1-42 1 59 1-12 1-76 1 19 1-10 1 84 1-34 1-2 1-182 1 31 1 76 1-29 1 85 1-93 1 97 1-133 1-69 1 104 1-12 1-122 1 294 1-252 1 8 1 81 1 108 1-153 1 191 1-191 1-153 1 24 1 177 1 26 1-22 1-69 1 203 1-135 1-18 1 85 1 67 1-82 1 100 1-71 1-22 1 25 1-24 1-1 1-32 1 107 1-126 1 142 1-195 1 79 1 77 1-123 1-147 1 257 1-99 1-124 1 37 1 202 1-87 1-84 1-82 1-53 1 217 1 75 1-41 1-71 1-83 1-64 1 100 1-107 1 275 1 9 1-196 1-142 1 375 1-176 1-97 1 204 1-235 1 13 1 136 1-50 1 108 1-51 1-132 1 112 1-58 1 19 1 3 1-23 1 62 1 141 1 17 1-169 1-132 1 275 1-75 1 34 1-144 1 174 1-144 1-62 1 98 1 62 1-187 1 15 1 66 1 153 1 23 1-71 1-93 1 141 1 7 1-235 1-13 1 108 1 100 1 77 1-175 1-4 1 34 1-82 1 24 1 137 1-79 1 96 1 0 1 15 1-157 1 56 1 66 1-63 1 33 1 21 1-156 1 234 1-38 1-73 1 37 1-30 1-96 1-75 1 98 1 7 1-33 1-32 1 173 1-191 1 39 1 205 1-169 1 101 1-111 1-155 1 103 1 115 1-72 1-91 1 94 1 67 1 100 1-206 1-43 1 106 1 114 1 13 1-231 1 97 1-21 1 183 1-5 1-210 1 120 1-9 1-78 1 69 1-79 1 139 1 25 1-23 1-3 1-122 1-9 1 73 1-23 1 146 1-3 1-125 1-163 1 108 1 112 1-58 1-100 1 57 1 97 1-92 1-23 1-49 1 44 1 162 1-63 1 98 1-141 1-78 1-55 1 247 1 18 1-54 1 9 1-33 1-74 1 111 1-68 1-121 1-10 1 117 1 61 1-148 1 200 1-207 1 191 1-170 1 182 1 10 1 13 1-126 1 20 1-17 1-14 1-30 1 120 1 9 1 40 1-69 1-60 1 113 1-118 1 9 1 16 1-6 1-61 1-22 1 110 1-8 1 82 1-225 1 217 1-186 1-24 1 163 1-2 1 65 1 1 1-42 1-72 1-11 1 8 1 16 1-154 1 146 1 72 1-151 1 134 1-14 1 49 1-160 1 115 1 60 1-24 1 30 1-230 1 17 1 80 1 136 1-104 1 31 1-124 1 188 1-84 1 15 1 0 1-24 1 25 1 9 1-178 1 191 1-29 1 71 1-122 1-24 1-95 1 198 1-42 1 97 1-164 1-41 1 85 1 14 1-126 1 109 1 32 1-80 1-71 1 109 1 134 1-161 1 66 1-29 1-93 1 212 1-166 1 69 1-83 1 74 1-64 1 8 1-48 1 67 1 145 1-59 1 7 1-41 1-117 1 113 1-2 1-116 1 128 1-1 1 42 1-188 1-57 1 202 1 60 1-17 1-35 1 78 1-33 1-100 1 87 1-11 1-81 1 85 1-97 1 111 1-34 1-4 1 41 1 24 1-132 1 146 1-106 1 85 1-70 1 88 1-76 1-137 1 141 1-68 1-55 1 125 1-5 1-155 1 15 1 114 1 63 1-48 1-26 1 95 1-114 1 34 1-17 1 91 1-125 1 5 1 116 1-78 1-91 1-20 1 16 1 146 1 31 1-9 1-24 1 20 1-20 1-22 1-147 1 169 1-258 1 2 1 72 1 82 1-40 1 4 1 103 1-108 1-26 1 156 1-32 1 89 1-52 1 24 1 19 1-61 1-103 1 183 1-112 1 53 1-73 1-28 1 30 1-98 1 83 1 68 1-149 1 191 1-152 1 118 1 61 1-102 1 81 1 18 1-97 1-69 1 77 1-1 1-37 1-1 1 10 1 69 1 58 1-253 1 128 1 92 1-19 1-57 1-90 1 4 1 131 1 51 1-84 1 67 1 23 1 10 1-104 1 75 1-251 1 101 1 65 1 9 1 10 1 14 1 16 1-70 1-70 1 53 1 8 1 153 1-93 1 3 1 71 1-24 1-39 1-103 1 7 1-27 1 87 1-46 1-32 1 105 1-74 1 164 1-150 1-43 1 158 1-83 1 89 1-54 1-51 1 114 1-66 1 42 1 3 1-135 1 99 1-130 1 200 1-38 1-77 1 90 1-216 1 208 1-51 1 56 1-29 1-48 1 106 1-106 1 91 1 9 1-69 1 6 1-162 1 122 1-166 1-30 1 306 1-176 1 135 1-39 1 52 1-100 1 109 1-32 1 53 1-13 1-267 1 19 1 61 1 130 1-12 1 28 1-70 1 63 1 43 1-305 1 254 1-37 1-61 1 98 1-284 1 135 1-62 1 250 1-206 1 48 1 143 1-52 1-10 1-108 1 194 1-99 1-75 1 75 1 59 1-42 1-122 1-6 1-93 1 298 1-264 1 87 1-40 1 27 1-6 1 207 1-182 1 201 1-239 1-68 1 263 1-62 1 54 1-14 1-62 1 64 1 21 1-9 1-57 1 78 1-3 1-64 1 40 1 27 1 29 1-181 1-38 1 118 1-51 1 84 1 61 1-233 1 16 1 195 1-105 1-70 1 6 1 151 1-140 1 77 1-25 1-111 1 117 1 117 1 0 1 8 1-186 1 90 1 82 1-83 1-115 1 108 1 84 1-49 1 17 1-82 1 48 1 66 1-119 1-133 1 25 1 94 1 80 1-155 1-46 1 62 1 209 1 5 1-109 1 40 1-236 1 145 1 156 1-68 1-44 1 114 1-60 1 47 1-13 1-47 1 51 1-37 1 6 1 16 1-154 1 120 1-104 1 79 1-196 1 93 1 106 1-57 1 133 1-91 1 64 1-250 1 58 1 229 1-266 1 133 1 32 1 60 1 41 1-88 1-28 1-30 1 80 1 28 1-90 1 3 1-152 1 107 1 80 1-79 1 33 1-71 1 66 1-29 1 79 1 63 1 21 1-240 1-20 1 263 1-56 1-1 1-218 1 46 1 223 1-100 1 84 1-84 1-4 1 96 1-150 1 83 1 89 1-92 1 13 1 79 1-132 1-19 1 107 1-49 1-26 1-168 1 241 1-307 1 48 1 152 1 96 1-34 1-74 1 5 1 53 1-116 1 108 1 92 1 1 1 22 1-167 1 69 1 56 1-187 1 110 1 99 1-168 1 84 1 60 1-30 1 42 1 21 1-5 1-34 1 58 1-118 1 32 1-68 1-45 1 69 1-59 1-79 1 0 1 64 1 119 1 20 1 41 1-98 1 48 1 52 1-208 1 118 1-12 1 42 1-52 1-19 1 98 1-41 1-50 1 67 1-103 1 105 1-23 1-97 1 164 1-14 1-213 1 162 1-57 1-32 1 80 1-7 1-85 1 168 1-43 1-13 1 43 1-166 1-10 1 141 1-141 1 181 1-11 1-78 1 49 1-61 1 111 1-132 1-33 1 59 1 21 1 32 1-223 1 72 1 114 1-13 1-197 1 137 1 176 1-41 1-66 1 70 1-270 1 255 1-26 1-120 1 19 1 73 1-56 1-79 1 189 1-231 1 155 1 124 1-147 1 109 1 52 1-243 1 102 1 79 1-127 1 25 1 49 1 4 1-76 1 187 1-116 1 52 1-28 1 88 1-38 1 41 1-68 1-114 1 46 1 33 1 71 1-134 1-67 1 40 1 130 1 66 1-80 1-30 1 16 1-81 1 141 1-203 1 165 1-25 1 2 1 79 1-16 1-71 1 60 1-150 1 26 1-142 1-31 1 59 1 243 1 21 1-71 1-58 1-29 1 79 1 77 1-29 1 43 1-122 1-1 1-170 1 249 1 2 1-148 1 200 1-2 1-140 1 40 1-16 1 7 1-3 1 100 1-124 1 120 1-143 1 31 1-1 1 65 1-185 1 167 1-103 1 150 1-3 1 28 1-36 1-121 1 144 1-161 1 174 1-18 1 1 1-189 1 193 1-285 1 169 1 134 1-119 1-47 1-16 1 19 1-189 1 179 1 132 1-109 1 126 1-291 1 100 1 40 1 145 1-324 1 78 1 220 1-24 1 77 1 7 1-86 1-67 1 104 1-168 1 193 1-209 1 50 1-27 1-62 1-126 1 179 1 217 1-210 1-81 1-94 1 270 1 44 1-115 1-70 1 147 1-224 1 79 1 111 1 77 1-99 1 69 1 72 1-55 1-90 1 101 1 16 1 53 1-157 1 72 1 5 1-112 1 50 1 33 1 8 1-57 1-90 1 55 1 60 1-105 1 105 1 129 1-79 1 0 1 33 1-156 1 186 1-95 1 109 1-218 1 25 1 86 1 54 1 21 1-28 1-98 1 106 1-104 1-67 1 69 1 134 1-27 1-65 1 118 1-38 1 10 1-86 1 73 1-71 1-25 1-53 1 56 1 130 1 6 1-23 1-141 1 37 1 81 1-19 1-110 1 59 1-42 1 158 1-58 1-32 1 91 1-168 1 103 1-18 1 70 1-61 1-96 1 146 1-67 1-127 1 169 1 16 1-50 1-33 1-91 1-45 1 179 1 39 1 16 1-181 1-45 1 134 1-39 1 8 1-66 1 173 1-61 1-132 1 154 1 4 1-159 1 118 1-129 1 35 1 172 1-57 1-91 1 157 1-266 1 224 1-156 1 90 1-85 1-24 1 147 1 6 1 7 1-57 1 52 1 10 1-63 1 39 1-2 1 86 1-116 1-92 1 79 1 57 1-186 1 68 1 200 1-40 1 31 1-183 1-65 1 227 1-162 1-76 1 63 1 189 1-130 1-45 1 178 1-268 1 80 1-49 1 139 1 111 1-36 1-4 1 14 1-52 1-192 1 67 1 91 1-240 1 290 1-305 1 364 1-30 1-338 1 229 1 31 1-55 1 160 1-264 1 107 1-266 1 22 1 377 1 13 1-79 1 56 1-47 1-97 1 57 1-154 1 173 1 104 1-94 1 85 1-227 1 78 1 78 1-28 1 52 1-81 1-185 1 302 1-236 1 191 1-74 1-21 1 75 1-160 1-70 1 166 1 49 1-202 1 146 1 27 1 25 1 38 1 24 1-231 1 76 1 102 1 101 1-183 1-11 1 25 1 172 1-379 1 148 1-13 1 49 1 38 1 53 1-114 1 173 1-95 1 54 1 27 1-10 1 23 1-22 1-1 1 55 1-202 1-106 1 150 1-7 1 67 1 104 1-109 1 6 1 38 1-184 1 36 1 147 1-115 1-49 1 47 1-57 1-36 1-51 1 147 1 167 1-44 1-9 1 22 1 20 1-45 1-22 1-119 1-52 1 199 1 13 1 4 1 44 1-73 1 16 1-103 1-98 1 133 1 14 1 117 1-138 1 82 1-80 1-14 1-62 1 154 1-150 1 139 1-62 1 7 1 29 1 61 1-42 1-5 1-15 1 22 1 34 1-62 1-131 1 220 1-103 1-30 1 25 1 119 1-51 1-13 1 34 1-2 1 5 1-78 1-67 1 63 1 51 1 61 1-107 1-131 1 50 1 60 1-67 1 185 1-38 1-83 1 13 1-54 1 52 1-99 1 5 1 188 1-129 1 73 1 20 1 8 1-61 1-77 1 161 1-1 1 17 1-75 1-63 1 98 1 36 1-97 1-58 1 47 1-86 1 52 1 117 1-40 1-174 1 133 1-48 1-19 1 122 1-114 1 3 1 45 1 37 1 91 1-78 1-149 1 141 1 45 1-75 1 96 1 27 1-15 1-31 1 24 1-220 1 73 1 79 1-83 1 164 1 12 1-8 1-35 1-36 1-210 1 108 1-133 1 253 1-55 1-87 1 119 1-83 1 91 1 53 1-27 1-23 1-181 1-26 1-14 1 34 1 52 1 106 1 103 1-7 1-41 1-176 1 55 1 66 1 81 1-235 1 68 1 155 1 8 1 23 1-96 1 89 1-4 1-174 1-2 1 133 1-7 1 62 1-204 1 197 1-75 1-171 1 30 1 131 1-53 1 26 1-137 1 46 1 63 1 75 1-40 1 74 1-110 1-12 1 91 1 23 1-192 1 184 1-14 1-53 1 51 1 33 1-11 1-140 1 29 1-69 1 1 1 2 1 12 1 35 1 100 1 4 1 37 1-152 1 56 1 126 1-123 1 8 1 22 1-141 1 46 1 143 1-34 1 79 1-167 1 15 1-6 1 0 1 40 1 94 1-81 1 77 1 26 1-38 1-91 1 67 1-24 1 2 1-15 1 50 1-23 1-14 1 35 1 29 1 17 1-23 1 0 1-96 1-11 1 98 1-25 1-111 1 41 1 113 1-13 1 31 1-155 1 21 1 0 1 65 1-225 1 187 1 102 1-121 1 96 1-94 1 10 1-24 1-47 1 143 1 4 1 23 1 4 1-204 1 69 1 119 1-71 1 25 1 35 1-31 1-9 1-186 1 144 1 42 1-125 1 127 1-214 1 128 1 162 1-114 1 101 1-55 1-105 1 126 1-149 1-22 1 58 1 90 1-44 1-110 1-64 1 61 1 30 1 138 1-116 1-160 1-33 1 134 1 18 1-37 1 251 1-89 1-75 1-73 1 241 1-283 1 189 1 64 1-302 1 39 1 127 1 19 1 0 1-144 1 16 1 149 1-87 1 221 1-102 1-6 1-60 1 79 1-102 1-15 1 174 1-134 1 20 1-18 1 147 1-75 1 50 1-24 1-88 1 72 1 42 1-103 1 31 1 75 1 28 1-60 1-55 1 105 1-64 1 54 1-97 1-97 1 96 1 29 1 93 1-42 1-52 1 31 1-81 1 95 1-28 1 52 1-8 1-16 1-80 1-74 1 105 1-126 1-42 1 183 1 58 1-39 1-127 1 156 1-207 1 138 1-125 1-47 1 245 1 36 1-35 1-38 1 17 1 24 1-30 1-157 1 198 1-198 1 173 1 28 1-60 1 49 1-38 1 9 1-54 1-2 1 13 1 19 1 28 1-198 1 12 1 115 1 27 1 67 1-61 1-153 1-75 1 168 1-78 1 187 1-147 1 46 1 77 1-183 1-17 1 262 1 4 1-131 1-8 1-110 1-3 1 19 1-80 1 142 1 125 1-12 1-201 1 144 1-27 1 65 1-42 1 11 1 33 1-16 1-88 1 145 1 0 1-156 1 185 1-92 1-41 1 1 1-110 1 208 1 36 1-134 1 27 1-95 1-16 1 80 1-64 1 165 1 37 1-48 1-69 1 118 1-143 1 143 1-44 1-81 1 48 1-96 1 62 1-50 1 35 1-41 1-31 1 160 1-94 1-62 1 196 1-90 1-60 1 123 1-24 1-132 1-20 1 185 1-70 1 47 1-126 1 46 1 31 1-129 1 118 1-36 1-5 1 14 1 73 1-120 1-22 1 35 1 157 1 4 1-48 1-5 1-34 1 51 1-91 1-90 1 130 1 62 1-247 1-23 1 97 1 140 1-2 1-6 1-123 1 4 1 92 1-13 1 56 1-274 1 131 1 180 1-57 1-32 1-72 1-129 1 66 1 26 1 96 1 3 1 18 1 27 1 68 1-131 1 86 1-167 1 17 1-6 1 58 1 118 1-136 1-179 1 50 1 293 1-108 1 90 1-109 1 99 1-253 1 120 1-133 1-22 1 250 1-107 1 51 1-106 1 38 1 84 1 13 1-81 1-15 1 164 1-79 1-80 1-120 1 243 1-81 1 111 1-84 1-151 1-102 1 154 1-30 1 16 1 169 1-113 1 76 1-195 1-104 1 182 1 113 1-36 1 116 1 8 1-93 1 44 1-99 1 42 1 119 1-216 1 162 1-131 1 75 1-142 1-25 1 111 1 109 1-32 1-4 1 50 1-22 1-123 1 95 1-6 1-76 1 17 1 59 1 53 1-8 1-28 1-100 1 133 1-39 1 77 1-58 1 59 1-89 1-17 1 36 1 6 1 53 1-29 1 6 1-33 1 16 1 58 1-42 1-84 1-35 1-74 1-35 1 9 1 171 1 87 1-153 1-24 1-27 1 183 1-32 1-17 1 10 1-56 1-79 1 140 1-183 1 169 1-73 1-61 1 25 1 143 1 0 1-12 1-193 1-39 1 17 1 117 1-8 1 92 1-129 1 110 1 54 1 2 1-188 1-57 1-58 1-33 1 233 1 61 1 48 1-4 1-35 1-25 1 51 1-231 1 10 1 194 1-71 1 78 1-194 1-115 1 2 1 281 1-93 1 81 1-34 1-91 1 60 1 30 1-15 1 116 1-141 1 108 1-14 1 45 1-31 1-51 1 19 1-78 1 105 1-25 1-143 1 234 1-236 1 79 1 108 1-139 1 36 1-107 1 160 1-16 1 16 1-53 1-81 1-13 1 47 1-22 1 45 1 55 1 39 1-96 1-41 1 125 1-68 1-77 1 209 1 3 1-11 1 27 1-138 1 57 1-13 1 86 1-49 1 38 1-163 1 49 1 60 1 17 1 5 1-113 1-89 1 95 1 163 1-37 1 15 1-102 1 104 1-139 1-105 1 71 1 178 1-24 1-8 1 34 1-88 1 41 1-69 1 11 1-113 1 13 1 166 1 49 1 0 1-177 1 182 1-77 1 32 1-100 1-34 1 121 1-249 1 230 1-169 1 225 1-152 1 68 1-204 1-28 1 244 1 71 1-31 1-246 1 138 1 110 1-174 1 21 1 24 1 72 1-51 1-37 1 159 1-1 1-155 1-48 1 21 1 85 1-52 1-19 1 148 1-195 1 159 1 81 1-16 1-82 1-131 1-135 1 258 1-234 1 236 1-106 1 18 1 57 1 76 1-107 1 52 1 93 1-104 1-21 1 10 1-116 1 188 1-110 1 166 1-154 1 49 1 58 1 69 1-18 1 16 1-75 1 20 1-94 1 48 1 70 1-41 1-106 1 123 1 52 1-50 1-103 1 81 1-73 1-117 1 9 1 193 1 21 1 37 1-7 1-61 1-90 1 38 1 86 1-89 1 14 1 58 1 39 1-159 1 137 1-92 1 96 1 16 1-204 1 228 1-275 1 104 1 125 1-23 1-146 1 146 1-11 1-197 1 273 1-76 1-245 1 301 1-419 1 32 1 151 1 132 1-186 1 3 1 297 1-49 1-190 1 130 1-33 1-63 1 147 1-17 1-33 1-207 1 125 1 7 1 136 1-315 1 377 1-272 1 159 1 13 1-37 1 105 1-14 1 35 1-103 1 73 1-28 1-132 1 169 1-171 1 109 1 47 1-110 1-14 1 79 1 50 1 31 1-149 1 6 1-84 1 97 1-66 1 193 1-132 1 104 1 20 1-39 1 54 1-134 1 27 1-32 1 60 1 58 1-227 1 117 1 101 1-38 1 58 1 11 1-110 1-98 1-23 1 122 1-50 1 161 1-15 1-163 1 50 1 111 1-2 1-155 1-26 1 133 1-90 1-71 1 193 1 3 1-166 1 127 1 57 1-323 1-60 1 140 1 168 1-40 1-43 1-109 1 157 1-90 1-92 1 248 1-48 1-114 1 173 1 22 1-196 1-133 1 142 1-30 1-50 1 174 1-113 1-43 1 52 1 71 1 74 1-163 1 123 1 62 1-94 1-52 1 33 1-226 1 347 1 26 1-67 1-180 1 262 1-366 1 65 1 131 1 74 1 43 1-85 1-201 1 271 1 52 1-59 1 58 1 25 1-248 1 138 1-80 1 168 1-56 1-212 1 37 1 196 1-43 1-286 1 102 1 224 1 12 1 46 1-228 1-34 1 6 1 190 1-161 1 137 1-187 1 46 1 105 1 119 1-126 1 33 1-2 1-6 1 45 1-80 1-63 1 190 1-87 1-100 1 2 1 25 1 45 1-89 1 52 1 124 1-115 1-4 1 147 1-79 1 17 1-55 1 47 1 65 1-88 1 93 1-89 1 76 1-47 1 48 1-135 1-43 1 96 1 10 1-46 1 134 1-38 1 28 1 12 1-184 1 127 1-93 1 141 1-81 1 20 1-44 1-1 1-32 1-20 1 129 1 19 1-100 1-112 1 178 1-15 1-29 1-20 1 27 1-17 1-32 1 28 1-12 1 24 1-210 1 125 1 79 1 66 1-84 1 76 1-207 1-48 1 266 1-106 1 75 1 31 1-62 1 84 1-239 1-31 1 249 1-48 1-173 1 132 1 101 1-32 1 3 1-53 1 91 1-134 1 104 1-182 1 143 1-135 1 209 1-135 1 67 1 72 1-127 1 127 1-196 1 214 1-85 1 14 1 19 1 6 1-17 1-149 1 195 1-119 1 107 1-16 1-157 1 182 1 16 1-93 1-6 1 28 1 13 1-28 1-2 1-147 1 187 1-116 1 82 1 24 1-2 1-108 1 109 1-154 1-45 1 97 1 76 1-181 1 108 1-2 1-11 1 38 1 34 1 30 1-187 1-68 1 22 1 25 1 159 1-169 1 17 1 260 1-69 1-51 1-51 1 177 1-157 1 93 1-27 1-151 1 77 1-43 1 163 1-99 1 138 1-77 1 80 1-60 1-44 1 13 1-37 1-61 1 91 1 7 1 35 1 65 1-120 1 98 1-172 1-80 1 248 1-59 1-70 1-119 1-16 1 7 1 21 1 237 1-75 1 11 1-130 1 154 1-41 1-145 1 79 1 66 1-113 1-7 1 183 1-46 1-141 1-50 1-42 1 233 1-48 1 13 1 46 1-3 1 33 1-55 1 64 1 2 1-136 1-54 1 98 1 78 1-2 1-55 1 46 1-73 1 105 1-149 1 57 1 34 1-135 1 179 1 16 1 31 1-209 1 194 1 13 1-44 1-79 1 79 1-70 1 65 1-184 1 54 1 59 1-55 1 118 1-81 1-82 1 20 1 60 1-34 1 67 1 86 1-78 1 10 1-162 1 123 1 79 1-151 1-104 1 43 1 181 1-81 1-123 1 162 1-91 1 145 1-119 1-12 1 78 1-4 1-4 1-118 1-76 1 119 1 121 1 53 1-4 1-134 1-63 1 110 1-117 1-37 1 27 1 94 1 57 1-152 1-29 1 62 1 188 1-3 1-7 1-8 1-103 1-33 1 78 1 46 1-58 1 68 1-147 1 117 1 73 1-161 1 37 1-13 1-65 1-13 1 159 1 53 1-10 1-110 1 33 1 30 1-145 1 17 1 128 1 67 1-64 1-51 1-124 1-11 1 159 1 20 1-69 1 26 1-53 1-66 1 184 1 11 1-14 1 32 1-128 1-101 1 164 1-16 1-146 1 203 1-16 1 28 1-165 1-43 1 45 1 86 1-80 1 24 1 26 1 102 1-39 1-159 1 120 1-66 1-112 1 218 1-251 1 103 1 31 1 50 1-12 1-23 1 117 1-198 1 2 1 163 1-25 1 61 1-201 1 47 1-119 1 306 1-73 1-45 1 114 1-81 1-79 1-225 1 12 1 309 1-108 1 164 1-142 1-35 1 71 1 32 1 33 1 47 1-111 1-10 1-11 1-78 1 71 1 7 1 107 1-85 1-39 1-126 1 86 1-30 1 180 1-40 1-262 1 342 1-96 1-23 1 145 1-249 1 17 1-100 1 282 1-64 1-85 1 50 1-76 1-114 1 203 1 130 1-185 1-128 1 244 1-448 1 8 1 302 1 45 1-69 1 181 1-340 1 21 1 89 1 263 1-66 1-65 1-23 1 171 1-72 1 26 1-172 1-41 1 211 1-49 1-61 1-56 1-44 1 112 1 120 1-37 1-101 1 159 1 8 1-125 1 82 1-143 1-20 1 20 1 137 1-43 1-48 1 43 1-248 1 203 1 25 1 37 1-66 1-64 1 61 1 7 1 132 1-180 1-27 1 154 1-25 1 78 1-114 1-14 1 8 1 78 1-147 1 60 1-33 1 164 1-39 1 28 1-51 1 55 1-38 1 42 1-41 1-89 1 133 1-50 1 15 1-95 1-73 1 10 1 25 1 133 1 8 1-93 1 8 1 120 1-130 1 125 1-82 1-40 1-108 1 111 1 128 1-237 1 5 1 115 1 77 1-192 1 68 1 77 1 51 1-2 1 19 1-137 1 88 1-38 1 68 1-4 1-47 1 86 1-118 1-53 1 171 1-155 1 95 1-25 1 44 1-66 1 10 1 52 1-61 1-86 1 43 1-26 1-38 1 207 1-157 1 72 1-20 1-83 1 172 1-59 1-37 1 0 1-74 1 43 1 38 1-46 1-53 1 204 1-57 1-158 1-35 1 237 1-175 1-5 1 167 1-230 1 102 1 94 1 17 1-48 1-106 1 46 1 1 1 68 1 50 1-30 1 46 1-91 1 85 1-128 1 4 1 138 1-28 1-91 1 1 1-24 1 99 1 45 1-49 1 30 1-164 1-7 1 9 1 14 1 170 1-130 1 15 1-9 1 85 1-2 1-88 1 100 1-23 1 5 1-14 1-164 1 206 1-90 1-76 1-1 1 154 1 15 1-266 1-19 1 247 1 44 1-68 1 47 1 18 1 7 1-93 1-52 1-43 1 5 1 28 1 17 1-40 1 154 1-38 1 16 1 28 1 30 1-159 1 164 1-72 1-23 1 1 1 57 1 2 1 23 1-144 1 133 1-255 1 240 1-241 1 264 1-141 1 77 1 30 1-32 1-69 1-95 1 226 1-55 1-125 1 128 1-90 1 66 1 32 1-90 1 108 1 46 1-81 1-59 1 100 1-249 1 109 1 168 1 3 1-8 1-215 1-33 1-52 1-30 1 264 1 41 1-80 1-90 1-72 1 155 1-50 1-51 1-269 1 412 1 11 1 11 1-74 1 131 1-255 1 6 1 247 1-44 1-59 1-63 1 132 1-417 1 221 1 218 1-177 1 76 1 69 1 45 1 7 1-9 1-5 1-218 1 27 1 144 1-55 1 101 1-170 1-100 1 51 1 92 1-101 1 168 1-223 1-7 1 9 1-201 1 159 1 18 1 150 1 128 1-433 1 34 1 296 1-230 1 263 1-107 1 134 1 64 1 7 1-168 1-158 1 82 1-7 1 226 1-32 1-254 1 256 1-114 1 160 1-176 1 106 1-19 1 93 1 16 1-108 1-97 1 77 1 42 1 80 1-147 1-6 1-66 1 166 1-45 1-7 1 55 1-138 1 110 1-8 1-64 1-33 1 191 1-129 1-83 1 158 1-171 1-6 1 37 1 162 1-48 1 10 1 19 1-215 1-24 1 113 1 83 1 69 1-151 1 32 1-68 1 130 1 1 1-122 1 89 1 84 1-137 1 7 1 51 1 91 1-3 1-100 1-11 1 41 1 6 1 49 1-25 1 48 1-27 1-156 1 21 1-127 1 187 1 83 1-258 1-23 1 31 1 226 1-25 1-99 1 20 1 78 1 69 1-56 1-47 1-954 1 890 1 79 1 18 1 54 1-124 1 74 1 81 1-34 1-93 1-48 1-410 1 506 1-224 1 23 1 197 1 22 1-44 1 42 1-58 1-183 1 65 1 203 1-252 1 135 1-173 1-60 1 9 1 31 1 122 1 122 1-158 1 43 1 184 1-122 1-227 1 207 1-6 1 87 1-321 1 363 1-102 1-158 1-81 1 288 1 70 1-426 1 160 1 24 1 198 1-35 1-12 1 129 1-245 1-35 1 77 1-110 1 225 1 5 1-44 1 84 1-7 1-384 1 316 1 29 1-162 1-881 1 729 1 256 1-177 1-29 1-3 1 258 1-155 1-37 1-62 1 103 1 107 1-32 1-139 1 225 1-66 1-4 1-4 1 72 1-647 1 709 1-3 1-296 1-116 1 98 1 114 1-172 1 20 1 272 1-13 1-67 1 175 1-60 1-290 1 201 1-90 1-50 1 136 1-136 1 73 1 159 1-300 1 86 1-40 1 199 1 79 1 17 1-269 1-13 1-3 1-170 1 389 1-254 1 151 1-248 1 114 1 244 1-164 1-43 1 286 1-152 1 23 1 57 1-88 1-71 1-39 1 260 1-363 1 67 1 30 1 245 1-35 1-10 1-122 1 0 1-47 1 192 1-933 1 708 1 132 1 126 1-77 1-222 1 140 1-332 1 508 1-260 1 6 1 169 1-55 1 31 1-39 1 41 1-184 1 218 1-249 1 232 1 72 1 32 1-103 1-28 1 50 1 80 1-268 1 240 1-45 1-152 1-41 1 31 1 16 1 42 1-10 1 135 1 15 1-152 1 184 1-67 1-103 1 32 1 136 1-23 1-10 1-247 1 93 1 167 1-28 1-76 1 87 1-131 1 142 1-76 1 25 1-41 1 57 1-46 1-66 1-16 1 87 1-102 1 213 1-91 1-119 1 114 1 47 1-75 1-36 1-6 1 115 1-152 1 18 1 100 1 6 1 53 1 9 1-74 1-89 1 168 1-24 1 29 1-116 1-17 1 4 1 118 1-77 1-147 1 50 1 124 1-33 1-20 1 107 1-16 1-164 1 30 1 27 1-92 1-26 1 74 1 164 1-178 1 33 1 153 1-60 1 46 1-4 1 22 1-45 1-106 1-81 1 168 1 17 1-208 1 115 1 109 1-158 1 91 1-15 1-72 1 133 1-71 1 42 1 57 1 17 1-47 1-149 1 98 1-2 1-143 1 233 1-211 1-144 1 251 1-214 1 192 1-275 1 166 1 47 1 191 1-367 1 167 1-50 1 239 1-251 1 57 1 118 1 79 1-26 1-269 1 128 1 177 1-618 1 89 1 263 1 176 1-47 1 91 1-115 1 75 1-279 1 8 1 281 1-12 1 27 1-71 1-167 1-28 1 259 1-75 1-82 1 206 1 4 1-109 1-82 1 48 1-133 1 98 1 18 1 9 1 136 1 19 1-88 1 22 1-168 1-55 1 126 1-34 1 204 1-121 1-78 1 210 1-75 1 6 1-123 1-156 1 116 1 212 1-214 1 37 1-92 1 119 1 178 1-27 1-14 1-140 1 149 1-28 1-10 1 67 1-377 1 51 1 320 1-190 1 28 1 40 1 97 1-272 1 126 1-93 1 276 1-192 1-1 1 75 1 53 1-228 1 44 1 95 1-67 1-76 1 54 1 200 1-138 1 103 1 75 1-82 1 6 1-169 1 186 1 58 1-3 1-67 1 8 1-89 1-52 1-135 1 340 1-56 1-173 1 86 1-99 1 138 1-92 1 150 1-67 1-655 1 342 1 357 1-121 1-131 1-40 1 203 1 66 1-96 1 25 1-189 1 57 1 203 1-77 1 147 1 0 1-193 1-55 1 60 1 63" stroke="#0000ff" stroke-width="1.0" fill="none" stroke-linejoin="round"/>
<path d="M82 646.36L82.51 645.93L83.02 645.26L83.53 645.31L84.04 646.08L84.54 647.07L85.05 648.2L85.56 649.22L86.07 649.92L86.58 650.37L87.09 649.82L87.6 647.14L88.11 643.38L88.61 640.48L89.12 639.14L89.63 639.08L90.14 638.7L90.65 637.83L91.16 637.75L91.67 639.42L92.18 642.37L92.68 645.49L93.19 648.15L93.7 650.13L94.21 652.01L94.72 653.42L95.23 653.78L95.74 652.46L96.25 649.61L96.76 646.64L97.26 645.22L97.77 646.41L98.28 649.26L98.79 652.09L99.3 653.31L99.81 653.36L100.32 652.9L100.83 651.28L101.33 648.34L101.84 644.69L102.35 641.08L102.86 637.75L103.37 635L103.88 632.88L104.39 631.52L104.9 631.65L105.4 633.33L105.91 635.65L106.42 637.87L106.93 640.05L107.44 642.17L107.95 644.66L108.46 648.09L108.97 652.08L109.48 655.21L109.98 656.86L110.49 657.26L111 656.71L111.51 655.86L112.02 654.23L112.53 651.14L113.04 647.77L113.55 645.9L114.05 645.98L114.56 647.66L115.07 649.78L115.58 651.18L116.09 652.15L116.6 653.74L117.11 655.62L117.62 657.31L118.12 658.33L118.63 658.41L119.14 657.54L119.65 655.67L120.16 652.52L120.67 648.53L121.18 645.47L121.69 643.23L122.2 640.18L122.7 635.83L123.21 631.79L123.72 628.96L124.23 628.17L124.74 630.23L125.25 633.27L125.76 635.95L126.27 638.81L126.77 641.86L127.28 644.19L127.79 646.55L128.3 649.6L128.81 652.46L129.32 654.35L129.83 655.27L130.34 655.25L130.84 654.8L131.35 654.48L131.86 654.85L132.37 656.06L132.88 657.31L133.39 658.08L133.9 658.44L134.41 658.44L134.92 658.45L135.42 658.39L135.93 657.86L136.44 656.22L136.95 654.09L137.46 652.08L137.97 650.58L138.48 649.04L138.99 646.28L139.49 643.1L140 640.38L140.51 638.99L141.02 639.32L141.53 640.64L142.04 642.17L142.55 644L143.06 646.8L143.56 649.92L144.07 652.9L144.58 655.11L145.09 656.03L145.6 656.4L146.11 656.74L146.62 657.41L147.13 657.79L147.64 657.03L148.14 654.61L148.65 651.62L149.16 648.38L149.67 644.99L150.18 641.38L150.69 637.21L151.2 631.96L151.71 626.76L152.21 623.53L152.72 622.52L153.23 624.69L153.74 629.36L154.25 634.59L154.76 639.56L155.27 644.53L155.78 648.87L156.28 652.05L156.79 654.64L157.3 656.78L157.81 658.36L158.32 658.74L158.83 657.37L159.34 654.77L159.85 652.37L160.36 651.36L160.86 651.18L161.37 650.51L161.88 649.11L162.39 647.5L162.9 646.34L163.41 646.27L163.92 647.25L164.43 648.57L164.93 649.71L165.44 650.58L165.95 651.22L166.46 652.27L166.97 654.02L167.48 656.19L167.99 658.08L168.5 658.99L169 658.57L169.51 657.62L170.02 657.08L170.53 657.39L171.04 657.72L171.55 656.92L172.06 654.96L172.57 653.08L173.08 652.7L173.58 653.85L174.09 655.52L174.6 656.32L175.11 656.01L175.62 655.55L176.13 655.68L176.64 656.29L177.15 655.96L177.65 654.43L178.16 652.36L178.67 650.91L179.18 650.89L179.69 652.25L180.2 654.18L180.71 655.86L181.22 657.53L181.72 658.75L182.23 658.96L182.74 658.69L183.25 658.43L183.76 657.79L184.27 656.87L184.78 656.05L185.29 655.86L185.8 656.37L186.3 657.12L186.81 657.13L187.32 656.24L187.83 654.13L188.34 651.73L188.85 650.08L189.36 649.07L189.87 648.44L190.37 648.77L190.88 649.96L191.39 651.64L191.9 654.21L192.41 657.17L192.92 659.69L193.43 661.69L193.94 663.03L194.44 663.28L194.95 662.53L195.46 661.6L195.97 661L196.48 660.06L196.99 657.83L197.5 654.88L198.01 651.7L198.52 648.48L199.02 646.67L199.53 647.16L200.04 649.73L200.55 653.54L201.06 657.26L201.57 658.69L202.08 657.94L202.59 656.99L203.09 656.83L203.6 657.46L204.11 658.35L204.62 658.47L205.13 657.96L205.64 657.3L206.15 657.01L206.66 656.9L207.16 656.74L207.67 656.16L208.18 655.15L208.69 654.5L209.2 653.69L209.71 652.41L210.22 650.86L210.73 649.77L211.24 650.16L211.74 652.01L212.25 654.29L212.76 655.64L213.27 656.39L213.78 656.67L214.29 656.27L214.8 655.24L215.31 653.84L215.81 653.32L216.32 654.32L216.83 656.48L217.34 658.14L217.85 658.74L218.36 658.8L218.87 658.86L219.38 659.29L219.88 659.71L220.39 659.62L220.9 658.65L221.41 657.1L221.92 655.59L222.43 654.83L222.94 655.45L223.45 656.79L223.96 657.69L224.46 657.66L224.97 656.55L225.48 655.35L225.99 654.53L226.5 653.94L227.01 652.59L227.52 650.64L228.03 648.53L228.53 647.32L229.04 648.05L229.55 649.64L230.06 650.85L230.57 650.86L231.08 650.36L231.59 650.52L232.1 652.4L232.6 655.18L233.11 657.58L233.62 659.03L234.13 659.61L234.64 659.57L235.15 658.68L235.66 656.72L236.17 654.61L236.68 653.52L237.18 654.12L237.69 655.84L238.2 657.21L238.71 657.53L239.22 657.23L239.73 657.28L240.24 658.15L240.75 659.5L241.25 660.02L241.76 659.52L242.27 658.18L242.78 656.83L243.29 655.77L243.8 655L244.31 654.58L244.82 654.86L245.32 656.29L245.83 658.15L246.34 659.79L246.85 660.24L247.36 659.67L247.87 658.75L248.38 658.18L248.89 658.35L249.4 659.23L249.9 660.42L250.41 661.19L250.92 661.13L251.43 660.22L251.94 659.11L252.45 658.46L252.96 658.53L253.47 659.02L253.97 659.51L254.48 659.77L254.99 659.66L255.5 659.15L256.01 657.88L256.52 655.28L257.03 650.95L257.54 645.72L258.04 641.03L258.55 637.61L259.06 635.54L259.57 635.42L260.08 637.7L260.59 641.53L261.1 646.35L261.61 651.31L262.12 655.38L262.62 658.11L263.13 659.84L263.64 660.25L264.15 659.56L264.66 659.17L265.17 659.04L265.68 658.79L266.19 658.47L266.69 658.56L267.2 659L267.71 659.15L268.22 658.57L268.73 657.08L269.24 655.7L269.75 654.45L270.26 653.51L270.76 652.55L271.27 652.14L271.78 652.64L272.29 653.07L272.8 653.06L273.31 652.07L273.82 651.05L274.33 650.87L274.84 651.83L275.34 653.11L275.85 654.17L276.36 655.21L276.87 655.96L277.38 656.56L277.89 657.03L278.4 656.86L278.91 656.1L279.41 654.74L279.92 653.05L280.43 651.6L280.94 651.33L281.45 652.72L281.96 654.71L282.47 656.21L282.98 656.33L283.48 655.38L283.99 653.97L284.5 653.01L285.01 652.51L285.52 651.62L286.03 649.96L286.54 648.37L287.05 648.16L287.56 649.93L288.06 653.25L288.57 656.49L289.08 658.34L289.59 659.05L290.1 659.41L290.61 659.5L291.12 659.37L291.63 658.77L292.13 658.17L292.64 657.86L293.15 658.06L293.66 658.44L294.17 658.8L294.68 658.66L295.19 657.09L295.7 654.84L296.2 652.68L296.71 651.09L297.22 650.46L297.73 650.43L298.24 650.23L298.75 650.04L299.26 650.86L299.77 652.01L300.28 653.41L300.78 654.94L301.29 656.13L301.8 656.65L302.31 656.2L302.82 655.34L303.33 654.97L303.84 655.93L304.35 657.79L304.85 659.62L305.36 660.54L305.87 660.87L306.38 661.04L306.89 660.32L307.4 657.51L307.91 652.41L308.42 646.8L308.92 643.03L309.43 641.81L309.94 641.23L310.45 638.93L310.96 634.78L311.47 630.28L311.98 628.39L312.49 629.47L313 630.36L313.5 627.87L314.01 623.39L314.52 621.65L315.03 625.53L315.54 634.74L316.05 644.19L316.56 650.38L317.07 653.45L317.57 655.58L318.08 657.55L318.59 658.1L319.1 656.83L319.61 654.47L320.12 653.16L320.63 653.56L321.14 655.5L321.64 657.98L322.15 659.84L322.66 660.28L323.17 659.62L323.68 658.65L324.19 657.85L324.7 657.19L325.21 655.78L325.72 653.11L326.22 650.18L326.73 648.38L327.24 647.86L327.75 648.2L328.26 648.6L328.77 648.62L329.28 649.05L329.79 650.29L330.29 651.39L330.8 652.6L331.31 653.97L331.82 654.97L332.33 655.36L332.84 655.77L333.35 656.17L333.86 656.54L334.36 656.69L334.87 655.74L335.38 653.77L335.89 651.41L336.4 649.6L336.91 649.1L337.42 650.08L337.93 652.23L338.44 655.16L338.94 657.71L339.45 659.12L339.96 659.65L340.47 660.07L340.98 660.44L341.49 660.4L342 659.44L342.51 657.48L343.01 655.42L343.52 654.31L344.03 653.5L344.54 651.95L345.05 650.05L345.56 648.8L346.07 649.16L346.58 650.72L347.08 651.25L347.59 649.72L348.1 646.96L348.61 644.51L349.12 643.45L349.63 643.7L350.14 644.87L350.65 646.56L351.16 648.4L351.66 650.11L352.17 652.21L352.68 654.21L353.19 655.72L353.7 657.26L354.21 658.38L354.72 658.53L355.23 658.19L355.73 657.61L356.24 656.55L356.75 655.56L357.26 654.85L357.77 653.83L358.28 652.18L358.79 651L359.3 650.64L359.8 650.32L360.31 650.04L360.82 649.29L361.33 648.07L361.84 647.18L362.35 647.45L362.86 647.97L363.37 648L363.88 647.63L364.38 646.79L364.89 646.63L365.4 647.37L365.91 648.5L366.42 649.57L366.93 650.88L367.44 652.67L367.95 654.88L368.45 657.17L368.96 658.8L369.47 659.84L369.98 660.63L370.49 661.3L371 661.81L371.51 661.93L372.02 661.32L372.52 659.97L373.03 657.99L373.54 655.61L374.05 653.58L374.56 652.52L375.07 652.51L375.58 653.37L376.09 653.64L376.6 652.87L377.1 651.24L377.61 649.98L378.12 649.95L378.63 651.69L379.14 654.11L379.65 655.41L380.16 655.12L380.67 653.53L381.17 651.87L381.68 651.27L382.19 652.24L382.7 653.73L383.21 655.18L383.72 655.82L384.23 655.77L384.74 655.65L385.24 656.24L385.75 657.29L386.26 658.29L386.77 658.86L387.28 658.7L387.79 658.44L388.3 658.57L388.81 658.95L389.32 659.26L389.82 659.64L390.33 660.02L390.84 660.39L391.35 660.58L391.86 660.17L392.37 659.02L392.88 657.38L393.39 656.2L393.89 656.01L394.4 656.35L394.91 656.24L395.42 655.45L395.93 654.58L396.44 654.74L396.95 656.5L397.46 658.89L397.96 660.66L398.47 661.42L398.98 661.34L399.49 660.68L400 659.98L400.51 659.45L401.02 658.44L401.53 656.77L402.04 655.34L402.54 655.02L403.05 656.05L403.56 658L404.07 659.98L404.58 660.69L405.09 660.22L405.6 659.42L406.11 658.69L406.61 658.41L407.12 658.47L407.63 658.02L408.14 656.55L408.65 655.04L409.16 654.55L409.67 655.29L410.18 656.9L410.68 658.14L411.19 658.16L411.7 657.24L412.21 655.66L412.72 653.26L413.23 650.58L413.74 648.8L414.25 648.36L414.76 649.43L415.26 651.35L415.77 652.94L416.28 653.74L416.79 653.59L417.3 652.51L417.81 650.02L418.32 646.86L418.83 644.48L419.33 643.52L419.84 644.53L420.35 647.05L420.86 650.65L421.37 653.88L421.88 656.05L422.39 656.42L422.9 654.84L423.4 653.11L423.91 652.54L424.42 653.48L424.93 655.06L425.44 656.45L425.95 657.3L426.46 657.97L426.97 658.76L427.48 659.51L427.98 660.13L428.49 660.59L429 660.53L429.51 659.3L430.02 656.67L430.53 653.09L431.04 650.37L431.55 649.51L432.05 650.51L432.56 652.59L433.07 654.99L433.58 657.02L434.09 658.41L434.6 659.51L435.11 660.2L435.62 660.15L436.12 658.21L436.63 654.09L437.14 649.04L437.65 644.88L438.16 643.01L438.67 643.18L439.18 644.28L439.69 645.15L440.2 645.63L440.7 646.11L441.21 647.06L441.72 649.12L442.23 652.07L442.74 655.28L443.25 657.82L443.76 659.16L444.27 659.34L444.77 658.73L445.28 658.09L445.79 657.6L446.3 657.44L446.81 657.46L447.32 657.55L447.83 657.99L448.34 658.96L448.84 660.16L449.35 661.26L449.86 661.94L450.37 661.93L450.88 661.5L451.39 660.98L451.9 660.01L452.41 658.32L452.92 655.8L453.42 652.94L453.93 650.63L454.44 649.4L454.95 649.19L455.46 649.76L455.97 651.11L456.48 652.95L456.99 654.64L457.49 656.06L458 656.95L458.51 657.69L459.02 658.46L459.53 659.21L460.04 659.56L460.55 659.32L461.06 658.75L461.56 658.09L462.07 658.14L462.58 659.05L463.09 660.13L463.6 660.14L464.11 658.75L464.62 657L465.13 655.67L465.64 655.15L466.14 654.66L466.65 653.87L467.16 653.12L467.67 651.77L468.18 649.25L468.69 646.11L469.2 642.8L469.71 640.24L470.21 639.1L470.72 639.16L471.23 640.15L471.74 642.85L472.25 647.42L472.76 652.43L473.27 657.07L473.78 660.29L474.28 662.09L474.79 662.55L475.3 661.91L475.81 660.74L476.32 659.72L476.83 659.45L477.34 659.64L477.85 659.51L478.36 658.57L478.86 657.38L479.37 657.08L479.88 658.07L480.39 659.55L480.9 660.45L481.41 660.4L481.92 659.16L482.43 657.52L482.93 656.39L483.44 655.91L483.95 655.69L484.46 655.15L484.97 654.35L485.48 653.6L485.99 654.13L486.5 656.27L487 658.71L487.51 660.21L488.02 660.21L488.53 659.59L489.04 658.92L489.55 658.33L490.06 657.12L490.57 654.41L491.08 650.48L491.58 646.71L492.09 644.2L492.6 643L493.11 642.99L493.62 643.31L494.13 643.11L494.64 643.3L495.15 645.07L495.65 648.57L496.16 653.07L496.67 656.76L497.18 657.98L497.69 657.38L498.2 656.85L498.71 657.04L499.22 657.43L499.72 657.43L500.23 657.02L500.74 656.1L501.25 655.09L501.76 654.59L502.27 654.85L502.78 656.06L503.29 657.96L503.8 659.39L504.3 659.5L504.81 658.55L505.32 657.51L505.83 657.38L506.34 658.11L506.85 659.03L507.36 659.47L507.87 659.3L508.37 658.57L508.88 657.54L509.39 656.64L509.9 656.3L510.41 656.4L510.92 656.63L511.43 656.49L511.94 655.57L512.44 654.24L512.95 653.6L513.46 653.87L513.97 654.37L514.48 654.92L514.99 654.81L515.5 654.04L516.01 652.59L516.52 651.29L517.02 650.85L517.53 651.6L518.04 653.06L518.55 654.61L519.06 656.05L519.57 657.22L520.08 658.58L520.59 659.92L521.09 660.81L521.6 660.67L522.11 659.58L522.62 658.11L523.13 657.03L523.64 656.91L524.15 657.5L524.66 657.92L525.16 657.7L525.67 656.68L526.18 655.16L526.69 653.89L527.2 653.75L527.71 654.96L528.22 657.05L528.73 659.11L529.24 659.73L529.74 658.71L530.25 656.39L530.76 653.93L531.27 652.64L531.78 653.07L532.29 654.93L532.8 657.27L533.31 658.85L533.81 658.96L534.32 658.45L534.83 657.58L535.34 656.77L535.85 656.64L536.36 656.8L536.87 656.36L537.38 655.26L537.88 653.6L538.39 651.56L538.9 649.75L539.41 648.13L539.92 646.93L540.43 646.46L540.94 646.57L541.45 646.47L541.96 645.22L542.46 642.95L542.97 640.24L543.48 638.38L543.99 636.66L544.5 635.14L545.01 633.55L545.52 632.92L546.03 634.3L546.53 636.8L547.04 639.08L547.55 640.39L548.06 641.73L548.57 643.86L549.08 647.92L549.59 652.85L550.1 656.87L550.6 658.87L551.11 659.03L551.62 658.18L552.13 657.74L552.64 658.24L553.15 658.23L553.66 657.11L554.17 655.54L554.68 654.86L555.18 655.93L555.69 658.25L556.2 660.15L556.71 660.56L557.22 660.48L557.73 660.53L558.24 660.53L558.75 660.58L559.25 660.72L559.76 660.79L560.27 660.46L560.78 660L561.29 659.36L561.8 658.8L562.31 658.68L562.82 658.68L563.32 658.35L563.83 657.67L564.34 657.18L564.85 657.1L565.36 657.45L565.87 657.88L566.38 657.93L566.89 657.16L567.4 656.01L567.9 654.76L568.41 653.05L568.92 650.17L569.43 646.88L569.94 644.72L570.45 645.1L570.96 648.24L571.47 652.35L571.97 655.64L572.48 657.11L572.99 657.3L573.5 656.96L574.01 657.07L574.52 657.8L575.03 658.56L575.54 659.29L576.04 659.46L576.55 659L577.06 657.88L577.57 656.81L578.08 656.33L578.59 656.67L579.1 657.83L579.61 658.85L580.12 659.41L580.62 659.54L581.13 659.32L581.64 658.31L582.15 655.68L582.66 651.49L583.17 647.43L583.68 645.68L584.19 646.73L584.69 649.53L585.2 652.24L585.71 653.67L586.22 654.76L586.73 656.52L587.24 658.63L587.75 659.79L588.26 659.74L588.76 659.15L589.27 658.77L589.78 658.86L590.29 658.87L590.8 658.35L591.31 656.98L591.82 655.46L592.33 653.72L592.84 651.97L593.34 650.95L593.85 651.49L594.36 653.4L594.87 655.54L595.38 657.37L595.89 658.18L596.4 658.04L596.91 657.15L597.41 655.9L597.92 654.73L598.43 653.79L598.94 652.8L599.45 651.73L599.96 650.28L600.47 647.92L600.98 645.45L601.48 644.69L601.99 646.46L602.5 650.47L603.01 655.43L603.52 658.81L604.03 659.99L604.54 660.32L605.05 660.75L605.56 660.61L606.06 659.27L606.57 657.12L607.08 655.23L607.59 654.7L608.1 655.5L608.61 657.04L609.12 658.56L609.63 659.89L610.13 661.04L610.64 662.04L611.15 662.43L611.66 661.95L612.17 660.89L612.68 659.23L613.19 657.27L613.7 655.63L614.2 655.1L614.71 655.79L615.22 657.25L615.73 658.7L616.24 659.19L616.75 658.72L617.26 657.91L617.77 657.4L618.28 657.4L618.78 657.84L619.29 658.12L619.8 657.47L620.31 656.16L620.82 655.23L621.33 655.34L621.84 656.46L622.35 658.08L622.85 658.85L623.36 658.47L623.87 657.75L624.38 657.67L624.89 658.34L625.4 659.12L625.91 658.82L626.42 656.47L626.92 653.49L627.43 651.92L627.94 652.51L628.45 654.54L628.96 656.69L629.47 658.23L629.98 659.26L630.49 660.34L631 660.89L631.5 659.88L632.01 657.29L632.52 653.56L633.03 649.94L633.54 647.46L634.05 646.68L634.56 647.84L635.07 650.66L635.57 654.16L636.08 657.42L636.59 659.68L637.1 660.57L637.61 660.43L638.12 659.8L638.63 658.78L639.14 657.37L639.64 655.97L640.15 654.56L640.66 653.69L641.17 653.75L641.68 654L642.19 653.85L642.7 653.63L643.21 654.09L643.72 654.85L644.22 655.41L644.73 654.98L645.24 653.48L645.75 652.23L646.26 652.45L646.77 653.97L647.28 655.76L647.79 657.22L648.29 658.32L648.8 658.89L649.31 658.65L649.82 657.8L650.33 656.29L650.84 654.23L651.35 652.46L651.86 651.06L652.36 649.94L652.87 649.08L653.38 648.46L653.89 648.54L654.4 649.75L654.91 652.08L655.42 654.41L655.93 655.73L656.44 655.02L656.94 653.26L657.45 652.44L657.96 653.64L658.47 656.36L658.98 659.11L659.49 660.72L660 661.06L660.51 661.08L661.01 661.17L661.52 660.68L662.03 658.51L662.54 655.3L663.05 652.83L663.56 651.93L664.07 652.71L664.58 654.47L665.08 656.2L665.59 657.33L666.1 658L666.61 658.41L667.12 658.26L667.63 657.13L668.14 655.13L668.65 652.96L669.16 651.49L669.66 651.79L670.17 654.21L670.68 657.23L671.19 659.52L671.7 660.91L672.21 661.18L672.72 660.65L673.23 660.03L673.73 659.25L674.24 658.48L674.75 658.17L675.26 658.3L675.77 658.29L676.28 658.24L676.79 658.11L677.3 657.73L677.8 657.21L678.31 656.83L678.82 656.49L679.33 655.85L679.84 655.37L680.35 655.04L680.86 654.99L681.37 655.44L681.88 656.47L682.38 657.49L682.89 657.84L683.4 657.87L683.91 657.56L684.42 657.11L684.93 656.66L685.44 655.97L685.95 655.15L686.45 654.57L686.96 654.78L687.47 655.66L687.98 656.73L688.49 657.49L689 657.69L689.51 657.73L690.02 657.7L690.52 657.81L691.03 658.22L691.54 658.82L692.05 659.37L692.56 659.8L693.07 660.01L693.58 660.05L694.09 660.06L694.6 660.34L695.1 660.69L695.61 660.79L696.12 660.22L696.63 659.24L697.14 658.13L697.65 657.26L698.16 657.04L698.67 656.89L699.17 656.3L699.68 655.59L700.19 655.46L700.7 656.11L701.21 657.83L701.72 660.12L702.23 661.74L702.74 662.43L703.24 662.15L703.75 660.8L704.26 658.79L704.77 656.88L705.28 655.37L705.79 654.83L706.3 655.12L706.81 655.35L707.32 654.46L707.82 651.82L708.33 647.74L708.84 642.52L709.35 635.08L709.86 627.56L710.37 623.13L710.88 623.8L711.39 629.43L711.89 637.03L712.4 642.84L712.91 645.67L713.42 648.35L713.93 651.62L714.44 655.42L714.95 658.59L715.46 659.77L715.96 658.91L716.47 657L716.98 655.49L717.49 655.42L718 656.49L718.51 657.5L719.02 658.1L719.53 658.37L720.04 658.64L720.54 659.06L721.05 659.68L721.56 659.8L722.07 658.92L722.58 657.49L723.09 656.11L723.6 655.52L724.11 656.24L724.61 657.96L725.12 659.64L725.63 660.82L726.14 661.26L726.65 660.84L727.16 659.82L727.67 658.78L728.18 658.16L728.68 657.84L729.19 657.19L729.7 656.14L730.21 655.41L730.72 655.62L731.23 656.65L731.74 657.91L732.25 658.98L732.76 659.53L733.26 659.54L733.77 659.21L734.28 658.79L734.79 658.59L735.3 658.79L735.81 659.1L736.32 658.94L736.83 658.54L737.33 657.95L737.84 656.75L738.35 655.03L738.86 653.1L739.37 651.24L739.88 650.11L740.39 649.94L740.9 650.31L741.4 650.68L741.91 651.1L742.42 651.83L742.93 653.01L743.44 654.68L743.95 656.23L744.46 657.25L744.97 657.36L745.48 657.14L745.98 656.75L746.49 656.09L747 655.32L747.51 655.25L748.02 656.42L748.53 658.37L749.04 660.2L749.55 661.08L750.05 660.52L750.56 659.09L751.07 657.77L751.58 656.98L752.09 656.88L752.6 657.31L753.11 657.85L753.62 657.98L754.12 657.85L754.63 657.7L755.14 657.61L755.65 657.92L756.16 658.35L756.67 658.55L757.18 658.41L757.69 657.7L758.2 656.58L758.7 655.87L759.21 656.21L759.72 657.14L760.23 658.24L760.74 658.59L761.25 657.37L761.76 655.23L762.27 652.77L762.77 650.9L763.28 650.42L763.79 651.17L764.3 652.43L764.81 653.43L765.32 654.12L765.83 654.63L766.34 655.53L766.84 656.44L767.35 656.77L767.86 656.79L768.37 656.82L768.88 657.4L769.39 658.48L769.9 659.63L770.41 659.95L770.92 659.28L771.42 658.13L771.93 656.94L772.44 656.27L772.95 656.3L773.46 656.63L773.97 656.76L774.48 656.97L774.99 657.52L775.49 658.3L776 659.22L776.51 659.79L777.02 659.74L777.53 659.11L778.04 658.22L778.55 657.72L779.06 657.87L779.56 658.64L780.07 659.64L780.58 660.18L781.09 659.56L781.6 657.98L782.11 656.42L782.62 655.56L783.13 655.79L783.64 656.83L784.14 657.84L784.65 658.35L785.16 658.37L785.67 658.39L786.18 658.45L786.69 658.37L787.2 657.98L787.71 657.48L788.21 657.39L788.72 657.78L789.23 658.42L789.74 658.54L790.25 657.87L790.76 656.7L791.27 655.74L791.78 655.41L792.28 655.28L792.79 655.18L793.3 654.97L793.81 654.94L794.32 655.2L794.83 655.65L795.34 656.15L795.85 656.65L796.36 657.17L796.86 657.78L797.37 658.34L797.88 658.71L798.39 658.66L798.9 658.08L799.41 657.06L799.92 656.27L800.43 655.67L800.93 654.89L801.44 654.23L801.95 654.03L802.46 654.77L802.97 656.51L803.48 658.38L803.99 659.49L804.5 659.64L805 659.14L805.51 658.26L806.02 657.53L806.53 657.38L807.04 657.55L807.55 657.88L808.06 657.74L808.57 657.4L809.08 657.12L809.58 656.92L810.09 656.46L810.6 655.96L811.11 655.9L811.62 655.78L812.13 655.36L812.64 654.4L813.15 653.54L813.65 653.62L814.16 655.21L814.67 657.41L815.18 659.16L815.69 659.88L816.2 659.64L816.71 658.81L817.22 658.05L817.72 657.75L818.23 657.79L818.74 658.26L819.25 658.44L819.76 658.15L820.27 657.56L820.78 657.1L821.29 656.96L821.8 657.37L822.3 658.22L822.81 658.84L823.32 659.18L823.83 659.17L824.34 658.37L824.85 657.21L825.36 656.28L825.87 655.89L826.37 655.88L826.88 656.18L827.39 656.3L827.9 656.1L828.41 656.06L828.92 656.63L829.43 657.61L829.94 658.49L830.44 659.24L830.95 659.52L831.46 659.17L831.97 658.27L832.48 657.38L832.99 656.67L833.5 656.43L834.01 656.83L834.52 657.72L835.02 658.45L835.53 658.48L836.04 657.66L836.55 656.48L837.06 655.74L837.57 656.14L838.08 657.01L838.59 657.43L839.09 657.32L839.6 656.98L840.11 656.74L840.62 656.52L841.13 656.42L841.64 656.56L842.15 657.22L842.66 658.03L843.16 658.55L843.67 658.74L844.18 658.69L844.69 658.67L845.2 658.8L845.71 658.95L846.22 659.1L846.73 659.25L847.24 659.02L847.74 658.32L848.25 657.61L848.76 657.25L849.27 657.48L849.78 657.8L850.29 657.76L850.8 657.05L851.31 656.29L851.81 655.79L852.32 655.73L852.83 655.92L853.34 655.76L853.85 655.24L854.36 654.84L854.87 654.49L855.38 654.04L855.88 653.92L856.39 654.34L856.9 655.3L857.41 656.73L857.92 657.79L858.43 657.85L858.94 657.57L859.45 657.76L859.96 658.37L860.46 658.9L860.97 658.95L861.48 658.26L861.99 656.95L862.5 655.49L863.01 654.4L863.52 653.86L864.03 653.99L864.53 654.74L865.04 655.9L865.55 657L866.06 657.84L866.57 658.36L867.08 658.42L867.59 658.4L868.1 658.45L868.6 658.79L869.11 659.13L869.62 658.65L870.13 657.35L870.64 655.94L871.15 655.24L871.66 655.51L872.17 656.57L872.68 657.66L873.18 658.27L873.69 659.06L874.2 660.07L874.71 661.13L875.22 661.8L875.73 661.47L876.24 660.21L876.75 658.39L877.25 656.91L877.76 656.12L878.27 656.26L878.78 656.79L879.29 657.06L879.8 657.21L880.31 657.07L880.82 656.66L881.32 656.13L881.83 655.6L882.34 654.9L882.85 654.39L883.36 654.25L883.87 654.44L884.38 655.07L884.89 656.23L885.4 657.78L885.9 659.23L886.41 660.1L886.92 660.23L887.43 659.66L887.94 658.9L888.45 658.83L888.96 659.53L889.47 660.21L889.97 660.34L890.48 659.77L890.99 658.99L891.5 658.69L892.01 658.89L892.52 658.99L893.03 658.43L893.54 657.24L894.04 656.11L894.55 655.48L895.06 655.21L895.57 655.39L896.08 655.49L896.59 655.42L897.1 655.77L897.61 656.73L898.12 657.91L898.62 658.64L899.13 658.37L899.64 656.64L900.15 654.4L900.66 652.91L901.17 652.73L901.68 653.62L902.19 655.03L902.69 656.21L903.2 656.97L903.71 657.34L904.22 657L904.73 655.69L905.24 653.9L905.75 652.79L906.26 653.31L906.76 655.25L907.27 657.46L907.78 659.05L908.29 659.69L908.8 659.53L909.31 658.79L909.82 657.79L910.33 656.73L910.84 656.15L911.34 656.13L911.85 656.58L912.36 657.24L912.87 657.88L913.38 658.19L913.89 658.4L914.4 659.01L914.91 659.71L915.41 660.15L915.92 659.62L916.43 658.36L916.94 657.18L917.45 657.14L917.96 658.1L918.47 659.24L918.98 659.76L919.48 659.24L919.99 658.14L920.5 656.79L921.01 655.62L921.52 655.04L922.03 655.19L922.54 655.93L923.05 656.92L923.56 657.68L924.06 657.87L924.57 657.83L925.08 657.69L925.59 657.56L926.1 657.73L926.61 657.88L927.12 657.64L927.63 657.33L928.13 657.1L928.64 656.99L929.15 657.24L929.66 657.76L930.17 658.19L930.68 658.31L931.19 658.1L931.7 657.51L932.2 656.98L932.71 656.45L933.22 655.79L933.73 655.35L934.24 655.36L934.75 655.83L935.26 656.63L935.77 657.23L936.28 657.28L936.78 656.89L937.29 656.04L937.8 654.82L938.31 653.82L938.82 653.53L939.33 654.03L939.84 655.25L940.35 656.95L940.85 658.65L941.36 659.91L941.87 659.55L942.38 657.32L942.89 654.74L943.4 653.56L943.91 654.39L944.42 656.29L944.92 657.97L945.43 658.55L945.94 658.45L946.45 658.23L946.96 657.83L947.47 657.18L947.98 656.2L948.49 655.31L949 655.13L949.5 655.51L950.01 656.12L950.52 656.76L951.03 657.05L951.54 656.9L952.05 656.27L952.56 655.46L953.07 654.83L953.57 654.94L954.08 655.64L954.59 656.44L955.1 657.08L955.61 657.25L956.12 657.14L956.63 656.81L957.14 656.46L957.64 656.03L958.15 655.85L958.66 655.73L959.17 655.83L959.68 656.11L960.19 656.44L960.7 656.62L961.21 656.46L961.72 656.74L962.22 657.69L962.73 658.95L963.24 659.71L963.75 659.65L964.26 658.65L964.77 657.12L965.28 655.98L965.79 655.3L966.29 654.25L966.8 652.92L967.31 651.13L967.82 649.68L968.33 649.43L968.84 650.42L969.35 651.93L969.86 653.1L970.36 653.83L970.87 654.24L971.38 655.21L971.89 656.08L972.4 656.79L972.91 657.43L973.42 657.71L973.93 657.62L974.44 657.59L974.94 657.85L975.45 658.34L975.96 659.05L976.47 659.2L976.98 658.65L977.49 657.8L978 657.28L978.51 656.94L979.01 656.72L979.52 656.74L980.03 656.96L980.54 657.31L981.05 657.45L981.56 657.41L982.07 657.36L982.58 657.46L983.08 657.97L983.59 658.39L984.1 658.4L984.61 658.15L985.12 657.85L985.63 657.64L986.14 657.44L986.65 657.23L987.16 656.76L987.66 656.27L988.17 655.51L988.68 654.28L989.19 652.97L989.7 652L990.21 652.01L990.72 653.44L991.23 655.1L991.73 655.76L992.24 655.4L992.75 654.32L993.26 653.25L993.77 652.91L994.28 653.46L994.79 654.57L995.3 656.13L995.8 657.42L996.31 658.29L996.82 658.62L997.33 658.25L997.84 657.43L998.35 656.49L998.86 655.41L999.37 654.68L999.88 654.83L1000.38 655.39L1000.89 655.81L1001.4 655.35L1001.91 654.09L1002.42 652.85L1002.93 652.38L1003.44 652.86L1003.95 654.07L1004.45 655.76L1004.96 657.27L1005.47 658.15L1005.98 657.98L1006.49 657.09L1007 656.55L1007.51 657.06L1008.02 658.35L1008.52 659.19L1009.03 659.05L1009.54 658.09L1010.05 656.96L1010.56 656.37L1011.07 656.46L1011.58 656.94L1012.09 657.2L1012.6 657.1L1013.1 656.49L1013.61 655.64L1014.12 654.95L1014.63 654.41L1015.14 654.28L1015.65 654.77L1016.16 655.57L1016.67 655.68L1017.17 655.02L1017.68 653.87L1018.19 652.67L1018.7 652L1019.21 651.97L1019.72 652.77L1020.23 653.82L1020.74 655.04L1021.24 655.87L1021.75 656.3L1022.26 656.65L1022.77 657.15L1023.28 657.76L1023.79 658.05L1024.3 658.43L1024.81 658.76L1025.32 658.64L1025.82 658.02L1026.33 657.38L1026.84 657.16L1027.35 657.42L1027.86 657.76L1028.37 658.05L1028.88 658.28L1029.39 658.71L1029.89 659.43L1030.4 659.78L1030.91 659.09L1031.42 657.2L1031.93 655.03L1032.44 653.69L1032.95 653.64L1033.46 654.76L1033.96 656.35L1034.47 657.51L1034.98 658.1L1035.49 658.2L1036 657.81L1036.51 656.95L1037.02 656.21L1037.53 655.75L1038.04 655.48L1038.54 655.5L1039.05 655.36L1039.56 655L1040.07 654.87L1040.58 655.12L1041.09 655.55L1041.6 655.97L1042.11 656.35L1042.61 656.66L1043.12 657.19L1043.63 658.09L1044.14 658.66L1044.65 658.62L1045.16 658.11L1045.67 657.28L1046.18 656.39L1046.68 655.7L1047.19 655.62L1047.7 656.21L1048.21 657.03L1048.72 657.73L1049.23 657.91L1049.74 657.91L1050.25 657.95L1050.76 658.24L1051.26 658.34L1051.77 657.75L1052.28 656.63L1052.79 655.21L1053.3 654.36L1053.81 654.47L1054.32 655.4L1054.83 656.6L1055.33 657.46L1055.84 657.9L1056.35 657.8L1056.86 657.26L1057.37 656.43L1057.88 655.58L1058.39 654.97L1058.9 654.61L1059.4 654.31L1059.91 653.68L1060.42 653.46L1060.93 653.99L1061.44 654.69L1061.95 655.39L1062.46 655.75L1062.97 655.61L1063.48 655.34L1063.98 655.52L1064.49 655.66L1065 655.8L1065.51 656.28L1066.02 656.6L1066.53 656.24L1067.04 655.13L1067.55 653.54L1068.05 652.18L1068.56 652.07L1069.07 653.12L1069.58 654.84L1070.09 656.52L1070.6 657.92L1071.11 658.75L1071.62 658.57L1072.12 657.48L1072.63 656.23L1073.14 655.55L1073.65 655.6L1074.16 656.24L1074.67 657.07L1075.18 657.52L1075.69 657.61L1076.2 657.85L1076.7 658.53L1077.21 659.44L1077.72 659.89L1078.23 659.12L1078.74 657.41L1079.25 655.95L1079.76 655.61L1080.27 655.96L1080.77 656.2L1081.28 656.1L1081.79 656.11L1082.3 656.8L1082.81 657.47L1083.32 657.25L1083.83 656.31L1084.34 655.43L1084.84 655.05L1085.35 655.25L1085.86 655.86L1086.37 656.57L1086.88 657.41L1087.39 658.47L1087.9 659.12L1088.41 658.74L1088.92 657.65L1089.42 656.44L1089.93 655.64L1090.44 655.93L1090.95 657.18L1091.46 658.51L1091.97 658.82L1092.48 657.65L1092.99 655.73L1093.49 654.12L1094 653.49L1094.51 654.06L1095.02 655.45L1095.53 657.1L1096.04 658.72L1096.55 659.8L1097.06 659.81L1097.56 658.96L1098.07 657.95L1098.58 657.1L1099.09 656.81L1099.6 656.89L1100.11 657L1100.62 656.8L1101.13 656.33L1101.64 655.76L1102.14 655.26L1102.65 654.69L1103.16 654.27L1103.67 654.09L1104.18 653.93L1104.69 653.78L1105.2 653.76L1105.71 654.01L1106.21 654.77L1106.72 656.47L1107.23 658.45L1107.74 659.72L1108.25 659.86L1108.76 658.7L1109.27 656.56L1109.78 654.3L1110.28 652.81L1110.79 652.49L1111.3 653.22L1111.81 654.7L1112.32 655.83L1112.83 656.06L1113.34 655.75L1113.85 655.53L1114.36 655.95L1114.86 657.01L1115.37 658.42L1115.88 659.5L1116.39 660.01L1116.9 659.9L1117.41 659.34L1117.92 658.42L1118.43 657.16L1118.93 656.19L1119.44 656.02L1119.95 656.53L1120.46 657.45L1120.97 658.25L1121.48 658.24L1121.99 657.29L1122.5 656.26L1123 655.78L1123.51 656.2L1124.02 657.22L1124.53 658.16L1125.04 658.16L1125.55 657.12L1126.06 656.23L1126.57 656.02L1127.08 656.15L1127.58 656.32L1128.09 656.13L1128.6 655.69L1129.11 655.63L1129.62 656.43L1130.13 657.69L1130.64 658.56L1131.15 658.48L1131.65 657.32L1132.16 655.96L1132.67 655.06L1133.18 654.84L1133.69 655.13L1134.2 655.34L1134.71 655.5L1135.22 656.06L1135.72 657.33L1136.23 658.76L1136.74 659.33L1137.25 658.39L1137.76 656.16L1138.27 654.37L1138.78 654.2L1139.29 655.14L1139.8 655.58L1140.3 654.56L1140.81 652.47L1141.32 650.48L1141.83 649.96L1142.34 650.65L1142.85 651.88L1143.36 653.12L1143.87 654.22L1144.37 655.22L1144.88 655.84L1145.39 655.77L1145.9 654.68L1146.41 653.3L1146.92 652.53L1147.43 653.05L1147.94 654.27L1148.44 655.15L1148.95 655.56L1149.46 655.64L1149.97 655.94L1150.48 656.78L1150.99 657.82L1151.5 658.45L1152.01 658.7L1152.52 658.74L1153.02 658.67L1153.53 658.86L1154.04 659.16L1154.55 659.05L1155.06 658.37L1155.57 657.38L1156.08 656.49L1156.59 656.04L1157.09 656.31L1157.6 657.25L1158.11 658.57L1158.62 659.56L1159.13 659.81L1159.64 659.3L1160.15 658.45L1160.66 657.31L1161.16 656.29L1161.67 655.79L1162.18 655.67L1162.69 656.2L1163.2 656.97L1163.71 657.65L1164.22 657.87L1164.73 658.05L1165.24 658.1L1165.74 657.86L1166.25 657.79L1166.76 658.03L1167.27 658.79L1167.78 659.47L1168.29 659.71L1168.8 659.35L1169.31 658.43L1169.81 657.15L1170.32 655.87L1170.83 654.54L1171.34 653.39L1171.85 653.43L1172.36 654.78L1172.87 656.5L1173.38 657.68L1173.88 658.17L1174.39 657.87L1174.9 657.25L1175.41 657L1175.92 657.33L1176.43 657.72L1176.94 657.88L1177.45 657.79L1177.96 657.01L1178.46 655.89L1178.97 655.33L1179.48 655.67L1179.99 656.16L1180.5 656.33L1181.01 656.33L1181.52 656.39L1182.03 656.9L1182.53 657.5L1183.04 657.91L1183.55 657.69L1184.06 657.17L1184.57 656.9L1185.08 656.96L1185.59 656.72L1186.1 656.05L1186.6 655.19L1187.11 654.49L1187.62 654.38L1188.13 655.23L1188.64 656.53L1189.15 657.6L1189.66 657.92L1190.17 657.44L1190.68 656.91L1191.18 656.95L1191.69 657.53L1192.2 658.38L1192.71 658.99L1193.22 658.48L1193.73 657.09L1194.24 655.6L1194.75 654.02L1195.25 652.46L1195.76 651.7L1196.27 651.97L1196.78 652.96L1197.29 654.58L1197.8 656.17L1198.31 657.12L1198.82 657.88L1199.32 658.84L1199.83 659.71L1200.34 660.15L1200.85 660.03L1201.36 659.17L1201.87 657.88L1202.38 656.44L1202.89 655.51L1203.4 655.36L1203.9 655.56L1204.41 655.58L1204.92 655.38L1205.43 654.75L1205.94 653.77L1206.45 653.12L1206.96 653.07L1207.47 653.35L1207.97 653.59L1208.48 653.6L1208.99 653.11L1209.5 652.99L1210.01 653.69L1210.52 654.46L1211.03 654.63L1211.54 654.63L1212.04 654.89L1212.55 655.5L1213.06 656.63L1213.57 657.68L1214.08 658.46L1214.59 658.98L1215.1 659.05L1215.61 658.66L1216.12 658.18L1216.62 657.71L1217.13 657.31L1217.64 657.27L1218.15 657.52L1218.66 657.81L1219.17 657.82L1219.68 657.18L1220.19 656.36L1220.69 656.33L1221.2 656.95L1221.71 657.46L1222.22 657.47L1222.73 656.84L1223.24 656.17L1223.75 655.94L1224.26 656.29L1224.76 657.13L1225.27 658.53L1225.78 659.8L1226.29 660.11L1226.8 659.71L1227.31 658.9L1227.82 658.05L1228.33 657.19L1228.84 655.7L1229.34 653.55L1229.85 651.39L1230.36 650.12L1230.87 650.32L1231.38 652.11L1231.89 654.85L1232.4 657.42L1232.91 659.25L1233.41 659.59L1233.92 658.9L1234.43 658.22L1234.94 658.15L1235.45 658.23L1235.96 657.79L1236.47 656.46L1236.98 654.71L1237.48 653.89L1237.99 654.38L1238.5 655.63L1239.01 656.94L1239.52 657.74L1240.03 657.96L1240.54 657.83L1241.05 657.69L1241.56 657.54L1242.06 657.29L1242.57 656.76L1243.08 655.92L1243.59 655.14L1244.1 654.54L1244.61 654.12L1245.12 653.78L1245.63 653.27L1246.13 652.52L1246.64 652.28L1247.15 652.71L1247.66 653.81L1248.17 655.39L1248.68 657.37L1249.19 659.02L1249.7 659.71L1250.2 659.52L1250.71 658.33L1251.22 656.71L1251.73 655.27L1252.24 654.49L1252.75 653.88L1253.26 653.6L1253.77 654.11L1254.28 654.9L1254.78 655.31L1255.29 655.17L1255.8 655.16L1256.31 655.54L1256.82 656.67L1257.33 657.98L1257.84 658.71L1258.35 658.59L1258.85 657.73L1259.36 656.44L1259.87 654.89L1260.38 653.62L1260.89 652.77L1261.4 652.52L1261.91 653.05L1262.42 654.5L1262.92 656.41L1263.43 658.14L1263.94 659.15L1264.45 659.15L1264.96 658.12L1265.47 656.18L1265.98 653.87L1266.49 652.13L1267 652.21L1267.5 653.92L1268.01 656.12L1268.52 657.76L1269.03 658.59L1269.54 658.8L1270.05 658.62L1270.56 657.7L1271.07 655.92L1271.57 653.62L1272.08 651.58L1272.59 650.44L1273.1 650.43L1273.61 651.48L1274.12 652.69L1274.63 653.5L1275.14 653.72L1275.64 653.8L1276.15 654.03L1276.66 654.96L1277.17 656.51L1277.68 658L1278.19 658.96L1278.7 659.19L1279.21 658.4L1279.72 657.07L1280.22 655.94L1280.73 655.46L1281.24 655.87L1281.75 657L1282.26 658.46L1282.77 659.57L1283.28 659.71L1283.79 658.48L1284.29 656.08L1284.8 653.79L1285.31 652.91L1285.82 653.8L1286.33 655.33L1286.84 656.09L1287.35 655.49L1287.86 654.24L1288.36 653.78L1288.87 654.6L1289.38 656.4L1289.89 657.97L1290.4 658.51L1290.91 657.71L1291.42 655.99L1291.93 654.16L1292.44 652.7L1292.94 652.2L1293.45 652.75L1293.96 654.12L1294.47 655.75L1294.98 656.95L1295.49 657.5L1296 657.31L1296.51 656.75L1297.01 655.73L1297.52 654.37L1298.03 653.1L1298.54 652.17L1299.05 652.05L1299.56 652.31L1300.07 652.56L1300.58 652.39L1301.08 651.42L1301.59 649.85L1302.1 648.87L1302.61 649.36L1303.12 651.19L1303.63 653.44L1304.14 655.04L1304.65 655.69L1305.16 656.47L1305.66 657.67L1306.17 658.84L1306.68 659.24L1307.19 658.88L1307.7 658.59L1308.21 658.72L1308.72 659L1309.23 658.74L1309.73 657.81L1310.24 656.53L1310.75 655.97L1311.26 656.39L1311.77 657.22L1312.28 658.04L1312.79 658.37L1313.3 658.15L1313.8 657.67L1314.31 657.63L1314.82 658.08L1315.33 658.57L1315.84 658.9L1316.35 658.78L1316.86 657.97L1317.37 656.31L1317.88 654.64L1318.38 653.42L1318.89 653.37L1319.4 654L1319.91 653.51L1320.42 651.26L1320.93 648.63L1321.44 647.75L1321.95 649.35L1322.45 652.58L1322.96 655.17L1323.47 655.97L1323.98 655.69L1324.49 655.41L1325 655.79L1325.51 656.15L1326.02 655.72L1326.52 654.48L1327.03 652.89L1327.54 651.47L1328.05 650.17L1328.56 648.88L1329.07 647.53L1329.58 646.91L1330.09 647.19L1330.6 646.85L1331.1 645.7L1331.61 644.27L1332.12 643.4L1332.63 643.57L1333.14 644.6L1333.65 645.07L1334.16 645.01L1334.67 645.39L1335.17 645.82L1335.68 646.16L1336.19 646.72L1336.7 647.97L1337.21 649.77L1337.72 652.28L1338.23 654.71L1338.74 656.31L1339.24 657.11L1339.75 657.47L1340.26 657.85L1340.77 658.1L1341.28 658.26L1341.79 658.24L1342.3 658.03L1342.81 657.76L1343.32 657.56L1343.82 656.62L1344.33 654.54L1344.84 651.71L1345.35 649.23L1345.86 647.94L1346.37 648.17L1346.88 649.39L1347.39 650.73L1347.89 651.92L1348.4 652.86L1348.91 653.48L1349.42 653.65L1349.93 653.43L1350.44 653.52L1350.95 653.98L1351.46 653.94L1351.96 652.92L1352.47 651.11L1352.98 649.57L1353.49 648.86" stroke="#ff0000" stroke-width="3.4" fill="none" stroke-linejoin="round" stroke-linecap="round"/></g>
<g clip-path="url(#c3)">
<path d="M84.54 1042.31L85.82 1042.22L87.09 1042.21L88.36 1042.1L89.63 1042.16L90.9 1042.15L92.18 1042.29L93.45 1042.45L94.72 1042.47L95.99 1042.52L97.26 1042.52L98.54 1042.53L99.81 1042.33L101.08 1042.27L102.35 1042L103.62 1041.86L104.9 1041.68L106.17 1041.8L107.44 1042.03L108.71 1042.31L109.98 1042.51L111.26 1042.5L112.53 1042.52L113.8 1042.43L115.07 1042.46L116.34 1042.55L117.62 1042.78L118.89 1042.58L120.16 1042.37L121.43 1041.96L122.7 1041.59L123.98 1041.47L125.25 1041.53L126.52 1041.69L127.79 1042.03L129.06 1042.43L130.34 1042.67L131.61 1042.82L132.88 1042.89L134.15 1042.87L135.42 1042.82L136.7 1042.65L137.97 1042.33L139.24 1042.07L140.51 1041.94L141.78 1041.99L143.06 1042.11L144.33 1042.39L145.6 1042.7L146.87 1042.81L148.14 1042.38L149.42 1042.08L150.69 1041.75L151.96 1041.62L153.23 1041.63L154.5 1041.9L155.78 1042.21L157.05 1042.59L158.32 1042.72L159.59 1042.62L160.86 1042.49L162.14 1042.32L163.41 1042.28L164.68 1042.32L165.95 1042.52L167.22 1042.65L168.5 1042.86L169.77 1042.9L171.04 1042.9L172.31 1042.85L173.58 1042.83L174.86 1042.83L176.13 1042.76L177.4 1042.73L178.67 1042.74L179.94 1042.82L181.22 1042.79L182.49 1042.89L183.76 1042.95L185.03 1042.9L186.3 1042.7L187.58 1042.55L188.85 1042.54L190.12 1042.55L191.39 1042.65L192.66 1042.86L193.94 1043.1L195.21 1043.07L196.48 1042.8L197.75 1042.63L199.02 1042.62L200.3 1042.57L201.57 1042.67L202.84 1042.91L204.11 1043.02L205.38 1042.96L206.66 1042.88L207.93 1042.72L209.2 1042.65L210.47 1042.66L211.74 1042.67L213.02 1042.63L214.29 1042.74L215.56 1042.83L216.83 1042.86L218.1 1042.9L219.38 1043.04L220.65 1043.01L221.92 1043.01L223.19 1042.89L224.46 1042.81L225.74 1042.65L227.01 1042.5L228.28 1042.4L229.55 1042.38L230.82 1042.43L232.1 1042.6L233.37 1042.79L234.64 1042.83L235.91 1042.98L237.18 1042.93L238.46 1042.94L239.73 1042.95L241 1043.04L242.27 1042.94L243.54 1043L244.82 1043L246.09 1043.01L247.36 1043.06L248.63 1043.21L249.9 1043.15L251.18 1043.15L252.45 1043.19L253.72 1043.14L254.99 1042.78L256.26 1042.32L257.54 1041.85L258.81 1041.8L260.08 1041.8L261.35 1041.96L262.62 1042.33L263.9 1042.95L265.17 1043.08L266.44 1043.05L267.71 1042.97L268.98 1042.84L270.26 1042.83L271.53 1042.59L272.8 1042.58L274.07 1042.58L275.34 1042.67L276.62 1042.65L277.89 1042.76L279.16 1042.74L280.43 1042.78L281.7 1042.73L282.98 1042.67L284.25 1042.53L285.52 1042.53L286.79 1042.55L288.06 1042.63L289.34 1042.75L290.61 1043.02L291.88 1043.11L293.15 1042.96L294.42 1042.81L295.7 1042.68L296.97 1042.56L298.24 1042.5L299.51 1042.6L300.78 1042.61L302.06 1042.76L303.33 1042.95L304.6 1043.06L305.87 1042.78L307.14 1042.63L308.42 1042.2L309.69 1041.87L310.96 1041.72L312.23 1041.5L313.5 1041.61L314.78 1041.86L316.05 1042.21L317.32 1042.28L318.59 1042.83L319.86 1042.89L321.14 1042.88L322.41 1042.84L323.68 1042.78L324.95 1042.66L326.22 1042.53L327.5 1042.38L328.77 1042.31L330.04 1042.43L331.31 1042.54L332.58 1042.61L333.86 1042.71L335.13 1042.62L336.4 1042.65L337.67 1042.68L338.94 1042.76L340.22 1042.87L341.49 1042.99L342.76 1042.78L344.03 1042.65L345.3 1042.42L346.58 1042.22L347.85 1042.08L349.12 1042.16L350.39 1042.17L351.66 1042.32L352.94 1042.56L354.21 1042.85L355.48 1042.8L356.75 1042.69L358.02 1042.59L359.3 1042.41L360.57 1042.32L361.84 1042.25L363.11 1042.19L364.38 1042.19L365.66 1042.35L366.93 1042.45L368.2 1042.67L369.47 1043.02L370.74 1043.16L372.02 1043.01L373.29 1042.93L374.56 1042.73L375.83 1042.6L377.1 1042.6L378.38 1042.56L379.65 1042.53L380.92 1042.62L382.19 1042.68L383.46 1042.7L384.74 1042.86L386.01 1042.97L387.28 1043.06L388.55 1043.13L389.82 1043.16L391.1 1043.08L392.37 1043.05L393.64 1042.92L394.91 1042.91L396.18 1042.92L397.46 1043.03L398.73 1043.05L400 1043.04L401.27 1043.03L402.54 1043.04L403.82 1042.98L405.09 1042.99L406.36 1043.02L407.63 1042.99L408.9 1042.96L410.18 1042.94L411.45 1042.64L412.72 1042.61L413.99 1042.57L415.26 1042.46L416.54 1042.23L417.81 1042.28L419.08 1042.33L420.35 1042.34L421.62 1042.34L422.9 1042.61L424.17 1042.8L425.44 1042.87L426.71 1042.95L427.98 1042.91L429.26 1042.8L430.53 1042.74L431.8 1042.74L433.07 1042.74L434.34 1042.78L435.62 1042.52L436.89 1042.38L438.16 1042.19L439.43 1042.07L440.7 1042.14L441.98 1042.46L443.25 1042.65L444.52 1042.89L445.79 1043.06L447.06 1043.09L448.34 1043.1L449.61 1043.18L450.88 1043.04L452.15 1042.86L453.42 1042.64L454.7 1042.62L455.97 1042.55L457.24 1042.65L458.51 1042.83L459.78 1043.02L461.06 1043.07L462.33 1043.03L463.6 1042.99L464.87 1042.87L466.14 1042.66L467.42 1042.26L468.69 1042.05L469.96 1042L471.23 1042.07L472.5 1042.26L473.78 1042.6L475.05 1043.06L476.32 1043.18L477.59 1043.13L478.86 1043.09L480.14 1043.08L481.41 1042.99L482.68 1042.9L483.95 1042.86L485.22 1042.88L486.5 1042.9L487.77 1042.93L489.04 1042.78L490.31 1042.57L491.58 1042.34L492.86 1042.06L494.13 1042.07L495.4 1042.2L496.67 1042.4L497.94 1042.54L499.22 1042.85L500.49 1042.85L501.76 1042.92L503.03 1042.9L504.3 1043L505.58 1043.13L506.85 1043.08L508.12 1043.04L509.39 1043.03L510.66 1042.92L511.94 1042.86L513.21 1042.79L514.48 1042.69L515.75 1042.66L517.02 1042.7L518.3 1042.76L519.57 1042.88L520.84 1042.95L522.11 1043.04L523.38 1043.03L524.66 1042.89L525.93 1042.87L527.2 1042.91L528.47 1042.78L529.74 1042.8L531.02 1042.92L532.29 1042.89L533.56 1042.86L534.83 1042.98L536.1 1042.89L537.38 1042.64L538.65 1042.49L539.92 1042.33L541.19 1042.15L542.46 1041.89L543.74 1041.83L545.01 1041.82L546.28 1041.81L547.55 1041.97L548.82 1042.33L550.1 1042.6L551.37 1042.74L552.64 1043L553.91 1043.02L555.18 1043.03L556.46 1043.05L557.73 1043.16L559 1043.21L560.27 1043.15L561.54 1043.13L562.82 1043.08L564.09 1043.03L565.36 1043L566.63 1042.83L567.9 1042.55L569.18 1042.55L570.45 1042.53L571.72 1042.52L572.99 1042.67L574.26 1042.98L575.54 1042.96L576.81 1043L578.08 1043.07L579.35 1043.06L580.62 1042.82L581.9 1042.6L583.17 1042.52L584.44 1042.5L585.71 1042.51L586.98 1042.67L588.26 1042.97L589.53 1042.97L590.8 1042.83L592.07 1042.77L593.34 1042.74L594.62 1042.72L595.89 1042.75L597.16 1042.72L598.43 1042.59L599.7 1042.43L600.98 1042.45L602.25 1042.52L603.52 1042.68L604.79 1042.78L606.06 1043.05L607.34 1043.07L608.61 1043.08L609.88 1043.07L611.15 1043.1L612.42 1043.07L613.7 1043.06L614.97 1043L616.24 1042.96L617.51 1043.05L618.78 1042.97L620.06 1042.94L621.33 1042.93L622.6 1042.97L623.87 1042.94L625.14 1042.85L626.42 1042.85L627.69 1042.88L628.96 1042.9L630.23 1042.8L631.5 1042.73L632.78 1042.64L634.05 1042.65L635.32 1042.64L636.59 1042.73L637.86 1042.91L639.14 1042.93L640.41 1042.78L641.68 1042.76L642.95 1042.65L644.22 1042.66L645.5 1042.74L646.77 1042.9L648.04 1042.84L649.31 1042.83L650.58 1042.75L651.86 1042.57L653.13 1042.54L654.4 1042.52L655.67 1042.56L656.94 1042.72L658.22 1042.94L659.49 1042.97L660.76 1042.86L662.03 1042.89L663.3 1042.85L664.58 1042.82L665.85 1042.71L667.12 1042.78L668.39 1042.86L669.66 1042.89L670.94 1042.9L672.21 1043.01L673.48 1043.16L674.75 1043.11L676.02 1043.06L677.3 1043.04L678.57 1042.9L679.84 1042.87L681.11 1042.87L682.38 1042.85L683.66 1042.77L684.93 1042.88L686.2 1042.9L687.47 1042.92L688.74 1042.94L690.02 1043.05L691.29 1043.08L692.56 1043.12L693.83 1043.17L695.1 1043.15L696.38 1043.08L697.65 1042.98L698.92 1042.97L700.19 1042.99L701.46 1043.04L702.74 1043.03L704.01 1043.07L705.28 1042.96L706.55 1042.6L707.82 1041.32L709.1 1041.2L710.37 1041.11L711.64 1041.11L712.91 1041.26L714.18 1042.45L715.46 1042.71L716.73 1042.94L718 1043.04L719.27 1043.01L720.54 1043L721.82 1042.99L723.09 1043.08L724.36 1043.09L725.63 1043.05L726.9 1043.11L728.18 1043.07L729.45 1043.03L730.72 1043.03L731.99 1043.02L733.26 1043.04L734.54 1043.11L735.81 1043.04L737.08 1042.89L738.35 1042.71L739.62 1042.6L740.9 1042.57L742.17 1042.6L743.44 1042.69L744.71 1042.84L745.98 1042.96L747.26 1043.04L748.53 1043.05L749.8 1043.03L751.07 1043.1L752.34 1043.09L753.62 1043.05L754.89 1043.05L756.16 1043.04L757.43 1043.04L758.7 1043.03L759.98 1042.9L761.25 1042.77L762.52 1042.76L763.79 1042.71L765.06 1042.7L766.34 1042.8L767.61 1042.95L768.88 1042.98L770.15 1042.99L771.42 1043L772.7 1042.98L773.97 1042.99L775.24 1043.03L776.51 1043.04L777.78 1043.11L779.06 1043.13L780.33 1043.05L781.6 1043.04L782.87 1043.06L784.14 1043.02L785.42 1042.99L786.69 1043.06L787.96 1043.04L789.23 1042.99L790.5 1042.94L791.78 1042.92L793.05 1042.88L794.32 1042.87L795.59 1042.91L796.86 1042.92L798.14 1042.96L799.41 1042.86L800.68 1042.9L801.95 1042.93L803.22 1042.95L804.5 1042.97L805.77 1043.1L807.04 1043.07L808.31 1042.97L809.58 1042.96L810.86 1042.84L812.13 1042.86L813.4 1042.87L814.67 1042.93L815.94 1042.95L817.22 1043.09L818.49 1043.04L819.76 1043.01L821.03 1043.04L822.3 1043.03L823.58 1042.98L824.85 1042.97L826.12 1042.95L827.39 1042.97L828.66 1042.99L829.94 1043L831.21 1043.04L832.48 1043.08L833.75 1043.01L835.02 1042.98L836.3 1043L837.57 1042.96L838.84 1042.95L840.11 1042.99L841.38 1043.01L842.66 1043.04L843.93 1043.11L845.2 1043.15L846.47 1043.12L847.74 1043.12L849.02 1043.04L850.29 1043L851.56 1042.94L852.83 1042.88L854.1 1042.81L855.38 1042.86L856.65 1042.87L857.92 1042.93L859.19 1043L860.46 1043L861.74 1042.92L863.01 1042.91L864.28 1042.89L865.55 1042.9L866.82 1042.98L868.1 1042.98L869.37 1042.98L870.64 1043L871.91 1043.02L873.18 1043.07L874.46 1043.12L875.73 1043.09L877 1043.06L878.27 1043.02L879.54 1042.93L880.82 1042.9L882.09 1042.92L883.36 1042.93L884.63 1042.95L885.9 1042.98L887.18 1043.09L888.45 1043.09L889.72 1043.12L890.99 1043.1L892.26 1043.05L893.54 1042.97L894.81 1042.96L896.08 1042.94L897.35 1042.93L898.62 1042.85L899.9 1042.88L901.17 1042.91L902.44 1042.87L903.71 1042.8L904.98 1042.92L906.26 1042.95L907.53 1042.95L908.8 1042.96L910.07 1043.06L911.34 1043.07L912.62 1043.08L913.89 1043.07L915.16 1043.1L916.43 1043.13L917.7 1043.1L918.98 1043.01L920.25 1043.03L921.52 1043.03L922.79 1042.99L924.06 1042.99L925.34 1043.01L926.61 1043L927.88 1043.01L929.15 1043.01L930.42 1042.98L931.7 1042.95L932.97 1042.98L934.24 1042.96L935.51 1042.91L936.78 1042.91L938.06 1042.97L939.33 1042.98L940.6 1042.88L941.87 1042.94L943.14 1042.99L944.42 1043L945.69 1042.94L946.96 1043.01L948.23 1042.97L949.5 1042.93L950.78 1042.86L952.05 1042.88L953.32 1042.93L954.59 1042.94L955.86 1042.88L957.14 1042.89L958.41 1042.88L959.68 1042.86L960.95 1042.91L962.22 1043L963.5 1042.99L964.77 1042.88L966.04 1042.78L967.31 1042.69L968.58 1042.65L969.86 1042.7L971.13 1042.79L972.4 1042.88L973.67 1042.99L974.94 1043.02L976.22 1042.99L977.49 1043L978.76 1043.01L980.03 1042.97L981.3 1042.99L982.58 1042.99L983.85 1043.02L985.12 1042.99L986.39 1042.94L987.66 1042.81L988.94 1042.81L990.21 1042.74L991.48 1042.71L992.75 1042.71L994.02 1042.83L995.3 1042.86L996.57 1042.86L997.84 1042.9L999.11 1042.91L1000.38 1042.81L1001.66 1042.76L1002.93 1042.81L1004.2 1042.81L1005.47 1042.86L1006.74 1042.96L1008.02 1042.97L1009.29 1042.98L1010.56 1042.98L1011.83 1042.92L1013.1 1042.87L1014.38 1042.93L1015.65 1042.82L1016.92 1042.77L1018.19 1042.75L1019.46 1042.78L1020.74 1042.76L1022.01 1042.87L1023.28 1042.97L1024.55 1043.01L1025.82 1043.05L1027.1 1043.06L1028.37 1043.08L1029.64 1043L1030.91 1043L1032.18 1042.99L1033.46 1042.98L1034.73 1042.92L1036 1042.94L1037.27 1042.93L1038.54 1042.9L1039.82 1042.87L1041.09 1042.9L1042.36 1042.94L1043.63 1042.97L1044.9 1042.93L1046.18 1043L1047.45 1042.98L1048.72 1042.99L1049.99 1042.97L1051.26 1042.97L1052.54 1042.95L1053.81 1042.98L1055.08 1042.94L1056.35 1042.9L1057.62 1042.91L1058.9 1042.85L1060.17 1042.8L1061.44 1042.8L1062.71 1042.83L1063.98 1042.87L1065.26 1042.8L1066.53 1042.77L1067.8 1042.79L1069.07 1042.84L1070.34 1042.79L1071.62 1042.91L1072.89 1043L1074.16 1042.97L1075.43 1043L1076.7 1042.99L1077.98 1043.02L1079.25 1042.98L1080.52 1043.03L1081.79 1042.91L1083.06 1042.97L1084.34 1042.92L1085.61 1042.97L1086.88 1042.94L1088.15 1042.98L1089.42 1043.02L1090.7 1042.99L1091.97 1042.92L1093.24 1042.95L1094.51 1043.01L1095.78 1042.96L1097.06 1043.03L1098.33 1043.06L1099.6 1043L1100.87 1042.89L1102.14 1042.89L1103.42 1042.79L1104.69 1042.81L1105.96 1042.87L1107.23 1042.87L1108.5 1042.83L1109.78 1042.9L1111.05 1042.86L1112.32 1042.82L1113.59 1042.92L1114.86 1043.02L1116.14 1043.02L1117.41 1043.04L1118.68 1043.05L1119.95 1043.02L1121.22 1042.96L1122.5 1042.99L1123.77 1042.98L1125.04 1042.93L1126.31 1042.87L1127.58 1042.9L1128.86 1042.93L1130.13 1042.93L1131.4 1042.94L1132.67 1042.97L1133.94 1043L1135.22 1042.94L1136.49 1042.91L1137.76 1042.91L1139.03 1042.78L1140.3 1042.7L1141.58 1042.68L1142.85 1042.73L1144.12 1042.67L1145.39 1042.78L1146.66 1042.8L1147.94 1042.83L1149.21 1042.85L1150.48 1042.96L1151.75 1043.01L1153.02 1043.05L1154.3 1043.06L1155.57 1043.03L1156.84 1043.07L1158.11 1043.04L1159.38 1042.99L1160.66 1043.01L1161.93 1043.01L1163.2 1042.99L1164.47 1043L1165.74 1043.1L1167.02 1043.05L1168.29 1042.98L1169.56 1042.88L1170.83 1042.91L1172.1 1042.86L1173.38 1042.87L1174.65 1042.92L1175.92 1043.01L1177.19 1042.91L1178.46 1042.89L1179.74 1042.92L1181.01 1042.93L1182.28 1042.93L1183.55 1042.99L1184.82 1042.95L1186.1 1042.94L1187.37 1042.94L1188.64 1042.92L1189.91 1042.92L1191.18 1043L1192.46 1042.92L1193.73 1042.77L1195 1042.78L1196.27 1042.79L1197.54 1042.82L1198.82 1042.92L1200.09 1043.06L1201.36 1043.06L1202.63 1042.98L1203.9 1042.86L1205.18 1042.75L1206.45 1042.71L1207.72 1042.68L1208.99 1042.68L1210.26 1042.73L1211.54 1042.83L1212.81 1042.92L1214.08 1042.99L1215.35 1043.04L1216.62 1043.08L1217.9 1042.99L1219.17 1042.98L1220.44 1042.95L1221.71 1042.93L1222.98 1042.95L1224.26 1043.03L1225.53 1043.05L1226.8 1043.01L1228.07 1042.88L1229.34 1042.81L1230.62 1042.83L1231.89 1042.79L1233.16 1042.88L1234.43 1042.98L1235.7 1042.97L1236.98 1042.93L1238.25 1042.95L1239.52 1042.93L1240.79 1042.95L1242.06 1042.92L1243.34 1042.88L1244.61 1042.76L1245.88 1042.75L1247.15 1042.82L1248.42 1042.88L1249.7 1042.89L1250.97 1042.89L1252.24 1042.9L1253.51 1042.8L1254.78 1042.83L1256.06 1042.88L1257.33 1042.93L1258.6 1042.88L1259.87 1042.85L1261.14 1042.86L1262.42 1042.87L1263.69 1042.79L1264.96 1042.77L1266.23 1042.85L1267.5 1042.85L1268.78 1042.77L1270.05 1042.79L1271.32 1042.77L1272.59 1042.71L1273.86 1042.65L1275.14 1042.71L1276.41 1042.84L1277.68 1042.91L1278.95 1042.95L1280.22 1043.03L1281.5 1043.02L1282.77 1042.89L1284.04 1042.92L1285.31 1042.88L1286.58 1042.83L1287.86 1042.85L1289.13 1042.91L1290.4 1042.84L1291.67 1042.86L1292.94 1042.9L1294.22 1042.86L1295.49 1042.83L1296.76 1042.79L1298.03 1042.77L1299.3 1042.61L1300.58 1042.54L1301.85 1042.57L1303.12 1042.66L1304.39 1042.75L1305.66 1042.92L1306.94 1043.05L1308.21 1043.04L1309.48 1043.06L1310.75 1043.04L1312.02 1043.01L1313.3 1043.01L1314.57 1043.05L1315.84 1042.9L1317.11 1042.85L1318.38 1042.64L1319.66 1042.56L1320.93 1042.56L1322.2 1042.61L1323.47 1042.65L1324.74 1042.66L1326.02 1042.57L1327.29 1042.4L1328.56 1042.19L1329.83 1042.05L1331.1 1042.04L1332.38 1042.02L1333.65 1041.98L1334.92 1042.12L1336.19 1042.25L1337.46 1042.42L1338.74 1042.62L1340.01 1042.87L1341.28 1043.01L1342.55 1042.85L1343.82 1042.67L1345.1 1042.58L1346.37 1042.53" stroke="#0072BD" stroke-width="3.3" fill="none" stroke-linejoin="round"/>
<path d="M84.58 890.14L86.49 887.28L87.44 893L88.97 878.12L89.92 897.77L91.26 893L92.78 873.35L94.12 881.55L95.07 914.93L96.98 909.21L98.89 934.96L100.8 904.44L102.7 856.76L104.04 854.85L105.18 839.97L106.52 854.85L108.04 881.55L109.38 927.33L110.33 929.24L111.86 932.1L113.57 904.44L115.48 894.9L117.01 906.35L119.49 915.5L121.4 889.18L123.3 837.68L125.59 806.83L127.5 837.68L129.41 894.9L131.31 942.59L133.22 957.47L135.51 940.68L137.99 908.26L139.51 870.11L142.19 861.53L143.71 885.37L145.62 938.77L147.14 953.65L148.48 923.51L150.39 862.48L152.29 840.54L153.82 852.94L155.16 889.18L157.06 919.7L158.97 929.81L159.92 913.98L161.45 902.15L162.78 908.26L164.69 912.07L166.6 927.33L168.89 940.68L170.41 929.24L171.75 924.47L173.28 933.05L175.18 925.8L176.14 936.87L178.04 950.22L179.95 930.19L181.29 940.68L182.81 948.31L184.34 938.77L186.63 935.91L189.49 927.71L191.4 942.59L193.3 957.85L194.64 960.71L196.16 940.68L198.07 932.48L200.36 934.96L202.27 961.66L204.56 974.63L206.65 942.59L208.56 930.19L210.47 934.96L212.38 942.59L214.28 937.82L216.35 937.82L218.26 954.03L220.17 973.11L221.5 976.92L223.03 961.66L224.93 933.05L226.84 913.98L228.75 908.26L230.66 919.7L232.56 936.87L234.47 948.31L236.38 954.99L238.29 952.13L240.19 950.22L241.72 943.54L243.05 952.13L244.39 962.62L246.49 966.43L248.01 976.54L249.73 969.29L251.64 968.34L252.97 969.29L254.5 955.94L256.02 946.4L257.36 908.26L259.27 883.46L261.17 900.63L263.08 934.96L264.99 957.85L266.9 961.66L268.23 953.08L269.76 952.13L271.28 929.24L273.19 924.47L275.1 923.51L276.43 934.96L277.39 954.03L278.72 954.03L280.25 929.24L282.16 912.07L283.49 906.35L285.02 915.89L286.92 929.24L288.83 946.4L290.74 955.94L292.26 963.95L293.79 954.03L295.13 952.13L296.46 927.33L297.8 917.79L299.32 923.51L300.28 938.77L301.42 932.1L302.18 954.03L304.09 953.08L305.43 949.26L307.33 953.08L308.48 912.07L310.19 862.48L311.72 839.59L313.05 825.29L314.58 839.59L316.11 877.74L317.44 912.07L318.78 940.68L319.92 942.59L321.26 935.91L322.59 948.31L324.12 954.41L326.02 936.87L327.93 915.89L329.46 913.98L330.79 912.07L332.32 923.51L334.23 952.13L335.56 936.87L338.01 934.96L339.92 940.68L341.86 956.89L343.73 940.68L345.26 913.98L346.78 885.37L348.5 879.65L350.03 889.18L351.55 908.26L353.27 947.36L354.8 940.68L356.7 927.33L358.23 928.28L359.95 908.26L362.04 891.09L363.38 902.53L365.29 905.4L366.81 927.33L368.53 961.66L371.01 970.25L372.92 957.85L375.4 940.68L377.3 921.61L379.21 931.14L381.5 932.1L383.02 942.59L384.74 954.03L387.22 961.66L390.08 969.29L391.99 955.94L393.9 953.08L396.19 959.75L397.71 969.29L400.57 975.97L403.43 969.29L405.34 952.13L408.2 956.89L410.11 949.26L412.02 944.5L413.54 912.07L415.26 909.21L416.78 916.84L418.69 905.4L420.6 907.3L422.51 912.07L424.03 934.96L425.37 967.38L427.28 988.37L428.8 961.66L430.52 948.31L432.43 931.14L434.33 954.03L435.86 933.05L437.77 910.16L439.67 901.58L441.2 904.44L443.11 927.33L445.01 954.03L446.73 961.66L448.64 955.94L450.16 968.34L452.07 955.94L453.98 940.68L456.27 934.96L458.17 946.4L460.27 950.22L461.61 960.71L463.51 954.03L465.42 942.59L467.11 913.98L468.44 898.72L469.24 895.86L470.35 893.95L471.88 904.44L473.59 934.96L475.12 957.85L477.03 969.29L478.93 973.49L480.84 974.06L482.75 965.48L484.28 949.26L486.18 946.4L488.47 952.13L490.38 934.96L492.29 898.72L494.19 887.28L496.1 896.81L497.63 915.89L499.34 954.03L501.25 956.89L502.4 947.36L504.68 952.13L506.97 949.26L508.5 959.75L510.41 963.57L511.93 955.94L512.89 931.14L514.22 919.7L515.56 913.02L517.08 919.7L518.42 942.59L519.94 961.66L521.47 974.06L523.19 961.66L525.28 950.22L527.57 939.73L529.48 950.22L531.39 950.22L532.72 961.66L534.25 968.34L535.58 959.75L537.11 931.14L539.02 889.18L540.92 870.11L542.26 851.04L544.17 845.31L545.31 858.66L546.65 879.65L548.55 898.72L549.51 934.96L550.46 967.38L552.37 959.75L555.23 959.75L557.14 971.2L559.04 980.74L561.33 985.5L563.81 975.01L565.72 959.75L567.25 946.4L569.15 919.7L570.87 913.98L572.4 925.42L573.92 942.59L575.64 961.66L577.16 968.34L579.07 963.57L580.6 962.62L581.93 946.4L583.46 936.87L584.79 930.19L586.7 929.24L588.23 946.4L590.13 955.94L591.47 946.4L592.42 934.96L594.33 936.87L595.28 945.45L596.24 931.14L597.35 931.14L599.26 926.38L601.55 921.61L602.69 929.24L604.03 952.13L605.93 959.75L607.84 971.2L609.37 975.01L611.66 972.15L613.56 961.66L615.09 954.03L616.81 952.13L618.33 955.94L619.86 967.38L621.77 962.62L623.67 954.03L625.58 932.1L626.92 938.77L628.25 948.31L630.35 951.17L632.26 940.68L634.16 930.19L635.88 942.59L637.41 954.03L638.74 960.71L640.27 950.22L642.17 929.24L644.08 924.47L645.61 934.96L646.94 952.13L647.9 962.62L649.42 952.13L650.76 923.51L652.28 913.02L654 917.79L655.53 927.33L656.86 934.96L658.39 954.03L660.29 955.94L661.63 946.4L662.77 952.13L664.11 962.62L665.44 942.59L666.59 934.96L667.92 948.31L670.21 949.26L671.74 965.48L673.07 974.06L674.6 967.38L676.51 969.29L678.41 954.03L680.32 951.17L682.23 946.4L684.14 940.68L686.04 952.13L687.57 957.85L689.29 953.08L690.81 963.57L692.72 966.43L694.25 967.38L695.77 972.15L697.11 959.75L698.44 965.48L701.3 966.43L703.21 966.43L704.54 947.36L706.07 946.4L707.22 950.22L707.98 904.44L709.5 859.62L710.84 866.29L712.17 872.02L713.7 873.92L715.23 954.03L716.56 975.01L717.51 978.83L719.58 975.97L720.92 978.83L722.44 970.25L724.35 978.83L726.26 984.55L728.17 978.83L730.07 975.97L731.98 969.29L733.89 962.62L735.8 957.85L737.32 946.4L738.66 936.87L740.56 935.34L742.47 934.96L743.81 940.68L745.71 954.03L747.62 961.66L749.53 971.2L751.05 977.87L752.96 980.74L755.25 988.37L756.78 982.64L758.11 973.11L760.21 961.66L761.54 940.68L763.07 929.24L764.79 940.68L766.69 950.22L767.65 967.38L769.75 971.2L771.65 973.11L773.94 967.38L775.85 975.97L778.14 971.2L779.66 976.92L781 980.74L782.53 969.29L783.86 963.57L785.77 963.57L787.68 971.2L789.2 973.11L791.11 961.66L793.02 952.13L794.92 952.13L796.83 956.89L798.74 947.36L800.65 948.31L802.55 961.66L804.46 973.11L806.37 976.92L807.89 961.66L809.23 954.99L811.14 955.94L813.62 957.85L815.33 968.34L817.81 961.66L819.72 971.2L821.63 967.38L823.15 963.57L825.44 963.57L827.35 956.89L828.87 965.48L830.78 969.29L833.07 954.03L835.36 947.36L837.27 959.75L839.17 974.06L841.65 971.2L843.56 963.57L845.25 962.62L846.58 971.2L848.33 985.5L850.02 982.64L851.35 961.66L852.88 948.31L854.78 945.45L856.5 952.13L858.03 969.29L859.93 975.01L861.84 961.66L863.37 951.17L865.28 954.03L866.61 965.48L868.52 978.83L870.04 984.55L871.38 978.83L872.33 970.25L874.62 973.11L877.1 964.52L878.63 968.34L879.96 957.85L881.49 952.13L883.4 957.85L885.68 961.66L887.59 971.2L889.12 978.83L890.83 980.74L892.93 977.87L894.65 969.29L896.17 955.94L897.7 951.17L899.61 950.22L901.51 941.63L903.42 951.17L905.71 950.22L907.62 961.66L909.53 971.2L911.43 976.54L913.34 967.38L915.25 963.57L917.16 962.62L919.06 965.48L920.59 967.38L922.5 958.8L924.4 957.85L926.31 961.66L928.6 968.34L930.51 965.48L932.41 948.31L934.7 941.63L936.61 952.13L938.52 956.89L941 958.8L942.9 950.22L944.43 949.26L946.34 954.99L948.25 953.08L950.53 953.08L952.44 949.26L953.97 954.03L955.87 956.89L957.78 951.17L960.07 954.03L961.6 957.85L962.93 963.57L964.84 957.85L966.17 940.68L967.7 932.1L969.61 931.14L970.72 940.68L972.25 959.75L973.96 974.06L975.33 967.38L976.83 965.48L978.35 959.75L980.26 957.85L982.55 961.66L985.03 964.52L986.55 954.03L988.46 946.4L990.37 938.77L992.28 941.63L993.61 941.63L995.52 952.13L997.04 958.8L998.38 948.31L1000.29 948.31L1002.19 943.54L1003.72 941.63L1005.05 954.03L1006.96 962.62L1008.87 967.38L1010.78 957.85L1012.68 948.31L1014.97 941.63L1016.88 946.4L1018.79 941.63L1020.89 950.22L1022.79 953.08L1024.13 954.03L1026.04 972.15L1027.94 969.29L1030.23 975.01L1032.33 959.75L1034.62 954.03L1036.53 946.4L1038.43 948.31L1040.34 952.13L1042.25 954.03L1044.16 961.66L1046.06 965.48L1047.97 957.85L1049.88 952.13L1051.78 951.17L1053.69 957.85L1055.6 956.89L1057.13 946.4L1059.03 943.54L1061.32 947.36L1063.61 946.4L1065.52 944.5L1068 941.63L1069.9 954.99L1071.81 955.94L1073.72 953.08L1075.63 955.94L1077.53 957.85L1079.44 959.75L1081.35 965.48L1083.26 952.13L1085.16 951.17L1087.45 949.26L1089.93 962.62L1092.41 954.99L1094.7 955.94L1096.61 961.66L1098.9 970.25L1100.8 957.85L1102.33 946.4L1104.24 943.54L1106.31 945.45L1108.21 952.13L1110.12 954.03L1112.03 948.31L1113.36 947.36L1115.27 955.94L1116.8 964.52L1118.32 968.34L1120.23 963.57L1122.52 957.85L1124.04 954.03L1125.95 960.71L1127.86 955.94L1129.77 954.03L1132.05 948.31L1133.58 952.13L1134.92 957.85L1136.82 950.22L1138.73 940.68L1140.64 936.87L1142.93 933.43L1145.02 937.82L1147.31 941.63L1148.84 952.13L1150.75 957.85L1153.04 960.71L1154.56 967.38L1156.28 973.11L1158.38 970.25L1160.28 963.57L1162.19 960.71L1164.1 967.38L1166.01 971.2L1167.91 965.48L1169.82 957.85L1171.73 953.08L1174.02 953.08L1176.88 955.94L1178.78 960.71L1180.69 956.89L1183.17 954.03L1185.08 944.5L1186.8 952.13L1189.28 963.57L1191.56 961.66L1193.47 946.4L1195.38 934.96L1197.29 946.4L1199.77 963.57L1202.05 968.34L1203.96 959.75L1205.87 940.68L1207.78 931.14L1209.87 933.05L1211.59 942.59L1213.12 959.75L1215.02 962.62L1216.93 960.71L1218.27 956.89L1220.17 959.75L1222.65 960.71L1224.94 963.57L1226.68 954.99L1228.58 950.22L1230.66 949.26L1232.97 951.17L1234.88 950.22L1236.78 954.03L1238.5 949.26L1240.03 957.85L1241.93 953.08L1243.84 948.31L1246.13 942.59L1247.66 948.31L1249.56 949.26L1251.47 947.36L1253.95 949.26L1255.86 953.08L1258.15 953.08L1260.05 951.17L1261.58 942.59L1263.49 947.36L1265.4 949.26L1266.73 948.31L1268.07 956.89L1269.59 955.94L1271.12 939.73L1273.02 936.87L1274.36 934.01L1276.27 941.63L1278.17 955.94L1280.08 963.57L1281.99 957.85L1283.9 955.94L1285.8 948.31L1287.33 945.45L1289.24 950.22L1291.14 951.17L1293.05 944.5L1294.39 945.45L1295.91 951.17L1297.82 940.68L1299.73 923.51L1302.02 927.33L1303.54 940.68L1305.26 948.31L1306.4 969.29L1308.31 969.29L1310.03 965.48L1311.55 973.11L1313.46 978.83L1314.99 981.69L1316.89 969.29L1318.23 948.31L1319.56 931.14L1321.09 929.24L1322.43 936.87L1323.95 954.99L1325.86 940.68L1327.77 931.14L1329.1 908.26L1330.25 879.65L1331.58 887.28L1332.92 897.77L1334.44 882.51L1335.78 904.44L1337.3 936.87L1338.64 954.03L1340.16 973.11L1342.07 975.01L1343.6 952.13L1344.93 934.96L1345.89 928.28L1347.41 929.24" stroke="#DF5500" stroke-width="3.3" fill="none" stroke-linejoin="round"/>
<path d="M84.54 1042.46L85.82 1042.44L87.09 1042.47L88.36 1042.4L89.63 1042.48L90.9 1042.5L92.18 1042.37L93.45 1042.33L94.72 1042.59L95.99 1042.68L97.26 1042.69L98.54 1042.86L99.81 1042.76L101.08 1042.53L102.35 1042.22L103.62 1042.11L104.9 1042L106.17 1042.07L107.44 1042.27L108.71 1042.6L109.98 1042.85L111.26 1042.87L112.53 1042.77L113.8 1042.59L115.07 1042.53L116.34 1042.57L117.62 1042.65L118.89 1042.69L120.16 1042.62L121.43 1042.44L122.7 1042.1L123.98 1041.85L125.25 1041.67L126.52 1041.78L127.79 1042.02L129.06 1042.41L130.34 1042.74L131.61 1043.01L132.88 1043.11L134.15 1043.07L135.42 1042.97L136.7 1042.81L137.97 1042.65L139.24 1042.33L140.51 1042.23L141.78 1042.19L143.06 1042.31L144.33 1042.59L145.6 1042.94L146.87 1043.07L148.14 1042.87L149.42 1042.5L150.69 1042.15L151.96 1042L153.23 1042.04L154.5 1042.28L155.78 1042.55L157.05 1042.75L158.32 1042.82L159.59 1042.75L160.86 1042.63L162.14 1042.61L163.41 1042.66L164.68 1042.68L165.95 1042.78L167.22 1042.87L168.5 1042.94L169.77 1042.9L171.04 1042.83L172.31 1042.84L173.58 1042.88L174.86 1042.83L176.13 1042.93L177.4 1043.02L178.67 1043L179.94 1042.86L181.22 1042.96L182.49 1043.03L183.76 1042.98L185.03 1042.94L186.3 1042.92L187.58 1042.89L188.85 1042.86L190.12 1042.89L191.39 1042.99L192.66 1043.09L193.94 1043.15L195.21 1043.09L196.48 1042.95L197.75 1042.9L199.02 1042.9L200.3 1042.91L201.57 1043.08L202.84 1043.21L204.11 1043.28L205.38 1043.18L206.66 1042.99L207.93 1042.9L209.2 1042.88L210.47 1042.91L211.74 1042.96L213.02 1042.97L214.29 1042.94L215.56 1042.94L216.83 1042.98L218.1 1043.09L219.38 1043.21L220.65 1043.3L221.92 1043.29L223.19 1043.15L224.46 1042.96L225.74 1042.81L227.01 1042.69L228.28 1042.66L229.55 1042.69L230.82 1042.77L232.1 1042.89L233.37 1042.98L234.64 1043.05L235.91 1043.09L237.18 1043.1L238.46 1043.08L239.73 1043.07L241 1043.03L242.27 1043.03L243.54 1043.12L244.82 1043.19L246.09 1043.22L247.36 1043.28L248.63 1043.3L249.9 1043.25L251.18 1043.25L252.45 1043.25L253.72 1043.19L254.99 1043.09L256.26 1042.96L257.54 1042.62L258.81 1042.45L260.08 1042.47L261.35 1042.6L262.62 1042.83L263.9 1043.01L265.17 1043.14L266.44 1043.17L267.71 1043.12L268.98 1043.09L270.26 1043.01L271.53 1042.85L272.8 1042.81L274.07 1042.8L275.34 1042.82L276.62 1042.95L277.89 1043.1L279.16 1043.03L280.43 1042.84L281.7 1042.72L282.98 1042.65L284.25 1042.67L285.52 1042.75L286.79 1042.84L288.06 1042.95L289.34 1043.05L290.61 1043.11L291.88 1043.18L293.15 1043.14L294.42 1043.09L295.7 1042.98L296.97 1042.8L298.24 1042.75L299.51 1042.83L300.78 1042.92L302.06 1043.06L303.33 1043.09L304.6 1043.08L305.87 1043.06L307.14 1043.09L308.42 1042.7L309.69 1042.33L310.96 1042.07L312.23 1041.9L313.5 1041.86L314.78 1042L316.05 1042.32L317.32 1042.65L318.59 1042.93L319.86 1042.98L321.14 1042.93L322.41 1043.03L323.68 1043.09L324.95 1043.03L326.22 1042.91L327.5 1042.77L328.77 1042.71L330.04 1042.69L331.31 1042.72L332.58 1042.83L333.86 1043.03L335.13 1042.98L336.4 1042.92L337.67 1042.91L338.94 1042.94L340.22 1042.99L341.49 1043.1L342.76 1043.05L344.03 1042.91L345.3 1042.69L346.58 1042.45L347.85 1042.38L349.12 1042.4L350.39 1042.5L351.66 1042.67L352.94 1042.96L354.21 1042.99L355.48 1042.92L356.75 1042.83L358.02 1042.84L359.3 1042.72L360.57 1042.59L361.84 1042.49L363.11 1042.56L364.38 1042.6L365.66 1042.67L366.93 1042.86L368.2 1043.11L369.47 1043.21L370.74 1043.25L372.02 1043.2L373.29 1043.11L374.56 1043.02L375.83 1042.92L377.1 1042.8L378.38 1042.83L379.65 1042.87L380.92 1042.88L382.19 1042.93L383.46 1043.02L384.74 1043.1L386.01 1043.14L387.28 1043.18L388.55 1043.21L389.82 1043.25L391.1 1043.18L392.37 1043.11L393.64 1043.09L394.91 1043.12L396.18 1043.16L397.46 1043.24L398.73 1043.28L400 1043.31L401.27 1043.3L402.54 1043.27L403.82 1043.22L405.09 1043.1L406.36 1043.1L407.63 1043.12L408.9 1043.1L410.18 1043.05L411.45 1043.02L412.72 1042.86L413.99 1042.67L415.26 1042.65L416.54 1042.72L417.81 1042.67L419.08 1042.62L420.35 1042.63L421.62 1042.66L422.9 1042.74L424.17 1042.94L425.44 1043.24L426.71 1043.38L427.98 1043.32L429.26 1043.14L430.53 1043.04L431.8 1042.93L433.07 1042.95L434.34 1043.1L435.62 1042.92L436.89 1042.77L438.16 1042.64L439.43 1042.59L440.7 1042.6L441.98 1042.7L443.25 1042.85L444.52 1043.03L445.79 1043.13L447.06 1043.17L448.34 1043.13L449.61 1043.2L450.88 1043.2L452.15 1043.11L453.42 1043.01L454.7 1042.95L455.97 1042.92L457.24 1042.97L458.51 1043.03L459.78 1043.05L461.06 1043.12L462.33 1043.14L463.6 1043.1L464.87 1043.02L466.14 1042.86L467.42 1042.66L468.69 1042.54L469.96 1042.51L471.23 1042.56L472.5 1042.72L473.78 1042.94L475.05 1043.13L476.32 1043.21L477.59 1043.27L478.86 1043.29L480.14 1043.3L481.41 1043.28L482.68 1043.22L483.95 1043.09L485.22 1043.04L486.5 1043.03L487.77 1043.06L489.04 1043.03L490.31 1042.92L491.58 1042.68L492.86 1042.51L494.13 1042.44L495.4 1042.49L496.67 1042.6L497.94 1042.79L499.22 1043.07L500.49 1043.12L501.76 1043.09L503.03 1043.05L504.3 1043.07L505.58 1043.07L506.85 1043.05L508.12 1043.13L509.39 1043.18L510.66 1043.18L511.94 1043.12L513.21 1042.84L514.48 1042.74L515.75 1042.7L517.02 1042.75L518.3 1042.97L519.57 1043.13L520.84 1043.25L522.11 1043.25L523.38 1043.17L524.66 1043.1L525.93 1043.03L527.2 1042.97L528.47 1043.01L529.74 1043.06L531.02 1043.06L532.29 1043.14L533.56 1043.21L534.83 1043.21L536.1 1043.06L537.38 1042.81L538.65 1042.53L539.92 1042.36L541.19 1042.22L542.46 1042.06L543.74 1042.03L545.01 1042.11L546.28 1042.3L547.55 1042.45L548.82 1042.65L550.1 1043.11L551.37 1043.2L552.64 1043.16L553.91 1043.16L555.18 1043.16L556.46 1043.23L557.73 1043.3L559 1043.37L560.27 1043.39L561.54 1043.41L562.82 1043.35L564.09 1043.29L565.36 1043.19L566.63 1043.08L567.9 1042.93L569.18 1042.76L570.45 1042.71L571.72 1042.76L572.99 1042.88L574.26 1043.02L575.54 1043.17L576.81 1043.23L578.08 1043.22L579.35 1043.19L580.62 1043.18L581.9 1043.03L583.17 1042.95L584.44 1042.88L585.71 1042.86L586.98 1042.88L588.26 1043.03L589.53 1043.09L590.8 1043.07L592.07 1042.95L593.34 1042.92L594.62 1042.95L595.89 1042.92L597.16 1042.87L598.43 1042.84L599.7 1042.81L600.98 1042.79L602.25 1042.82L603.52 1042.99L604.79 1043.11L606.06 1043.17L607.34 1043.24L608.61 1043.29L609.88 1043.3L611.15 1043.29L612.42 1043.24L613.7 1043.17L614.97 1043.11L616.24 1043.09L617.51 1043.1L618.78 1043.15L620.06 1043.23L621.33 1043.2L622.6 1043.15L623.87 1043.08L625.14 1042.93L626.42 1042.92L627.69 1043L628.96 1043.05L630.23 1043.07L631.5 1043.01L632.78 1042.94L634.05 1042.87L635.32 1042.95L636.59 1043.04L637.86 1043.12L639.14 1043.14L640.41 1043.05L641.68 1042.91L642.95 1042.83L644.22 1042.81L645.5 1042.9L646.77 1043.06L648.04 1043.18L649.31 1043.09L650.58 1042.83L651.86 1042.72L653.13 1042.71L654.4 1042.76L655.67 1042.84L656.94 1042.92L658.22 1043.08L659.49 1043.11L660.76 1043.09L662.03 1043.04L663.3 1043.12L664.58 1043.12L665.85 1042.96L667.12 1042.96L668.39 1043.05L669.66 1043.05L670.94 1043.13L672.21 1043.24L673.48 1043.28L674.75 1043.24L676.02 1043.25L677.3 1043.19L678.57 1043.1L679.84 1043.08L681.11 1043.05L682.38 1043.02L683.66 1042.98L684.93 1043.01L686.2 1043.09L687.47 1043.13L688.74 1043.11L690.02 1043.14L691.29 1043.2L692.56 1043.22L693.83 1043.23L695.1 1043.26L696.38 1043.23L697.65 1043.18L698.92 1043.22L700.19 1043.22L701.46 1043.22L702.74 1043.22L704.01 1043.11L705.28 1043.03L706.55 1043.04L707.82 1042.7L709.1 1042.28L710.37 1042.2L711.64 1042.26L712.91 1042.29L714.18 1042.55L715.46 1043.14L716.73 1043.32L718 1043.34L719.27 1043.32L720.54 1043.34L721.82 1043.3L723.09 1043.29L724.36 1043.35L725.63 1043.39L726.9 1043.39L728.18 1043.35L729.45 1043.33L730.72 1043.3L731.99 1043.25L733.26 1043.21L734.54 1043.17L735.81 1043.14L737.08 1043.04L738.35 1042.95L739.62 1042.92L740.9 1042.91L742.17 1042.91L743.44 1042.95L744.71 1043.03L745.98 1043.11L747.26 1043.16L748.53 1043.22L749.8 1043.28L751.07 1043.34L752.34 1043.36L753.62 1043.39L754.89 1043.43L756.16 1043.41L757.43 1043.34L758.7 1043.26L759.98 1043.19L761.25 1043.01L762.52 1042.89L763.79 1042.9L765.06 1042.98L766.34 1043.04L767.61 1043.23L768.88 1043.26L770.15 1043.28L771.42 1043.29L772.7 1043.27L773.97 1043.23L775.24 1043.29L776.51 1043.31L777.78 1043.28L779.06 1043.31L780.33 1043.35L781.6 1043.32L782.87 1043.24L784.14 1043.2L785.42 1043.2L786.69 1043.23L787.96 1043.28L789.23 1043.29L790.5 1043.21L791.78 1043.14L793.05 1043.08L794.32 1043.08L795.59 1043.1L796.86 1043.13L798.14 1043.06L799.41 1043.04L800.68 1043.05L801.95 1043.13L803.22 1043.22L804.5 1043.29L805.77 1043.32L807.04 1043.26L808.31 1043.16L809.58 1043.11L810.86 1043.12L812.13 1043.13L813.4 1043.14L814.67 1043.2L815.94 1043.23L817.22 1043.19L818.49 1043.21L819.76 1043.27L821.03 1043.25L822.3 1043.22L823.58 1043.2L824.85 1043.2L826.12 1043.17L827.39 1043.13L828.66 1043.2L829.94 1043.24L831.21 1043.22L832.48 1043.14L833.75 1043.08L835.02 1043.04L836.3 1043.09L837.57 1043.18L838.84 1043.28L840.11 1043.29L841.38 1043.28L842.66 1043.23L843.93 1043.19L845.2 1043.19L846.47 1043.26L847.74 1043.37L849.02 1043.4L850.29 1043.34L851.56 1043.16L852.83 1043.05L854.1 1043.02L855.38 1043.04L856.65 1043.1L857.92 1043.24L859.19 1043.29L860.46 1043.27L861.74 1043.18L863.01 1043.1L864.28 1043.09L865.55 1043.12L866.82 1043.23L868.1 1043.32L869.37 1043.38L870.64 1043.38L871.91 1043.3L873.18 1043.27L874.46 1043.29L875.73 1043.25L877 1043.21L878.27 1043.23L879.54 1043.17L880.82 1043.11L882.09 1043.1L883.36 1043.14L884.63 1043.16L885.9 1043.19L887.18 1043.25L888.45 1043.31L889.72 1043.35L890.99 1043.37L892.26 1043.35L893.54 1043.31L894.81 1043.24L896.08 1043.13L897.35 1043.08L898.62 1043.07L899.9 1043.05L901.17 1042.99L902.44 1043.02L903.71 1043.07L904.98 1043.07L906.26 1043.09L907.53 1043.17L908.8 1043.24L910.07 1043.29L911.34 1043.32L912.62 1043.27L913.89 1043.22L915.16 1043.2L916.43 1043.19L917.7 1043.19L918.98 1043.21L920.25 1043.23L921.52 1043.19L922.79 1043.15L924.06 1043.14L925.34 1043.16L926.61 1043.19L927.88 1043.22L929.15 1043.24L930.42 1043.22L931.7 1043.11L932.97 1043.03L934.24 1042.99L935.51 1043.02L936.78 1043.09L938.06 1043.12L939.33 1043.14L940.6 1043.14L941.87 1043.11L943.14 1043.06L944.42 1043.05L945.69 1043.09L946.96 1043.1L948.23 1043.09L949.5 1043.09L950.78 1043.09L952.05 1043.06L953.32 1043.08L954.59 1043.11L955.86 1043.13L957.14 1043.09L958.41 1043.08L959.68 1043.1L960.95 1043.12L962.22 1043.17L963.5 1043.18L964.77 1043.14L966.04 1042.98L967.31 1042.9L968.58 1042.88L969.86 1042.89L971.13 1043.02L972.4 1043.17L973.67 1043.28L974.94 1043.25L976.22 1043.22L977.49 1043.19L978.76 1043.15L980.03 1043.14L981.3 1043.16L982.58 1043.18L983.85 1043.19L985.12 1043.2L986.39 1043.11L987.66 1043.06L988.94 1043.01L990.21 1042.95L991.48 1042.96L992.75 1042.98L994.02 1043L995.3 1043.07L996.57 1043.13L997.84 1043.09L999.11 1043.04L1000.38 1043.04L1001.66 1043.01L1002.93 1042.99L1004.2 1043.02L1005.47 1043.12L1006.74 1043.18L1008.02 1043.21L1009.29 1043.21L1010.56 1043.15L1011.83 1043.09L1013.1 1043.03L1014.38 1042.99L1015.65 1042.99L1016.92 1043.02L1018.19 1042.99L1019.46 1043L1020.74 1043.06L1022.01 1043.08L1023.28 1043.09L1024.55 1043.14L1025.82 1043.26L1027.1 1043.27L1028.37 1043.26L1029.64 1043.3L1030.91 1043.26L1032.18 1043.17L1033.46 1043.13L1034.73 1043.1L1036 1043.05L1037.27 1043.03L1038.54 1043.05L1039.82 1043.07L1041.09 1043.09L1042.36 1043.1L1043.63 1043.16L1044.9 1043.19L1046.18 1043.21L1047.45 1043.16L1048.72 1043.12L1049.99 1043.08L1051.26 1043.07L1052.54 1043.1L1053.81 1043.14L1055.08 1043.13L1056.35 1043.08L1057.62 1043.02L1058.9 1043L1060.17 1043.01L1061.44 1043.03L1062.71 1043.03L1063.98 1043.02L1065.26 1043.01L1066.53 1042.99L1067.8 1042.98L1069.07 1043.05L1070.34 1043.11L1071.62 1043.12L1072.89 1043.1L1074.16 1043.1L1075.43 1043.12L1076.7 1043.13L1077.98 1043.14L1079.25 1043.16L1080.52 1043.19L1081.79 1043.18L1083.06 1043.09L1084.34 1043.08L1085.61 1043.07L1086.88 1043.06L1088.15 1043.09L1089.42 1043.16L1090.7 1043.16L1091.97 1043.12L1093.24 1043.11L1094.51 1043.12L1095.78 1043.15L1097.06 1043.19L1098.33 1043.24L1099.6 1043.22L1100.87 1043.13L1102.14 1043.04L1103.42 1043.01L1104.69 1043L1105.96 1043.01L1107.23 1043.05L1108.5 1043.08L1109.78 1043.1L1111.05 1043.07L1112.32 1043.04L1113.59 1043.04L1114.86 1043.1L1116.14 1043.17L1117.41 1043.22L1118.68 1043.23L1119.95 1043.2L1121.22 1043.17L1122.5 1043.14L1123.77 1043.11L1125.04 1043.14L1126.31 1043.16L1127.58 1043.13L1128.86 1043.11L1130.13 1043.09L1131.4 1043.06L1132.67 1043.06L1133.94 1043.1L1135.22 1043.13L1136.49 1043.08L1137.76 1043.02L1139.03 1042.96L1140.3 1042.94L1141.58 1042.91L1142.85 1042.9L1144.12 1042.92L1145.39 1042.94L1146.66 1042.97L1147.94 1043.02L1149.21 1043.09L1150.48 1043.13L1151.75 1043.15L1153.02 1043.17L1154.3 1043.22L1155.57 1043.27L1156.84 1043.28L1158.11 1043.27L1159.38 1043.23L1160.66 1043.19L1161.93 1043.17L1163.2 1043.2L1164.47 1043.24L1165.74 1043.27L1167.02 1043.24L1168.29 1043.2L1169.56 1043.15L1170.83 1043.11L1172.1 1043.09L1173.38 1043.09L1174.65 1043.1L1175.92 1043.11L1177.19 1043.13L1178.46 1043.16L1179.74 1043.15L1181.01 1043.13L1182.28 1043.11L1183.55 1043.08L1184.82 1043.02L1186.1 1043.05L1187.37 1043.11L1188.64 1043.17L1189.91 1043.19L1191.18 1043.18L1192.46 1043.11L1193.73 1043.01L1195 1042.93L1196.27 1042.96L1197.54 1043.04L1198.82 1043.13L1200.09 1043.2L1201.36 1043.23L1202.63 1043.22L1203.9 1043.16L1205.18 1043.04L1206.45 1042.94L1207.72 1042.87L1208.99 1042.88L1210.26 1042.91L1211.54 1042.98L1212.81 1043.12L1214.08 1043.17L1215.35 1043.18L1216.62 1043.17L1217.9 1043.14L1219.17 1043.14L1220.44 1043.16L1221.71 1043.16L1222.98 1043.17L1224.26 1043.19L1225.53 1043.17L1226.8 1043.11L1228.07 1043.07L1229.34 1043.06L1230.62 1043.05L1231.89 1043.06L1233.16 1043.07L1234.43 1043.06L1235.7 1043.08L1236.98 1043.1L1238.25 1043.06L1239.52 1043.11L1240.79 1043.12L1242.06 1043.09L1243.34 1043.06L1244.61 1043.02L1245.88 1042.99L1247.15 1043.02L1248.42 1043.05L1249.7 1043.05L1250.97 1043.04L1252.24 1043.04L1253.51 1043.05L1254.78 1043.07L1256.06 1043.09L1257.33 1043.09L1258.6 1043.09L1259.87 1043.07L1261.14 1043.01L1262.42 1043.01L1263.69 1043.04L1264.96 1043.05L1266.23 1043.05L1267.5 1043.09L1268.78 1043.12L1270.05 1043.07L1271.32 1042.95L1272.59 1042.94L1273.86 1042.91L1275.14 1042.93L1276.41 1042.99L1277.68 1043.08L1278.95 1043.15L1280.22 1043.19L1281.5 1043.15L1282.77 1043.13L1284.04 1043.11L1285.31 1043.06L1286.58 1043.03L1287.86 1043.03L1289.13 1043.06L1290.4 1043.07L1291.67 1043.05L1292.94 1043.01L1294.22 1043.01L1295.49 1043.06L1296.76 1043.03L1298.03 1042.95L1299.3 1042.83L1300.58 1042.81L1301.85 1042.83L1303.12 1042.93L1304.39 1043L1305.66 1043.12L1306.94 1043.25L1308.21 1043.25L1309.48 1043.23L1310.75 1043.25L1312.02 1043.31L1313.3 1043.34L1314.57 1043.37L1315.84 1043.32L1317.11 1043.22L1318.38 1043.02L1319.66 1042.87L1320.93 1042.85L1322.2 1042.92L1323.47 1043.05L1324.74 1043.05L1326.02 1042.96L1327.29 1042.9L1328.56 1042.74L1329.83 1042.46L1331.1 1042.41L1332.38 1042.5L1333.65 1042.46L1334.92 1042.46L1336.19 1042.69L1337.46 1042.95L1338.74 1043.11L1340.01 1043.27L1341.28 1043.3L1342.55 1043.24L1343.82 1043.05L1345.1 1042.9L1346.37 1042.85" stroke="#EFB21C" stroke-width="3.3" fill="none" stroke-linejoin="round"/>
</g>
<circle cx="710.6" cy="30.6" r="6.6" fill="#ff0000"/>
<circle cx="710.6" cy="293.4" r="6.6" fill="#0000ff"/>
<circle cx="312.4" cy="621.1" r="6.2" fill="#ffff00" stroke="#000" stroke-width="1.2"/>
<circle cx="125.5" cy="806.6" r="6.2" fill="#D95319" stroke="#000" stroke-width="1.2"/>
<circle cx="125.5" cy="1041.6" r="6.2" fill="#EDB120" stroke="#000" stroke-width="1.2"/>
<circle cx="709.5" cy="1040.4" r="6.2" fill="#0072BD" stroke="#000" stroke-width="1.2"/>
<text transform="translate(82 319.8) scale(0.99 1.075)" font-size="20" fill="#303030" text-anchor="middle">0</text>
<text transform="translate(209.2 319.8) scale(0.99 1.075)" font-size="20" fill="#303030" text-anchor="middle">5</text>
<text transform="translate(336.4 319.8) scale(0.99 1.075)" font-size="20" fill="#303030" text-anchor="middle">10</text>
<text transform="translate(463.6 319.8) scale(0.99 1.075)" font-size="20" fill="#303030" text-anchor="middle">15</text>
<text transform="translate(590.8 319.8) scale(0.99 1.075)" font-size="20" fill="#303030" text-anchor="middle">20</text>
<text transform="translate(718 319.8) scale(0.99 1.075)" font-size="20" fill="#303030" text-anchor="middle">25</text>
<text transform="translate(845.2 319.8) scale(0.99 1.075)" font-size="20" fill="#303030" text-anchor="middle">30</text>
<text transform="translate(972.4 319.8) scale(0.99 1.075)" font-size="20" fill="#303030" text-anchor="middle">35</text>
<text transform="translate(1099.6 319.8) scale(0.99 1.075)" font-size="20" fill="#303030" text-anchor="middle">40</text>
<text transform="translate(1226.8 319.8) scale(0.99 1.075)" font-size="20" fill="#303030" text-anchor="middle">45</text>
<text transform="translate(1354 319.8) scale(0.99 1.075)" font-size="20" fill="#303030" text-anchor="middle">50</text>
<text transform="translate(75 302) scale(0.99 1.075)" font-size="20" fill="#303030" text-anchor="end">-0.02</text>
<text transform="translate(75 257.17) scale(0.99 1.075)" font-size="20" fill="#303030" text-anchor="end">-0.01</text>
<text transform="translate(75 212.33) scale(0.99 1.075)" font-size="20" fill="#303030" text-anchor="end">0</text>
<text transform="translate(75 167.5) scale(0.99 1.075)" font-size="20" fill="#303030" text-anchor="end">0.01</text>
<text transform="translate(75 122.67) scale(0.99 1.075)" font-size="20" fill="#303030" text-anchor="end">0.02</text>
<text transform="translate(75 77.83) scale(0.99 1.075)" font-size="20" fill="#303030" text-anchor="end">0.03</text>
<text transform="translate(75 33) scale(0.99 1.075)" font-size="20" fill="#303030" text-anchor="end">0.04</text>
<text transform="translate(718.5 17.9) scale(0.994 1.04)" font-size="22" fill="#303030" text-anchor="middle">Filtered sEMG (Unknown Muscle, rest)</text>
<text transform="translate(718 345.8) scale(0.994 1.04)" font-size="22" fill="#303030" text-anchor="middle">Time (s)</text>
<text transform="translate(19.1 160.5) rotate(-90) scale(0.996 1.035)" font-size="22" fill="#303030" text-anchor="middle">Amplitude</text>
<text transform="translate(82 694.8) scale(0.99 1.075)" font-size="20" fill="#303030" text-anchor="middle">0</text>
<text transform="translate(209.2 694.8) scale(0.99 1.075)" font-size="20" fill="#303030" text-anchor="middle">5</text>
<text transform="translate(336.4 694.8) scale(0.99 1.075)" font-size="20" fill="#303030" text-anchor="middle">10</text>
<text transform="translate(463.6 694.8) scale(0.99 1.075)" font-size="20" fill="#303030" text-anchor="middle">15</text>
<text transform="translate(590.8 694.8) scale(0.99 1.075)" font-size="20" fill="#303030" text-anchor="middle">20</text>
<text transform="translate(718 694.8) scale(0.99 1.075)" font-size="20" fill="#303030" text-anchor="middle">25</text>
<text transform="translate(845.2 694.8) scale(0.99 1.075)" font-size="20" fill="#303030" text-anchor="middle">30</text>
<text transform="translate(972.4 694.8) scale(0.99 1.075)" font-size="20" fill="#303030" text-anchor="middle">35</text>
<text transform="translate(1099.6 694.8) scale(0.99 1.075)" font-size="20" fill="#303030" text-anchor="middle">40</text>
<text transform="translate(1226.8 694.8) scale(0.99 1.075)" font-size="20" fill="#303030" text-anchor="middle">45</text>
<text transform="translate(1354 694.8) scale(0.99 1.075)" font-size="20" fill="#303030" text-anchor="middle">50</text>
<text transform="translate(75 677) scale(0.99 1.075)" font-size="20" fill="#303030" text-anchor="end">0</text>
<text transform="translate(75 609.5) scale(0.99 1.075)" font-size="20" fill="#303030" text-anchor="end">0.01</text>
<text transform="translate(75 542) scale(0.99 1.075)" font-size="20" fill="#303030" text-anchor="end">0.02</text>
<text transform="translate(75 474.5) scale(0.99 1.075)" font-size="20" fill="#303030" text-anchor="end">0.03</text>
<text transform="translate(75 407) scale(0.99 1.075)" font-size="20" fill="#303030" text-anchor="end">0.04</text>
<text transform="translate(718.5 391.9) scale(0.994 1.04)" font-size="22" fill="#303030" text-anchor="middle">Rectified Signal + Envelope</text>
<text transform="translate(718 720.8) scale(0.994 1.04)" font-size="22" fill="#303030" text-anchor="middle">Time (s)</text>
<text transform="translate(25.9 535) rotate(-90) scale(0.996 1.035)" font-size="22" fill="#303030" text-anchor="middle">Amplitude</text>
<text transform="translate(82 1068.8) scale(0.99 1.075)" font-size="20" fill="#303030" text-anchor="middle">0</text>
<text transform="translate(209.2 1068.8) scale(0.99 1.075)" font-size="20" fill="#303030" text-anchor="middle">5</text>
<text transform="translate(336.4 1068.8) scale(0.99 1.075)" font-size="20" fill="#303030" text-anchor="middle">10</text>
<text transform="translate(463.6 1068.8) scale(0.99 1.075)" font-size="20" fill="#303030" text-anchor="middle">15</text>
<text transform="translate(590.8 1068.8) scale(0.99 1.075)" font-size="20" fill="#303030" text-anchor="middle">20</text>
<text transform="translate(718 1068.8) scale(0.99 1.075)" font-size="20" fill="#303030" text-anchor="middle">25</text>
<text transform="translate(845.2 1068.8) scale(0.99 1.075)" font-size="20" fill="#303030" text-anchor="middle">30</text>
<text transform="translate(972.4 1068.8) scale(0.99 1.075)" font-size="20" fill="#303030" text-anchor="middle">35</text>
<text transform="translate(1099.6 1068.8) scale(0.99 1.075)" font-size="20" fill="#303030" text-anchor="middle">40</text>
<text transform="translate(1226.8 1068.8) scale(0.99 1.075)" font-size="20" fill="#303030" text-anchor="middle">45</text>
<text transform="translate(1354 1068.8) scale(0.99 1.075)" font-size="20" fill="#303030" text-anchor="middle">50</text>
<text transform="translate(75 1051) scale(0.99 1.075)" font-size="20" fill="#303030" text-anchor="end">0</text>
<text transform="translate(75 1006.17) scale(0.99 1.075)" font-size="20" fill="#303030" text-anchor="end">0.1</text>
<text transform="translate(75 961.33) scale(0.99 1.075)" font-size="20" fill="#303030" text-anchor="end">0.2</text>
<text transform="translate(75 916.5) scale(0.99 1.075)" font-size="20" fill="#303030" text-anchor="end">0.3</text>
<text transform="translate(75 871.67) scale(0.99 1.075)" font-size="20" fill="#303030" text-anchor="end">0.4</text>
<text transform="translate(75 826.83) scale(0.99 1.075)" font-size="20" fill="#303030" text-anchor="end">0.5</text>
<text transform="translate(75 782) scale(0.99 1.075)" font-size="20" fill="#303030" text-anchor="end">0.6</text>
<text transform="translate(718.5 766.9) scale(0.994 1.04)" font-size="22" fill="#303030" text-anchor="middle">EMG Features (RMS / iEMG / MAV)</text>
<text transform="translate(718 1094.8) scale(0.994 1.04)" font-size="22" fill="#303030" text-anchor="middle">Time (s)</text>
<text transform="translate(37.1 909.5) rotate(-90) scale(0.996 1.035)" font-size="22" fill="#303030" text-anchor="middle">Feature Value</text>
<text transform="translate(722.7 24.8) scale(1 1)" font-size="20.9" fill="#ff0000" text-anchor="start">Max = 0.039</text>
<text transform="translate(722.7 310.7) scale(1 1)" font-size="20.9" fill="#0000ff" text-anchor="start">Min = -0.020</text>
<text transform="translate(137.4 801.9) scale(1 1)" font-size="20.9" fill="#D95319" text-anchor="start">iEMG Max = 0.529</text>
<text transform="translate(137.1 1036.9) scale(1 1)" font-size="20.9" fill="#EDB120" text-anchor="start">MAV Max = 0.005</text>
<text transform="translate(721.5 1036) scale(1 1)" font-size="20.9" fill="#0072BD" text-anchor="start">RMS Max = 0.007</text>
<rect x="1134" y="415" width="203" height="47" fill="#fff" stroke="#262626" stroke-width="1"/>
<path d="M1140.2 427.8H1202.5" stroke="#0000ff" stroke-width="1"/>
<path d="M1140.2 448.5H1202.5" stroke="#ff0000" stroke-width="3"/>
<text transform="translate(1206.6 433.6) scale(0.992 1.05)" font-size="18" fill="#303030" text-anchor="start">Rectified Signal</text>
<text transform="translate(1206.6 454.7) scale(0.992 1.05)" font-size="18" fill="#303030" text-anchor="start">Envelope</text>
<rect x="1213" y="790" width="124" height="68" fill="#fff" stroke="#262626" stroke-width="1"/>
<path d="M1219.3 803.1H1281.1" stroke="#0072BD" stroke-width="3.3"/>
<text transform="translate(1285.9 808.7) scale(1 1.05)" font-size="18" fill="#303030" text-anchor="start">RMS</text>
<path d="M1219.3 824H1281.1" stroke="#DF5500" stroke-width="3.3"/>
<text transform="translate(1285.9 829.7) scale(1 1.05)" font-size="18" fill="#303030" text-anchor="start">iEMG</text>
<path d="M1219.3 844.6H1281.1" stroke="#EFB21C" stroke-width="3.3"/>
<text transform="translate(1285.9 850.6) scale(1 1.05)" font-size="18" fill="#303030" text-anchor="start">MAV</text>
</svg>
</body></html>
